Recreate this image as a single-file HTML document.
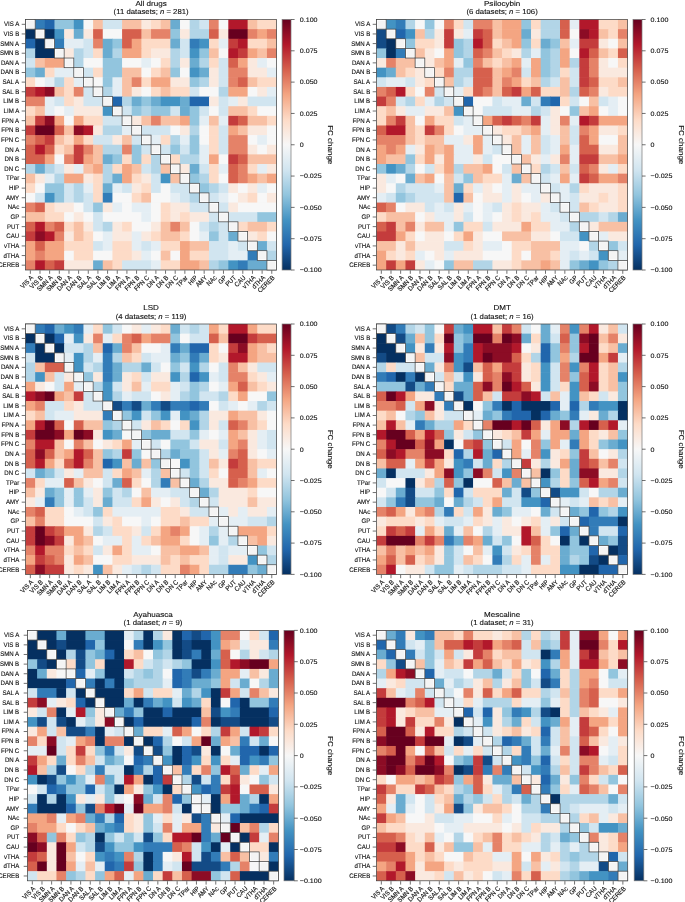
<!DOCTYPE html><html><head><meta charset="utf-8"><title>FC change</title><style>html,body{margin:0;padding:0;background:#fff}svg{display:block}text{text-rendering:geometricPrecision;font-family:"Liberation Sans","DejaVu Sans",sans-serif;fill:#111;stroke:#111;stroke-width:0.12px}.t{font-size:7.2px;text-anchor:middle}.u{font-size:7.2px;text-anchor:middle}.y{font-size:6.6px;text-anchor:end}.x{font-size:6.6px;text-anchor:end}.c{font-size:6.5px}.l{font-size:7.2px;text-anchor:middle}</style></head><body>
<svg width="685" height="902" viewBox="0 0 685 902">
<defs><linearGradient id="g" x1="0" y1="0" x2="0" y2="1">
<stop offset="0" stop-color="#67001f"/>
<stop offset="0.1" stop-color="#b2182b"/>
<stop offset="0.2" stop-color="#d6604d"/>
<stop offset="0.3" stop-color="#f4a582"/>
<stop offset="0.4" stop-color="#fddbc7"/>
<stop offset="0.5" stop-color="#f7f7f7"/>
<stop offset="0.6" stop-color="#d1e5f0"/>
<stop offset="0.7" stop-color="#92c5de"/>
<stop offset="0.8" stop-color="#4393c3"/>
<stop offset="0.9" stop-color="#2166ac"/>
<stop offset="1" stop-color="#053061"/>
</linearGradient></defs>
<rect width="685" height="902" fill="#fff"/>
<g>
<text class="t" transform="translate(151.1 5.9) scale(1.12 1)">All drugs</text>
<text class="u" transform="translate(151.1 14.2) scale(1.077 1)">(11 datasets; <tspan font-style="italic">n</tspan> = 281)</text>
<rect x="35.16" y="19.50" width="10.26" height="10.23" fill="#327cb8"/>
<rect x="44.82" y="19.50" width="10.26" height="10.23" fill="#2166ac"/>
<rect x="54.47" y="19.50" width="19.92" height="10.23" fill="#92c5de"/>
<rect x="73.79" y="19.50" width="10.26" height="10.23" fill="#4393c3"/>
<rect x="83.45" y="19.50" width="10.26" height="10.23" fill="#f7f7f7"/>
<rect x="93.10" y="19.50" width="10.26" height="10.23" fill="#f8c0a4"/>
<rect x="102.76" y="19.50" width="19.92" height="10.23" fill="#d1e5f0"/>
<rect x="122.08" y="19.50" width="19.92" height="10.23" fill="#f8c0a4"/>
<rect x="141.39" y="19.50" width="10.26" height="10.23" fill="#fae9df"/>
<rect x="151.05" y="19.50" width="10.26" height="10.23" fill="#fddbc7"/>
<rect x="160.71" y="19.50" width="10.26" height="10.23" fill="#f8c0a4"/>
<rect x="170.37" y="19.50" width="10.26" height="10.23" fill="#6aacd0"/>
<rect x="180.02" y="19.50" width="10.26" height="10.23" fill="#f7f7f7"/>
<rect x="189.68" y="19.50" width="10.26" height="10.23" fill="#b2d5e7"/>
<rect x="199.34" y="19.50" width="10.26" height="10.23" fill="#d1e5f0"/>
<rect x="209.00" y="19.50" width="10.26" height="10.23" fill="#e58268"/>
<rect x="218.65" y="19.50" width="10.26" height="10.23" fill="#f7f7f7"/>
<rect x="228.31" y="19.50" width="19.92" height="10.23" fill="#b2182b"/>
<rect x="247.63" y="19.50" width="10.26" height="10.23" fill="#f8c0a4"/>
<rect x="257.28" y="19.50" width="19.32" height="10.23" fill="#fddbc7"/>
<rect x="25.50" y="29.13" width="10.26" height="10.23" fill="#053061"/>
<rect x="44.82" y="29.13" width="10.26" height="10.23" fill="#053061"/>
<rect x="54.47" y="29.13" width="10.26" height="10.23" fill="#4393c3"/>
<rect x="64.13" y="29.13" width="10.26" height="10.23" fill="#fae9df"/>
<rect x="73.79" y="29.13" width="10.26" height="10.23" fill="#6aacd0"/>
<rect x="83.45" y="29.13" width="10.26" height="10.23" fill="#fae9df"/>
<rect x="93.10" y="29.13" width="10.26" height="10.23" fill="#d6604d"/>
<rect x="102.76" y="29.13" width="19.92" height="10.23" fill="#f7f7f7"/>
<rect x="122.08" y="29.13" width="19.92" height="10.23" fill="#d6604d"/>
<rect x="141.39" y="29.13" width="10.26" height="10.23" fill="#f8c0a4"/>
<rect x="151.05" y="29.13" width="19.92" height="10.23" fill="#e58268"/>
<rect x="170.37" y="29.13" width="10.26" height="10.23" fill="#92c5de"/>
<rect x="180.02" y="29.13" width="10.26" height="10.23" fill="#fae9df"/>
<rect x="189.68" y="29.13" width="19.92" height="10.23" fill="#b2d5e7"/>
<rect x="209.00" y="29.13" width="10.26" height="10.23" fill="#d6604d"/>
<rect x="218.65" y="29.13" width="10.26" height="10.23" fill="#fae9df"/>
<rect x="228.31" y="29.13" width="19.92" height="10.23" fill="#67001f"/>
<rect x="247.63" y="29.13" width="10.26" height="10.23" fill="#e58268"/>
<rect x="257.28" y="29.13" width="10.26" height="10.23" fill="#f4a582"/>
<rect x="266.94" y="29.13" width="9.66" height="10.23" fill="#e58268"/>
<rect x="25.50" y="38.77" width="10.26" height="10.23" fill="#2166ac"/>
<rect x="35.16" y="38.77" width="10.26" height="10.23" fill="#053061"/>
<rect x="54.47" y="38.77" width="10.26" height="10.23" fill="#327cb8"/>
<rect x="64.13" y="38.77" width="19.92" height="10.23" fill="#e4eef4"/>
<rect x="83.45" y="38.77" width="10.26" height="10.23" fill="#d1e5f0"/>
<rect x="93.10" y="38.77" width="10.26" height="10.23" fill="#e58268"/>
<rect x="102.76" y="38.77" width="10.26" height="10.23" fill="#6aacd0"/>
<rect x="112.42" y="38.77" width="10.26" height="10.23" fill="#92c5de"/>
<rect x="122.08" y="38.77" width="10.26" height="10.23" fill="#d6604d"/>
<rect x="131.73" y="38.77" width="10.26" height="10.23" fill="#f4a582"/>
<rect x="141.39" y="38.77" width="29.57" height="10.23" fill="#fddbc7"/>
<rect x="170.37" y="38.77" width="10.26" height="10.23" fill="#6aacd0"/>
<rect x="180.02" y="38.77" width="10.26" height="10.23" fill="#d1e5f0"/>
<rect x="189.68" y="38.77" width="10.26" height="10.23" fill="#327cb8"/>
<rect x="199.34" y="38.77" width="10.26" height="10.23" fill="#4393c3"/>
<rect x="209.00" y="38.77" width="10.26" height="10.23" fill="#fddbc7"/>
<rect x="218.65" y="38.77" width="10.26" height="10.23" fill="#e4eef4"/>
<rect x="228.31" y="38.77" width="10.26" height="10.23" fill="#c43c3c"/>
<rect x="237.97" y="38.77" width="10.26" height="10.23" fill="#b2182b"/>
<rect x="247.63" y="38.77" width="19.92" height="10.23" fill="#fddbc7"/>
<rect x="266.94" y="38.77" width="9.66" height="10.23" fill="#f8c0a4"/>
<rect x="25.50" y="48.40" width="10.26" height="10.23" fill="#b2d5e7"/>
<rect x="35.16" y="48.40" width="19.92" height="10.23" fill="#053061"/>
<rect x="64.13" y="48.40" width="10.26" height="10.23" fill="#fae9df"/>
<rect x="73.79" y="48.40" width="10.26" height="10.23" fill="#b2d5e7"/>
<rect x="83.45" y="48.40" width="10.26" height="10.23" fill="#d1e5f0"/>
<rect x="93.10" y="48.40" width="10.26" height="10.23" fill="#fddbc7"/>
<rect x="102.76" y="48.40" width="10.26" height="10.23" fill="#6aacd0"/>
<rect x="112.42" y="48.40" width="10.26" height="10.23" fill="#b2d5e7"/>
<rect x="122.08" y="48.40" width="19.92" height="10.23" fill="#f4a582"/>
<rect x="141.39" y="48.40" width="10.26" height="10.23" fill="#fddbc7"/>
<rect x="151.05" y="48.40" width="19.92" height="10.23" fill="#fae9df"/>
<rect x="170.37" y="48.40" width="10.26" height="10.23" fill="#b2d5e7"/>
<rect x="180.02" y="48.40" width="10.26" height="10.23" fill="#d1e5f0"/>
<rect x="189.68" y="48.40" width="10.26" height="10.23" fill="#4393c3"/>
<rect x="199.34" y="48.40" width="10.26" height="10.23" fill="#92c5de"/>
<rect x="209.00" y="48.40" width="10.26" height="10.23" fill="#f8c0a4"/>
<rect x="218.65" y="48.40" width="10.26" height="10.23" fill="#f7f7f7"/>
<rect x="228.31" y="48.40" width="10.26" height="10.23" fill="#b2182b"/>
<rect x="237.97" y="48.40" width="10.26" height="10.23" fill="#c43c3c"/>
<rect x="247.63" y="48.40" width="10.26" height="10.23" fill="#f4a582"/>
<rect x="257.28" y="48.40" width="10.26" height="10.23" fill="#f8c0a4"/>
<rect x="266.94" y="48.40" width="9.66" height="10.23" fill="#e58268"/>
<rect x="25.50" y="58.04" width="10.26" height="10.23" fill="#d1e5f0"/>
<rect x="35.16" y="58.04" width="10.26" height="10.23" fill="#f8c0a4"/>
<rect x="44.82" y="58.04" width="19.92" height="10.23" fill="#f4a582"/>
<rect x="73.79" y="58.04" width="10.26" height="10.23" fill="#b2d5e7"/>
<rect x="83.45" y="58.04" width="19.92" height="10.23" fill="#f7f7f7"/>
<rect x="102.76" y="58.04" width="19.92" height="10.23" fill="#92c5de"/>
<rect x="122.08" y="58.04" width="19.92" height="10.23" fill="#f7f7f7"/>
<rect x="141.39" y="58.04" width="10.26" height="10.23" fill="#e4eef4"/>
<rect x="151.05" y="58.04" width="10.26" height="10.23" fill="#f7f7f7"/>
<rect x="160.71" y="58.04" width="10.26" height="10.23" fill="#fddbc7"/>
<rect x="170.37" y="58.04" width="10.26" height="10.23" fill="#b2d5e7"/>
<rect x="180.02" y="58.04" width="10.26" height="10.23" fill="#fae9df"/>
<rect x="189.68" y="58.04" width="10.26" height="10.23" fill="#6aacd0"/>
<rect x="199.34" y="58.04" width="10.26" height="10.23" fill="#b2d5e7"/>
<rect x="209.00" y="58.04" width="10.26" height="10.23" fill="#fddbc7"/>
<rect x="218.65" y="58.04" width="10.26" height="10.23" fill="#d1e5f0"/>
<rect x="228.31" y="58.04" width="10.26" height="10.23" fill="#d6604d"/>
<rect x="237.97" y="58.04" width="10.26" height="10.23" fill="#f4a582"/>
<rect x="247.63" y="58.04" width="10.26" height="10.23" fill="#fae9df"/>
<rect x="257.28" y="58.04" width="10.26" height="10.23" fill="#e4eef4"/>
<rect x="266.94" y="58.04" width="9.66" height="10.23" fill="#f7f7f7"/>
<rect x="25.50" y="67.67" width="10.26" height="10.23" fill="#92c5de"/>
<rect x="35.16" y="67.67" width="10.26" height="10.23" fill="#6aacd0"/>
<rect x="44.82" y="67.67" width="10.26" height="10.23" fill="#fddbc7"/>
<rect x="54.47" y="67.67" width="19.92" height="10.23" fill="#e4eef4"/>
<rect x="83.45" y="67.67" width="10.26" height="10.23" fill="#d1e5f0"/>
<rect x="93.10" y="67.67" width="10.26" height="10.23" fill="#fddbc7"/>
<rect x="102.76" y="67.67" width="19.92" height="10.23" fill="#92c5de"/>
<rect x="122.08" y="67.67" width="19.92" height="10.23" fill="#f8c0a4"/>
<rect x="141.39" y="67.67" width="10.26" height="10.23" fill="#f7f7f7"/>
<rect x="151.05" y="67.67" width="10.26" height="10.23" fill="#fddbc7"/>
<rect x="160.71" y="67.67" width="10.26" height="10.23" fill="#f8c0a4"/>
<rect x="170.37" y="67.67" width="10.26" height="10.23" fill="#92c5de"/>
<rect x="180.02" y="67.67" width="10.26" height="10.23" fill="#f7f7f7"/>
<rect x="189.68" y="67.67" width="10.26" height="10.23" fill="#4393c3"/>
<rect x="199.34" y="67.67" width="10.26" height="10.23" fill="#6aacd0"/>
<rect x="209.00" y="67.67" width="10.26" height="10.23" fill="#fae9df"/>
<rect x="218.65" y="67.67" width="10.26" height="10.23" fill="#d1e5f0"/>
<rect x="228.31" y="67.67" width="19.92" height="10.23" fill="#e58268"/>
<rect x="247.63" y="67.67" width="19.92" height="10.23" fill="#fae9df"/>
<rect x="266.94" y="67.67" width="9.66" height="10.23" fill="#e4eef4"/>
<rect x="25.50" y="77.31" width="10.26" height="10.23" fill="#fddbc7"/>
<rect x="35.16" y="77.31" width="10.26" height="10.23" fill="#f7f7f7"/>
<rect x="44.82" y="77.31" width="10.26" height="10.23" fill="#e4eef4"/>
<rect x="54.47" y="77.31" width="10.26" height="10.23" fill="#b2d5e7"/>
<rect x="64.13" y="77.31" width="10.26" height="10.23" fill="#fddbc7"/>
<rect x="73.79" y="77.31" width="10.26" height="10.23" fill="#e4eef4"/>
<rect x="93.10" y="77.31" width="10.26" height="10.23" fill="#f7f7f7"/>
<rect x="102.76" y="77.31" width="10.26" height="10.23" fill="#92c5de"/>
<rect x="112.42" y="77.31" width="10.26" height="10.23" fill="#e4eef4"/>
<rect x="122.08" y="77.31" width="10.26" height="10.23" fill="#f8c0a4"/>
<rect x="131.73" y="77.31" width="10.26" height="10.23" fill="#e58268"/>
<rect x="141.39" y="77.31" width="10.26" height="10.23" fill="#fddbc7"/>
<rect x="151.05" y="77.31" width="19.92" height="10.23" fill="#f4a582"/>
<rect x="170.37" y="77.31" width="19.92" height="10.23" fill="#fae9df"/>
<rect x="189.68" y="77.31" width="10.26" height="10.23" fill="#92c5de"/>
<rect x="199.34" y="77.31" width="10.26" height="10.23" fill="#b2d5e7"/>
<rect x="209.00" y="77.31" width="10.26" height="10.23" fill="#fae9df"/>
<rect x="218.65" y="77.31" width="10.26" height="10.23" fill="#d1e5f0"/>
<rect x="228.31" y="77.31" width="10.26" height="10.23" fill="#e58268"/>
<rect x="237.97" y="77.31" width="10.26" height="10.23" fill="#d6604d"/>
<rect x="247.63" y="77.31" width="10.26" height="10.23" fill="#f8c0a4"/>
<rect x="257.28" y="77.31" width="19.32" height="10.23" fill="#fddbc7"/>
<rect x="25.50" y="86.94" width="10.26" height="10.23" fill="#c43c3c"/>
<rect x="35.16" y="86.94" width="10.26" height="10.23" fill="#b2182b"/>
<rect x="44.82" y="86.94" width="10.26" height="10.23" fill="#8c0c25"/>
<rect x="54.47" y="86.94" width="10.26" height="10.23" fill="#f8c0a4"/>
<rect x="64.13" y="86.94" width="10.26" height="10.23" fill="#fddbc7"/>
<rect x="73.79" y="86.94" width="10.26" height="10.23" fill="#e58268"/>
<rect x="83.45" y="86.94" width="10.26" height="10.23" fill="#d1e5f0"/>
<rect x="102.76" y="86.94" width="10.26" height="10.23" fill="#b2d5e7"/>
<rect x="112.42" y="86.94" width="10.26" height="10.23" fill="#e4eef4"/>
<rect x="122.08" y="86.94" width="10.26" height="10.23" fill="#f8c0a4"/>
<rect x="131.73" y="86.94" width="10.26" height="10.23" fill="#fae9df"/>
<rect x="141.39" y="86.94" width="10.26" height="10.23" fill="#f7f7f7"/>
<rect x="151.05" y="86.94" width="10.26" height="10.23" fill="#fddbc7"/>
<rect x="160.71" y="86.94" width="10.26" height="10.23" fill="#f8c0a4"/>
<rect x="170.37" y="86.94" width="19.92" height="10.23" fill="#fddbc7"/>
<rect x="189.68" y="86.94" width="10.26" height="10.23" fill="#d1e5f0"/>
<rect x="199.34" y="86.94" width="19.92" height="10.23" fill="#f7f7f7"/>
<rect x="218.65" y="86.94" width="10.26" height="10.23" fill="#b2d5e7"/>
<rect x="228.31" y="86.94" width="19.92" height="10.23" fill="#f4a582"/>
<rect x="247.63" y="86.94" width="10.26" height="10.23" fill="#f7f7f7"/>
<rect x="257.28" y="86.94" width="10.26" height="10.23" fill="#fae9df"/>
<rect x="266.94" y="86.94" width="9.66" height="10.23" fill="#e4eef4"/>
<rect x="25.50" y="96.58" width="19.92" height="10.23" fill="#e58268"/>
<rect x="44.82" y="96.58" width="10.26" height="10.23" fill="#e4eef4"/>
<rect x="54.47" y="96.58" width="10.26" height="10.23" fill="#d1e5f0"/>
<rect x="64.13" y="96.58" width="10.26" height="10.23" fill="#fddbc7"/>
<rect x="73.79" y="96.58" width="10.26" height="10.23" fill="#fae9df"/>
<rect x="83.45" y="96.58" width="19.92" height="10.23" fill="#d1e5f0"/>
<rect x="112.42" y="96.58" width="10.26" height="10.23" fill="#2166ac"/>
<rect x="122.08" y="96.58" width="10.26" height="10.23" fill="#b2d5e7"/>
<rect x="131.73" y="96.58" width="10.26" height="10.23" fill="#6aacd0"/>
<rect x="141.39" y="96.58" width="10.26" height="10.23" fill="#92c5de"/>
<rect x="151.05" y="96.58" width="10.26" height="10.23" fill="#6aacd0"/>
<rect x="160.71" y="96.58" width="19.92" height="10.23" fill="#4393c3"/>
<rect x="180.02" y="96.58" width="10.26" height="10.23" fill="#6aacd0"/>
<rect x="189.68" y="96.58" width="19.92" height="10.23" fill="#2166ac"/>
<rect x="209.00" y="96.58" width="10.26" height="10.23" fill="#fae9df"/>
<rect x="218.65" y="96.58" width="10.26" height="10.23" fill="#d1e5f0"/>
<rect x="228.31" y="96.58" width="10.26" height="10.23" fill="#e4eef4"/>
<rect x="237.97" y="96.58" width="10.26" height="10.23" fill="#fae9df"/>
<rect x="247.63" y="96.58" width="28.97" height="10.23" fill="#d1e5f0"/>
<rect x="25.50" y="106.21" width="10.26" height="10.23" fill="#fddbc7"/>
<rect x="35.16" y="106.21" width="10.26" height="10.23" fill="#f8c0a4"/>
<rect x="44.82" y="106.21" width="10.26" height="10.23" fill="#e4eef4"/>
<rect x="54.47" y="106.21" width="10.26" height="10.23" fill="#f7f7f7"/>
<rect x="64.13" y="106.21" width="10.26" height="10.23" fill="#e4eef4"/>
<rect x="73.79" y="106.21" width="29.57" height="10.23" fill="#fae9df"/>
<rect x="102.76" y="106.21" width="10.26" height="10.23" fill="#4393c3"/>
<rect x="122.08" y="106.21" width="10.26" height="10.23" fill="#d1e5f0"/>
<rect x="131.73" y="106.21" width="10.26" height="10.23" fill="#92c5de"/>
<rect x="141.39" y="106.21" width="10.26" height="10.23" fill="#b2d5e7"/>
<rect x="151.05" y="106.21" width="19.92" height="10.23" fill="#92c5de"/>
<rect x="170.37" y="106.21" width="10.26" height="10.23" fill="#d1e5f0"/>
<rect x="180.02" y="106.21" width="10.26" height="10.23" fill="#6aacd0"/>
<rect x="189.68" y="106.21" width="10.26" height="10.23" fill="#92c5de"/>
<rect x="199.34" y="106.21" width="10.26" height="10.23" fill="#d1e5f0"/>
<rect x="209.00" y="106.21" width="10.26" height="10.23" fill="#f7f7f7"/>
<rect x="218.65" y="106.21" width="10.26" height="10.23" fill="#d1e5f0"/>
<rect x="228.31" y="106.21" width="19.92" height="10.23" fill="#f8c0a4"/>
<rect x="247.63" y="106.21" width="10.26" height="10.23" fill="#fddbc7"/>
<rect x="257.28" y="106.21" width="19.32" height="10.23" fill="#f7f7f7"/>
<rect x="25.50" y="115.85" width="10.26" height="10.23" fill="#f8c0a4"/>
<rect x="35.16" y="115.85" width="10.26" height="10.23" fill="#c43c3c"/>
<rect x="44.82" y="115.85" width="10.26" height="10.23" fill="#8c0c25"/>
<rect x="54.47" y="115.85" width="10.26" height="10.23" fill="#f4a582"/>
<rect x="64.13" y="115.85" width="10.26" height="10.23" fill="#f7f7f7"/>
<rect x="73.79" y="115.85" width="10.26" height="10.23" fill="#f4a582"/>
<rect x="83.45" y="115.85" width="19.92" height="10.23" fill="#fddbc7"/>
<rect x="102.76" y="115.85" width="19.92" height="10.23" fill="#d1e5f0"/>
<rect x="131.73" y="115.85" width="10.26" height="10.23" fill="#fae9df"/>
<rect x="141.39" y="115.85" width="10.26" height="10.23" fill="#f8c0a4"/>
<rect x="151.05" y="115.85" width="10.26" height="10.23" fill="#e58268"/>
<rect x="160.71" y="115.85" width="19.92" height="10.23" fill="#f8c0a4"/>
<rect x="180.02" y="115.85" width="10.26" height="10.23" fill="#f4a582"/>
<rect x="189.68" y="115.85" width="10.26" height="10.23" fill="#92c5de"/>
<rect x="199.34" y="115.85" width="10.26" height="10.23" fill="#e4eef4"/>
<rect x="209.00" y="115.85" width="10.26" height="10.23" fill="#f8c0a4"/>
<rect x="218.65" y="115.85" width="10.26" height="10.23" fill="#e4eef4"/>
<rect x="228.31" y="115.85" width="10.26" height="10.23" fill="#c43c3c"/>
<rect x="237.97" y="115.85" width="10.26" height="10.23" fill="#d6604d"/>
<rect x="247.63" y="115.85" width="19.92" height="10.23" fill="#f8c0a4"/>
<rect x="266.94" y="115.85" width="9.66" height="10.23" fill="#fddbc7"/>
<rect x="25.50" y="125.48" width="10.26" height="10.23" fill="#c43c3c"/>
<rect x="35.16" y="125.48" width="19.92" height="10.23" fill="#67001f"/>
<rect x="54.47" y="125.48" width="10.26" height="10.23" fill="#d6604d"/>
<rect x="64.13" y="125.48" width="10.26" height="10.23" fill="#f8c0a4"/>
<rect x="73.79" y="125.48" width="10.26" height="10.23" fill="#8c0c25"/>
<rect x="83.45" y="125.48" width="10.26" height="10.23" fill="#b2182b"/>
<rect x="93.10" y="125.48" width="10.26" height="10.23" fill="#fae9df"/>
<rect x="102.76" y="125.48" width="19.92" height="10.23" fill="#b2d5e7"/>
<rect x="122.08" y="125.48" width="10.26" height="10.23" fill="#e4eef4"/>
<rect x="141.39" y="125.48" width="29.57" height="10.23" fill="#d1e5f0"/>
<rect x="170.37" y="125.48" width="10.26" height="10.23" fill="#f7f7f7"/>
<rect x="180.02" y="125.48" width="10.26" height="10.23" fill="#fae9df"/>
<rect x="189.68" y="125.48" width="10.26" height="10.23" fill="#b2d5e7"/>
<rect x="199.34" y="125.48" width="10.26" height="10.23" fill="#f7f7f7"/>
<rect x="209.00" y="125.48" width="10.26" height="10.23" fill="#fddbc7"/>
<rect x="218.65" y="125.48" width="10.26" height="10.23" fill="#d1e5f0"/>
<rect x="228.31" y="125.48" width="10.26" height="10.23" fill="#f4a582"/>
<rect x="237.97" y="125.48" width="10.26" height="10.23" fill="#f8c0a4"/>
<rect x="247.63" y="125.48" width="19.92" height="10.23" fill="#fae9df"/>
<rect x="266.94" y="125.48" width="9.66" height="10.23" fill="#f7f7f7"/>
<rect x="25.50" y="135.12" width="10.26" height="10.23" fill="#e58268"/>
<rect x="35.16" y="135.12" width="10.26" height="10.23" fill="#d6604d"/>
<rect x="44.82" y="135.12" width="10.26" height="10.23" fill="#c43c3c"/>
<rect x="54.47" y="135.12" width="10.26" height="10.23" fill="#f8c0a4"/>
<rect x="64.13" y="135.12" width="10.26" height="10.23" fill="#fddbc7"/>
<rect x="73.79" y="135.12" width="10.26" height="10.23" fill="#f4a582"/>
<rect x="83.45" y="135.12" width="10.26" height="10.23" fill="#fddbc7"/>
<rect x="93.10" y="135.12" width="19.92" height="10.23" fill="#d1e5f0"/>
<rect x="112.42" y="135.12" width="10.26" height="10.23" fill="#fae9df"/>
<rect x="122.08" y="135.12" width="10.26" height="10.23" fill="#f8c0a4"/>
<rect x="131.73" y="135.12" width="10.26" height="10.23" fill="#d1e5f0"/>
<rect x="151.05" y="135.12" width="10.26" height="10.23" fill="#e4eef4"/>
<rect x="160.71" y="135.12" width="10.26" height="10.23" fill="#fddbc7"/>
<rect x="170.37" y="135.12" width="10.26" height="10.23" fill="#b2d5e7"/>
<rect x="180.02" y="135.12" width="10.26" height="10.23" fill="#e4eef4"/>
<rect x="189.68" y="135.12" width="10.26" height="10.23" fill="#92c5de"/>
<rect x="199.34" y="135.12" width="10.26" height="10.23" fill="#f7f7f7"/>
<rect x="209.00" y="135.12" width="10.26" height="10.23" fill="#fddbc7"/>
<rect x="218.65" y="135.12" width="10.26" height="10.23" fill="#d1e5f0"/>
<rect x="228.31" y="135.12" width="19.92" height="10.23" fill="#e58268"/>
<rect x="247.63" y="135.12" width="10.26" height="10.23" fill="#f7f7f7"/>
<rect x="257.28" y="135.12" width="10.26" height="10.23" fill="#e4eef4"/>
<rect x="266.94" y="135.12" width="9.66" height="10.23" fill="#f7f7f7"/>
<rect x="25.50" y="144.75" width="10.26" height="10.23" fill="#d6604d"/>
<rect x="35.16" y="144.75" width="10.26" height="10.23" fill="#b2182b"/>
<rect x="44.82" y="144.75" width="10.26" height="10.23" fill="#d6604d"/>
<rect x="54.47" y="144.75" width="10.26" height="10.23" fill="#fddbc7"/>
<rect x="64.13" y="144.75" width="10.26" height="10.23" fill="#f8c0a4"/>
<rect x="73.79" y="144.75" width="10.26" height="10.23" fill="#c43c3c"/>
<rect x="83.45" y="144.75" width="10.26" height="10.23" fill="#e58268"/>
<rect x="93.10" y="144.75" width="10.26" height="10.23" fill="#f8c0a4"/>
<rect x="102.76" y="144.75" width="19.92" height="10.23" fill="#b2d5e7"/>
<rect x="122.08" y="144.75" width="10.26" height="10.23" fill="#e58268"/>
<rect x="131.73" y="144.75" width="10.26" height="10.23" fill="#92c5de"/>
<rect x="141.39" y="144.75" width="10.26" height="10.23" fill="#d1e5f0"/>
<rect x="160.71" y="144.75" width="10.26" height="10.23" fill="#d1e5f0"/>
<rect x="170.37" y="144.75" width="10.26" height="10.23" fill="#92c5de"/>
<rect x="180.02" y="144.75" width="10.26" height="10.23" fill="#d1e5f0"/>
<rect x="189.68" y="144.75" width="10.26" height="10.23" fill="#92c5de"/>
<rect x="199.34" y="144.75" width="10.26" height="10.23" fill="#e4eef4"/>
<rect x="209.00" y="144.75" width="10.26" height="10.23" fill="#fddbc7"/>
<rect x="218.65" y="144.75" width="10.26" height="10.23" fill="#d1e5f0"/>
<rect x="228.31" y="144.75" width="19.92" height="10.23" fill="#e58268"/>
<rect x="247.63" y="144.75" width="10.26" height="10.23" fill="#fae9df"/>
<rect x="257.28" y="144.75" width="10.26" height="10.23" fill="#f7f7f7"/>
<rect x="266.94" y="144.75" width="9.66" height="10.23" fill="#fae9df"/>
<rect x="25.50" y="154.38" width="19.92" height="10.23" fill="#d6604d"/>
<rect x="44.82" y="154.38" width="10.26" height="10.23" fill="#f4a582"/>
<rect x="54.47" y="154.38" width="10.26" height="10.23" fill="#f7f7f7"/>
<rect x="64.13" y="154.38" width="10.26" height="10.23" fill="#e58268"/>
<rect x="73.79" y="154.38" width="10.26" height="10.23" fill="#c43c3c"/>
<rect x="83.45" y="154.38" width="10.26" height="10.23" fill="#f4a582"/>
<rect x="93.10" y="154.38" width="10.26" height="10.23" fill="#f8c0a4"/>
<rect x="102.76" y="154.38" width="10.26" height="10.23" fill="#6aacd0"/>
<rect x="112.42" y="154.38" width="10.26" height="10.23" fill="#92c5de"/>
<rect x="122.08" y="154.38" width="10.26" height="10.23" fill="#fddbc7"/>
<rect x="131.73" y="154.38" width="10.26" height="10.23" fill="#92c5de"/>
<rect x="141.39" y="154.38" width="10.26" height="10.23" fill="#fddbc7"/>
<rect x="151.05" y="154.38" width="10.26" height="10.23" fill="#b2d5e7"/>
<rect x="170.37" y="154.38" width="10.26" height="10.23" fill="#fddbc7"/>
<rect x="180.02" y="154.38" width="19.92" height="10.23" fill="#b2d5e7"/>
<rect x="199.34" y="154.38" width="10.26" height="10.23" fill="#e4eef4"/>
<rect x="209.00" y="154.38" width="10.26" height="10.23" fill="#f4a582"/>
<rect x="218.65" y="154.38" width="10.26" height="10.23" fill="#f7f7f7"/>
<rect x="228.31" y="154.38" width="10.26" height="10.23" fill="#c43c3c"/>
<rect x="237.97" y="154.38" width="10.26" height="10.23" fill="#d6604d"/>
<rect x="247.63" y="154.38" width="28.97" height="10.23" fill="#f8c0a4"/>
<rect x="25.50" y="164.02" width="10.26" height="10.23" fill="#b2d5e7"/>
<rect x="35.16" y="164.02" width="10.26" height="10.23" fill="#6aacd0"/>
<rect x="44.82" y="164.02" width="10.26" height="10.23" fill="#b2d5e7"/>
<rect x="54.47" y="164.02" width="10.26" height="10.23" fill="#d1e5f0"/>
<rect x="64.13" y="164.02" width="10.26" height="10.23" fill="#fae9df"/>
<rect x="73.79" y="164.02" width="10.26" height="10.23" fill="#e4eef4"/>
<rect x="83.45" y="164.02" width="10.26" height="10.23" fill="#f8c0a4"/>
<rect x="93.10" y="164.02" width="10.26" height="10.23" fill="#f4a582"/>
<rect x="102.76" y="164.02" width="10.26" height="10.23" fill="#b2d5e7"/>
<rect x="112.42" y="164.02" width="10.26" height="10.23" fill="#fddbc7"/>
<rect x="122.08" y="164.02" width="10.26" height="10.23" fill="#f4a582"/>
<rect x="131.73" y="164.02" width="10.26" height="10.23" fill="#f8c0a4"/>
<rect x="141.39" y="164.02" width="10.26" height="10.23" fill="#d1e5f0"/>
<rect x="151.05" y="164.02" width="10.26" height="10.23" fill="#b2d5e7"/>
<rect x="160.71" y="164.02" width="10.26" height="10.23" fill="#f8c0a4"/>
<rect x="180.02" y="164.02" width="10.26" height="10.23" fill="#fae9df"/>
<rect x="189.68" y="164.02" width="10.26" height="10.23" fill="#6aacd0"/>
<rect x="199.34" y="164.02" width="10.26" height="10.23" fill="#d1e5f0"/>
<rect x="209.00" y="164.02" width="10.26" height="10.23" fill="#fddbc7"/>
<rect x="218.65" y="164.02" width="10.26" height="10.23" fill="#e4eef4"/>
<rect x="228.31" y="164.02" width="10.26" height="10.23" fill="#d6604d"/>
<rect x="237.97" y="164.02" width="10.26" height="10.23" fill="#e58268"/>
<rect x="247.63" y="164.02" width="10.26" height="10.23" fill="#fddbc7"/>
<rect x="257.28" y="164.02" width="10.26" height="10.23" fill="#e4eef4"/>
<rect x="266.94" y="164.02" width="9.66" height="10.23" fill="#fae9df"/>
<rect x="25.50" y="173.65" width="10.26" height="10.23" fill="#f8c0a4"/>
<rect x="35.16" y="173.65" width="10.26" height="10.23" fill="#fae9df"/>
<rect x="44.82" y="173.65" width="10.26" height="10.23" fill="#e4eef4"/>
<rect x="54.47" y="173.65" width="10.26" height="10.23" fill="#b2d5e7"/>
<rect x="64.13" y="173.65" width="19.92" height="10.23" fill="#f4a582"/>
<rect x="83.45" y="173.65" width="10.26" height="10.23" fill="#fae9df"/>
<rect x="93.10" y="173.65" width="10.26" height="10.23" fill="#fddbc7"/>
<rect x="102.76" y="173.65" width="10.26" height="10.23" fill="#b2d5e7"/>
<rect x="112.42" y="173.65" width="10.26" height="10.23" fill="#6aacd0"/>
<rect x="122.08" y="173.65" width="10.26" height="10.23" fill="#f4a582"/>
<rect x="131.73" y="173.65" width="10.26" height="10.23" fill="#fddbc7"/>
<rect x="141.39" y="173.65" width="10.26" height="10.23" fill="#fae9df"/>
<rect x="151.05" y="173.65" width="10.26" height="10.23" fill="#d1e5f0"/>
<rect x="160.71" y="173.65" width="10.26" height="10.23" fill="#4393c3"/>
<rect x="170.37" y="173.65" width="10.26" height="10.23" fill="#f8c0a4"/>
<rect x="189.68" y="173.65" width="10.26" height="10.23" fill="#92c5de"/>
<rect x="199.34" y="173.65" width="10.26" height="10.23" fill="#b2d5e7"/>
<rect x="209.00" y="173.65" width="10.26" height="10.23" fill="#fddbc7"/>
<rect x="218.65" y="173.65" width="10.26" height="10.23" fill="#f7f7f7"/>
<rect x="228.31" y="173.65" width="10.26" height="10.23" fill="#d6604d"/>
<rect x="237.97" y="173.65" width="10.26" height="10.23" fill="#e58268"/>
<rect x="247.63" y="173.65" width="10.26" height="10.23" fill="#f4a582"/>
<rect x="257.28" y="173.65" width="10.26" height="10.23" fill="#f8c0a4"/>
<rect x="266.94" y="173.65" width="9.66" height="10.23" fill="#f4a582"/>
<rect x="25.50" y="183.29" width="10.26" height="10.23" fill="#fddbc7"/>
<rect x="35.16" y="183.29" width="10.26" height="10.23" fill="#f7f7f7"/>
<rect x="44.82" y="183.29" width="19.92" height="10.23" fill="#92c5de"/>
<rect x="64.13" y="183.29" width="10.26" height="10.23" fill="#d1e5f0"/>
<rect x="73.79" y="183.29" width="10.26" height="10.23" fill="#b2d5e7"/>
<rect x="83.45" y="183.29" width="10.26" height="10.23" fill="#e4eef4"/>
<rect x="93.10" y="183.29" width="10.26" height="10.23" fill="#fddbc7"/>
<rect x="102.76" y="183.29" width="10.26" height="10.23" fill="#6aacd0"/>
<rect x="112.42" y="183.29" width="10.26" height="10.23" fill="#e4eef4"/>
<rect x="122.08" y="183.29" width="10.26" height="10.23" fill="#d1e5f0"/>
<rect x="131.73" y="183.29" width="10.26" height="10.23" fill="#fae9df"/>
<rect x="141.39" y="183.29" width="10.26" height="10.23" fill="#fddbc7"/>
<rect x="151.05" y="183.29" width="10.26" height="10.23" fill="#d1e5f0"/>
<rect x="160.71" y="183.29" width="10.26" height="10.23" fill="#f7f7f7"/>
<rect x="170.37" y="183.29" width="19.92" height="10.23" fill="#d1e5f0"/>
<rect x="199.34" y="183.29" width="10.26" height="10.23" fill="#92c5de"/>
<rect x="209.00" y="183.29" width="10.26" height="10.23" fill="#b2d5e7"/>
<rect x="218.65" y="183.29" width="10.26" height="10.23" fill="#d1e5f0"/>
<rect x="228.31" y="183.29" width="10.26" height="10.23" fill="#fae9df"/>
<rect x="237.97" y="183.29" width="10.26" height="10.23" fill="#f7f7f7"/>
<rect x="247.63" y="183.29" width="10.26" height="10.23" fill="#fae9df"/>
<rect x="257.28" y="183.29" width="10.26" height="10.23" fill="#e4eef4"/>
<rect x="266.94" y="183.29" width="9.66" height="10.23" fill="#f7f7f7"/>
<rect x="25.50" y="192.92" width="10.26" height="10.23" fill="#f7f7f7"/>
<rect x="35.16" y="192.92" width="10.26" height="10.23" fill="#d1e5f0"/>
<rect x="44.82" y="192.92" width="10.26" height="10.23" fill="#4393c3"/>
<rect x="54.47" y="192.92" width="10.26" height="10.23" fill="#92c5de"/>
<rect x="64.13" y="192.92" width="10.26" height="10.23" fill="#d1e5f0"/>
<rect x="73.79" y="192.92" width="10.26" height="10.23" fill="#b2d5e7"/>
<rect x="83.45" y="192.92" width="10.26" height="10.23" fill="#d1e5f0"/>
<rect x="93.10" y="192.92" width="10.26" height="10.23" fill="#fddbc7"/>
<rect x="102.76" y="192.92" width="10.26" height="10.23" fill="#327cb8"/>
<rect x="112.42" y="192.92" width="19.92" height="10.23" fill="#f7f7f7"/>
<rect x="131.73" y="192.92" width="10.26" height="10.23" fill="#fddbc7"/>
<rect x="141.39" y="192.92" width="10.26" height="10.23" fill="#f8c0a4"/>
<rect x="151.05" y="192.92" width="19.92" height="10.23" fill="#f7f7f7"/>
<rect x="170.37" y="192.92" width="10.26" height="10.23" fill="#e4eef4"/>
<rect x="180.02" y="192.92" width="10.26" height="10.23" fill="#d1e5f0"/>
<rect x="189.68" y="192.92" width="10.26" height="10.23" fill="#b2d5e7"/>
<rect x="209.00" y="192.92" width="10.26" height="10.23" fill="#d1e5f0"/>
<rect x="218.65" y="192.92" width="10.26" height="10.23" fill="#e4eef4"/>
<rect x="228.31" y="192.92" width="10.26" height="10.23" fill="#f7f7f7"/>
<rect x="237.97" y="192.92" width="10.26" height="10.23" fill="#fae9df"/>
<rect x="247.63" y="192.92" width="10.26" height="10.23" fill="#fddbc7"/>
<rect x="257.28" y="192.92" width="10.26" height="10.23" fill="#f7f7f7"/>
<rect x="266.94" y="192.92" width="9.66" height="10.23" fill="#fae9df"/>
<rect x="25.50" y="202.56" width="10.26" height="10.23" fill="#e58268"/>
<rect x="35.16" y="202.56" width="10.26" height="10.23" fill="#d6604d"/>
<rect x="44.82" y="202.56" width="10.26" height="10.23" fill="#fddbc7"/>
<rect x="54.47" y="202.56" width="19.92" height="10.23" fill="#fae9df"/>
<rect x="73.79" y="202.56" width="10.26" height="10.23" fill="#f7f7f7"/>
<rect x="83.45" y="202.56" width="10.26" height="10.23" fill="#d1e5f0"/>
<rect x="93.10" y="202.56" width="10.26" height="10.23" fill="#92c5de"/>
<rect x="102.76" y="202.56" width="10.26" height="10.23" fill="#fae9df"/>
<rect x="112.42" y="202.56" width="10.26" height="10.23" fill="#e4eef4"/>
<rect x="122.08" y="202.56" width="10.26" height="10.23" fill="#f7f7f7"/>
<rect x="131.73" y="202.56" width="19.92" height="10.23" fill="#e4eef4"/>
<rect x="151.05" y="202.56" width="10.26" height="10.23" fill="#f7f7f7"/>
<rect x="160.71" y="202.56" width="10.26" height="10.23" fill="#fddbc7"/>
<rect x="170.37" y="202.56" width="19.92" height="10.23" fill="#fae9df"/>
<rect x="189.68" y="202.56" width="19.92" height="10.23" fill="#d1e5f0"/>
<rect x="218.65" y="202.56" width="10.26" height="10.23" fill="#d1e5f0"/>
<rect x="228.31" y="202.56" width="10.26" height="10.23" fill="#fae9df"/>
<rect x="237.97" y="202.56" width="38.63" height="10.23" fill="#f7f7f7"/>
<rect x="25.50" y="212.19" width="19.92" height="10.23" fill="#f8c0a4"/>
<rect x="44.82" y="212.19" width="19.92" height="10.23" fill="#fddbc7"/>
<rect x="64.13" y="212.19" width="10.26" height="10.23" fill="#f7f7f7"/>
<rect x="73.79" y="212.19" width="10.26" height="10.23" fill="#fae9df"/>
<rect x="83.45" y="212.19" width="10.26" height="10.23" fill="#f7f7f7"/>
<rect x="93.10" y="212.19" width="10.26" height="10.23" fill="#d1e5f0"/>
<rect x="102.76" y="212.19" width="39.23" height="10.23" fill="#f7f7f7"/>
<rect x="141.39" y="212.19" width="10.26" height="10.23" fill="#e4eef4"/>
<rect x="151.05" y="212.19" width="10.26" height="10.23" fill="#f7f7f7"/>
<rect x="160.71" y="212.19" width="10.26" height="10.23" fill="#fddbc7"/>
<rect x="170.37" y="212.19" width="10.26" height="10.23" fill="#fae9df"/>
<rect x="180.02" y="212.19" width="10.26" height="10.23" fill="#fddbc7"/>
<rect x="189.68" y="212.19" width="19.92" height="10.23" fill="#fae9df"/>
<rect x="209.00" y="212.19" width="10.26" height="10.23" fill="#d1e5f0"/>
<rect x="228.31" y="212.19" width="29.57" height="10.23" fill="#d1e5f0"/>
<rect x="257.28" y="212.19" width="19.32" height="10.23" fill="#92c5de"/>
<rect x="25.50" y="221.83" width="10.26" height="10.23" fill="#d6604d"/>
<rect x="35.16" y="221.83" width="10.26" height="10.23" fill="#b2182b"/>
<rect x="44.82" y="221.83" width="10.26" height="10.23" fill="#e58268"/>
<rect x="54.47" y="221.83" width="10.26" height="10.23" fill="#d6604d"/>
<rect x="64.13" y="221.83" width="10.26" height="10.23" fill="#fddbc7"/>
<rect x="73.79" y="221.83" width="10.26" height="10.23" fill="#f8c0a4"/>
<rect x="83.45" y="221.83" width="10.26" height="10.23" fill="#fae9df"/>
<rect x="93.10" y="221.83" width="10.26" height="10.23" fill="#d1e5f0"/>
<rect x="102.76" y="221.83" width="10.26" height="10.23" fill="#b2d5e7"/>
<rect x="112.42" y="221.83" width="10.26" height="10.23" fill="#fae9df"/>
<rect x="122.08" y="221.83" width="10.26" height="10.23" fill="#fddbc7"/>
<rect x="131.73" y="221.83" width="19.92" height="10.23" fill="#f7f7f7"/>
<rect x="151.05" y="221.83" width="10.26" height="10.23" fill="#fae9df"/>
<rect x="160.71" y="221.83" width="10.26" height="10.23" fill="#f8c0a4"/>
<rect x="170.37" y="221.83" width="10.26" height="10.23" fill="#e58268"/>
<rect x="180.02" y="221.83" width="10.26" height="10.23" fill="#f8c0a4"/>
<rect x="189.68" y="221.83" width="10.26" height="10.23" fill="#f7f7f7"/>
<rect x="199.34" y="221.83" width="10.26" height="10.23" fill="#d1e5f0"/>
<rect x="209.00" y="221.83" width="10.26" height="10.23" fill="#b2d5e7"/>
<rect x="218.65" y="221.83" width="10.26" height="10.23" fill="#d1e5f0"/>
<rect x="237.97" y="221.83" width="10.26" height="10.23" fill="#fddbc7"/>
<rect x="247.63" y="221.83" width="19.92" height="10.23" fill="#f8c0a4"/>
<rect x="266.94" y="221.83" width="9.66" height="10.23" fill="#fddbc7"/>
<rect x="25.50" y="231.46" width="10.26" height="10.23" fill="#c43c3c"/>
<rect x="35.16" y="231.46" width="10.26" height="10.23" fill="#8c0c25"/>
<rect x="44.82" y="231.46" width="10.26" height="10.23" fill="#b2182b"/>
<rect x="54.47" y="231.46" width="10.26" height="10.23" fill="#e58268"/>
<rect x="64.13" y="231.46" width="10.26" height="10.23" fill="#fae9df"/>
<rect x="73.79" y="231.46" width="10.26" height="10.23" fill="#f8c0a4"/>
<rect x="83.45" y="231.46" width="10.26" height="10.23" fill="#fddbc7"/>
<rect x="93.10" y="231.46" width="10.26" height="10.23" fill="#f7f7f7"/>
<rect x="102.76" y="231.46" width="10.26" height="10.23" fill="#e4eef4"/>
<rect x="112.42" y="231.46" width="19.92" height="10.23" fill="#fae9df"/>
<rect x="131.73" y="231.46" width="10.26" height="10.23" fill="#e4eef4"/>
<rect x="141.39" y="231.46" width="10.26" height="10.23" fill="#fae9df"/>
<rect x="151.05" y="231.46" width="10.26" height="10.23" fill="#fddbc7"/>
<rect x="160.71" y="231.46" width="19.92" height="10.23" fill="#f8c0a4"/>
<rect x="180.02" y="231.46" width="10.26" height="10.23" fill="#fddbc7"/>
<rect x="189.68" y="231.46" width="10.26" height="10.23" fill="#f7f7f7"/>
<rect x="199.34" y="231.46" width="10.26" height="10.23" fill="#e4eef4"/>
<rect x="209.00" y="231.46" width="10.26" height="10.23" fill="#92c5de"/>
<rect x="218.65" y="231.46" width="10.26" height="10.23" fill="#d1e5f0"/>
<rect x="228.31" y="231.46" width="10.26" height="10.23" fill="#6aacd0"/>
<rect x="247.63" y="231.46" width="10.26" height="10.23" fill="#fae9df"/>
<rect x="257.28" y="231.46" width="10.26" height="10.23" fill="#fddbc7"/>
<rect x="266.94" y="231.46" width="9.66" height="10.23" fill="#f7f7f7"/>
<rect x="25.50" y="241.10" width="10.26" height="10.23" fill="#f4a582"/>
<rect x="35.16" y="241.10" width="10.26" height="10.23" fill="#d6604d"/>
<rect x="44.82" y="241.10" width="19.92" height="10.23" fill="#f4a582"/>
<rect x="64.13" y="241.10" width="29.57" height="10.23" fill="#fddbc7"/>
<rect x="93.10" y="241.10" width="10.26" height="10.23" fill="#d1e5f0"/>
<rect x="102.76" y="241.10" width="10.26" height="10.23" fill="#e4eef4"/>
<rect x="112.42" y="241.10" width="19.92" height="10.23" fill="#fddbc7"/>
<rect x="131.73" y="241.10" width="10.26" height="10.23" fill="#e4eef4"/>
<rect x="141.39" y="241.10" width="10.26" height="10.23" fill="#d1e5f0"/>
<rect x="151.05" y="241.10" width="10.26" height="10.23" fill="#e4eef4"/>
<rect x="160.71" y="241.10" width="19.92" height="10.23" fill="#fddbc7"/>
<rect x="180.02" y="241.10" width="10.26" height="10.23" fill="#f4a582"/>
<rect x="189.68" y="241.10" width="19.92" height="10.23" fill="#f8c0a4"/>
<rect x="209.00" y="241.10" width="19.92" height="10.23" fill="#d1e5f0"/>
<rect x="228.31" y="241.10" width="10.26" height="10.23" fill="#e4eef4"/>
<rect x="237.97" y="241.10" width="10.26" height="10.23" fill="#d1e5f0"/>
<rect x="257.28" y="241.10" width="10.26" height="10.23" fill="#6aacd0"/>
<rect x="266.94" y="241.10" width="9.66" height="10.23" fill="#d1e5f0"/>
<rect x="25.50" y="250.73" width="10.26" height="10.23" fill="#f4a582"/>
<rect x="35.16" y="250.73" width="10.26" height="10.23" fill="#e58268"/>
<rect x="44.82" y="250.73" width="19.92" height="10.23" fill="#f4a582"/>
<rect x="64.13" y="250.73" width="10.26" height="10.23" fill="#f7f7f7"/>
<rect x="73.79" y="250.73" width="19.92" height="10.23" fill="#fddbc7"/>
<rect x="93.10" y="250.73" width="19.92" height="10.23" fill="#f7f7f7"/>
<rect x="112.42" y="250.73" width="19.92" height="10.23" fill="#fddbc7"/>
<rect x="131.73" y="250.73" width="10.26" height="10.23" fill="#fae9df"/>
<rect x="141.39" y="250.73" width="10.26" height="10.23" fill="#e4eef4"/>
<rect x="151.05" y="250.73" width="10.26" height="10.23" fill="#f7f7f7"/>
<rect x="160.71" y="250.73" width="10.26" height="10.23" fill="#f8c0a4"/>
<rect x="170.37" y="250.73" width="10.26" height="10.23" fill="#f7f7f7"/>
<rect x="180.02" y="250.73" width="10.26" height="10.23" fill="#f4a582"/>
<rect x="189.68" y="250.73" width="19.92" height="10.23" fill="#fddbc7"/>
<rect x="209.00" y="250.73" width="19.92" height="10.23" fill="#d1e5f0"/>
<rect x="228.31" y="250.73" width="19.92" height="10.23" fill="#e4eef4"/>
<rect x="247.63" y="250.73" width="10.26" height="10.23" fill="#327cb8"/>
<rect x="266.94" y="250.73" width="9.66" height="10.23" fill="#b2d5e7"/>
<rect x="25.50" y="260.37" width="10.26" height="9.63" fill="#e58268"/>
<rect x="35.16" y="260.37" width="10.26" height="9.63" fill="#b2182b"/>
<rect x="44.82" y="260.37" width="10.26" height="9.63" fill="#d6604d"/>
<rect x="54.47" y="260.37" width="10.26" height="9.63" fill="#c43c3c"/>
<rect x="64.13" y="260.37" width="29.57" height="9.63" fill="#fae9df"/>
<rect x="93.10" y="260.37" width="10.26" height="9.63" fill="#6aacd0"/>
<rect x="102.76" y="260.37" width="10.26" height="9.63" fill="#f8c0a4"/>
<rect x="112.42" y="260.37" width="10.26" height="9.63" fill="#fddbc7"/>
<rect x="122.08" y="260.37" width="29.57" height="9.63" fill="#d1e5f0"/>
<rect x="151.05" y="260.37" width="10.26" height="9.63" fill="#e4eef4"/>
<rect x="160.71" y="260.37" width="19.92" height="9.63" fill="#fddbc7"/>
<rect x="180.02" y="260.37" width="19.92" height="9.63" fill="#f4a582"/>
<rect x="199.34" y="260.37" width="10.26" height="9.63" fill="#f8c0a4"/>
<rect x="209.00" y="260.37" width="10.26" height="9.63" fill="#b2d5e7"/>
<rect x="218.65" y="260.37" width="10.26" height="9.63" fill="#92c5de"/>
<rect x="228.31" y="260.37" width="10.26" height="9.63" fill="#4393c3"/>
<rect x="237.97" y="260.37" width="10.26" height="9.63" fill="#327cb8"/>
<rect x="247.63" y="260.37" width="19.92" height="9.63" fill="#6aacd0"/>
<rect x="25.50" y="19.50" width="251.10" height="250.50" fill="none" stroke="#3a3a3a" stroke-width="0.7"/>
<rect x="25.50" y="19.50" width="9.66" height="9.63" fill="#fff" stroke="#444" stroke-width="0.75"/>
<rect x="26.65" y="20.65" width="7.36" height="7.33" fill="#f4f4f4"/>
<rect x="35.16" y="29.13" width="9.66" height="9.63" fill="#fff" stroke="#444" stroke-width="0.75"/>
<rect x="36.31" y="30.28" width="7.36" height="7.33" fill="#f4f4f4"/>
<rect x="44.82" y="38.77" width="9.66" height="9.63" fill="#fff" stroke="#444" stroke-width="0.75"/>
<rect x="45.97" y="39.92" width="7.36" height="7.33" fill="#f4f4f4"/>
<rect x="54.47" y="48.40" width="9.66" height="9.63" fill="#fff" stroke="#444" stroke-width="0.75"/>
<rect x="55.62" y="49.55" width="7.36" height="7.33" fill="#f4f4f4"/>
<rect x="64.13" y="58.04" width="9.66" height="9.63" fill="#fff" stroke="#444" stroke-width="0.75"/>
<rect x="65.28" y="59.19" width="7.36" height="7.33" fill="#f4f4f4"/>
<rect x="73.79" y="67.67" width="9.66" height="9.63" fill="#fff" stroke="#444" stroke-width="0.75"/>
<rect x="74.94" y="68.82" width="7.36" height="7.33" fill="#f4f4f4"/>
<rect x="83.45" y="77.31" width="9.66" height="9.63" fill="#fff" stroke="#444" stroke-width="0.75"/>
<rect x="84.60" y="78.46" width="7.36" height="7.33" fill="#f4f4f4"/>
<rect x="93.10" y="86.94" width="9.66" height="9.63" fill="#fff" stroke="#444" stroke-width="0.75"/>
<rect x="94.25" y="88.09" width="7.36" height="7.33" fill="#f4f4f4"/>
<rect x="102.76" y="96.58" width="9.66" height="9.63" fill="#fff" stroke="#444" stroke-width="0.75"/>
<rect x="103.91" y="97.73" width="7.36" height="7.33" fill="#f4f4f4"/>
<rect x="112.42" y="106.21" width="9.66" height="9.63" fill="#fff" stroke="#444" stroke-width="0.75"/>
<rect x="113.57" y="107.36" width="7.36" height="7.33" fill="#f4f4f4"/>
<rect x="122.08" y="115.85" width="9.66" height="9.63" fill="#fff" stroke="#444" stroke-width="0.75"/>
<rect x="123.23" y="117.00" width="7.36" height="7.33" fill="#f4f4f4"/>
<rect x="131.73" y="125.48" width="9.66" height="9.63" fill="#fff" stroke="#444" stroke-width="0.75"/>
<rect x="132.88" y="126.63" width="7.36" height="7.33" fill="#f4f4f4"/>
<rect x="141.39" y="135.12" width="9.66" height="9.63" fill="#fff" stroke="#444" stroke-width="0.75"/>
<rect x="142.54" y="136.27" width="7.36" height="7.33" fill="#f4f4f4"/>
<rect x="151.05" y="144.75" width="9.66" height="9.63" fill="#fff" stroke="#444" stroke-width="0.75"/>
<rect x="152.20" y="145.90" width="7.36" height="7.33" fill="#f4f4f4"/>
<rect x="160.71" y="154.38" width="9.66" height="9.63" fill="#fff" stroke="#444" stroke-width="0.75"/>
<rect x="161.86" y="155.53" width="7.36" height="7.33" fill="#f4f4f4"/>
<rect x="170.37" y="164.02" width="9.66" height="9.63" fill="#fff" stroke="#444" stroke-width="0.75"/>
<rect x="171.52" y="165.17" width="7.36" height="7.33" fill="#f4f4f4"/>
<rect x="180.02" y="173.65" width="9.66" height="9.63" fill="#fff" stroke="#444" stroke-width="0.75"/>
<rect x="181.17" y="174.80" width="7.36" height="7.33" fill="#f4f4f4"/>
<rect x="189.68" y="183.29" width="9.66" height="9.63" fill="#fff" stroke="#444" stroke-width="0.75"/>
<rect x="190.83" y="184.44" width="7.36" height="7.33" fill="#f4f4f4"/>
<rect x="199.34" y="192.92" width="9.66" height="9.63" fill="#fff" stroke="#444" stroke-width="0.75"/>
<rect x="200.49" y="194.07" width="7.36" height="7.33" fill="#f4f4f4"/>
<rect x="209.00" y="202.56" width="9.66" height="9.63" fill="#fff" stroke="#444" stroke-width="0.75"/>
<rect x="210.15" y="203.71" width="7.36" height="7.33" fill="#f4f4f4"/>
<rect x="218.65" y="212.19" width="9.66" height="9.63" fill="#fff" stroke="#444" stroke-width="0.75"/>
<rect x="219.80" y="213.34" width="7.36" height="7.33" fill="#f4f4f4"/>
<rect x="228.31" y="221.83" width="9.66" height="9.63" fill="#fff" stroke="#444" stroke-width="0.75"/>
<rect x="229.46" y="222.98" width="7.36" height="7.33" fill="#f4f4f4"/>
<rect x="237.97" y="231.46" width="9.66" height="9.63" fill="#fff" stroke="#444" stroke-width="0.75"/>
<rect x="239.12" y="232.61" width="7.36" height="7.33" fill="#f4f4f4"/>
<rect x="247.63" y="241.10" width="9.66" height="9.63" fill="#fff" stroke="#444" stroke-width="0.75"/>
<rect x="248.78" y="242.25" width="7.36" height="7.33" fill="#f4f4f4"/>
<rect x="257.28" y="250.73" width="9.66" height="9.63" fill="#fff" stroke="#444" stroke-width="0.75"/>
<rect x="258.43" y="251.88" width="7.36" height="7.33" fill="#f4f4f4"/>
<rect x="266.94" y="260.37" width="9.66" height="9.63" fill="#fff" stroke="#444" stroke-width="0.75"/>
<rect x="268.09" y="261.52" width="7.36" height="7.33" fill="#f4f4f4"/>
<text class="y" transform="translate(19.2 26.27) scale(.925 1)">VIS A</text>
<text class="x" transform="translate(33.73 278.20) rotate(-45) scale(.925 1)">VIS A</text>
<text class="y" transform="translate(19.2 35.90) scale(.925 1)">VIS B</text>
<text class="x" transform="translate(43.39 278.20) rotate(-45) scale(.925 1)">VIS B</text>
<text class="y" transform="translate(19.2 45.54) scale(.925 1)">SMN A</text>
<text class="x" transform="translate(53.04 278.20) rotate(-45) scale(.925 1)">SMN A</text>
<text class="y" transform="translate(19.2 55.17) scale(.925 1)">SMN B</text>
<text class="x" transform="translate(62.70 278.20) rotate(-45) scale(.925 1)">SMN B</text>
<text class="y" transform="translate(19.2 64.81) scale(.925 1)">DAN A</text>
<text class="x" transform="translate(72.36 278.20) rotate(-45) scale(.925 1)">DAN A</text>
<text class="y" transform="translate(19.2 74.44) scale(.925 1)">DAN B</text>
<text class="x" transform="translate(82.02 278.20) rotate(-45) scale(.925 1)">DAN B</text>
<text class="y" transform="translate(19.2 84.08) scale(.925 1)">SAL A</text>
<text class="x" transform="translate(91.68 278.20) rotate(-45) scale(.925 1)">SAL A</text>
<text class="y" transform="translate(19.2 93.71) scale(.925 1)">SAL B</text>
<text class="x" transform="translate(101.33 278.20) rotate(-45) scale(.925 1)">SAL B</text>
<text class="y" transform="translate(19.2 103.34) scale(.925 1)">LIM B</text>
<text class="x" transform="translate(110.99 278.20) rotate(-45) scale(.925 1)">LIM B</text>
<text class="y" transform="translate(19.2 112.98) scale(.925 1)">LIM A</text>
<text class="x" transform="translate(120.65 278.20) rotate(-45) scale(.925 1)">LIM A</text>
<text class="y" transform="translate(19.2 122.61) scale(.925 1)">FPN A</text>
<text class="x" transform="translate(130.31 278.20) rotate(-45) scale(.925 1)">FPN A</text>
<text class="y" transform="translate(19.2 132.25) scale(.925 1)">FPN B</text>
<text class="x" transform="translate(139.96 278.20) rotate(-45) scale(.925 1)">FPN B</text>
<text class="y" transform="translate(19.2 141.88) scale(.925 1)">FPN C</text>
<text class="x" transform="translate(149.62 278.20) rotate(-45) scale(.925 1)">FPN C</text>
<text class="y" transform="translate(19.2 151.52) scale(.925 1)">DN A</text>
<text class="x" transform="translate(159.28 278.20) rotate(-45) scale(.925 1)">DN A</text>
<text class="y" transform="translate(19.2 161.15) scale(.925 1)">DN B</text>
<text class="x" transform="translate(168.94 278.20) rotate(-45) scale(.925 1)">DN B</text>
<text class="y" transform="translate(19.2 170.79) scale(.925 1)">DN C</text>
<text class="x" transform="translate(178.59 278.20) rotate(-45) scale(.925 1)">DN C</text>
<text class="y" transform="translate(19.2 180.42) scale(.925 1)">TPar</text>
<text class="x" transform="translate(188.25 278.20) rotate(-45) scale(.925 1)">TPar</text>
<text class="y" transform="translate(19.2 190.06) scale(.925 1)">HIP</text>
<text class="x" transform="translate(197.91 278.20) rotate(-45) scale(.925 1)">HIP</text>
<text class="y" transform="translate(19.2 199.69) scale(.925 1)">AMY</text>
<text class="x" transform="translate(207.57 278.20) rotate(-45) scale(.925 1)">AMY</text>
<text class="y" transform="translate(19.2 209.32) scale(.925 1)">NAc</text>
<text class="x" transform="translate(217.23 278.20) rotate(-45) scale(.925 1)">NAc</text>
<text class="y" transform="translate(19.2 218.96) scale(.925 1)">GP</text>
<text class="x" transform="translate(226.88 278.20) rotate(-45) scale(.925 1)">GP</text>
<text class="y" transform="translate(19.2 228.59) scale(.925 1)">PUT</text>
<text class="x" transform="translate(236.54 278.20) rotate(-45) scale(.925 1)">PUT</text>
<text class="y" transform="translate(19.2 238.23) scale(.925 1)">CAU</text>
<text class="x" transform="translate(246.20 278.20) rotate(-45) scale(.925 1)">CAU</text>
<text class="y" transform="translate(19.2 247.86) scale(.925 1)">vTHA</text>
<text class="x" transform="translate(255.86 278.20) rotate(-45) scale(.925 1)">vTHA</text>
<text class="y" transform="translate(19.2 257.50) scale(.925 1)">dTHA</text>
<text class="x" transform="translate(265.51 278.20) rotate(-45) scale(.925 1)">dTHA</text>
<text class="y" transform="translate(19.2 267.13) scale(.925 1)">CEREB</text>
<text class="x" transform="translate(275.17 278.20) rotate(-45) scale(.925 1)">CEREB</text>
<path d="M25.10 24.32h-3.4M30.33 270.40v3.4M25.10 33.95h-3.4M39.99 270.40v3.4M25.10 43.59h-3.4M49.64 270.40v3.4M25.10 53.22h-3.4M59.30 270.40v3.4M25.10 62.86h-3.4M68.96 270.40v3.4M25.10 72.49h-3.4M78.62 270.40v3.4M25.10 82.12h-3.4M88.28 270.40v3.4M25.10 91.76h-3.4M97.93 270.40v3.4M25.10 101.39h-3.4M107.59 270.40v3.4M25.10 111.03h-3.4M117.25 270.40v3.4M25.10 120.66h-3.4M126.91 270.40v3.4M25.10 130.30h-3.4M136.56 270.40v3.4M25.10 139.93h-3.4M146.22 270.40v3.4M25.10 149.57h-3.4M155.88 270.40v3.4M25.10 159.20h-3.4M165.54 270.40v3.4M25.10 168.84h-3.4M175.19 270.40v3.4M25.10 178.47h-3.4M184.85 270.40v3.4M25.10 188.11h-3.4M194.51 270.40v3.4M25.10 197.74h-3.4M204.17 270.40v3.4M25.10 207.38h-3.4M213.83 270.40v3.4M25.10 217.01h-3.4M223.48 270.40v3.4M25.10 226.64h-3.4M233.14 270.40v3.4M25.10 236.28h-3.4M242.80 270.40v3.4M25.10 245.91h-3.4M252.46 270.40v3.4M25.10 255.55h-3.4M262.11 270.40v3.4M25.10 265.18h-3.4M271.77 270.40v3.4" stroke="#333" stroke-width="0.7" fill="none"/>
<rect x="282.10" y="19.50" width="8.90" height="250.50" fill="url(#g)" stroke="#777" stroke-width="0.7"/>
<text class="c" transform="translate(299.8 21.85) scale(1.09 1)">0.100</text>
<text class="c" transform="translate(299.8 53.16) scale(1.09 1)">0.075</text>
<text class="c" transform="translate(299.8 84.47) scale(1.09 1)">0.050</text>
<text class="c" transform="translate(299.8 115.79) scale(1.09 1)">0.025</text>
<text class="c" transform="translate(299.8 147.10) scale(1.09 1)">0</text>
<text class="c" transform="translate(299.8 178.41) scale(1.09 1)">−0.025</text>
<text class="c" transform="translate(299.8 209.72) scale(1.09 1)">−0.050</text>
<text class="c" transform="translate(299.8 241.04) scale(1.09 1)">−0.075</text>
<text class="c" transform="translate(299.8 272.35) scale(1.09 1)">−0.100</text>
<path d="M291.00 19.50h3.6M291.00 50.81h3.6M291.00 82.12h3.6M291.00 113.44h3.6M291.00 144.75h3.6M291.00 176.06h3.6M291.00 207.38h3.6M291.00 238.69h3.6M291.00 270.00h3.6" stroke="#333" stroke-width="0.7" fill="none"/>
<text class="l" transform="translate(327.90 144.75) rotate(90) scale(1.11 1)">FC change</text>
</g>
<g>
<text class="t" transform="translate(502.1 5.9) scale(1.12 1)">Psilocybin</text>
<text class="u" transform="translate(502.1 14.2) scale(1.077 1)">(6 datasets; <tspan font-style="italic">n</tspan> = 106)</text>
<rect x="386.16" y="19.50" width="10.26" height="10.23" fill="#4393c3"/>
<rect x="395.82" y="19.50" width="10.26" height="10.23" fill="#327cb8"/>
<rect x="405.47" y="19.50" width="10.26" height="10.23" fill="#b2d5e7"/>
<rect x="415.13" y="19.50" width="10.26" height="10.23" fill="#f7f7f7"/>
<rect x="424.79" y="19.50" width="10.26" height="10.23" fill="#92c5de"/>
<rect x="434.45" y="19.50" width="10.26" height="10.23" fill="#f7f7f7"/>
<rect x="444.10" y="19.50" width="10.26" height="10.23" fill="#e58268"/>
<rect x="453.76" y="19.50" width="10.26" height="10.23" fill="#fddbc7"/>
<rect x="463.42" y="19.50" width="10.26" height="10.23" fill="#d1e5f0"/>
<rect x="473.08" y="19.50" width="19.92" height="10.23" fill="#e58268"/>
<rect x="492.39" y="19.50" width="10.26" height="10.23" fill="#f8c0a4"/>
<rect x="502.05" y="19.50" width="19.92" height="10.23" fill="#f4a582"/>
<rect x="521.37" y="19.50" width="10.26" height="10.23" fill="#92c5de"/>
<rect x="531.02" y="19.50" width="10.26" height="10.23" fill="#fddbc7"/>
<rect x="540.68" y="19.50" width="19.92" height="10.23" fill="#b2d5e7"/>
<rect x="560.00" y="19.50" width="10.26" height="10.23" fill="#d6604d"/>
<rect x="569.65" y="19.50" width="10.26" height="10.23" fill="#e4eef4"/>
<rect x="579.31" y="19.50" width="19.92" height="10.23" fill="#b2182b"/>
<rect x="598.63" y="19.50" width="19.92" height="10.23" fill="#fddbc7"/>
<rect x="617.94" y="19.50" width="9.66" height="10.23" fill="#f8c0a4"/>
<rect x="376.50" y="29.13" width="10.26" height="10.23" fill="#134b86"/>
<rect x="395.82" y="29.13" width="10.26" height="10.23" fill="#2166ac"/>
<rect x="405.47" y="29.13" width="10.26" height="10.23" fill="#4393c3"/>
<rect x="415.13" y="29.13" width="10.26" height="10.23" fill="#f8c0a4"/>
<rect x="424.79" y="29.13" width="10.26" height="10.23" fill="#b2d5e7"/>
<rect x="434.45" y="29.13" width="10.26" height="10.23" fill="#fae9df"/>
<rect x="444.10" y="29.13" width="10.26" height="10.23" fill="#c43c3c"/>
<rect x="453.76" y="29.13" width="10.26" height="10.23" fill="#fae9df"/>
<rect x="463.42" y="29.13" width="10.26" height="10.23" fill="#e4eef4"/>
<rect x="473.08" y="29.13" width="10.26" height="10.23" fill="#c43c3c"/>
<rect x="482.73" y="29.13" width="10.26" height="10.23" fill="#d6604d"/>
<rect x="492.39" y="29.13" width="10.26" height="10.23" fill="#f8c0a4"/>
<rect x="502.05" y="29.13" width="19.92" height="10.23" fill="#f4a582"/>
<rect x="521.37" y="29.13" width="10.26" height="10.23" fill="#6aacd0"/>
<rect x="531.02" y="29.13" width="10.26" height="10.23" fill="#fae9df"/>
<rect x="540.68" y="29.13" width="19.92" height="10.23" fill="#b2d5e7"/>
<rect x="560.00" y="29.13" width="10.26" height="10.23" fill="#d6604d"/>
<rect x="569.65" y="29.13" width="10.26" height="10.23" fill="#f7f7f7"/>
<rect x="579.31" y="29.13" width="10.26" height="10.23" fill="#8c0c25"/>
<rect x="588.97" y="29.13" width="10.26" height="10.23" fill="#b2182b"/>
<rect x="598.63" y="29.13" width="10.26" height="10.23" fill="#f8c0a4"/>
<rect x="608.28" y="29.13" width="10.26" height="10.23" fill="#fddbc7"/>
<rect x="617.94" y="29.13" width="9.66" height="10.23" fill="#e58268"/>
<rect x="376.50" y="38.77" width="10.26" height="10.23" fill="#134b86"/>
<rect x="386.16" y="38.77" width="10.26" height="10.23" fill="#053061"/>
<rect x="405.47" y="38.77" width="10.26" height="10.23" fill="#92c5de"/>
<rect x="415.13" y="38.77" width="19.92" height="10.23" fill="#fddbc7"/>
<rect x="434.45" y="38.77" width="10.26" height="10.23" fill="#fae9df"/>
<rect x="444.10" y="38.77" width="10.26" height="10.23" fill="#c43c3c"/>
<rect x="453.76" y="38.77" width="10.26" height="10.23" fill="#92c5de"/>
<rect x="463.42" y="38.77" width="10.26" height="10.23" fill="#b2d5e7"/>
<rect x="473.08" y="38.77" width="10.26" height="10.23" fill="#b2182b"/>
<rect x="482.73" y="38.77" width="10.26" height="10.23" fill="#d6604d"/>
<rect x="492.39" y="38.77" width="10.26" height="10.23" fill="#fddbc7"/>
<rect x="502.05" y="38.77" width="10.26" height="10.23" fill="#f8c0a4"/>
<rect x="511.71" y="38.77" width="10.26" height="10.23" fill="#f4a582"/>
<rect x="521.37" y="38.77" width="10.26" height="10.23" fill="#92c5de"/>
<rect x="531.02" y="38.77" width="10.26" height="10.23" fill="#fddbc7"/>
<rect x="540.68" y="38.77" width="10.26" height="10.23" fill="#6aacd0"/>
<rect x="550.34" y="38.77" width="10.26" height="10.23" fill="#92c5de"/>
<rect x="560.00" y="38.77" width="10.26" height="10.23" fill="#f8c0a4"/>
<rect x="569.65" y="38.77" width="10.26" height="10.23" fill="#e4eef4"/>
<rect x="579.31" y="38.77" width="19.92" height="10.23" fill="#c43c3c"/>
<rect x="598.63" y="38.77" width="10.26" height="10.23" fill="#fae9df"/>
<rect x="608.28" y="38.77" width="10.26" height="10.23" fill="#f7f7f7"/>
<rect x="617.94" y="38.77" width="9.66" height="10.23" fill="#f8c0a4"/>
<rect x="376.50" y="48.40" width="10.26" height="10.23" fill="#92c5de"/>
<rect x="386.16" y="48.40" width="10.26" height="10.23" fill="#053061"/>
<rect x="395.82" y="48.40" width="10.26" height="10.23" fill="#327cb8"/>
<rect x="415.13" y="48.40" width="10.26" height="10.23" fill="#f8c0a4"/>
<rect x="424.79" y="48.40" width="10.26" height="10.23" fill="#fae9df"/>
<rect x="434.45" y="48.40" width="10.26" height="10.23" fill="#f7f7f7"/>
<rect x="444.10" y="48.40" width="10.26" height="10.23" fill="#f4a582"/>
<rect x="453.76" y="48.40" width="10.26" height="10.23" fill="#92c5de"/>
<rect x="463.42" y="48.40" width="10.26" height="10.23" fill="#b2d5e7"/>
<rect x="473.08" y="48.40" width="10.26" height="10.23" fill="#d6604d"/>
<rect x="482.73" y="48.40" width="10.26" height="10.23" fill="#e58268"/>
<rect x="492.39" y="48.40" width="10.26" height="10.23" fill="#f8c0a4"/>
<rect x="502.05" y="48.40" width="10.26" height="10.23" fill="#fddbc7"/>
<rect x="511.71" y="48.40" width="10.26" height="10.23" fill="#fae9df"/>
<rect x="521.37" y="48.40" width="10.26" height="10.23" fill="#b2d5e7"/>
<rect x="531.02" y="48.40" width="10.26" height="10.23" fill="#e4eef4"/>
<rect x="540.68" y="48.40" width="10.26" height="10.23" fill="#92c5de"/>
<rect x="550.34" y="48.40" width="10.26" height="10.23" fill="#b2d5e7"/>
<rect x="560.00" y="48.40" width="10.26" height="10.23" fill="#f4a582"/>
<rect x="569.65" y="48.40" width="10.26" height="10.23" fill="#f7f7f7"/>
<rect x="579.31" y="48.40" width="10.26" height="10.23" fill="#b2182b"/>
<rect x="588.97" y="48.40" width="10.26" height="10.23" fill="#d6604d"/>
<rect x="598.63" y="48.40" width="10.26" height="10.23" fill="#f8c0a4"/>
<rect x="608.28" y="48.40" width="10.26" height="10.23" fill="#fddbc7"/>
<rect x="617.94" y="48.40" width="9.66" height="10.23" fill="#d6604d"/>
<rect x="376.50" y="58.04" width="10.26" height="10.23" fill="#fae9df"/>
<rect x="386.16" y="58.04" width="10.26" height="10.23" fill="#e58268"/>
<rect x="395.82" y="58.04" width="19.92" height="10.23" fill="#f8c0a4"/>
<rect x="424.79" y="58.04" width="10.26" height="10.23" fill="#fae9df"/>
<rect x="434.45" y="58.04" width="10.26" height="10.23" fill="#f8c0a4"/>
<rect x="444.10" y="58.04" width="10.26" height="10.23" fill="#f4a582"/>
<rect x="453.76" y="58.04" width="10.26" height="10.23" fill="#e4eef4"/>
<rect x="463.42" y="58.04" width="10.26" height="10.23" fill="#92c5de"/>
<rect x="473.08" y="58.04" width="10.26" height="10.23" fill="#e58268"/>
<rect x="482.73" y="58.04" width="10.26" height="10.23" fill="#f8c0a4"/>
<rect x="492.39" y="58.04" width="10.26" height="10.23" fill="#fddbc7"/>
<rect x="502.05" y="58.04" width="10.26" height="10.23" fill="#f8c0a4"/>
<rect x="511.71" y="58.04" width="10.26" height="10.23" fill="#f4a582"/>
<rect x="521.37" y="58.04" width="10.26" height="10.23" fill="#e4eef4"/>
<rect x="531.02" y="58.04" width="10.26" height="10.23" fill="#f4a582"/>
<rect x="540.68" y="58.04" width="10.26" height="10.23" fill="#92c5de"/>
<rect x="550.34" y="58.04" width="10.26" height="10.23" fill="#b2d5e7"/>
<rect x="560.00" y="58.04" width="10.26" height="10.23" fill="#f4a582"/>
<rect x="569.65" y="58.04" width="10.26" height="10.23" fill="#b2d5e7"/>
<rect x="579.31" y="58.04" width="10.26" height="10.23" fill="#c43c3c"/>
<rect x="588.97" y="58.04" width="10.26" height="10.23" fill="#e58268"/>
<rect x="598.63" y="58.04" width="10.26" height="10.23" fill="#fae9df"/>
<rect x="608.28" y="58.04" width="10.26" height="10.23" fill="#f7f7f7"/>
<rect x="617.94" y="58.04" width="9.66" height="10.23" fill="#fddbc7"/>
<rect x="376.50" y="67.67" width="10.26" height="10.23" fill="#4393c3"/>
<rect x="386.16" y="67.67" width="10.26" height="10.23" fill="#6aacd0"/>
<rect x="395.82" y="67.67" width="10.26" height="10.23" fill="#f8c0a4"/>
<rect x="405.47" y="67.67" width="10.26" height="10.23" fill="#fddbc7"/>
<rect x="415.13" y="67.67" width="10.26" height="10.23" fill="#fae9df"/>
<rect x="434.45" y="67.67" width="10.26" height="10.23" fill="#fddbc7"/>
<rect x="444.10" y="67.67" width="10.26" height="10.23" fill="#e58268"/>
<rect x="453.76" y="67.67" width="19.92" height="10.23" fill="#b2d5e7"/>
<rect x="473.08" y="67.67" width="19.92" height="10.23" fill="#d6604d"/>
<rect x="492.39" y="67.67" width="10.26" height="10.23" fill="#f8c0a4"/>
<rect x="502.05" y="67.67" width="10.26" height="10.23" fill="#f4a582"/>
<rect x="511.71" y="67.67" width="10.26" height="10.23" fill="#e58268"/>
<rect x="521.37" y="67.67" width="10.26" height="10.23" fill="#d1e5f0"/>
<rect x="531.02" y="67.67" width="10.26" height="10.23" fill="#f4a582"/>
<rect x="540.68" y="67.67" width="10.26" height="10.23" fill="#92c5de"/>
<rect x="550.34" y="67.67" width="10.26" height="10.23" fill="#b2d5e7"/>
<rect x="560.00" y="67.67" width="10.26" height="10.23" fill="#fddbc7"/>
<rect x="569.65" y="67.67" width="10.26" height="10.23" fill="#d1e5f0"/>
<rect x="579.31" y="67.67" width="10.26" height="10.23" fill="#c43c3c"/>
<rect x="588.97" y="67.67" width="10.26" height="10.23" fill="#e58268"/>
<rect x="598.63" y="67.67" width="28.97" height="10.23" fill="#fae9df"/>
<rect x="376.50" y="77.31" width="10.26" height="10.23" fill="#d1e5f0"/>
<rect x="386.16" y="77.31" width="19.92" height="10.23" fill="#e4eef4"/>
<rect x="405.47" y="77.31" width="10.26" height="10.23" fill="#d1e5f0"/>
<rect x="415.13" y="77.31" width="10.26" height="10.23" fill="#fae9df"/>
<rect x="424.79" y="77.31" width="10.26" height="10.23" fill="#fddbc7"/>
<rect x="444.10" y="77.31" width="10.26" height="10.23" fill="#f8c0a4"/>
<rect x="453.76" y="77.31" width="10.26" height="10.23" fill="#b2d5e7"/>
<rect x="463.42" y="77.31" width="10.26" height="10.23" fill="#d1e5f0"/>
<rect x="473.08" y="77.31" width="19.92" height="10.23" fill="#d6604d"/>
<rect x="492.39" y="77.31" width="10.26" height="10.23" fill="#f8c0a4"/>
<rect x="502.05" y="77.31" width="10.26" height="10.23" fill="#e58268"/>
<rect x="511.71" y="77.31" width="10.26" height="10.23" fill="#f4a582"/>
<rect x="521.37" y="77.31" width="10.26" height="10.23" fill="#fddbc7"/>
<rect x="531.02" y="77.31" width="10.26" height="10.23" fill="#f8c0a4"/>
<rect x="540.68" y="77.31" width="10.26" height="10.23" fill="#b2d5e7"/>
<rect x="550.34" y="77.31" width="10.26" height="10.23" fill="#d1e5f0"/>
<rect x="560.00" y="77.31" width="10.26" height="10.23" fill="#f8c0a4"/>
<rect x="569.65" y="77.31" width="10.26" height="10.23" fill="#d1e5f0"/>
<rect x="579.31" y="77.31" width="10.26" height="10.23" fill="#c43c3c"/>
<rect x="588.97" y="77.31" width="10.26" height="10.23" fill="#d6604d"/>
<rect x="598.63" y="77.31" width="19.92" height="10.23" fill="#fddbc7"/>
<rect x="617.94" y="77.31" width="9.66" height="10.23" fill="#f8c0a4"/>
<rect x="376.50" y="86.94" width="10.26" height="10.23" fill="#e58268"/>
<rect x="386.16" y="86.94" width="10.26" height="10.23" fill="#d6604d"/>
<rect x="395.82" y="86.94" width="10.26" height="10.23" fill="#b2182b"/>
<rect x="405.47" y="86.94" width="10.26" height="10.23" fill="#fddbc7"/>
<rect x="415.13" y="86.94" width="10.26" height="10.23" fill="#f7f7f7"/>
<rect x="424.79" y="86.94" width="10.26" height="10.23" fill="#e58268"/>
<rect x="434.45" y="86.94" width="10.26" height="10.23" fill="#d1e5f0"/>
<rect x="453.76" y="86.94" width="10.26" height="10.23" fill="#e4eef4"/>
<rect x="463.42" y="86.94" width="10.26" height="10.23" fill="#fddbc7"/>
<rect x="473.08" y="86.94" width="10.26" height="10.23" fill="#d6604d"/>
<rect x="482.73" y="86.94" width="10.26" height="10.23" fill="#e58268"/>
<rect x="492.39" y="86.94" width="10.26" height="10.23" fill="#f8c0a4"/>
<rect x="502.05" y="86.94" width="10.26" height="10.23" fill="#d6604d"/>
<rect x="511.71" y="86.94" width="10.26" height="10.23" fill="#c43c3c"/>
<rect x="521.37" y="86.94" width="10.26" height="10.23" fill="#f4a582"/>
<rect x="531.02" y="86.94" width="10.26" height="10.23" fill="#d6604d"/>
<rect x="540.68" y="86.94" width="19.92" height="10.23" fill="#fddbc7"/>
<rect x="560.00" y="86.94" width="10.26" height="10.23" fill="#f8c0a4"/>
<rect x="569.65" y="86.94" width="10.26" height="10.23" fill="#b2d5e7"/>
<rect x="579.31" y="86.94" width="10.26" height="10.23" fill="#d6604d"/>
<rect x="588.97" y="86.94" width="10.26" height="10.23" fill="#e58268"/>
<rect x="598.63" y="86.94" width="10.26" height="10.23" fill="#fae9df"/>
<rect x="608.28" y="86.94" width="19.32" height="10.23" fill="#fddbc7"/>
<rect x="376.50" y="96.58" width="10.26" height="10.23" fill="#c43c3c"/>
<rect x="386.16" y="96.58" width="10.26" height="10.23" fill="#e58268"/>
<rect x="395.82" y="96.58" width="10.26" height="10.23" fill="#d1e5f0"/>
<rect x="405.47" y="96.58" width="10.26" height="10.23" fill="#b2d5e7"/>
<rect x="415.13" y="96.58" width="10.26" height="10.23" fill="#fddbc7"/>
<rect x="424.79" y="96.58" width="10.26" height="10.23" fill="#e4eef4"/>
<rect x="434.45" y="96.58" width="10.26" height="10.23" fill="#b2d5e7"/>
<rect x="444.10" y="96.58" width="10.26" height="10.23" fill="#d1e5f0"/>
<rect x="463.42" y="96.58" width="10.26" height="10.23" fill="#2166ac"/>
<rect x="473.08" y="96.58" width="19.92" height="10.23" fill="#f7f7f7"/>
<rect x="492.39" y="96.58" width="10.26" height="10.23" fill="#d1e5f0"/>
<rect x="502.05" y="96.58" width="19.92" height="10.23" fill="#e4eef4"/>
<rect x="521.37" y="96.58" width="10.26" height="10.23" fill="#6aacd0"/>
<rect x="531.02" y="96.58" width="10.26" height="10.23" fill="#d1e5f0"/>
<rect x="540.68" y="96.58" width="10.26" height="10.23" fill="#327cb8"/>
<rect x="550.34" y="96.58" width="10.26" height="10.23" fill="#2166ac"/>
<rect x="560.00" y="96.58" width="10.26" height="10.23" fill="#fddbc7"/>
<rect x="569.65" y="96.58" width="10.26" height="10.23" fill="#d1e5f0"/>
<rect x="579.31" y="96.58" width="10.26" height="10.23" fill="#f7f7f7"/>
<rect x="588.97" y="96.58" width="10.26" height="10.23" fill="#f8c0a4"/>
<rect x="598.63" y="96.58" width="10.26" height="10.23" fill="#d1e5f0"/>
<rect x="608.28" y="96.58" width="10.26" height="10.23" fill="#e4eef4"/>
<rect x="617.94" y="96.58" width="9.66" height="10.23" fill="#f7f7f7"/>
<rect x="376.50" y="106.21" width="10.26" height="10.23" fill="#fddbc7"/>
<rect x="386.16" y="106.21" width="10.26" height="10.23" fill="#f8c0a4"/>
<rect x="395.82" y="106.21" width="10.26" height="10.23" fill="#fae9df"/>
<rect x="405.47" y="106.21" width="19.92" height="10.23" fill="#e4eef4"/>
<rect x="424.79" y="106.21" width="19.92" height="10.23" fill="#fae9df"/>
<rect x="444.10" y="106.21" width="10.26" height="10.23" fill="#f8c0a4"/>
<rect x="453.76" y="106.21" width="10.26" height="10.23" fill="#4393c3"/>
<rect x="473.08" y="106.21" width="10.26" height="10.23" fill="#f7f7f7"/>
<rect x="482.73" y="106.21" width="29.57" height="10.23" fill="#d1e5f0"/>
<rect x="511.71" y="106.21" width="19.92" height="10.23" fill="#e4eef4"/>
<rect x="531.02" y="106.21" width="10.26" height="10.23" fill="#b2d5e7"/>
<rect x="540.68" y="106.21" width="10.26" height="10.23" fill="#d1e5f0"/>
<rect x="550.34" y="106.21" width="10.26" height="10.23" fill="#fae9df"/>
<rect x="560.00" y="106.21" width="10.26" height="10.23" fill="#f7f7f7"/>
<rect x="569.65" y="106.21" width="10.26" height="10.23" fill="#92c5de"/>
<rect x="579.31" y="106.21" width="10.26" height="10.23" fill="#f8c0a4"/>
<rect x="588.97" y="106.21" width="10.26" height="10.23" fill="#f4a582"/>
<rect x="598.63" y="106.21" width="10.26" height="10.23" fill="#f7f7f7"/>
<rect x="608.28" y="106.21" width="10.26" height="10.23" fill="#e4eef4"/>
<rect x="617.94" y="106.21" width="9.66" height="10.23" fill="#f7f7f7"/>
<rect x="376.50" y="115.85" width="10.26" height="10.23" fill="#fddbc7"/>
<rect x="386.16" y="115.85" width="10.26" height="10.23" fill="#e58268"/>
<rect x="395.82" y="115.85" width="10.26" height="10.23" fill="#c43c3c"/>
<rect x="405.47" y="115.85" width="10.26" height="10.23" fill="#f8c0a4"/>
<rect x="415.13" y="115.85" width="10.26" height="10.23" fill="#f7f7f7"/>
<rect x="424.79" y="115.85" width="10.26" height="10.23" fill="#f4a582"/>
<rect x="434.45" y="115.85" width="19.92" height="10.23" fill="#fddbc7"/>
<rect x="453.76" y="115.85" width="10.26" height="10.23" fill="#d1e5f0"/>
<rect x="463.42" y="115.85" width="10.26" height="10.23" fill="#e4eef4"/>
<rect x="482.73" y="115.85" width="10.26" height="10.23" fill="#f4a582"/>
<rect x="492.39" y="115.85" width="10.26" height="10.23" fill="#d6604d"/>
<rect x="502.05" y="115.85" width="10.26" height="10.23" fill="#c43c3c"/>
<rect x="511.71" y="115.85" width="10.26" height="10.23" fill="#d6604d"/>
<rect x="521.37" y="115.85" width="10.26" height="10.23" fill="#e58268"/>
<rect x="531.02" y="115.85" width="10.26" height="10.23" fill="#c43c3c"/>
<rect x="540.68" y="115.85" width="10.26" height="10.23" fill="#e4eef4"/>
<rect x="550.34" y="115.85" width="10.26" height="10.23" fill="#fae9df"/>
<rect x="560.00" y="115.85" width="10.26" height="10.23" fill="#e58268"/>
<rect x="569.65" y="115.85" width="10.26" height="10.23" fill="#e4eef4"/>
<rect x="579.31" y="115.85" width="10.26" height="10.23" fill="#b2182b"/>
<rect x="588.97" y="115.85" width="10.26" height="10.23" fill="#c43c3c"/>
<rect x="598.63" y="115.85" width="28.97" height="10.23" fill="#f4a582"/>
<rect x="376.50" y="125.48" width="10.26" height="10.23" fill="#d6604d"/>
<rect x="386.16" y="125.48" width="19.92" height="10.23" fill="#b2182b"/>
<rect x="405.47" y="125.48" width="10.26" height="10.23" fill="#f8c0a4"/>
<rect x="415.13" y="125.48" width="10.26" height="10.23" fill="#fddbc7"/>
<rect x="424.79" y="125.48" width="10.26" height="10.23" fill="#c43c3c"/>
<rect x="434.45" y="125.48" width="10.26" height="10.23" fill="#e58268"/>
<rect x="444.10" y="125.48" width="10.26" height="10.23" fill="#fddbc7"/>
<rect x="453.76" y="125.48" width="10.26" height="10.23" fill="#f7f7f7"/>
<rect x="463.42" y="125.48" width="19.92" height="10.23" fill="#e4eef4"/>
<rect x="492.39" y="125.48" width="10.26" height="10.23" fill="#fae9df"/>
<rect x="502.05" y="125.48" width="19.92" height="10.23" fill="#fddbc7"/>
<rect x="521.37" y="125.48" width="10.26" height="10.23" fill="#f8c0a4"/>
<rect x="531.02" y="125.48" width="10.26" height="10.23" fill="#f4a582"/>
<rect x="540.68" y="125.48" width="10.26" height="10.23" fill="#e4eef4"/>
<rect x="550.34" y="125.48" width="10.26" height="10.23" fill="#fae9df"/>
<rect x="560.00" y="125.48" width="10.26" height="10.23" fill="#f8c0a4"/>
<rect x="569.65" y="125.48" width="10.26" height="10.23" fill="#d1e5f0"/>
<rect x="579.31" y="125.48" width="10.26" height="10.23" fill="#e58268"/>
<rect x="588.97" y="125.48" width="10.26" height="10.23" fill="#f4a582"/>
<rect x="598.63" y="125.48" width="19.92" height="10.23" fill="#fae9df"/>
<rect x="617.94" y="125.48" width="9.66" height="10.23" fill="#fddbc7"/>
<rect x="376.50" y="135.12" width="29.57" height="10.23" fill="#e58268"/>
<rect x="405.47" y="135.12" width="10.26" height="10.23" fill="#f8c0a4"/>
<rect x="415.13" y="135.12" width="10.26" height="10.23" fill="#fddbc7"/>
<rect x="424.79" y="135.12" width="19.92" height="10.23" fill="#f8c0a4"/>
<rect x="444.10" y="135.12" width="19.92" height="10.23" fill="#e4eef4"/>
<rect x="463.42" y="135.12" width="10.26" height="10.23" fill="#fae9df"/>
<rect x="473.08" y="135.12" width="10.26" height="10.23" fill="#f4a582"/>
<rect x="482.73" y="135.12" width="10.26" height="10.23" fill="#e4eef4"/>
<rect x="502.05" y="135.12" width="10.26" height="10.23" fill="#fae9df"/>
<rect x="511.71" y="135.12" width="10.26" height="10.23" fill="#f8c0a4"/>
<rect x="521.37" y="135.12" width="10.26" height="10.23" fill="#e4eef4"/>
<rect x="531.02" y="135.12" width="10.26" height="10.23" fill="#f8c0a4"/>
<rect x="540.68" y="135.12" width="10.26" height="10.23" fill="#d1e5f0"/>
<rect x="550.34" y="135.12" width="10.26" height="10.23" fill="#e4eef4"/>
<rect x="560.00" y="135.12" width="10.26" height="10.23" fill="#f8c0a4"/>
<rect x="569.65" y="135.12" width="10.26" height="10.23" fill="#d1e5f0"/>
<rect x="579.31" y="135.12" width="10.26" height="10.23" fill="#d6604d"/>
<rect x="588.97" y="135.12" width="10.26" height="10.23" fill="#f4a582"/>
<rect x="598.63" y="135.12" width="19.92" height="10.23" fill="#f7f7f7"/>
<rect x="617.94" y="135.12" width="9.66" height="10.23" fill="#f8c0a4"/>
<rect x="376.50" y="144.75" width="10.26" height="10.23" fill="#f4a582"/>
<rect x="386.16" y="144.75" width="10.26" height="10.23" fill="#e58268"/>
<rect x="395.82" y="144.75" width="10.26" height="10.23" fill="#f4a582"/>
<rect x="405.47" y="144.75" width="10.26" height="10.23" fill="#e4eef4"/>
<rect x="415.13" y="144.75" width="10.26" height="10.23" fill="#fae9df"/>
<rect x="424.79" y="144.75" width="10.26" height="10.23" fill="#f4a582"/>
<rect x="434.45" y="144.75" width="10.26" height="10.23" fill="#f8c0a4"/>
<rect x="444.10" y="144.75" width="10.26" height="10.23" fill="#f4a582"/>
<rect x="453.76" y="144.75" width="19.92" height="10.23" fill="#e4eef4"/>
<rect x="473.08" y="144.75" width="10.26" height="10.23" fill="#f4a582"/>
<rect x="482.73" y="144.75" width="10.26" height="10.23" fill="#e4eef4"/>
<rect x="492.39" y="144.75" width="10.26" height="10.23" fill="#d1e5f0"/>
<rect x="511.71" y="144.75" width="10.26" height="10.23" fill="#f8c0a4"/>
<rect x="521.37" y="144.75" width="10.26" height="10.23" fill="#e4eef4"/>
<rect x="531.02" y="144.75" width="10.26" height="10.23" fill="#f8c0a4"/>
<rect x="540.68" y="144.75" width="10.26" height="10.23" fill="#d1e5f0"/>
<rect x="550.34" y="144.75" width="10.26" height="10.23" fill="#e4eef4"/>
<rect x="560.00" y="144.75" width="10.26" height="10.23" fill="#f4a582"/>
<rect x="569.65" y="144.75" width="10.26" height="10.23" fill="#e4eef4"/>
<rect x="579.31" y="144.75" width="19.92" height="10.23" fill="#d6604d"/>
<rect x="598.63" y="144.75" width="19.92" height="10.23" fill="#fae9df"/>
<rect x="617.94" y="144.75" width="9.66" height="10.23" fill="#f8c0a4"/>
<rect x="376.50" y="154.38" width="10.26" height="10.23" fill="#f4a582"/>
<rect x="386.16" y="154.38" width="19.92" height="10.23" fill="#f8c0a4"/>
<rect x="405.47" y="154.38" width="10.26" height="10.23" fill="#92c5de"/>
<rect x="415.13" y="154.38" width="10.26" height="10.23" fill="#fddbc7"/>
<rect x="424.79" y="154.38" width="10.26" height="10.23" fill="#f4a582"/>
<rect x="434.45" y="154.38" width="10.26" height="10.23" fill="#fae9df"/>
<rect x="444.10" y="154.38" width="10.26" height="10.23" fill="#f4a582"/>
<rect x="453.76" y="154.38" width="19.92" height="10.23" fill="#e4eef4"/>
<rect x="473.08" y="154.38" width="10.26" height="10.23" fill="#fae9df"/>
<rect x="482.73" y="154.38" width="10.26" height="10.23" fill="#d1e5f0"/>
<rect x="492.39" y="154.38" width="19.92" height="10.23" fill="#f7f7f7"/>
<rect x="521.37" y="154.38" width="10.26" height="10.23" fill="#f8c0a4"/>
<rect x="531.02" y="154.38" width="10.26" height="10.23" fill="#fae9df"/>
<rect x="540.68" y="154.38" width="10.26" height="10.23" fill="#e4eef4"/>
<rect x="550.34" y="154.38" width="10.26" height="10.23" fill="#fae9df"/>
<rect x="560.00" y="154.38" width="10.26" height="10.23" fill="#e58268"/>
<rect x="569.65" y="154.38" width="10.26" height="10.23" fill="#e4eef4"/>
<rect x="579.31" y="154.38" width="19.92" height="10.23" fill="#c43c3c"/>
<rect x="598.63" y="154.38" width="19.92" height="10.23" fill="#f8c0a4"/>
<rect x="617.94" y="154.38" width="9.66" height="10.23" fill="#f4a582"/>
<rect x="376.50" y="164.02" width="10.26" height="10.23" fill="#92c5de"/>
<rect x="386.16" y="164.02" width="10.26" height="10.23" fill="#4393c3"/>
<rect x="395.82" y="164.02" width="10.26" height="10.23" fill="#6aacd0"/>
<rect x="405.47" y="164.02" width="10.26" height="10.23" fill="#b2d5e7"/>
<rect x="415.13" y="164.02" width="10.26" height="10.23" fill="#f7f7f7"/>
<rect x="424.79" y="164.02" width="10.26" height="10.23" fill="#d1e5f0"/>
<rect x="434.45" y="164.02" width="10.26" height="10.23" fill="#fddbc7"/>
<rect x="444.10" y="164.02" width="10.26" height="10.23" fill="#f4a582"/>
<rect x="453.76" y="164.02" width="10.26" height="10.23" fill="#b2d5e7"/>
<rect x="463.42" y="164.02" width="19.92" height="10.23" fill="#f8c0a4"/>
<rect x="482.73" y="164.02" width="10.26" height="10.23" fill="#f4a582"/>
<rect x="492.39" y="164.02" width="10.26" height="10.23" fill="#f7f7f7"/>
<rect x="502.05" y="164.02" width="10.26" height="10.23" fill="#d1e5f0"/>
<rect x="511.71" y="164.02" width="10.26" height="10.23" fill="#f8c0a4"/>
<rect x="531.02" y="164.02" width="10.26" height="10.23" fill="#fddbc7"/>
<rect x="540.68" y="164.02" width="10.26" height="10.23" fill="#b2d5e7"/>
<rect x="550.34" y="164.02" width="10.26" height="10.23" fill="#d1e5f0"/>
<rect x="560.00" y="164.02" width="10.26" height="10.23" fill="#f8c0a4"/>
<rect x="569.65" y="164.02" width="10.26" height="10.23" fill="#d1e5f0"/>
<rect x="579.31" y="164.02" width="10.26" height="10.23" fill="#d6604d"/>
<rect x="588.97" y="164.02" width="10.26" height="10.23" fill="#e58268"/>
<rect x="598.63" y="164.02" width="10.26" height="10.23" fill="#fae9df"/>
<rect x="608.28" y="164.02" width="10.26" height="10.23" fill="#e4eef4"/>
<rect x="617.94" y="164.02" width="9.66" height="10.23" fill="#fddbc7"/>
<rect x="376.50" y="173.65" width="10.26" height="10.23" fill="#fae9df"/>
<rect x="386.16" y="173.65" width="10.26" height="10.23" fill="#e4eef4"/>
<rect x="395.82" y="173.65" width="10.26" height="10.23" fill="#f7f7f7"/>
<rect x="405.47" y="173.65" width="10.26" height="10.23" fill="#6aacd0"/>
<rect x="415.13" y="173.65" width="10.26" height="10.23" fill="#f8c0a4"/>
<rect x="424.79" y="173.65" width="10.26" height="10.23" fill="#f4a582"/>
<rect x="434.45" y="173.65" width="10.26" height="10.23" fill="#f7f7f7"/>
<rect x="444.10" y="173.65" width="10.26" height="10.23" fill="#f8c0a4"/>
<rect x="453.76" y="173.65" width="10.26" height="10.23" fill="#d1e5f0"/>
<rect x="463.42" y="173.65" width="10.26" height="10.23" fill="#92c5de"/>
<rect x="473.08" y="173.65" width="10.26" height="10.23" fill="#f8c0a4"/>
<rect x="482.73" y="173.65" width="19.92" height="10.23" fill="#fddbc7"/>
<rect x="502.05" y="173.65" width="10.26" height="10.23" fill="#e4eef4"/>
<rect x="511.71" y="173.65" width="10.26" height="10.23" fill="#6aacd0"/>
<rect x="521.37" y="173.65" width="10.26" height="10.23" fill="#f8c0a4"/>
<rect x="540.68" y="173.65" width="10.26" height="10.23" fill="#d1e5f0"/>
<rect x="550.34" y="173.65" width="10.26" height="10.23" fill="#e4eef4"/>
<rect x="560.00" y="173.65" width="10.26" height="10.23" fill="#f4a582"/>
<rect x="569.65" y="173.65" width="10.26" height="10.23" fill="#e4eef4"/>
<rect x="579.31" y="173.65" width="10.26" height="10.23" fill="#c43c3c"/>
<rect x="588.97" y="173.65" width="10.26" height="10.23" fill="#d6604d"/>
<rect x="598.63" y="173.65" width="19.92" height="10.23" fill="#f4a582"/>
<rect x="617.94" y="173.65" width="9.66" height="10.23" fill="#e58268"/>
<rect x="376.50" y="183.29" width="10.26" height="10.23" fill="#fae9df"/>
<rect x="386.16" y="183.29" width="10.26" height="10.23" fill="#f7f7f7"/>
<rect x="395.82" y="183.29" width="10.26" height="10.23" fill="#b2d5e7"/>
<rect x="405.47" y="183.29" width="29.57" height="10.23" fill="#d1e5f0"/>
<rect x="434.45" y="183.29" width="10.26" height="10.23" fill="#e4eef4"/>
<rect x="444.10" y="183.29" width="10.26" height="10.23" fill="#f8c0a4"/>
<rect x="453.76" y="183.29" width="10.26" height="10.23" fill="#6aacd0"/>
<rect x="463.42" y="183.29" width="10.26" height="10.23" fill="#fddbc7"/>
<rect x="473.08" y="183.29" width="10.26" height="10.23" fill="#e4eef4"/>
<rect x="482.73" y="183.29" width="10.26" height="10.23" fill="#fae9df"/>
<rect x="492.39" y="183.29" width="10.26" height="10.23" fill="#f7f7f7"/>
<rect x="502.05" y="183.29" width="10.26" height="10.23" fill="#e4eef4"/>
<rect x="511.71" y="183.29" width="10.26" height="10.23" fill="#fae9df"/>
<rect x="521.37" y="183.29" width="19.92" height="10.23" fill="#e4eef4"/>
<rect x="550.34" y="183.29" width="10.26" height="10.23" fill="#d1e5f0"/>
<rect x="560.00" y="183.29" width="10.26" height="10.23" fill="#e4eef4"/>
<rect x="569.65" y="183.29" width="10.26" height="10.23" fill="#b2d5e7"/>
<rect x="579.31" y="183.29" width="10.26" height="10.23" fill="#fddbc7"/>
<rect x="588.97" y="183.29" width="29.57" height="10.23" fill="#fae9df"/>
<rect x="617.94" y="183.29" width="9.66" height="10.23" fill="#fddbc7"/>
<rect x="376.50" y="192.92" width="10.26" height="10.23" fill="#e4eef4"/>
<rect x="386.16" y="192.92" width="10.26" height="10.23" fill="#d1e5f0"/>
<rect x="395.82" y="192.92" width="10.26" height="10.23" fill="#92c5de"/>
<rect x="405.47" y="192.92" width="10.26" height="10.23" fill="#b2d5e7"/>
<rect x="415.13" y="192.92" width="29.57" height="10.23" fill="#d1e5f0"/>
<rect x="444.10" y="192.92" width="10.26" height="10.23" fill="#f8c0a4"/>
<rect x="453.76" y="192.92" width="10.26" height="10.23" fill="#2166ac"/>
<rect x="463.42" y="192.92" width="10.26" height="10.23" fill="#f8c0a4"/>
<rect x="473.08" y="192.92" width="10.26" height="10.23" fill="#f7f7f7"/>
<rect x="482.73" y="192.92" width="19.92" height="10.23" fill="#fae9df"/>
<rect x="502.05" y="192.92" width="10.26" height="10.23" fill="#e4eef4"/>
<rect x="511.71" y="192.92" width="10.26" height="10.23" fill="#fae9df"/>
<rect x="521.37" y="192.92" width="10.26" height="10.23" fill="#f7f7f7"/>
<rect x="531.02" y="192.92" width="10.26" height="10.23" fill="#e4eef4"/>
<rect x="540.68" y="192.92" width="10.26" height="10.23" fill="#fae9df"/>
<rect x="560.00" y="192.92" width="10.26" height="10.23" fill="#e4eef4"/>
<rect x="569.65" y="192.92" width="10.26" height="10.23" fill="#d1e5f0"/>
<rect x="579.31" y="192.92" width="19.92" height="10.23" fill="#fae9df"/>
<rect x="598.63" y="192.92" width="10.26" height="10.23" fill="#fddbc7"/>
<rect x="608.28" y="192.92" width="10.26" height="10.23" fill="#fae9df"/>
<rect x="617.94" y="192.92" width="9.66" height="10.23" fill="#fddbc7"/>
<rect x="376.50" y="202.56" width="10.26" height="10.23" fill="#d6604d"/>
<rect x="386.16" y="202.56" width="10.26" height="10.23" fill="#e58268"/>
<rect x="395.82" y="202.56" width="10.26" height="10.23" fill="#f7f7f7"/>
<rect x="405.47" y="202.56" width="19.92" height="10.23" fill="#fae9df"/>
<rect x="424.79" y="202.56" width="10.26" height="10.23" fill="#d1e5f0"/>
<rect x="434.45" y="202.56" width="10.26" height="10.23" fill="#e4eef4"/>
<rect x="444.10" y="202.56" width="10.26" height="10.23" fill="#d1e5f0"/>
<rect x="453.76" y="202.56" width="10.26" height="10.23" fill="#fae9df"/>
<rect x="463.42" y="202.56" width="10.26" height="10.23" fill="#e4eef4"/>
<rect x="473.08" y="202.56" width="10.26" height="10.23" fill="#f7f7f7"/>
<rect x="482.73" y="202.56" width="10.26" height="10.23" fill="#e4eef4"/>
<rect x="492.39" y="202.56" width="10.26" height="10.23" fill="#d1e5f0"/>
<rect x="502.05" y="202.56" width="10.26" height="10.23" fill="#fae9df"/>
<rect x="511.71" y="202.56" width="10.26" height="10.23" fill="#fddbc7"/>
<rect x="521.37" y="202.56" width="19.92" height="10.23" fill="#fae9df"/>
<rect x="540.68" y="202.56" width="10.26" height="10.23" fill="#e4eef4"/>
<rect x="550.34" y="202.56" width="10.26" height="10.23" fill="#d1e5f0"/>
<rect x="569.65" y="202.56" width="10.26" height="10.23" fill="#d1e5f0"/>
<rect x="579.31" y="202.56" width="10.26" height="10.23" fill="#f8c0a4"/>
<rect x="588.97" y="202.56" width="10.26" height="10.23" fill="#fddbc7"/>
<rect x="598.63" y="202.56" width="19.92" height="10.23" fill="#fae9df"/>
<rect x="617.94" y="202.56" width="9.66" height="10.23" fill="#fddbc7"/>
<rect x="376.50" y="212.19" width="10.26" height="10.23" fill="#fddbc7"/>
<rect x="386.16" y="212.19" width="29.57" height="10.23" fill="#f8c0a4"/>
<rect x="415.13" y="212.19" width="10.26" height="10.23" fill="#f7f7f7"/>
<rect x="424.79" y="212.19" width="10.26" height="10.23" fill="#fae9df"/>
<rect x="434.45" y="212.19" width="19.92" height="10.23" fill="#e4eef4"/>
<rect x="453.76" y="212.19" width="10.26" height="10.23" fill="#fae9df"/>
<rect x="463.42" y="212.19" width="10.26" height="10.23" fill="#d1e5f0"/>
<rect x="473.08" y="212.19" width="10.26" height="10.23" fill="#f7f7f7"/>
<rect x="482.73" y="212.19" width="10.26" height="10.23" fill="#e4eef4"/>
<rect x="492.39" y="212.19" width="10.26" height="10.23" fill="#f7f7f7"/>
<rect x="502.05" y="212.19" width="10.26" height="10.23" fill="#fae9df"/>
<rect x="511.71" y="212.19" width="10.26" height="10.23" fill="#fddbc7"/>
<rect x="521.37" y="212.19" width="10.26" height="10.23" fill="#fae9df"/>
<rect x="531.02" y="212.19" width="10.26" height="10.23" fill="#fddbc7"/>
<rect x="540.68" y="212.19" width="19.92" height="10.23" fill="#e4eef4"/>
<rect x="560.00" y="212.19" width="10.26" height="10.23" fill="#d1e5f0"/>
<rect x="579.31" y="212.19" width="19.92" height="10.23" fill="#b2d5e7"/>
<rect x="598.63" y="212.19" width="10.26" height="10.23" fill="#d1e5f0"/>
<rect x="608.28" y="212.19" width="10.26" height="10.23" fill="#b2d5e7"/>
<rect x="617.94" y="212.19" width="9.66" height="10.23" fill="#6aacd0"/>
<rect x="376.50" y="221.83" width="10.26" height="10.23" fill="#d6604d"/>
<rect x="386.16" y="221.83" width="10.26" height="10.23" fill="#c43c3c"/>
<rect x="395.82" y="221.83" width="10.26" height="10.23" fill="#f8c0a4"/>
<rect x="405.47" y="221.83" width="10.26" height="10.23" fill="#e58268"/>
<rect x="415.13" y="221.83" width="10.26" height="10.23" fill="#fae9df"/>
<rect x="424.79" y="221.83" width="19.92" height="10.23" fill="#f8c0a4"/>
<rect x="444.10" y="221.83" width="10.26" height="10.23" fill="#e4eef4"/>
<rect x="453.76" y="221.83" width="10.26" height="10.23" fill="#92c5de"/>
<rect x="463.42" y="221.83" width="19.92" height="10.23" fill="#fddbc7"/>
<rect x="482.73" y="221.83" width="10.26" height="10.23" fill="#d1e5f0"/>
<rect x="492.39" y="221.83" width="29.57" height="10.23" fill="#fae9df"/>
<rect x="521.37" y="221.83" width="10.26" height="10.23" fill="#f4a582"/>
<rect x="531.02" y="221.83" width="19.92" height="10.23" fill="#fddbc7"/>
<rect x="550.34" y="221.83" width="19.92" height="10.23" fill="#e4eef4"/>
<rect x="569.65" y="221.83" width="10.26" height="10.23" fill="#b2d5e7"/>
<rect x="588.97" y="221.83" width="10.26" height="10.23" fill="#fae9df"/>
<rect x="598.63" y="221.83" width="28.97" height="10.23" fill="#f8c0a4"/>
<rect x="376.50" y="231.46" width="19.92" height="10.23" fill="#c43c3c"/>
<rect x="395.82" y="231.46" width="10.26" height="10.23" fill="#f4a582"/>
<rect x="405.47" y="231.46" width="10.26" height="10.23" fill="#fddbc7"/>
<rect x="415.13" y="231.46" width="10.26" height="10.23" fill="#f7f7f7"/>
<rect x="424.79" y="231.46" width="19.92" height="10.23" fill="#fae9df"/>
<rect x="444.10" y="231.46" width="10.26" height="10.23" fill="#f7f7f7"/>
<rect x="453.76" y="231.46" width="10.26" height="10.23" fill="#fddbc7"/>
<rect x="463.42" y="231.46" width="10.26" height="10.23" fill="#f4a582"/>
<rect x="473.08" y="231.46" width="10.26" height="10.23" fill="#fae9df"/>
<rect x="482.73" y="231.46" width="19.92" height="10.23" fill="#f7f7f7"/>
<rect x="502.05" y="231.46" width="29.57" height="10.23" fill="#f8c0a4"/>
<rect x="531.02" y="231.46" width="19.92" height="10.23" fill="#fae9df"/>
<rect x="550.34" y="231.46" width="10.26" height="10.23" fill="#f7f7f7"/>
<rect x="560.00" y="231.46" width="19.92" height="10.23" fill="#d1e5f0"/>
<rect x="579.31" y="231.46" width="10.26" height="10.23" fill="#4393c3"/>
<rect x="598.63" y="231.46" width="10.26" height="10.23" fill="#e4eef4"/>
<rect x="608.28" y="231.46" width="19.32" height="10.23" fill="#fae9df"/>
<rect x="376.50" y="241.10" width="19.92" height="10.23" fill="#f8c0a4"/>
<rect x="395.82" y="241.10" width="10.26" height="10.23" fill="#fae9df"/>
<rect x="405.47" y="241.10" width="10.26" height="10.23" fill="#f8c0a4"/>
<rect x="415.13" y="241.10" width="29.57" height="10.23" fill="#fae9df"/>
<rect x="444.10" y="241.10" width="19.92" height="10.23" fill="#d1e5f0"/>
<rect x="463.42" y="241.10" width="10.26" height="10.23" fill="#fddbc7"/>
<rect x="473.08" y="241.10" width="10.26" height="10.23" fill="#fae9df"/>
<rect x="482.73" y="241.10" width="19.92" height="10.23" fill="#e4eef4"/>
<rect x="502.05" y="241.10" width="10.26" height="10.23" fill="#f7f7f7"/>
<rect x="511.71" y="241.10" width="19.92" height="10.23" fill="#fddbc7"/>
<rect x="531.02" y="241.10" width="29.57" height="10.23" fill="#f8c0a4"/>
<rect x="560.00" y="241.10" width="19.92" height="10.23" fill="#e4eef4"/>
<rect x="579.31" y="241.10" width="10.26" height="10.23" fill="#f7f7f7"/>
<rect x="588.97" y="241.10" width="10.26" height="10.23" fill="#b2d5e7"/>
<rect x="608.28" y="241.10" width="10.26" height="10.23" fill="#92c5de"/>
<rect x="617.94" y="241.10" width="9.66" height="10.23" fill="#d1e5f0"/>
<rect x="376.50" y="250.73" width="10.26" height="10.23" fill="#f4a582"/>
<rect x="386.16" y="250.73" width="10.26" height="10.23" fill="#fddbc7"/>
<rect x="395.82" y="250.73" width="10.26" height="10.23" fill="#fae9df"/>
<rect x="405.47" y="250.73" width="10.26" height="10.23" fill="#fddbc7"/>
<rect x="415.13" y="250.73" width="10.26" height="10.23" fill="#e4eef4"/>
<rect x="424.79" y="250.73" width="10.26" height="10.23" fill="#f7f7f7"/>
<rect x="434.45" y="250.73" width="10.26" height="10.23" fill="#fae9df"/>
<rect x="444.10" y="250.73" width="10.26" height="10.23" fill="#e4eef4"/>
<rect x="453.76" y="250.73" width="29.57" height="10.23" fill="#fae9df"/>
<rect x="482.73" y="250.73" width="29.57" height="10.23" fill="#f7f7f7"/>
<rect x="511.71" y="250.73" width="10.26" height="10.23" fill="#fddbc7"/>
<rect x="521.37" y="250.73" width="10.26" height="10.23" fill="#f7f7f7"/>
<rect x="531.02" y="250.73" width="19.92" height="10.23" fill="#f8c0a4"/>
<rect x="550.34" y="250.73" width="10.26" height="10.23" fill="#fddbc7"/>
<rect x="560.00" y="250.73" width="10.26" height="10.23" fill="#e4eef4"/>
<rect x="569.65" y="250.73" width="10.26" height="10.23" fill="#d1e5f0"/>
<rect x="579.31" y="250.73" width="10.26" height="10.23" fill="#e4eef4"/>
<rect x="588.97" y="250.73" width="10.26" height="10.23" fill="#d1e5f0"/>
<rect x="598.63" y="250.73" width="10.26" height="10.23" fill="#4393c3"/>
<rect x="617.94" y="250.73" width="9.66" height="10.23" fill="#e4eef4"/>
<rect x="376.50" y="260.37" width="10.26" height="9.63" fill="#f4a582"/>
<rect x="386.16" y="260.37" width="10.26" height="9.63" fill="#c43c3c"/>
<rect x="395.82" y="260.37" width="10.26" height="9.63" fill="#f4a582"/>
<rect x="405.47" y="260.37" width="10.26" height="9.63" fill="#c43c3c"/>
<rect x="415.13" y="260.37" width="10.26" height="9.63" fill="#fae9df"/>
<rect x="424.79" y="260.37" width="10.26" height="9.63" fill="#e4eef4"/>
<rect x="434.45" y="260.37" width="10.26" height="9.63" fill="#f7f7f7"/>
<rect x="444.10" y="260.37" width="10.26" height="9.63" fill="#92c5de"/>
<rect x="453.76" y="260.37" width="19.92" height="9.63" fill="#f8c0a4"/>
<rect x="473.08" y="260.37" width="19.92" height="9.63" fill="#b2d5e7"/>
<rect x="492.39" y="260.37" width="19.92" height="9.63" fill="#fae9df"/>
<rect x="511.71" y="260.37" width="10.26" height="9.63" fill="#fddbc7"/>
<rect x="521.37" y="260.37" width="19.92" height="9.63" fill="#f8c0a4"/>
<rect x="540.68" y="260.37" width="10.26" height="9.63" fill="#f4a582"/>
<rect x="550.34" y="260.37" width="10.26" height="9.63" fill="#f8c0a4"/>
<rect x="560.00" y="260.37" width="10.26" height="9.63" fill="#e4eef4"/>
<rect x="569.65" y="260.37" width="10.26" height="9.63" fill="#92c5de"/>
<rect x="579.31" y="260.37" width="10.26" height="9.63" fill="#6aacd0"/>
<rect x="588.97" y="260.37" width="10.26" height="9.63" fill="#4393c3"/>
<rect x="598.63" y="260.37" width="10.26" height="9.63" fill="#92c5de"/>
<rect x="608.28" y="260.37" width="10.26" height="9.63" fill="#b2d5e7"/>
<rect x="376.50" y="19.50" width="251.10" height="250.50" fill="none" stroke="#3a3a3a" stroke-width="0.7"/>
<rect x="376.50" y="19.50" width="9.66" height="9.63" fill="#fff" stroke="#444" stroke-width="0.75"/>
<rect x="377.65" y="20.65" width="7.36" height="7.33" fill="#f4f4f4"/>
<rect x="386.16" y="29.13" width="9.66" height="9.63" fill="#fff" stroke="#444" stroke-width="0.75"/>
<rect x="387.31" y="30.28" width="7.36" height="7.33" fill="#f4f4f4"/>
<rect x="395.82" y="38.77" width="9.66" height="9.63" fill="#fff" stroke="#444" stroke-width="0.75"/>
<rect x="396.97" y="39.92" width="7.36" height="7.33" fill="#f4f4f4"/>
<rect x="405.47" y="48.40" width="9.66" height="9.63" fill="#fff" stroke="#444" stroke-width="0.75"/>
<rect x="406.62" y="49.55" width="7.36" height="7.33" fill="#f4f4f4"/>
<rect x="415.13" y="58.04" width="9.66" height="9.63" fill="#fff" stroke="#444" stroke-width="0.75"/>
<rect x="416.28" y="59.19" width="7.36" height="7.33" fill="#f4f4f4"/>
<rect x="424.79" y="67.67" width="9.66" height="9.63" fill="#fff" stroke="#444" stroke-width="0.75"/>
<rect x="425.94" y="68.82" width="7.36" height="7.33" fill="#f4f4f4"/>
<rect x="434.45" y="77.31" width="9.66" height="9.63" fill="#fff" stroke="#444" stroke-width="0.75"/>
<rect x="435.60" y="78.46" width="7.36" height="7.33" fill="#f4f4f4"/>
<rect x="444.10" y="86.94" width="9.66" height="9.63" fill="#fff" stroke="#444" stroke-width="0.75"/>
<rect x="445.25" y="88.09" width="7.36" height="7.33" fill="#f4f4f4"/>
<rect x="453.76" y="96.58" width="9.66" height="9.63" fill="#fff" stroke="#444" stroke-width="0.75"/>
<rect x="454.91" y="97.73" width="7.36" height="7.33" fill="#f4f4f4"/>
<rect x="463.42" y="106.21" width="9.66" height="9.63" fill="#fff" stroke="#444" stroke-width="0.75"/>
<rect x="464.57" y="107.36" width="7.36" height="7.33" fill="#f4f4f4"/>
<rect x="473.08" y="115.85" width="9.66" height="9.63" fill="#fff" stroke="#444" stroke-width="0.75"/>
<rect x="474.23" y="117.00" width="7.36" height="7.33" fill="#f4f4f4"/>
<rect x="482.73" y="125.48" width="9.66" height="9.63" fill="#fff" stroke="#444" stroke-width="0.75"/>
<rect x="483.88" y="126.63" width="7.36" height="7.33" fill="#f4f4f4"/>
<rect x="492.39" y="135.12" width="9.66" height="9.63" fill="#fff" stroke="#444" stroke-width="0.75"/>
<rect x="493.54" y="136.27" width="7.36" height="7.33" fill="#f4f4f4"/>
<rect x="502.05" y="144.75" width="9.66" height="9.63" fill="#fff" stroke="#444" stroke-width="0.75"/>
<rect x="503.20" y="145.90" width="7.36" height="7.33" fill="#f4f4f4"/>
<rect x="511.71" y="154.38" width="9.66" height="9.63" fill="#fff" stroke="#444" stroke-width="0.75"/>
<rect x="512.86" y="155.53" width="7.36" height="7.33" fill="#f4f4f4"/>
<rect x="521.37" y="164.02" width="9.66" height="9.63" fill="#fff" stroke="#444" stroke-width="0.75"/>
<rect x="522.52" y="165.17" width="7.36" height="7.33" fill="#f4f4f4"/>
<rect x="531.02" y="173.65" width="9.66" height="9.63" fill="#fff" stroke="#444" stroke-width="0.75"/>
<rect x="532.17" y="174.80" width="7.36" height="7.33" fill="#f4f4f4"/>
<rect x="540.68" y="183.29" width="9.66" height="9.63" fill="#fff" stroke="#444" stroke-width="0.75"/>
<rect x="541.83" y="184.44" width="7.36" height="7.33" fill="#f4f4f4"/>
<rect x="550.34" y="192.92" width="9.66" height="9.63" fill="#fff" stroke="#444" stroke-width="0.75"/>
<rect x="551.49" y="194.07" width="7.36" height="7.33" fill="#f4f4f4"/>
<rect x="560.00" y="202.56" width="9.66" height="9.63" fill="#fff" stroke="#444" stroke-width="0.75"/>
<rect x="561.15" y="203.71" width="7.36" height="7.33" fill="#f4f4f4"/>
<rect x="569.65" y="212.19" width="9.66" height="9.63" fill="#fff" stroke="#444" stroke-width="0.75"/>
<rect x="570.80" y="213.34" width="7.36" height="7.33" fill="#f4f4f4"/>
<rect x="579.31" y="221.83" width="9.66" height="9.63" fill="#fff" stroke="#444" stroke-width="0.75"/>
<rect x="580.46" y="222.98" width="7.36" height="7.33" fill="#f4f4f4"/>
<rect x="588.97" y="231.46" width="9.66" height="9.63" fill="#fff" stroke="#444" stroke-width="0.75"/>
<rect x="590.12" y="232.61" width="7.36" height="7.33" fill="#f4f4f4"/>
<rect x="598.63" y="241.10" width="9.66" height="9.63" fill="#fff" stroke="#444" stroke-width="0.75"/>
<rect x="599.78" y="242.25" width="7.36" height="7.33" fill="#f4f4f4"/>
<rect x="608.28" y="250.73" width="9.66" height="9.63" fill="#fff" stroke="#444" stroke-width="0.75"/>
<rect x="609.43" y="251.88" width="7.36" height="7.33" fill="#f4f4f4"/>
<rect x="617.94" y="260.37" width="9.66" height="9.63" fill="#fff" stroke="#444" stroke-width="0.75"/>
<rect x="619.09" y="261.52" width="7.36" height="7.33" fill="#f4f4f4"/>
<text class="y" transform="translate(370.2 26.27) scale(.925 1)">VIS A</text>
<text class="x" transform="translate(384.73 278.20) rotate(-45) scale(.925 1)">VIS A</text>
<text class="y" transform="translate(370.2 35.90) scale(.925 1)">VIS B</text>
<text class="x" transform="translate(394.39 278.20) rotate(-45) scale(.925 1)">VIS B</text>
<text class="y" transform="translate(370.2 45.54) scale(.925 1)">SMN A</text>
<text class="x" transform="translate(404.04 278.20) rotate(-45) scale(.925 1)">SMN A</text>
<text class="y" transform="translate(370.2 55.17) scale(.925 1)">SMN B</text>
<text class="x" transform="translate(413.70 278.20) rotate(-45) scale(.925 1)">SMN B</text>
<text class="y" transform="translate(370.2 64.81) scale(.925 1)">DAN A</text>
<text class="x" transform="translate(423.36 278.20) rotate(-45) scale(.925 1)">DAN A</text>
<text class="y" transform="translate(370.2 74.44) scale(.925 1)">DAN B</text>
<text class="x" transform="translate(433.02 278.20) rotate(-45) scale(.925 1)">DAN B</text>
<text class="y" transform="translate(370.2 84.08) scale(.925 1)">SAL A</text>
<text class="x" transform="translate(442.67 278.20) rotate(-45) scale(.925 1)">SAL A</text>
<text class="y" transform="translate(370.2 93.71) scale(.925 1)">SAL B</text>
<text class="x" transform="translate(452.33 278.20) rotate(-45) scale(.925 1)">SAL B</text>
<text class="y" transform="translate(370.2 103.34) scale(.925 1)">LIM B</text>
<text class="x" transform="translate(461.99 278.20) rotate(-45) scale(.925 1)">LIM B</text>
<text class="y" transform="translate(370.2 112.98) scale(.925 1)">LIM A</text>
<text class="x" transform="translate(471.65 278.20) rotate(-45) scale(.925 1)">LIM A</text>
<text class="y" transform="translate(370.2 122.61) scale(.925 1)">FPN A</text>
<text class="x" transform="translate(481.31 278.20) rotate(-45) scale(.925 1)">FPN A</text>
<text class="y" transform="translate(370.2 132.25) scale(.925 1)">FPN B</text>
<text class="x" transform="translate(490.96 278.20) rotate(-45) scale(.925 1)">FPN B</text>
<text class="y" transform="translate(370.2 141.88) scale(.925 1)">FPN C</text>
<text class="x" transform="translate(500.62 278.20) rotate(-45) scale(.925 1)">FPN C</text>
<text class="y" transform="translate(370.2 151.52) scale(.925 1)">DN A</text>
<text class="x" transform="translate(510.28 278.20) rotate(-45) scale(.925 1)">DN A</text>
<text class="y" transform="translate(370.2 161.15) scale(.925 1)">DN B</text>
<text class="x" transform="translate(519.94 278.20) rotate(-45) scale(.925 1)">DN B</text>
<text class="y" transform="translate(370.2 170.79) scale(.925 1)">DN C</text>
<text class="x" transform="translate(529.59 278.20) rotate(-45) scale(.925 1)">DN C</text>
<text class="y" transform="translate(370.2 180.42) scale(.925 1)">TPar</text>
<text class="x" transform="translate(539.25 278.20) rotate(-45) scale(.925 1)">TPar</text>
<text class="y" transform="translate(370.2 190.06) scale(.925 1)">HIP</text>
<text class="x" transform="translate(548.91 278.20) rotate(-45) scale(.925 1)">HIP</text>
<text class="y" transform="translate(370.2 199.69) scale(.925 1)">AMY</text>
<text class="x" transform="translate(558.57 278.20) rotate(-45) scale(.925 1)">AMY</text>
<text class="y" transform="translate(370.2 209.32) scale(.925 1)">NAc</text>
<text class="x" transform="translate(568.23 278.20) rotate(-45) scale(.925 1)">NAc</text>
<text class="y" transform="translate(370.2 218.96) scale(.925 1)">GP</text>
<text class="x" transform="translate(577.88 278.20) rotate(-45) scale(.925 1)">GP</text>
<text class="y" transform="translate(370.2 228.59) scale(.925 1)">PUT</text>
<text class="x" transform="translate(587.54 278.20) rotate(-45) scale(.925 1)">PUT</text>
<text class="y" transform="translate(370.2 238.23) scale(.925 1)">CAU</text>
<text class="x" transform="translate(597.20 278.20) rotate(-45) scale(.925 1)">CAU</text>
<text class="y" transform="translate(370.2 247.86) scale(.925 1)">vTHA</text>
<text class="x" transform="translate(606.86 278.20) rotate(-45) scale(.925 1)">vTHA</text>
<text class="y" transform="translate(370.2 257.50) scale(.925 1)">dTHA</text>
<text class="x" transform="translate(616.51 278.20) rotate(-45) scale(.925 1)">dTHA</text>
<text class="y" transform="translate(370.2 267.13) scale(.925 1)">CEREB</text>
<text class="x" transform="translate(626.17 278.20) rotate(-45) scale(.925 1)">CEREB</text>
<path d="M376.10 24.32h-3.4M381.33 270.40v3.4M376.10 33.95h-3.4M390.99 270.40v3.4M376.10 43.59h-3.4M400.64 270.40v3.4M376.10 53.22h-3.4M410.30 270.40v3.4M376.10 62.86h-3.4M419.96 270.40v3.4M376.10 72.49h-3.4M429.62 270.40v3.4M376.10 82.12h-3.4M439.27 270.40v3.4M376.10 91.76h-3.4M448.93 270.40v3.4M376.10 101.39h-3.4M458.59 270.40v3.4M376.10 111.03h-3.4M468.25 270.40v3.4M376.10 120.66h-3.4M477.91 270.40v3.4M376.10 130.30h-3.4M487.56 270.40v3.4M376.10 139.93h-3.4M497.22 270.40v3.4M376.10 149.57h-3.4M506.88 270.40v3.4M376.10 159.20h-3.4M516.54 270.40v3.4M376.10 168.84h-3.4M526.19 270.40v3.4M376.10 178.47h-3.4M535.85 270.40v3.4M376.10 188.11h-3.4M545.51 270.40v3.4M376.10 197.74h-3.4M555.17 270.40v3.4M376.10 207.38h-3.4M564.83 270.40v3.4M376.10 217.01h-3.4M574.48 270.40v3.4M376.10 226.64h-3.4M584.14 270.40v3.4M376.10 236.28h-3.4M593.80 270.40v3.4M376.10 245.91h-3.4M603.46 270.40v3.4M376.10 255.55h-3.4M613.11 270.40v3.4M376.10 265.18h-3.4M622.77 270.40v3.4" stroke="#333" stroke-width="0.7" fill="none"/>
<rect x="633.00" y="19.50" width="9.00" height="250.50" fill="url(#g)" stroke="#777" stroke-width="0.7"/>
<text class="c" transform="translate(650.6 21.85) scale(1.09 1)">0.100</text>
<text class="c" transform="translate(650.6 53.16) scale(1.09 1)">0.075</text>
<text class="c" transform="translate(650.6 84.47) scale(1.09 1)">0.050</text>
<text class="c" transform="translate(650.6 115.79) scale(1.09 1)">0.025</text>
<text class="c" transform="translate(650.6 147.10) scale(1.09 1)">0</text>
<text class="c" transform="translate(650.6 178.41) scale(1.09 1)">−0.025</text>
<text class="c" transform="translate(650.6 209.72) scale(1.09 1)">−0.050</text>
<text class="c" transform="translate(650.6 241.04) scale(1.09 1)">−0.075</text>
<text class="c" transform="translate(650.6 272.35) scale(1.09 1)">−0.100</text>
<path d="M642.00 19.50h3.6M642.00 50.81h3.6M642.00 82.12h3.6M642.00 113.44h3.6M642.00 144.75h3.6M642.00 176.06h3.6M642.00 207.38h3.6M642.00 238.69h3.6M642.00 270.00h3.6" stroke="#333" stroke-width="0.7" fill="none"/>
<text class="l" transform="translate(679.20 144.75) rotate(90) scale(1.11 1)">FC change</text>
</g>
<g>
<text class="t" transform="translate(151.1 310.4) scale(1.12 1)">LSD</text>
<text class="u" transform="translate(151.1 318.7) scale(1.077 1)">(4 datasets; <tspan font-style="italic">n</tspan> = 119)</text>
<rect x="35.16" y="324.00" width="10.26" height="10.23" fill="#327cb8"/>
<rect x="44.82" y="324.00" width="10.26" height="10.23" fill="#2166ac"/>
<rect x="54.47" y="324.00" width="10.26" height="10.23" fill="#6aacd0"/>
<rect x="64.13" y="324.00" width="10.26" height="10.23" fill="#4393c3"/>
<rect x="73.79" y="324.00" width="10.26" height="10.23" fill="#327cb8"/>
<rect x="83.45" y="324.00" width="10.26" height="10.23" fill="#e4eef4"/>
<rect x="93.10" y="324.00" width="10.26" height="10.23" fill="#fddbc7"/>
<rect x="102.76" y="324.00" width="10.26" height="10.23" fill="#92c5de"/>
<rect x="112.42" y="324.00" width="10.26" height="10.23" fill="#d1e5f0"/>
<rect x="122.08" y="324.00" width="10.26" height="10.23" fill="#f7f7f7"/>
<rect x="131.73" y="324.00" width="10.26" height="10.23" fill="#fae9df"/>
<rect x="141.39" y="324.00" width="10.26" height="10.23" fill="#e4eef4"/>
<rect x="151.05" y="324.00" width="10.26" height="10.23" fill="#fae9df"/>
<rect x="160.71" y="324.00" width="10.26" height="10.23" fill="#fddbc7"/>
<rect x="170.37" y="324.00" width="10.26" height="10.23" fill="#6aacd0"/>
<rect x="180.02" y="324.00" width="10.26" height="10.23" fill="#d1e5f0"/>
<rect x="189.68" y="324.00" width="10.26" height="10.23" fill="#b2d5e7"/>
<rect x="199.34" y="324.00" width="10.26" height="10.23" fill="#d1e5f0"/>
<rect x="209.00" y="324.00" width="10.26" height="10.23" fill="#f4a582"/>
<rect x="218.65" y="324.00" width="10.26" height="10.23" fill="#fddbc7"/>
<rect x="228.31" y="324.00" width="19.92" height="10.23" fill="#b2182b"/>
<rect x="247.63" y="324.00" width="10.26" height="10.23" fill="#f4a582"/>
<rect x="257.28" y="324.00" width="19.32" height="10.23" fill="#fddbc7"/>
<rect x="25.50" y="333.63" width="10.26" height="10.23" fill="#053061"/>
<rect x="44.82" y="333.63" width="10.26" height="10.23" fill="#053061"/>
<rect x="54.47" y="333.63" width="10.26" height="10.23" fill="#2166ac"/>
<rect x="64.13" y="333.63" width="10.26" height="10.23" fill="#e4eef4"/>
<rect x="73.79" y="333.63" width="10.26" height="10.23" fill="#4393c3"/>
<rect x="83.45" y="333.63" width="10.26" height="10.23" fill="#fae9df"/>
<rect x="93.10" y="333.63" width="10.26" height="10.23" fill="#e58268"/>
<rect x="102.76" y="333.63" width="10.26" height="10.23" fill="#e4eef4"/>
<rect x="112.42" y="333.63" width="10.26" height="10.23" fill="#fddbc7"/>
<rect x="122.08" y="333.63" width="10.26" height="10.23" fill="#e58268"/>
<rect x="131.73" y="333.63" width="10.26" height="10.23" fill="#d6604d"/>
<rect x="141.39" y="333.63" width="10.26" height="10.23" fill="#f4a582"/>
<rect x="151.05" y="333.63" width="19.92" height="10.23" fill="#e58268"/>
<rect x="170.37" y="333.63" width="10.26" height="10.23" fill="#92c5de"/>
<rect x="180.02" y="333.63" width="10.26" height="10.23" fill="#f7f7f7"/>
<rect x="189.68" y="333.63" width="19.92" height="10.23" fill="#d1e5f0"/>
<rect x="209.00" y="333.63" width="10.26" height="10.23" fill="#d6604d"/>
<rect x="218.65" y="333.63" width="10.26" height="10.23" fill="#f8c0a4"/>
<rect x="228.31" y="333.63" width="19.92" height="10.23" fill="#67001f"/>
<rect x="247.63" y="333.63" width="10.26" height="10.23" fill="#c43c3c"/>
<rect x="257.28" y="333.63" width="19.32" height="10.23" fill="#d6604d"/>
<rect x="25.50" y="343.26" width="10.26" height="10.23" fill="#327cb8"/>
<rect x="35.16" y="343.26" width="10.26" height="10.23" fill="#053061"/>
<rect x="54.47" y="343.26" width="10.26" height="10.23" fill="#053061"/>
<rect x="64.13" y="343.26" width="19.92" height="10.23" fill="#d1e5f0"/>
<rect x="83.45" y="343.26" width="10.26" height="10.23" fill="#b2d5e7"/>
<rect x="93.10" y="343.26" width="10.26" height="10.23" fill="#f8c0a4"/>
<rect x="102.76" y="343.26" width="10.26" height="10.23" fill="#2166ac"/>
<rect x="112.42" y="343.26" width="10.26" height="10.23" fill="#6aacd0"/>
<rect x="122.08" y="343.26" width="10.26" height="10.23" fill="#e58268"/>
<rect x="131.73" y="343.26" width="10.26" height="10.23" fill="#f8c0a4"/>
<rect x="141.39" y="343.26" width="19.92" height="10.23" fill="#f7f7f7"/>
<rect x="160.71" y="343.26" width="10.26" height="10.23" fill="#e4eef4"/>
<rect x="170.37" y="343.26" width="10.26" height="10.23" fill="#327cb8"/>
<rect x="180.02" y="343.26" width="10.26" height="10.23" fill="#6aacd0"/>
<rect x="189.68" y="343.26" width="19.92" height="10.23" fill="#2166ac"/>
<rect x="209.00" y="343.26" width="10.26" height="10.23" fill="#fddbc7"/>
<rect x="218.65" y="343.26" width="10.26" height="10.23" fill="#f7f7f7"/>
<rect x="228.31" y="343.26" width="10.26" height="10.23" fill="#c43c3c"/>
<rect x="237.97" y="343.26" width="10.26" height="10.23" fill="#8c0c25"/>
<rect x="247.63" y="343.26" width="10.26" height="10.23" fill="#f4a582"/>
<rect x="257.28" y="343.26" width="10.26" height="10.23" fill="#f8c0a4"/>
<rect x="266.94" y="343.26" width="9.66" height="10.23" fill="#fddbc7"/>
<rect x="25.50" y="352.89" width="10.26" height="10.23" fill="#d1e5f0"/>
<rect x="35.16" y="352.89" width="19.92" height="10.23" fill="#053061"/>
<rect x="64.13" y="352.89" width="10.26" height="10.23" fill="#e4eef4"/>
<rect x="73.79" y="352.89" width="10.26" height="10.23" fill="#4393c3"/>
<rect x="83.45" y="352.89" width="10.26" height="10.23" fill="#b2d5e7"/>
<rect x="93.10" y="352.89" width="10.26" height="10.23" fill="#e4eef4"/>
<rect x="102.76" y="352.89" width="10.26" height="10.23" fill="#327cb8"/>
<rect x="112.42" y="352.89" width="10.26" height="10.23" fill="#b2d5e7"/>
<rect x="122.08" y="352.89" width="10.26" height="10.23" fill="#f8c0a4"/>
<rect x="131.73" y="352.89" width="10.26" height="10.23" fill="#fddbc7"/>
<rect x="141.39" y="352.89" width="10.26" height="10.23" fill="#d1e5f0"/>
<rect x="151.05" y="352.89" width="19.92" height="10.23" fill="#e4eef4"/>
<rect x="170.37" y="352.89" width="10.26" height="10.23" fill="#6aacd0"/>
<rect x="180.02" y="352.89" width="10.26" height="10.23" fill="#92c5de"/>
<rect x="189.68" y="352.89" width="10.26" height="10.23" fill="#327cb8"/>
<rect x="199.34" y="352.89" width="10.26" height="10.23" fill="#6aacd0"/>
<rect x="209.00" y="352.89" width="10.26" height="10.23" fill="#fddbc7"/>
<rect x="218.65" y="352.89" width="10.26" height="10.23" fill="#fae9df"/>
<rect x="228.31" y="352.89" width="19.92" height="10.23" fill="#b2182b"/>
<rect x="247.63" y="352.89" width="10.26" height="10.23" fill="#f4a582"/>
<rect x="257.28" y="352.89" width="19.32" height="10.23" fill="#f8c0a4"/>
<rect x="25.50" y="362.52" width="10.26" height="10.23" fill="#b2d5e7"/>
<rect x="35.16" y="362.52" width="10.26" height="10.23" fill="#f8c0a4"/>
<rect x="44.82" y="362.52" width="19.92" height="10.23" fill="#d6604d"/>
<rect x="73.79" y="362.52" width="10.26" height="10.23" fill="#4393c3"/>
<rect x="83.45" y="362.52" width="10.26" height="10.23" fill="#d1e5f0"/>
<rect x="93.10" y="362.52" width="10.26" height="10.23" fill="#b2d5e7"/>
<rect x="102.76" y="362.52" width="10.26" height="10.23" fill="#327cb8"/>
<rect x="112.42" y="362.52" width="10.26" height="10.23" fill="#6aacd0"/>
<rect x="122.08" y="362.52" width="19.92" height="10.23" fill="#b2d5e7"/>
<rect x="141.39" y="362.52" width="10.26" height="10.23" fill="#6aacd0"/>
<rect x="151.05" y="362.52" width="10.26" height="10.23" fill="#d1e5f0"/>
<rect x="160.71" y="362.52" width="10.26" height="10.23" fill="#f7f7f7"/>
<rect x="170.37" y="362.52" width="10.26" height="10.23" fill="#92c5de"/>
<rect x="180.02" y="362.52" width="10.26" height="10.23" fill="#d1e5f0"/>
<rect x="189.68" y="362.52" width="10.26" height="10.23" fill="#4393c3"/>
<rect x="199.34" y="362.52" width="10.26" height="10.23" fill="#b2d5e7"/>
<rect x="209.00" y="362.52" width="10.26" height="10.23" fill="#f7f7f7"/>
<rect x="218.65" y="362.52" width="10.26" height="10.23" fill="#d1e5f0"/>
<rect x="228.31" y="362.52" width="10.26" height="10.23" fill="#e58268"/>
<rect x="237.97" y="362.52" width="10.26" height="10.23" fill="#f8c0a4"/>
<rect x="247.63" y="362.52" width="10.26" height="10.23" fill="#fae9df"/>
<rect x="257.28" y="362.52" width="19.32" height="10.23" fill="#d1e5f0"/>
<rect x="25.50" y="372.15" width="10.26" height="10.23" fill="#b2d5e7"/>
<rect x="35.16" y="372.15" width="10.26" height="10.23" fill="#4393c3"/>
<rect x="44.82" y="372.15" width="10.26" height="10.23" fill="#f8c0a4"/>
<rect x="54.47" y="372.15" width="10.26" height="10.23" fill="#d1e5f0"/>
<rect x="64.13" y="372.15" width="10.26" height="10.23" fill="#fae9df"/>
<rect x="83.45" y="372.15" width="10.26" height="10.23" fill="#92c5de"/>
<rect x="93.10" y="372.15" width="10.26" height="10.23" fill="#fae9df"/>
<rect x="102.76" y="372.15" width="10.26" height="10.23" fill="#327cb8"/>
<rect x="112.42" y="372.15" width="10.26" height="10.23" fill="#6aacd0"/>
<rect x="122.08" y="372.15" width="10.26" height="10.23" fill="#fae9df"/>
<rect x="131.73" y="372.15" width="10.26" height="10.23" fill="#fddbc7"/>
<rect x="141.39" y="372.15" width="10.26" height="10.23" fill="#d1e5f0"/>
<rect x="151.05" y="372.15" width="19.92" height="10.23" fill="#fae9df"/>
<rect x="170.37" y="372.15" width="10.26" height="10.23" fill="#4393c3"/>
<rect x="180.02" y="372.15" width="10.26" height="10.23" fill="#b2d5e7"/>
<rect x="189.68" y="372.15" width="10.26" height="10.23" fill="#2166ac"/>
<rect x="199.34" y="372.15" width="10.26" height="10.23" fill="#4393c3"/>
<rect x="209.00" y="372.15" width="10.26" height="10.23" fill="#e4eef4"/>
<rect x="218.65" y="372.15" width="10.26" height="10.23" fill="#d1e5f0"/>
<rect x="228.31" y="372.15" width="19.92" height="10.23" fill="#e58268"/>
<rect x="247.63" y="372.15" width="10.26" height="10.23" fill="#fddbc7"/>
<rect x="257.28" y="372.15" width="10.26" height="10.23" fill="#fae9df"/>
<rect x="266.94" y="372.15" width="9.66" height="10.23" fill="#e4eef4"/>
<rect x="25.50" y="381.78" width="10.26" height="10.23" fill="#f4a582"/>
<rect x="35.16" y="381.78" width="10.26" height="10.23" fill="#fae9df"/>
<rect x="44.82" y="381.78" width="10.26" height="10.23" fill="#f7f7f7"/>
<rect x="54.47" y="381.78" width="10.26" height="10.23" fill="#d1e5f0"/>
<rect x="64.13" y="381.78" width="10.26" height="10.23" fill="#f4a582"/>
<rect x="73.79" y="381.78" width="10.26" height="10.23" fill="#e4eef4"/>
<rect x="93.10" y="381.78" width="10.26" height="10.23" fill="#b2d5e7"/>
<rect x="102.76" y="381.78" width="10.26" height="10.23" fill="#4393c3"/>
<rect x="112.42" y="381.78" width="10.26" height="10.23" fill="#d1e5f0"/>
<rect x="122.08" y="381.78" width="10.26" height="10.23" fill="#fae9df"/>
<rect x="131.73" y="381.78" width="10.26" height="10.23" fill="#f8c0a4"/>
<rect x="141.39" y="381.78" width="10.26" height="10.23" fill="#e4eef4"/>
<rect x="151.05" y="381.78" width="19.92" height="10.23" fill="#fddbc7"/>
<rect x="170.37" y="381.78" width="10.26" height="10.23" fill="#e4eef4"/>
<rect x="180.02" y="381.78" width="10.26" height="10.23" fill="#d1e5f0"/>
<rect x="189.68" y="381.78" width="10.26" height="10.23" fill="#92c5de"/>
<rect x="199.34" y="381.78" width="10.26" height="10.23" fill="#b2d5e7"/>
<rect x="209.00" y="381.78" width="10.26" height="10.23" fill="#f7f7f7"/>
<rect x="218.65" y="381.78" width="10.26" height="10.23" fill="#e4eef4"/>
<rect x="228.31" y="381.78" width="10.26" height="10.23" fill="#f4a582"/>
<rect x="237.97" y="381.78" width="10.26" height="10.23" fill="#d6604d"/>
<rect x="247.63" y="381.78" width="10.26" height="10.23" fill="#f8c0a4"/>
<rect x="257.28" y="381.78" width="10.26" height="10.23" fill="#fddbc7"/>
<rect x="266.94" y="381.78" width="9.66" height="10.23" fill="#fae9df"/>
<rect x="25.50" y="391.42" width="10.26" height="10.23" fill="#b2182b"/>
<rect x="35.16" y="391.42" width="10.26" height="10.23" fill="#8c0c25"/>
<rect x="44.82" y="391.42" width="10.26" height="10.23" fill="#67001f"/>
<rect x="54.47" y="391.42" width="10.26" height="10.23" fill="#f4a582"/>
<rect x="64.13" y="391.42" width="10.26" height="10.23" fill="#f8c0a4"/>
<rect x="73.79" y="391.42" width="10.26" height="10.23" fill="#c43c3c"/>
<rect x="83.45" y="391.42" width="10.26" height="10.23" fill="#d1e5f0"/>
<rect x="102.76" y="391.42" width="10.26" height="10.23" fill="#4393c3"/>
<rect x="112.42" y="391.42" width="10.26" height="10.23" fill="#b2d5e7"/>
<rect x="122.08" y="391.42" width="10.26" height="10.23" fill="#e4eef4"/>
<rect x="131.73" y="391.42" width="19.92" height="10.23" fill="#d1e5f0"/>
<rect x="151.05" y="391.42" width="10.26" height="10.23" fill="#f7f7f7"/>
<rect x="160.71" y="391.42" width="10.26" height="10.23" fill="#fae9df"/>
<rect x="170.37" y="391.42" width="10.26" height="10.23" fill="#e4eef4"/>
<rect x="180.02" y="391.42" width="10.26" height="10.23" fill="#b2d5e7"/>
<rect x="189.68" y="391.42" width="10.26" height="10.23" fill="#92c5de"/>
<rect x="199.34" y="391.42" width="19.92" height="10.23" fill="#d1e5f0"/>
<rect x="218.65" y="391.42" width="10.26" height="10.23" fill="#b2d5e7"/>
<rect x="228.31" y="391.42" width="10.26" height="10.23" fill="#fddbc7"/>
<rect x="237.97" y="391.42" width="10.26" height="10.23" fill="#f4a582"/>
<rect x="247.63" y="391.42" width="19.92" height="10.23" fill="#f7f7f7"/>
<rect x="266.94" y="391.42" width="9.66" height="10.23" fill="#92c5de"/>
<rect x="25.50" y="401.05" width="10.26" height="10.23" fill="#f4a582"/>
<rect x="35.16" y="401.05" width="10.26" height="10.23" fill="#e58268"/>
<rect x="44.82" y="401.05" width="19.92" height="10.23" fill="#d1e5f0"/>
<rect x="64.13" y="401.05" width="10.26" height="10.23" fill="#fddbc7"/>
<rect x="73.79" y="401.05" width="10.26" height="10.23" fill="#fae9df"/>
<rect x="83.45" y="401.05" width="19.92" height="10.23" fill="#d1e5f0"/>
<rect x="112.42" y="401.05" width="10.26" height="10.23" fill="#134b86"/>
<rect x="122.08" y="401.05" width="10.26" height="10.23" fill="#327cb8"/>
<rect x="131.73" y="401.05" width="10.26" height="10.23" fill="#134b86"/>
<rect x="141.39" y="401.05" width="10.26" height="10.23" fill="#6aacd0"/>
<rect x="151.05" y="401.05" width="10.26" height="10.23" fill="#327cb8"/>
<rect x="160.71" y="401.05" width="10.26" height="10.23" fill="#134b86"/>
<rect x="170.37" y="401.05" width="19.92" height="10.23" fill="#327cb8"/>
<rect x="189.68" y="401.05" width="10.26" height="10.23" fill="#2166ac"/>
<rect x="199.34" y="401.05" width="10.26" height="10.23" fill="#327cb8"/>
<rect x="209.00" y="401.05" width="10.26" height="10.23" fill="#f7f7f7"/>
<rect x="218.65" y="401.05" width="10.26" height="10.23" fill="#d1e5f0"/>
<rect x="228.31" y="401.05" width="10.26" height="10.23" fill="#e4eef4"/>
<rect x="237.97" y="401.05" width="10.26" height="10.23" fill="#f7f7f7"/>
<rect x="247.63" y="401.05" width="10.26" height="10.23" fill="#e4eef4"/>
<rect x="257.28" y="401.05" width="10.26" height="10.23" fill="#b2d5e7"/>
<rect x="266.94" y="401.05" width="9.66" height="10.23" fill="#d1e5f0"/>
<rect x="25.50" y="410.68" width="10.26" height="10.23" fill="#fddbc7"/>
<rect x="35.16" y="410.68" width="10.26" height="10.23" fill="#f8c0a4"/>
<rect x="44.82" y="410.68" width="10.26" height="10.23" fill="#d1e5f0"/>
<rect x="54.47" y="410.68" width="19.92" height="10.23" fill="#e4eef4"/>
<rect x="73.79" y="410.68" width="29.57" height="10.23" fill="#fae9df"/>
<rect x="102.76" y="410.68" width="10.26" height="10.23" fill="#327cb8"/>
<rect x="122.08" y="410.68" width="10.26" height="10.23" fill="#92c5de"/>
<rect x="131.73" y="410.68" width="10.26" height="10.23" fill="#4393c3"/>
<rect x="141.39" y="410.68" width="10.26" height="10.23" fill="#d1e5f0"/>
<rect x="151.05" y="410.68" width="10.26" height="10.23" fill="#92c5de"/>
<rect x="160.71" y="410.68" width="10.26" height="10.23" fill="#4393c3"/>
<rect x="170.37" y="410.68" width="10.26" height="10.23" fill="#e4eef4"/>
<rect x="180.02" y="410.68" width="10.26" height="10.23" fill="#4393c3"/>
<rect x="189.68" y="410.68" width="10.26" height="10.23" fill="#6aacd0"/>
<rect x="199.34" y="410.68" width="10.26" height="10.23" fill="#b2d5e7"/>
<rect x="209.00" y="410.68" width="19.92" height="10.23" fill="#fae9df"/>
<rect x="228.31" y="410.68" width="10.26" height="10.23" fill="#f4a582"/>
<rect x="237.97" y="410.68" width="19.92" height="10.23" fill="#f8c0a4"/>
<rect x="257.28" y="410.68" width="10.26" height="10.23" fill="#fae9df"/>
<rect x="266.94" y="410.68" width="9.66" height="10.23" fill="#f7f7f7"/>
<rect x="25.50" y="420.31" width="10.26" height="10.23" fill="#f4a582"/>
<rect x="35.16" y="420.31" width="10.26" height="10.23" fill="#b2182b"/>
<rect x="44.82" y="420.31" width="10.26" height="10.23" fill="#67001f"/>
<rect x="54.47" y="420.31" width="10.26" height="10.23" fill="#d6604d"/>
<rect x="64.13" y="420.31" width="10.26" height="10.23" fill="#f7f7f7"/>
<rect x="73.79" y="420.31" width="10.26" height="10.23" fill="#d6604d"/>
<rect x="83.45" y="420.31" width="19.92" height="10.23" fill="#f8c0a4"/>
<rect x="102.76" y="420.31" width="10.26" height="10.23" fill="#92c5de"/>
<rect x="112.42" y="420.31" width="10.26" height="10.23" fill="#b2d5e7"/>
<rect x="131.73" y="420.31" width="10.26" height="10.23" fill="#d1e5f0"/>
<rect x="141.39" y="420.31" width="10.26" height="10.23" fill="#fae9df"/>
<rect x="151.05" y="420.31" width="10.26" height="10.23" fill="#f8c0a4"/>
<rect x="160.71" y="420.31" width="10.26" height="10.23" fill="#fddbc7"/>
<rect x="170.37" y="420.31" width="10.26" height="10.23" fill="#f7f7f7"/>
<rect x="180.02" y="420.31" width="10.26" height="10.23" fill="#fddbc7"/>
<rect x="189.68" y="420.31" width="10.26" height="10.23" fill="#4393c3"/>
<rect x="199.34" y="420.31" width="10.26" height="10.23" fill="#b2d5e7"/>
<rect x="209.00" y="420.31" width="10.26" height="10.23" fill="#fae9df"/>
<rect x="218.65" y="420.31" width="10.26" height="10.23" fill="#d1e5f0"/>
<rect x="228.31" y="420.31" width="10.26" height="10.23" fill="#d6604d"/>
<rect x="237.97" y="420.31" width="10.26" height="10.23" fill="#e58268"/>
<rect x="247.63" y="420.31" width="10.26" height="10.23" fill="#f8c0a4"/>
<rect x="257.28" y="420.31" width="10.26" height="10.23" fill="#fddbc7"/>
<rect x="266.94" y="420.31" width="9.66" height="10.23" fill="#f7f7f7"/>
<rect x="25.50" y="429.94" width="10.26" height="10.23" fill="#c43c3c"/>
<rect x="35.16" y="429.94" width="19.92" height="10.23" fill="#67001f"/>
<rect x="54.47" y="429.94" width="10.26" height="10.23" fill="#8c0c25"/>
<rect x="64.13" y="429.94" width="10.26" height="10.23" fill="#f4a582"/>
<rect x="73.79" y="429.94" width="10.26" height="10.23" fill="#67001f"/>
<rect x="83.45" y="429.94" width="10.26" height="10.23" fill="#8c0c25"/>
<rect x="93.10" y="429.94" width="10.26" height="10.23" fill="#fae9df"/>
<rect x="102.76" y="429.94" width="10.26" height="10.23" fill="#4393c3"/>
<rect x="112.42" y="429.94" width="10.26" height="10.23" fill="#6aacd0"/>
<rect x="122.08" y="429.94" width="10.26" height="10.23" fill="#f7f7f7"/>
<rect x="141.39" y="429.94" width="10.26" height="10.23" fill="#92c5de"/>
<rect x="151.05" y="429.94" width="19.92" height="10.23" fill="#6aacd0"/>
<rect x="170.37" y="429.94" width="19.92" height="10.23" fill="#d1e5f0"/>
<rect x="189.68" y="429.94" width="10.26" height="10.23" fill="#92c5de"/>
<rect x="199.34" y="429.94" width="10.26" height="10.23" fill="#e4eef4"/>
<rect x="209.00" y="429.94" width="10.26" height="10.23" fill="#f7f7f7"/>
<rect x="218.65" y="429.94" width="10.26" height="10.23" fill="#e4eef4"/>
<rect x="228.31" y="429.94" width="10.26" height="10.23" fill="#f4a582"/>
<rect x="237.97" y="429.94" width="10.26" height="10.23" fill="#f8c0a4"/>
<rect x="247.63" y="429.94" width="10.26" height="10.23" fill="#fae9df"/>
<rect x="257.28" y="429.94" width="10.26" height="10.23" fill="#e4eef4"/>
<rect x="266.94" y="429.94" width="9.66" height="10.23" fill="#d1e5f0"/>
<rect x="25.50" y="439.57" width="10.26" height="10.23" fill="#e58268"/>
<rect x="35.16" y="439.57" width="19.92" height="10.23" fill="#b2182b"/>
<rect x="54.47" y="439.57" width="10.26" height="10.23" fill="#f8c0a4"/>
<rect x="64.13" y="439.57" width="10.26" height="10.23" fill="#f7f7f7"/>
<rect x="73.79" y="439.57" width="10.26" height="10.23" fill="#e58268"/>
<rect x="83.45" y="439.57" width="10.26" height="10.23" fill="#f8c0a4"/>
<rect x="93.10" y="439.57" width="10.26" height="10.23" fill="#f7f7f7"/>
<rect x="102.76" y="439.57" width="10.26" height="10.23" fill="#fae9df"/>
<rect x="112.42" y="439.57" width="10.26" height="10.23" fill="#fddbc7"/>
<rect x="122.08" y="439.57" width="10.26" height="10.23" fill="#f4a582"/>
<rect x="131.73" y="439.57" width="10.26" height="10.23" fill="#e4eef4"/>
<rect x="151.05" y="439.57" width="10.26" height="10.23" fill="#d1e5f0"/>
<rect x="160.71" y="439.57" width="10.26" height="10.23" fill="#f7f7f7"/>
<rect x="170.37" y="439.57" width="19.92" height="10.23" fill="#92c5de"/>
<rect x="189.68" y="439.57" width="10.26" height="10.23" fill="#d1e5f0"/>
<rect x="199.34" y="439.57" width="19.92" height="10.23" fill="#fae9df"/>
<rect x="218.65" y="439.57" width="10.26" height="10.23" fill="#d1e5f0"/>
<rect x="228.31" y="439.57" width="10.26" height="10.23" fill="#f4a582"/>
<rect x="237.97" y="439.57" width="10.26" height="10.23" fill="#e58268"/>
<rect x="247.63" y="439.57" width="10.26" height="10.23" fill="#fae9df"/>
<rect x="257.28" y="439.57" width="10.26" height="10.23" fill="#e4eef4"/>
<rect x="266.94" y="439.57" width="9.66" height="10.23" fill="#d1e5f0"/>
<rect x="25.50" y="449.20" width="10.26" height="10.23" fill="#d6604d"/>
<rect x="35.16" y="449.20" width="10.26" height="10.23" fill="#8c0c25"/>
<rect x="44.82" y="449.20" width="10.26" height="10.23" fill="#d6604d"/>
<rect x="54.47" y="449.20" width="10.26" height="10.23" fill="#f8c0a4"/>
<rect x="64.13" y="449.20" width="10.26" height="10.23" fill="#f4a582"/>
<rect x="73.79" y="449.20" width="10.26" height="10.23" fill="#b2182b"/>
<rect x="83.45" y="449.20" width="10.26" height="10.23" fill="#d6604d"/>
<rect x="93.10" y="449.20" width="10.26" height="10.23" fill="#f8c0a4"/>
<rect x="102.76" y="449.20" width="10.26" height="10.23" fill="#92c5de"/>
<rect x="112.42" y="449.20" width="10.26" height="10.23" fill="#b2d5e7"/>
<rect x="122.08" y="449.20" width="10.26" height="10.23" fill="#c43c3c"/>
<rect x="131.73" y="449.20" width="10.26" height="10.23" fill="#92c5de"/>
<rect x="141.39" y="449.20" width="10.26" height="10.23" fill="#f7f7f7"/>
<rect x="160.71" y="449.20" width="10.26" height="10.23" fill="#b2d5e7"/>
<rect x="170.37" y="449.20" width="10.26" height="10.23" fill="#6aacd0"/>
<rect x="180.02" y="449.20" width="19.92" height="10.23" fill="#92c5de"/>
<rect x="199.34" y="449.20" width="10.26" height="10.23" fill="#d1e5f0"/>
<rect x="209.00" y="449.20" width="10.26" height="10.23" fill="#fae9df"/>
<rect x="218.65" y="449.20" width="10.26" height="10.23" fill="#e4eef4"/>
<rect x="228.31" y="449.20" width="10.26" height="10.23" fill="#e58268"/>
<rect x="237.97" y="449.20" width="10.26" height="10.23" fill="#d6604d"/>
<rect x="247.63" y="449.20" width="10.26" height="10.23" fill="#fae9df"/>
<rect x="257.28" y="449.20" width="10.26" height="10.23" fill="#f7f7f7"/>
<rect x="266.94" y="449.20" width="9.66" height="10.23" fill="#e4eef4"/>
<rect x="25.50" y="458.83" width="10.26" height="10.23" fill="#d6604d"/>
<rect x="35.16" y="458.83" width="10.26" height="10.23" fill="#b2182b"/>
<rect x="44.82" y="458.83" width="10.26" height="10.23" fill="#f4a582"/>
<rect x="54.47" y="458.83" width="10.26" height="10.23" fill="#fddbc7"/>
<rect x="64.13" y="458.83" width="10.26" height="10.23" fill="#d6604d"/>
<rect x="73.79" y="458.83" width="10.26" height="10.23" fill="#b2182b"/>
<rect x="83.45" y="458.83" width="10.26" height="10.23" fill="#e58268"/>
<rect x="93.10" y="458.83" width="10.26" height="10.23" fill="#f8c0a4"/>
<rect x="102.76" y="458.83" width="10.26" height="10.23" fill="#2166ac"/>
<rect x="112.42" y="458.83" width="10.26" height="10.23" fill="#4393c3"/>
<rect x="122.08" y="458.83" width="10.26" height="10.23" fill="#f8c0a4"/>
<rect x="131.73" y="458.83" width="10.26" height="10.23" fill="#6aacd0"/>
<rect x="141.39" y="458.83" width="10.26" height="10.23" fill="#f8c0a4"/>
<rect x="151.05" y="458.83" width="10.26" height="10.23" fill="#92c5de"/>
<rect x="170.37" y="458.83" width="10.26" height="10.23" fill="#f7f7f7"/>
<rect x="180.02" y="458.83" width="10.26" height="10.23" fill="#4393c3"/>
<rect x="189.68" y="458.83" width="10.26" height="10.23" fill="#92c5de"/>
<rect x="199.34" y="458.83" width="10.26" height="10.23" fill="#d1e5f0"/>
<rect x="209.00" y="458.83" width="10.26" height="10.23" fill="#f8c0a4"/>
<rect x="218.65" y="458.83" width="10.26" height="10.23" fill="#fae9df"/>
<rect x="228.31" y="458.83" width="10.26" height="10.23" fill="#c43c3c"/>
<rect x="237.97" y="458.83" width="10.26" height="10.23" fill="#d6604d"/>
<rect x="247.63" y="458.83" width="10.26" height="10.23" fill="#f8c0a4"/>
<rect x="257.28" y="458.83" width="19.32" height="10.23" fill="#fddbc7"/>
<rect x="25.50" y="468.46" width="10.26" height="10.23" fill="#d1e5f0"/>
<rect x="35.16" y="468.46" width="10.26" height="10.23" fill="#6aacd0"/>
<rect x="44.82" y="468.46" width="10.26" height="10.23" fill="#92c5de"/>
<rect x="54.47" y="468.46" width="10.26" height="10.23" fill="#d1e5f0"/>
<rect x="64.13" y="468.46" width="10.26" height="10.23" fill="#fae9df"/>
<rect x="73.79" y="468.46" width="10.26" height="10.23" fill="#e4eef4"/>
<rect x="83.45" y="468.46" width="19.92" height="10.23" fill="#f8c0a4"/>
<rect x="102.76" y="468.46" width="10.26" height="10.23" fill="#d1e5f0"/>
<rect x="112.42" y="468.46" width="10.26" height="10.23" fill="#fddbc7"/>
<rect x="122.08" y="468.46" width="10.26" height="10.23" fill="#f4a582"/>
<rect x="131.73" y="468.46" width="10.26" height="10.23" fill="#f8c0a4"/>
<rect x="141.39" y="468.46" width="10.26" height="10.23" fill="#e4eef4"/>
<rect x="151.05" y="468.46" width="10.26" height="10.23" fill="#b2d5e7"/>
<rect x="160.71" y="468.46" width="10.26" height="10.23" fill="#f8c0a4"/>
<rect x="180.02" y="468.46" width="10.26" height="10.23" fill="#d1e5f0"/>
<rect x="189.68" y="468.46" width="10.26" height="10.23" fill="#92c5de"/>
<rect x="199.34" y="468.46" width="10.26" height="10.23" fill="#d1e5f0"/>
<rect x="209.00" y="468.46" width="10.26" height="10.23" fill="#fddbc7"/>
<rect x="218.65" y="468.46" width="10.26" height="10.23" fill="#f7f7f7"/>
<rect x="228.31" y="468.46" width="19.92" height="10.23" fill="#d6604d"/>
<rect x="247.63" y="468.46" width="10.26" height="10.23" fill="#f8c0a4"/>
<rect x="257.28" y="468.46" width="10.26" height="10.23" fill="#e4eef4"/>
<rect x="266.94" y="468.46" width="9.66" height="10.23" fill="#f7f7f7"/>
<rect x="25.50" y="478.09" width="10.26" height="10.23" fill="#e58268"/>
<rect x="35.16" y="478.09" width="10.26" height="10.23" fill="#fddbc7"/>
<rect x="44.82" y="478.09" width="19.92" height="10.23" fill="#e4eef4"/>
<rect x="64.13" y="478.09" width="10.26" height="10.23" fill="#d6604d"/>
<rect x="73.79" y="478.09" width="10.26" height="10.23" fill="#f8c0a4"/>
<rect x="83.45" y="478.09" width="10.26" height="10.23" fill="#fae9df"/>
<rect x="93.10" y="478.09" width="10.26" height="10.23" fill="#f7f7f7"/>
<rect x="102.76" y="478.09" width="10.26" height="10.23" fill="#d1e5f0"/>
<rect x="112.42" y="478.09" width="10.26" height="10.23" fill="#6aacd0"/>
<rect x="122.08" y="478.09" width="10.26" height="10.23" fill="#d6604d"/>
<rect x="131.73" y="478.09" width="10.26" height="10.23" fill="#fddbc7"/>
<rect x="141.39" y="478.09" width="10.26" height="10.23" fill="#f7f7f7"/>
<rect x="151.05" y="478.09" width="10.26" height="10.23" fill="#b2d5e7"/>
<rect x="160.71" y="478.09" width="10.26" height="10.23" fill="#327cb8"/>
<rect x="170.37" y="478.09" width="10.26" height="10.23" fill="#f8c0a4"/>
<rect x="189.68" y="478.09" width="10.26" height="10.23" fill="#6aacd0"/>
<rect x="199.34" y="478.09" width="10.26" height="10.23" fill="#b2d5e7"/>
<rect x="209.00" y="478.09" width="19.92" height="10.23" fill="#fae9df"/>
<rect x="228.31" y="478.09" width="10.26" height="10.23" fill="#d6604d"/>
<rect x="237.97" y="478.09" width="10.26" height="10.23" fill="#e58268"/>
<rect x="247.63" y="478.09" width="10.26" height="10.23" fill="#f4a582"/>
<rect x="257.28" y="478.09" width="19.32" height="10.23" fill="#fddbc7"/>
<rect x="25.50" y="487.72" width="10.26" height="10.23" fill="#f8c0a4"/>
<rect x="35.16" y="487.72" width="10.26" height="10.23" fill="#fae9df"/>
<rect x="44.82" y="487.72" width="10.26" height="10.23" fill="#6aacd0"/>
<rect x="54.47" y="487.72" width="10.26" height="10.23" fill="#92c5de"/>
<rect x="64.13" y="487.72" width="10.26" height="10.23" fill="#e4eef4"/>
<rect x="73.79" y="487.72" width="10.26" height="10.23" fill="#92c5de"/>
<rect x="83.45" y="487.72" width="10.26" height="10.23" fill="#e4eef4"/>
<rect x="93.10" y="487.72" width="10.26" height="10.23" fill="#fae9df"/>
<rect x="102.76" y="487.72" width="10.26" height="10.23" fill="#92c5de"/>
<rect x="112.42" y="487.72" width="10.26" height="10.23" fill="#d1e5f0"/>
<rect x="122.08" y="487.72" width="10.26" height="10.23" fill="#b2d5e7"/>
<rect x="131.73" y="487.72" width="10.26" height="10.23" fill="#f7f7f7"/>
<rect x="141.39" y="487.72" width="10.26" height="10.23" fill="#f8c0a4"/>
<rect x="151.05" y="487.72" width="19.92" height="10.23" fill="#e4eef4"/>
<rect x="170.37" y="487.72" width="19.92" height="10.23" fill="#d1e5f0"/>
<rect x="199.34" y="487.72" width="10.26" height="10.23" fill="#6aacd0"/>
<rect x="209.00" y="487.72" width="10.26" height="10.23" fill="#b2d5e7"/>
<rect x="218.65" y="487.72" width="29.57" height="10.23" fill="#fae9df"/>
<rect x="247.63" y="487.72" width="10.26" height="10.23" fill="#fddbc7"/>
<rect x="257.28" y="487.72" width="19.32" height="10.23" fill="#f7f7f7"/>
<rect x="25.50" y="497.35" width="10.26" height="10.23" fill="#fae9df"/>
<rect x="35.16" y="497.35" width="10.26" height="10.23" fill="#e4eef4"/>
<rect x="44.82" y="497.35" width="10.26" height="10.23" fill="#327cb8"/>
<rect x="54.47" y="497.35" width="10.26" height="10.23" fill="#92c5de"/>
<rect x="64.13" y="497.35" width="10.26" height="10.23" fill="#e4eef4"/>
<rect x="73.79" y="497.35" width="10.26" height="10.23" fill="#92c5de"/>
<rect x="83.45" y="497.35" width="10.26" height="10.23" fill="#d1e5f0"/>
<rect x="93.10" y="497.35" width="10.26" height="10.23" fill="#fae9df"/>
<rect x="102.76" y="497.35" width="10.26" height="10.23" fill="#6aacd0"/>
<rect x="112.42" y="497.35" width="19.92" height="10.23" fill="#d1e5f0"/>
<rect x="131.73" y="497.35" width="10.26" height="10.23" fill="#fddbc7"/>
<rect x="141.39" y="497.35" width="10.26" height="10.23" fill="#f4a582"/>
<rect x="151.05" y="497.35" width="10.26" height="10.23" fill="#fae9df"/>
<rect x="160.71" y="497.35" width="10.26" height="10.23" fill="#f7f7f7"/>
<rect x="170.37" y="497.35" width="10.26" height="10.23" fill="#fae9df"/>
<rect x="180.02" y="497.35" width="10.26" height="10.23" fill="#d1e5f0"/>
<rect x="189.68" y="497.35" width="10.26" height="10.23" fill="#b2d5e7"/>
<rect x="209.00" y="497.35" width="10.26" height="10.23" fill="#d1e5f0"/>
<rect x="218.65" y="497.35" width="29.57" height="10.23" fill="#fae9df"/>
<rect x="247.63" y="497.35" width="10.26" height="10.23" fill="#f8c0a4"/>
<rect x="257.28" y="497.35" width="19.32" height="10.23" fill="#fae9df"/>
<rect x="25.50" y="506.98" width="10.26" height="10.23" fill="#e58268"/>
<rect x="35.16" y="506.98" width="10.26" height="10.23" fill="#d6604d"/>
<rect x="44.82" y="506.98" width="19.92" height="10.23" fill="#fddbc7"/>
<rect x="64.13" y="506.98" width="10.26" height="10.23" fill="#f7f7f7"/>
<rect x="73.79" y="506.98" width="10.26" height="10.23" fill="#e4eef4"/>
<rect x="83.45" y="506.98" width="10.26" height="10.23" fill="#d1e5f0"/>
<rect x="93.10" y="506.98" width="10.26" height="10.23" fill="#92c5de"/>
<rect x="102.76" y="506.98" width="10.26" height="10.23" fill="#fddbc7"/>
<rect x="112.42" y="506.98" width="48.89" height="10.23" fill="#e4eef4"/>
<rect x="160.71" y="506.98" width="19.92" height="10.23" fill="#fddbc7"/>
<rect x="180.02" y="506.98" width="10.26" height="10.23" fill="#fae9df"/>
<rect x="189.68" y="506.98" width="19.92" height="10.23" fill="#d1e5f0"/>
<rect x="218.65" y="506.98" width="10.26" height="10.23" fill="#e4eef4"/>
<rect x="228.31" y="506.98" width="10.26" height="10.23" fill="#fae9df"/>
<rect x="237.97" y="506.98" width="10.26" height="10.23" fill="#e4eef4"/>
<rect x="247.63" y="506.98" width="19.92" height="10.23" fill="#fae9df"/>
<rect x="266.94" y="506.98" width="9.66" height="10.23" fill="#e4eef4"/>
<rect x="25.50" y="516.62" width="10.26" height="10.23" fill="#f8c0a4"/>
<rect x="35.16" y="516.62" width="10.26" height="10.23" fill="#e58268"/>
<rect x="44.82" y="516.62" width="19.92" height="10.23" fill="#fddbc7"/>
<rect x="64.13" y="516.62" width="29.57" height="10.23" fill="#f7f7f7"/>
<rect x="93.10" y="516.62" width="10.26" height="10.23" fill="#d1e5f0"/>
<rect x="102.76" y="516.62" width="10.26" height="10.23" fill="#fae9df"/>
<rect x="112.42" y="516.62" width="10.26" height="10.23" fill="#fddbc7"/>
<rect x="122.08" y="516.62" width="19.92" height="10.23" fill="#f7f7f7"/>
<rect x="141.39" y="516.62" width="10.26" height="10.23" fill="#e4eef4"/>
<rect x="151.05" y="516.62" width="10.26" height="10.23" fill="#f7f7f7"/>
<rect x="160.71" y="516.62" width="19.92" height="10.23" fill="#fddbc7"/>
<rect x="180.02" y="516.62" width="10.26" height="10.23" fill="#f8c0a4"/>
<rect x="189.68" y="516.62" width="19.92" height="10.23" fill="#fddbc7"/>
<rect x="209.00" y="516.62" width="10.26" height="10.23" fill="#e4eef4"/>
<rect x="228.31" y="516.62" width="19.92" height="10.23" fill="#e4eef4"/>
<rect x="247.63" y="516.62" width="19.92" height="10.23" fill="#d1e5f0"/>
<rect x="266.94" y="516.62" width="9.66" height="10.23" fill="#b2d5e7"/>
<rect x="25.50" y="526.25" width="10.26" height="10.23" fill="#c43c3c"/>
<rect x="35.16" y="526.25" width="10.26" height="10.23" fill="#67001f"/>
<rect x="44.82" y="526.25" width="10.26" height="10.23" fill="#c43c3c"/>
<rect x="54.47" y="526.25" width="10.26" height="10.23" fill="#d6604d"/>
<rect x="64.13" y="526.25" width="19.92" height="10.23" fill="#f4a582"/>
<rect x="83.45" y="526.25" width="10.26" height="10.23" fill="#fae9df"/>
<rect x="93.10" y="526.25" width="10.26" height="10.23" fill="#b2d5e7"/>
<rect x="102.76" y="526.25" width="10.26" height="10.23" fill="#d1e5f0"/>
<rect x="112.42" y="526.25" width="19.92" height="10.23" fill="#fddbc7"/>
<rect x="131.73" y="526.25" width="10.26" height="10.23" fill="#fae9df"/>
<rect x="141.39" y="526.25" width="10.26" height="10.23" fill="#d1e5f0"/>
<rect x="151.05" y="526.25" width="10.26" height="10.23" fill="#fddbc7"/>
<rect x="160.71" y="526.25" width="10.26" height="10.23" fill="#f4a582"/>
<rect x="170.37" y="526.25" width="10.26" height="10.23" fill="#e58268"/>
<rect x="180.02" y="526.25" width="10.26" height="10.23" fill="#f4a582"/>
<rect x="189.68" y="526.25" width="10.26" height="10.23" fill="#f7f7f7"/>
<rect x="199.34" y="526.25" width="10.26" height="10.23" fill="#e4eef4"/>
<rect x="209.00" y="526.25" width="10.26" height="10.23" fill="#b2d5e7"/>
<rect x="218.65" y="526.25" width="10.26" height="10.23" fill="#e4eef4"/>
<rect x="237.97" y="526.25" width="29.57" height="10.23" fill="#f4a582"/>
<rect x="266.94" y="526.25" width="9.66" height="10.23" fill="#fddbc7"/>
<rect x="25.50" y="535.88" width="10.26" height="10.23" fill="#c43c3c"/>
<rect x="35.16" y="535.88" width="10.26" height="10.23" fill="#67001f"/>
<rect x="44.82" y="535.88" width="10.26" height="10.23" fill="#8c0c25"/>
<rect x="54.47" y="535.88" width="10.26" height="10.23" fill="#c43c3c"/>
<rect x="64.13" y="535.88" width="10.26" height="10.23" fill="#fae9df"/>
<rect x="73.79" y="535.88" width="10.26" height="10.23" fill="#f4a582"/>
<rect x="83.45" y="535.88" width="10.26" height="10.23" fill="#f8c0a4"/>
<rect x="93.10" y="535.88" width="10.26" height="10.23" fill="#f7f7f7"/>
<rect x="102.76" y="535.88" width="19.92" height="10.23" fill="#e4eef4"/>
<rect x="122.08" y="535.88" width="10.26" height="10.23" fill="#fddbc7"/>
<rect x="131.73" y="535.88" width="10.26" height="10.23" fill="#e4eef4"/>
<rect x="141.39" y="535.88" width="10.26" height="10.23" fill="#fddbc7"/>
<rect x="151.05" y="535.88" width="10.26" height="10.23" fill="#f8c0a4"/>
<rect x="160.71" y="535.88" width="19.92" height="10.23" fill="#f4a582"/>
<rect x="180.02" y="535.88" width="10.26" height="10.23" fill="#fddbc7"/>
<rect x="189.68" y="535.88" width="10.26" height="10.23" fill="#f7f7f7"/>
<rect x="199.34" y="535.88" width="10.26" height="10.23" fill="#e4eef4"/>
<rect x="209.00" y="535.88" width="10.26" height="10.23" fill="#92c5de"/>
<rect x="218.65" y="535.88" width="10.26" height="10.23" fill="#e4eef4"/>
<rect x="228.31" y="535.88" width="10.26" height="10.23" fill="#b2d5e7"/>
<rect x="247.63" y="535.88" width="10.26" height="10.23" fill="#f8c0a4"/>
<rect x="257.28" y="535.88" width="10.26" height="10.23" fill="#f4a582"/>
<rect x="266.94" y="535.88" width="9.66" height="10.23" fill="#fae9df"/>
<rect x="25.50" y="545.51" width="10.26" height="10.23" fill="#e58268"/>
<rect x="35.16" y="545.51" width="10.26" height="10.23" fill="#b2182b"/>
<rect x="44.82" y="545.51" width="19.92" height="10.23" fill="#e58268"/>
<rect x="64.13" y="545.51" width="10.26" height="10.23" fill="#fddbc7"/>
<rect x="73.79" y="545.51" width="10.26" height="10.23" fill="#f8c0a4"/>
<rect x="83.45" y="545.51" width="10.26" height="10.23" fill="#fddbc7"/>
<rect x="93.10" y="545.51" width="10.26" height="10.23" fill="#d1e5f0"/>
<rect x="102.76" y="545.51" width="10.26" height="10.23" fill="#fae9df"/>
<rect x="112.42" y="545.51" width="10.26" height="10.23" fill="#f4a582"/>
<rect x="122.08" y="545.51" width="10.26" height="10.23" fill="#fddbc7"/>
<rect x="131.73" y="545.51" width="19.92" height="10.23" fill="#e4eef4"/>
<rect x="151.05" y="545.51" width="10.26" height="10.23" fill="#f7f7f7"/>
<rect x="160.71" y="545.51" width="19.92" height="10.23" fill="#f8c0a4"/>
<rect x="180.02" y="545.51" width="19.92" height="10.23" fill="#f4a582"/>
<rect x="199.34" y="545.51" width="10.26" height="10.23" fill="#f8c0a4"/>
<rect x="209.00" y="545.51" width="10.26" height="10.23" fill="#e4eef4"/>
<rect x="218.65" y="545.51" width="10.26" height="10.23" fill="#d1e5f0"/>
<rect x="228.31" y="545.51" width="19.92" height="10.23" fill="#e4eef4"/>
<rect x="257.28" y="545.51" width="10.26" height="10.23" fill="#92c5de"/>
<rect x="266.94" y="545.51" width="9.66" height="10.23" fill="#d1e5f0"/>
<rect x="25.50" y="555.14" width="10.26" height="10.23" fill="#f4a582"/>
<rect x="35.16" y="555.14" width="10.26" height="10.23" fill="#c43c3c"/>
<rect x="44.82" y="555.14" width="10.26" height="10.23" fill="#d6604d"/>
<rect x="54.47" y="555.14" width="10.26" height="10.23" fill="#e58268"/>
<rect x="64.13" y="555.14" width="10.26" height="10.23" fill="#fae9df"/>
<rect x="73.79" y="555.14" width="10.26" height="10.23" fill="#f4a582"/>
<rect x="83.45" y="555.14" width="10.26" height="10.23" fill="#f8c0a4"/>
<rect x="93.10" y="555.14" width="19.92" height="10.23" fill="#f7f7f7"/>
<rect x="112.42" y="555.14" width="19.92" height="10.23" fill="#fddbc7"/>
<rect x="131.73" y="555.14" width="29.57" height="10.23" fill="#fae9df"/>
<rect x="160.71" y="555.14" width="10.26" height="10.23" fill="#f8c0a4"/>
<rect x="170.37" y="555.14" width="10.26" height="10.23" fill="#fddbc7"/>
<rect x="180.02" y="555.14" width="10.26" height="10.23" fill="#f8c0a4"/>
<rect x="189.68" y="555.14" width="19.92" height="10.23" fill="#fddbc7"/>
<rect x="209.00" y="555.14" width="10.26" height="10.23" fill="#e4eef4"/>
<rect x="218.65" y="555.14" width="10.26" height="10.23" fill="#d1e5f0"/>
<rect x="228.31" y="555.14" width="19.92" height="10.23" fill="#fae9df"/>
<rect x="247.63" y="555.14" width="10.26" height="10.23" fill="#4393c3"/>
<rect x="266.94" y="555.14" width="9.66" height="10.23" fill="#b2d5e7"/>
<rect x="25.50" y="564.77" width="10.26" height="9.63" fill="#d6604d"/>
<rect x="35.16" y="564.77" width="10.26" height="9.63" fill="#8c0c25"/>
<rect x="44.82" y="564.77" width="19.92" height="9.63" fill="#c43c3c"/>
<rect x="64.13" y="564.77" width="10.26" height="9.63" fill="#fae9df"/>
<rect x="73.79" y="564.77" width="10.26" height="9.63" fill="#fddbc7"/>
<rect x="83.45" y="564.77" width="10.26" height="9.63" fill="#fae9df"/>
<rect x="93.10" y="564.77" width="10.26" height="9.63" fill="#4393c3"/>
<rect x="102.76" y="564.77" width="10.26" height="9.63" fill="#f8c0a4"/>
<rect x="112.42" y="564.77" width="10.26" height="9.63" fill="#fae9df"/>
<rect x="122.08" y="564.77" width="10.26" height="9.63" fill="#e4eef4"/>
<rect x="131.73" y="564.77" width="10.26" height="9.63" fill="#d1e5f0"/>
<rect x="141.39" y="564.77" width="10.26" height="9.63" fill="#b2d5e7"/>
<rect x="151.05" y="564.77" width="10.26" height="9.63" fill="#d1e5f0"/>
<rect x="160.71" y="564.77" width="19.92" height="9.63" fill="#fddbc7"/>
<rect x="180.02" y="564.77" width="10.26" height="9.63" fill="#e58268"/>
<rect x="189.68" y="564.77" width="10.26" height="9.63" fill="#f4a582"/>
<rect x="199.34" y="564.77" width="10.26" height="9.63" fill="#fddbc7"/>
<rect x="209.00" y="564.77" width="19.92" height="9.63" fill="#b2d5e7"/>
<rect x="228.31" y="564.77" width="19.92" height="9.63" fill="#327cb8"/>
<rect x="247.63" y="564.77" width="10.26" height="9.63" fill="#92c5de"/>
<rect x="257.28" y="564.77" width="10.26" height="9.63" fill="#6aacd0"/>
<rect x="25.50" y="324.00" width="251.10" height="250.40" fill="none" stroke="#3a3a3a" stroke-width="0.7"/>
<rect x="25.50" y="324.00" width="9.66" height="9.63" fill="#fff" stroke="#444" stroke-width="0.75"/>
<rect x="26.65" y="325.15" width="7.36" height="7.33" fill="#f4f4f4"/>
<rect x="35.16" y="333.63" width="9.66" height="9.63" fill="#fff" stroke="#444" stroke-width="0.75"/>
<rect x="36.31" y="334.78" width="7.36" height="7.33" fill="#f4f4f4"/>
<rect x="44.82" y="343.26" width="9.66" height="9.63" fill="#fff" stroke="#444" stroke-width="0.75"/>
<rect x="45.97" y="344.41" width="7.36" height="7.33" fill="#f4f4f4"/>
<rect x="54.47" y="352.89" width="9.66" height="9.63" fill="#fff" stroke="#444" stroke-width="0.75"/>
<rect x="55.62" y="354.04" width="7.36" height="7.33" fill="#f4f4f4"/>
<rect x="64.13" y="362.52" width="9.66" height="9.63" fill="#fff" stroke="#444" stroke-width="0.75"/>
<rect x="65.28" y="363.67" width="7.36" height="7.33" fill="#f4f4f4"/>
<rect x="73.79" y="372.15" width="9.66" height="9.63" fill="#fff" stroke="#444" stroke-width="0.75"/>
<rect x="74.94" y="373.30" width="7.36" height="7.33" fill="#f4f4f4"/>
<rect x="83.45" y="381.78" width="9.66" height="9.63" fill="#fff" stroke="#444" stroke-width="0.75"/>
<rect x="84.60" y="382.93" width="7.36" height="7.33" fill="#f4f4f4"/>
<rect x="93.10" y="391.42" width="9.66" height="9.63" fill="#fff" stroke="#444" stroke-width="0.75"/>
<rect x="94.25" y="392.57" width="7.36" height="7.33" fill="#f4f4f4"/>
<rect x="102.76" y="401.05" width="9.66" height="9.63" fill="#fff" stroke="#444" stroke-width="0.75"/>
<rect x="103.91" y="402.20" width="7.36" height="7.33" fill="#f4f4f4"/>
<rect x="112.42" y="410.68" width="9.66" height="9.63" fill="#fff" stroke="#444" stroke-width="0.75"/>
<rect x="113.57" y="411.83" width="7.36" height="7.33" fill="#f4f4f4"/>
<rect x="122.08" y="420.31" width="9.66" height="9.63" fill="#fff" stroke="#444" stroke-width="0.75"/>
<rect x="123.23" y="421.46" width="7.36" height="7.33" fill="#f4f4f4"/>
<rect x="131.73" y="429.94" width="9.66" height="9.63" fill="#fff" stroke="#444" stroke-width="0.75"/>
<rect x="132.88" y="431.09" width="7.36" height="7.33" fill="#f4f4f4"/>
<rect x="141.39" y="439.57" width="9.66" height="9.63" fill="#fff" stroke="#444" stroke-width="0.75"/>
<rect x="142.54" y="440.72" width="7.36" height="7.33" fill="#f4f4f4"/>
<rect x="151.05" y="449.20" width="9.66" height="9.63" fill="#fff" stroke="#444" stroke-width="0.75"/>
<rect x="152.20" y="450.35" width="7.36" height="7.33" fill="#f4f4f4"/>
<rect x="160.71" y="458.83" width="9.66" height="9.63" fill="#fff" stroke="#444" stroke-width="0.75"/>
<rect x="161.86" y="459.98" width="7.36" height="7.33" fill="#f4f4f4"/>
<rect x="170.37" y="468.46" width="9.66" height="9.63" fill="#fff" stroke="#444" stroke-width="0.75"/>
<rect x="171.52" y="469.61" width="7.36" height="7.33" fill="#f4f4f4"/>
<rect x="180.02" y="478.09" width="9.66" height="9.63" fill="#fff" stroke="#444" stroke-width="0.75"/>
<rect x="181.17" y="479.24" width="7.36" height="7.33" fill="#f4f4f4"/>
<rect x="189.68" y="487.72" width="9.66" height="9.63" fill="#fff" stroke="#444" stroke-width="0.75"/>
<rect x="190.83" y="488.87" width="7.36" height="7.33" fill="#f4f4f4"/>
<rect x="199.34" y="497.35" width="9.66" height="9.63" fill="#fff" stroke="#444" stroke-width="0.75"/>
<rect x="200.49" y="498.50" width="7.36" height="7.33" fill="#f4f4f4"/>
<rect x="209.00" y="506.98" width="9.66" height="9.63" fill="#fff" stroke="#444" stroke-width="0.75"/>
<rect x="210.15" y="508.13" width="7.36" height="7.33" fill="#f4f4f4"/>
<rect x="218.65" y="516.62" width="9.66" height="9.63" fill="#fff" stroke="#444" stroke-width="0.75"/>
<rect x="219.80" y="517.77" width="7.36" height="7.33" fill="#f4f4f4"/>
<rect x="228.31" y="526.25" width="9.66" height="9.63" fill="#fff" stroke="#444" stroke-width="0.75"/>
<rect x="229.46" y="527.40" width="7.36" height="7.33" fill="#f4f4f4"/>
<rect x="237.97" y="535.88" width="9.66" height="9.63" fill="#fff" stroke="#444" stroke-width="0.75"/>
<rect x="239.12" y="537.03" width="7.36" height="7.33" fill="#f4f4f4"/>
<rect x="247.63" y="545.51" width="9.66" height="9.63" fill="#fff" stroke="#444" stroke-width="0.75"/>
<rect x="248.78" y="546.66" width="7.36" height="7.33" fill="#f4f4f4"/>
<rect x="257.28" y="555.14" width="9.66" height="9.63" fill="#fff" stroke="#444" stroke-width="0.75"/>
<rect x="258.43" y="556.29" width="7.36" height="7.33" fill="#f4f4f4"/>
<rect x="266.94" y="564.77" width="9.66" height="9.63" fill="#fff" stroke="#444" stroke-width="0.75"/>
<rect x="268.09" y="565.92" width="7.36" height="7.33" fill="#f4f4f4"/>
<text class="y" transform="translate(19.2 330.77) scale(.925 1)">VIS A</text>
<text class="x" transform="translate(33.73 582.60) rotate(-45) scale(.925 1)">VIS A</text>
<text class="y" transform="translate(19.2 340.40) scale(.925 1)">VIS B</text>
<text class="x" transform="translate(43.39 582.60) rotate(-45) scale(.925 1)">VIS B</text>
<text class="y" transform="translate(19.2 350.03) scale(.925 1)">SMN A</text>
<text class="x" transform="translate(53.04 582.60) rotate(-45) scale(.925 1)">SMN A</text>
<text class="y" transform="translate(19.2 359.66) scale(.925 1)">SMN B</text>
<text class="x" transform="translate(62.70 582.60) rotate(-45) scale(.925 1)">SMN B</text>
<text class="y" transform="translate(19.2 369.29) scale(.925 1)">DAN A</text>
<text class="x" transform="translate(72.36 582.60) rotate(-45) scale(.925 1)">DAN A</text>
<text class="y" transform="translate(19.2 378.92) scale(.925 1)">DAN B</text>
<text class="x" transform="translate(82.02 582.60) rotate(-45) scale(.925 1)">DAN B</text>
<text class="y" transform="translate(19.2 388.55) scale(.925 1)">SAL A</text>
<text class="x" transform="translate(91.68 582.60) rotate(-45) scale(.925 1)">SAL A</text>
<text class="y" transform="translate(19.2 398.18) scale(.925 1)">SAL B</text>
<text class="x" transform="translate(101.33 582.60) rotate(-45) scale(.925 1)">SAL B</text>
<text class="y" transform="translate(19.2 407.81) scale(.925 1)">LIM B</text>
<text class="x" transform="translate(110.99 582.60) rotate(-45) scale(.925 1)">LIM B</text>
<text class="y" transform="translate(19.2 417.44) scale(.925 1)">LIM A</text>
<text class="x" transform="translate(120.65 582.60) rotate(-45) scale(.925 1)">LIM A</text>
<text class="y" transform="translate(19.2 427.07) scale(.925 1)">FPN A</text>
<text class="x" transform="translate(130.31 582.60) rotate(-45) scale(.925 1)">FPN A</text>
<text class="y" transform="translate(19.2 436.70) scale(.925 1)">FPN B</text>
<text class="x" transform="translate(139.96 582.60) rotate(-45) scale(.925 1)">FPN B</text>
<text class="y" transform="translate(19.2 446.33) scale(.925 1)">FPN C</text>
<text class="x" transform="translate(149.62 582.60) rotate(-45) scale(.925 1)">FPN C</text>
<text class="y" transform="translate(19.2 455.97) scale(.925 1)">DN A</text>
<text class="x" transform="translate(159.28 582.60) rotate(-45) scale(.925 1)">DN A</text>
<text class="y" transform="translate(19.2 465.60) scale(.925 1)">DN B</text>
<text class="x" transform="translate(168.94 582.60) rotate(-45) scale(.925 1)">DN B</text>
<text class="y" transform="translate(19.2 475.23) scale(.925 1)">DN C</text>
<text class="x" transform="translate(178.59 582.60) rotate(-45) scale(.925 1)">DN C</text>
<text class="y" transform="translate(19.2 484.86) scale(.925 1)">TPar</text>
<text class="x" transform="translate(188.25 582.60) rotate(-45) scale(.925 1)">TPar</text>
<text class="y" transform="translate(19.2 494.49) scale(.925 1)">HIP</text>
<text class="x" transform="translate(197.91 582.60) rotate(-45) scale(.925 1)">HIP</text>
<text class="y" transform="translate(19.2 504.12) scale(.925 1)">AMY</text>
<text class="x" transform="translate(207.57 582.60) rotate(-45) scale(.925 1)">AMY</text>
<text class="y" transform="translate(19.2 513.75) scale(.925 1)">NAc</text>
<text class="x" transform="translate(217.23 582.60) rotate(-45) scale(.925 1)">NAc</text>
<text class="y" transform="translate(19.2 523.38) scale(.925 1)">GP</text>
<text class="x" transform="translate(226.88 582.60) rotate(-45) scale(.925 1)">GP</text>
<text class="y" transform="translate(19.2 533.01) scale(.925 1)">PUT</text>
<text class="x" transform="translate(236.54 582.60) rotate(-45) scale(.925 1)">PUT</text>
<text class="y" transform="translate(19.2 542.64) scale(.925 1)">CAU</text>
<text class="x" transform="translate(246.20 582.60) rotate(-45) scale(.925 1)">CAU</text>
<text class="y" transform="translate(19.2 552.27) scale(.925 1)">vTHA</text>
<text class="x" transform="translate(255.86 582.60) rotate(-45) scale(.925 1)">vTHA</text>
<text class="y" transform="translate(19.2 561.90) scale(.925 1)">dTHA</text>
<text class="x" transform="translate(265.51 582.60) rotate(-45) scale(.925 1)">dTHA</text>
<text class="y" transform="translate(19.2 571.53) scale(.925 1)">CEREB</text>
<text class="x" transform="translate(275.17 582.60) rotate(-45) scale(.925 1)">CEREB</text>
<path d="M25.10 328.82h-3.4M30.33 574.80v3.4M25.10 338.45h-3.4M39.99 574.80v3.4M25.10 348.08h-3.4M49.64 574.80v3.4M25.10 357.71h-3.4M59.30 574.80v3.4M25.10 367.34h-3.4M68.96 574.80v3.4M25.10 376.97h-3.4M78.62 574.80v3.4M25.10 386.60h-3.4M88.28 574.80v3.4M25.10 396.23h-3.4M97.93 574.80v3.4M25.10 405.86h-3.4M107.59 574.80v3.4M25.10 415.49h-3.4M117.25 574.80v3.4M25.10 425.12h-3.4M126.91 574.80v3.4M25.10 434.75h-3.4M136.56 574.80v3.4M25.10 444.38h-3.4M146.22 574.80v3.4M25.10 454.02h-3.4M155.88 574.80v3.4M25.10 463.65h-3.4M165.54 574.80v3.4M25.10 473.28h-3.4M175.19 574.80v3.4M25.10 482.91h-3.4M184.85 574.80v3.4M25.10 492.54h-3.4M194.51 574.80v3.4M25.10 502.17h-3.4M204.17 574.80v3.4M25.10 511.80h-3.4M213.83 574.80v3.4M25.10 521.43h-3.4M223.48 574.80v3.4M25.10 531.06h-3.4M233.14 574.80v3.4M25.10 540.69h-3.4M242.80 574.80v3.4M25.10 550.32h-3.4M252.46 574.80v3.4M25.10 559.95h-3.4M262.11 574.80v3.4M25.10 569.58h-3.4M271.77 574.80v3.4" stroke="#333" stroke-width="0.7" fill="none"/>
<rect x="282.10" y="324.00" width="8.90" height="250.40" fill="url(#g)" stroke="#777" stroke-width="0.7"/>
<text class="c" transform="translate(299.8 326.35) scale(1.09 1)">0.100</text>
<text class="c" transform="translate(299.8 357.65) scale(1.09 1)">0.075</text>
<text class="c" transform="translate(299.8 388.95) scale(1.09 1)">0.050</text>
<text class="c" transform="translate(299.8 420.25) scale(1.09 1)">0.025</text>
<text class="c" transform="translate(299.8 451.55) scale(1.09 1)">0</text>
<text class="c" transform="translate(299.8 482.85) scale(1.09 1)">−0.025</text>
<text class="c" transform="translate(299.8 514.15) scale(1.09 1)">−0.050</text>
<text class="c" transform="translate(299.8 545.45) scale(1.09 1)">−0.075</text>
<text class="c" transform="translate(299.8 576.75) scale(1.09 1)">−0.100</text>
<path d="M291.00 324.00h3.6M291.00 355.30h3.6M291.00 386.60h3.6M291.00 417.90h3.6M291.00 449.20h3.6M291.00 480.50h3.6M291.00 511.80h3.6M291.00 543.10h3.6M291.00 574.40h3.6" stroke="#333" stroke-width="0.7" fill="none"/>
<text class="l" transform="translate(327.90 449.20) rotate(90) scale(1.11 1)">FC change</text>
</g>
<g>
<text class="t" transform="translate(502.1 310.4) scale(1.12 1)">DMT</text>
<text class="u" transform="translate(502.1 318.7) scale(1.077 1)">(1 dataset; <tspan font-style="italic">n</tspan> = 16)</text>
<rect x="386.16" y="324.00" width="10.26" height="10.23" fill="#134b86"/>
<rect x="395.82" y="324.00" width="10.26" height="10.23" fill="#327cb8"/>
<rect x="405.47" y="324.00" width="10.26" height="10.23" fill="#b2d5e7"/>
<rect x="415.13" y="324.00" width="10.26" height="10.23" fill="#d1e5f0"/>
<rect x="424.79" y="324.00" width="10.26" height="10.23" fill="#92c5de"/>
<rect x="434.45" y="324.00" width="10.26" height="10.23" fill="#f7f7f7"/>
<rect x="444.10" y="324.00" width="10.26" height="10.23" fill="#c43c3c"/>
<rect x="453.76" y="324.00" width="10.26" height="10.23" fill="#6aacd0"/>
<rect x="463.42" y="324.00" width="10.26" height="10.23" fill="#4393c3"/>
<rect x="473.08" y="324.00" width="19.92" height="10.23" fill="#b2182b"/>
<rect x="492.39" y="324.00" width="10.26" height="10.23" fill="#f8c0a4"/>
<rect x="502.05" y="324.00" width="10.26" height="10.23" fill="#c43c3c"/>
<rect x="511.71" y="324.00" width="10.26" height="10.23" fill="#e58268"/>
<rect x="521.37" y="324.00" width="10.26" height="10.23" fill="#d1e5f0"/>
<rect x="531.02" y="324.00" width="10.26" height="10.23" fill="#f7f7f7"/>
<rect x="540.68" y="324.00" width="10.26" height="10.23" fill="#6aacd0"/>
<rect x="550.34" y="324.00" width="10.26" height="10.23" fill="#e4eef4"/>
<rect x="560.00" y="324.00" width="10.26" height="10.23" fill="#e58268"/>
<rect x="569.65" y="324.00" width="10.26" height="10.23" fill="#4393c3"/>
<rect x="579.31" y="324.00" width="10.26" height="10.23" fill="#e58268"/>
<rect x="588.97" y="324.00" width="10.26" height="10.23" fill="#b2182b"/>
<rect x="598.63" y="324.00" width="10.26" height="10.23" fill="#fae9df"/>
<rect x="608.28" y="324.00" width="10.26" height="10.23" fill="#f8c0a4"/>
<rect x="617.94" y="324.00" width="9.66" height="10.23" fill="#d1e5f0"/>
<rect x="376.50" y="333.63" width="10.26" height="10.23" fill="#053061"/>
<rect x="395.82" y="333.63" width="10.26" height="10.23" fill="#134b86"/>
<rect x="405.47" y="333.63" width="10.26" height="10.23" fill="#6aacd0"/>
<rect x="415.13" y="333.63" width="10.26" height="10.23" fill="#f8c0a4"/>
<rect x="424.79" y="333.63" width="10.26" height="10.23" fill="#92c5de"/>
<rect x="434.45" y="333.63" width="10.26" height="10.23" fill="#fddbc7"/>
<rect x="444.10" y="333.63" width="10.26" height="10.23" fill="#67001f"/>
<rect x="453.76" y="333.63" width="10.26" height="10.23" fill="#92c5de"/>
<rect x="463.42" y="333.63" width="10.26" height="10.23" fill="#6aacd0"/>
<rect x="473.08" y="333.63" width="19.92" height="10.23" fill="#67001f"/>
<rect x="492.39" y="333.63" width="10.26" height="10.23" fill="#e58268"/>
<rect x="502.05" y="333.63" width="10.26" height="10.23" fill="#67001f"/>
<rect x="511.71" y="333.63" width="10.26" height="10.23" fill="#8c0c25"/>
<rect x="521.37" y="333.63" width="10.26" height="10.23" fill="#6aacd0"/>
<rect x="531.02" y="333.63" width="10.26" height="10.23" fill="#fddbc7"/>
<rect x="540.68" y="333.63" width="10.26" height="10.23" fill="#6aacd0"/>
<rect x="550.34" y="333.63" width="10.26" height="10.23" fill="#d1e5f0"/>
<rect x="560.00" y="333.63" width="10.26" height="10.23" fill="#d6604d"/>
<rect x="569.65" y="333.63" width="10.26" height="10.23" fill="#92c5de"/>
<rect x="579.31" y="333.63" width="10.26" height="10.23" fill="#8c0c25"/>
<rect x="588.97" y="333.63" width="10.26" height="10.23" fill="#67001f"/>
<rect x="598.63" y="333.63" width="10.26" height="10.23" fill="#f8c0a4"/>
<rect x="608.28" y="333.63" width="10.26" height="10.23" fill="#e58268"/>
<rect x="617.94" y="333.63" width="9.66" height="10.23" fill="#fae9df"/>
<rect x="376.50" y="343.26" width="19.92" height="10.23" fill="#053061"/>
<rect x="405.47" y="343.26" width="10.26" height="10.23" fill="#4393c3"/>
<rect x="415.13" y="343.26" width="10.26" height="10.23" fill="#fae9df"/>
<rect x="424.79" y="343.26" width="10.26" height="10.23" fill="#327cb8"/>
<rect x="434.45" y="343.26" width="10.26" height="10.23" fill="#fae9df"/>
<rect x="444.10" y="343.26" width="10.26" height="10.23" fill="#b2182b"/>
<rect x="453.76" y="343.26" width="10.26" height="10.23" fill="#92c5de"/>
<rect x="463.42" y="343.26" width="10.26" height="10.23" fill="#327cb8"/>
<rect x="473.08" y="343.26" width="10.26" height="10.23" fill="#b2182b"/>
<rect x="482.73" y="343.26" width="29.57" height="10.23" fill="#8c0c25"/>
<rect x="511.71" y="343.26" width="10.26" height="10.23" fill="#b2182b"/>
<rect x="521.37" y="343.26" width="10.26" height="10.23" fill="#f7f7f7"/>
<rect x="531.02" y="343.26" width="10.26" height="10.23" fill="#fae9df"/>
<rect x="540.68" y="343.26" width="10.26" height="10.23" fill="#2166ac"/>
<rect x="550.34" y="343.26" width="10.26" height="10.23" fill="#92c5de"/>
<rect x="560.00" y="343.26" width="10.26" height="10.23" fill="#e58268"/>
<rect x="569.65" y="343.26" width="10.26" height="10.23" fill="#92c5de"/>
<rect x="579.31" y="343.26" width="10.26" height="10.23" fill="#b2182b"/>
<rect x="588.97" y="343.26" width="10.26" height="10.23" fill="#67001f"/>
<rect x="598.63" y="343.26" width="10.26" height="10.23" fill="#fddbc7"/>
<rect x="608.28" y="343.26" width="10.26" height="10.23" fill="#f8c0a4"/>
<rect x="617.94" y="343.26" width="9.66" height="10.23" fill="#6aacd0"/>
<rect x="376.50" y="352.89" width="10.26" height="10.23" fill="#134b86"/>
<rect x="386.16" y="352.89" width="19.92" height="10.23" fill="#053061"/>
<rect x="415.13" y="352.89" width="10.26" height="10.23" fill="#f8c0a4"/>
<rect x="424.79" y="352.89" width="19.92" height="10.23" fill="#d1e5f0"/>
<rect x="444.10" y="352.89" width="10.26" height="10.23" fill="#8c0c25"/>
<rect x="453.76" y="352.89" width="10.26" height="10.23" fill="#4393c3"/>
<rect x="463.42" y="352.89" width="10.26" height="10.23" fill="#327cb8"/>
<rect x="473.08" y="352.89" width="10.26" height="10.23" fill="#b2182b"/>
<rect x="482.73" y="352.89" width="10.26" height="10.23" fill="#67001f"/>
<rect x="492.39" y="352.89" width="19.92" height="10.23" fill="#8c0c25"/>
<rect x="511.71" y="352.89" width="10.26" height="10.23" fill="#d6604d"/>
<rect x="521.37" y="352.89" width="10.26" height="10.23" fill="#fddbc7"/>
<rect x="531.02" y="352.89" width="10.26" height="10.23" fill="#b2d5e7"/>
<rect x="540.68" y="352.89" width="10.26" height="10.23" fill="#2166ac"/>
<rect x="550.34" y="352.89" width="10.26" height="10.23" fill="#92c5de"/>
<rect x="560.00" y="352.89" width="10.26" height="10.23" fill="#f4a582"/>
<rect x="569.65" y="352.89" width="10.26" height="10.23" fill="#b2d5e7"/>
<rect x="579.31" y="352.89" width="19.92" height="10.23" fill="#67001f"/>
<rect x="598.63" y="352.89" width="10.26" height="10.23" fill="#f4a582"/>
<rect x="608.28" y="352.89" width="10.26" height="10.23" fill="#c43c3c"/>
<rect x="617.94" y="352.89" width="9.66" height="10.23" fill="#e4eef4"/>
<rect x="376.50" y="362.52" width="10.26" height="10.23" fill="#b2d5e7"/>
<rect x="386.16" y="362.52" width="10.26" height="10.23" fill="#fddbc7"/>
<rect x="395.82" y="362.52" width="19.92" height="10.23" fill="#d1e5f0"/>
<rect x="424.79" y="362.52" width="10.26" height="10.23" fill="#6aacd0"/>
<rect x="434.45" y="362.52" width="10.26" height="10.23" fill="#fae9df"/>
<rect x="444.10" y="362.52" width="10.26" height="10.23" fill="#e58268"/>
<rect x="453.76" y="362.52" width="10.26" height="10.23" fill="#4393c3"/>
<rect x="463.42" y="362.52" width="10.26" height="10.23" fill="#134b86"/>
<rect x="473.08" y="362.52" width="10.26" height="10.23" fill="#f8c0a4"/>
<rect x="482.73" y="362.52" width="10.26" height="10.23" fill="#d6604d"/>
<rect x="492.39" y="362.52" width="10.26" height="10.23" fill="#f4a582"/>
<rect x="502.05" y="362.52" width="19.92" height="10.23" fill="#c43c3c"/>
<rect x="521.37" y="362.52" width="10.26" height="10.23" fill="#fae9df"/>
<rect x="531.02" y="362.52" width="10.26" height="10.23" fill="#fddbc7"/>
<rect x="540.68" y="362.52" width="10.26" height="10.23" fill="#4393c3"/>
<rect x="550.34" y="362.52" width="10.26" height="10.23" fill="#d1e5f0"/>
<rect x="560.00" y="362.52" width="10.26" height="10.23" fill="#e58268"/>
<rect x="569.65" y="362.52" width="10.26" height="10.23" fill="#4393c3"/>
<rect x="579.31" y="362.52" width="10.26" height="10.23" fill="#e58268"/>
<rect x="588.97" y="362.52" width="10.26" height="10.23" fill="#b2182b"/>
<rect x="598.63" y="362.52" width="10.26" height="10.23" fill="#fddbc7"/>
<rect x="608.28" y="362.52" width="10.26" height="10.23" fill="#f8c0a4"/>
<rect x="617.94" y="362.52" width="9.66" height="10.23" fill="#b2d5e7"/>
<rect x="376.50" y="372.15" width="10.26" height="10.23" fill="#327cb8"/>
<rect x="386.16" y="372.15" width="10.26" height="10.23" fill="#2166ac"/>
<rect x="395.82" y="372.15" width="10.26" height="10.23" fill="#053061"/>
<rect x="405.47" y="372.15" width="10.26" height="10.23" fill="#327cb8"/>
<rect x="415.13" y="372.15" width="10.26" height="10.23" fill="#053061"/>
<rect x="434.45" y="372.15" width="10.26" height="10.23" fill="#d1e5f0"/>
<rect x="444.10" y="372.15" width="10.26" height="10.23" fill="#f8c0a4"/>
<rect x="453.76" y="372.15" width="10.26" height="10.23" fill="#d1e5f0"/>
<rect x="463.42" y="372.15" width="10.26" height="10.23" fill="#4393c3"/>
<rect x="473.08" y="372.15" width="10.26" height="10.23" fill="#fae9df"/>
<rect x="482.73" y="372.15" width="10.26" height="10.23" fill="#d6604d"/>
<rect x="492.39" y="372.15" width="10.26" height="10.23" fill="#e58268"/>
<rect x="502.05" y="372.15" width="10.26" height="10.23" fill="#8c0c25"/>
<rect x="511.71" y="372.15" width="10.26" height="10.23" fill="#c43c3c"/>
<rect x="521.37" y="372.15" width="10.26" height="10.23" fill="#fae9df"/>
<rect x="531.02" y="372.15" width="10.26" height="10.23" fill="#fddbc7"/>
<rect x="540.68" y="372.15" width="10.26" height="10.23" fill="#4393c3"/>
<rect x="550.34" y="372.15" width="10.26" height="10.23" fill="#d1e5f0"/>
<rect x="560.00" y="372.15" width="10.26" height="10.23" fill="#e58268"/>
<rect x="569.65" y="372.15" width="10.26" height="10.23" fill="#92c5de"/>
<rect x="579.31" y="372.15" width="10.26" height="10.23" fill="#d6604d"/>
<rect x="588.97" y="372.15" width="10.26" height="10.23" fill="#b2182b"/>
<rect x="598.63" y="372.15" width="10.26" height="10.23" fill="#fddbc7"/>
<rect x="608.28" y="372.15" width="10.26" height="10.23" fill="#f8c0a4"/>
<rect x="617.94" y="372.15" width="9.66" height="10.23" fill="#4393c3"/>
<rect x="376.50" y="381.78" width="29.57" height="10.23" fill="#92c5de"/>
<rect x="405.47" y="381.78" width="10.26" height="10.23" fill="#134b86"/>
<rect x="415.13" y="381.78" width="10.26" height="10.23" fill="#6aacd0"/>
<rect x="424.79" y="381.78" width="10.26" height="10.23" fill="#327cb8"/>
<rect x="444.10" y="381.78" width="10.26" height="10.23" fill="#fddbc7"/>
<rect x="453.76" y="381.78" width="19.92" height="10.23" fill="#6aacd0"/>
<rect x="473.08" y="381.78" width="10.26" height="10.23" fill="#d6604d"/>
<rect x="482.73" y="381.78" width="10.26" height="10.23" fill="#8c0c25"/>
<rect x="492.39" y="381.78" width="10.26" height="10.23" fill="#e58268"/>
<rect x="502.05" y="381.78" width="10.26" height="10.23" fill="#67001f"/>
<rect x="511.71" y="381.78" width="10.26" height="10.23" fill="#b2182b"/>
<rect x="521.37" y="381.78" width="10.26" height="10.23" fill="#d6604d"/>
<rect x="531.02" y="381.78" width="10.26" height="10.23" fill="#fae9df"/>
<rect x="540.68" y="381.78" width="10.26" height="10.23" fill="#4393c3"/>
<rect x="550.34" y="381.78" width="10.26" height="10.23" fill="#d1e5f0"/>
<rect x="560.00" y="381.78" width="10.26" height="10.23" fill="#fddbc7"/>
<rect x="569.65" y="381.78" width="10.26" height="10.23" fill="#4393c3"/>
<rect x="579.31" y="381.78" width="10.26" height="10.23" fill="#d6604d"/>
<rect x="588.97" y="381.78" width="10.26" height="10.23" fill="#8c0c25"/>
<rect x="598.63" y="381.78" width="10.26" height="10.23" fill="#fddbc7"/>
<rect x="608.28" y="381.78" width="10.26" height="10.23" fill="#f8c0a4"/>
<rect x="617.94" y="381.78" width="9.66" height="10.23" fill="#92c5de"/>
<rect x="376.50" y="391.42" width="10.26" height="10.23" fill="#d6604d"/>
<rect x="386.16" y="391.42" width="10.26" height="10.23" fill="#67001f"/>
<rect x="395.82" y="391.42" width="10.26" height="10.23" fill="#b2182b"/>
<rect x="405.47" y="391.42" width="10.26" height="10.23" fill="#f4a582"/>
<rect x="415.13" y="391.42" width="19.92" height="10.23" fill="#fae9df"/>
<rect x="434.45" y="391.42" width="10.26" height="10.23" fill="#327cb8"/>
<rect x="453.76" y="391.42" width="10.26" height="10.23" fill="#134b86"/>
<rect x="463.42" y="391.42" width="10.26" height="10.23" fill="#6aacd0"/>
<rect x="473.08" y="391.42" width="10.26" height="10.23" fill="#d6604d"/>
<rect x="482.73" y="391.42" width="10.26" height="10.23" fill="#f8c0a4"/>
<rect x="492.39" y="391.42" width="10.26" height="10.23" fill="#d1e5f0"/>
<rect x="502.05" y="391.42" width="19.92" height="10.23" fill="#c43c3c"/>
<rect x="521.37" y="391.42" width="10.26" height="10.23" fill="#8c0c25"/>
<rect x="531.02" y="391.42" width="10.26" height="10.23" fill="#b2182b"/>
<rect x="540.68" y="391.42" width="10.26" height="10.23" fill="#d1e5f0"/>
<rect x="550.34" y="391.42" width="10.26" height="10.23" fill="#f8c0a4"/>
<rect x="560.00" y="391.42" width="10.26" height="10.23" fill="#e4eef4"/>
<rect x="569.65" y="391.42" width="10.26" height="10.23" fill="#4393c3"/>
<rect x="579.31" y="391.42" width="10.26" height="10.23" fill="#f8c0a4"/>
<rect x="588.97" y="391.42" width="10.26" height="10.23" fill="#fddbc7"/>
<rect x="598.63" y="391.42" width="10.26" height="10.23" fill="#d1e5f0"/>
<rect x="608.28" y="391.42" width="10.26" height="10.23" fill="#fae9df"/>
<rect x="617.94" y="391.42" width="9.66" height="10.23" fill="#92c5de"/>
<rect x="376.50" y="401.05" width="19.92" height="10.23" fill="#e58268"/>
<rect x="395.82" y="401.05" width="10.26" height="10.23" fill="#d6604d"/>
<rect x="405.47" y="401.05" width="10.26" height="10.23" fill="#d1e5f0"/>
<rect x="415.13" y="401.05" width="10.26" height="10.23" fill="#f4a582"/>
<rect x="424.79" y="401.05" width="10.26" height="10.23" fill="#8c0c25"/>
<rect x="434.45" y="401.05" width="10.26" height="10.23" fill="#fae9df"/>
<rect x="444.10" y="401.05" width="10.26" height="10.23" fill="#327cb8"/>
<rect x="463.42" y="401.05" width="10.26" height="10.23" fill="#053061"/>
<rect x="473.08" y="401.05" width="10.26" height="10.23" fill="#f7f7f7"/>
<rect x="482.73" y="401.05" width="10.26" height="10.23" fill="#92c5de"/>
<rect x="492.39" y="401.05" width="10.26" height="10.23" fill="#327cb8"/>
<rect x="502.05" y="401.05" width="10.26" height="10.23" fill="#053061"/>
<rect x="511.71" y="401.05" width="10.26" height="10.23" fill="#2166ac"/>
<rect x="521.37" y="401.05" width="29.57" height="10.23" fill="#053061"/>
<rect x="550.34" y="401.05" width="10.26" height="10.23" fill="#2166ac"/>
<rect x="560.00" y="401.05" width="10.26" height="10.23" fill="#e4eef4"/>
<rect x="569.65" y="401.05" width="10.26" height="10.23" fill="#2166ac"/>
<rect x="579.31" y="401.05" width="10.26" height="10.23" fill="#b2d5e7"/>
<rect x="588.97" y="401.05" width="10.26" height="10.23" fill="#327cb8"/>
<rect x="598.63" y="401.05" width="19.92" height="10.23" fill="#4393c3"/>
<rect x="617.94" y="401.05" width="9.66" height="10.23" fill="#053061"/>
<rect x="376.50" y="410.68" width="10.26" height="10.23" fill="#fddbc7"/>
<rect x="386.16" y="410.68" width="10.26" height="10.23" fill="#f8c0a4"/>
<rect x="395.82" y="410.68" width="10.26" height="10.23" fill="#f7f7f7"/>
<rect x="405.47" y="410.68" width="10.26" height="10.23" fill="#b2d5e7"/>
<rect x="415.13" y="410.68" width="10.26" height="10.23" fill="#92c5de"/>
<rect x="424.79" y="410.68" width="10.26" height="10.23" fill="#f8c0a4"/>
<rect x="434.45" y="410.68" width="10.26" height="10.23" fill="#fae9df"/>
<rect x="444.10" y="410.68" width="19.92" height="10.23" fill="#d1e5f0"/>
<rect x="473.08" y="410.68" width="10.26" height="10.23" fill="#e4eef4"/>
<rect x="482.73" y="410.68" width="10.26" height="10.23" fill="#6aacd0"/>
<rect x="492.39" y="410.68" width="10.26" height="10.23" fill="#92c5de"/>
<rect x="502.05" y="410.68" width="10.26" height="10.23" fill="#327cb8"/>
<rect x="511.71" y="410.68" width="19.92" height="10.23" fill="#2166ac"/>
<rect x="531.02" y="410.68" width="10.26" height="10.23" fill="#053061"/>
<rect x="540.68" y="410.68" width="10.26" height="10.23" fill="#2166ac"/>
<rect x="550.34" y="410.68" width="10.26" height="10.23" fill="#6aacd0"/>
<rect x="560.00" y="410.68" width="10.26" height="10.23" fill="#92c5de"/>
<rect x="569.65" y="410.68" width="10.26" height="10.23" fill="#327cb8"/>
<rect x="579.31" y="410.68" width="10.26" height="10.23" fill="#e4eef4"/>
<rect x="588.97" y="410.68" width="10.26" height="10.23" fill="#fae9df"/>
<rect x="598.63" y="410.68" width="10.26" height="10.23" fill="#6aacd0"/>
<rect x="608.28" y="410.68" width="10.26" height="10.23" fill="#b2d5e7"/>
<rect x="617.94" y="410.68" width="9.66" height="10.23" fill="#053061"/>
<rect x="376.50" y="420.31" width="10.26" height="10.23" fill="#f8c0a4"/>
<rect x="386.16" y="420.31" width="10.26" height="10.23" fill="#b2182b"/>
<rect x="395.82" y="420.31" width="10.26" height="10.23" fill="#f8c0a4"/>
<rect x="405.47" y="420.31" width="10.26" height="10.23" fill="#e4eef4"/>
<rect x="415.13" y="420.31" width="10.26" height="10.23" fill="#327cb8"/>
<rect x="424.79" y="420.31" width="10.26" height="10.23" fill="#6aacd0"/>
<rect x="434.45" y="420.31" width="19.92" height="10.23" fill="#b2d5e7"/>
<rect x="453.76" y="420.31" width="10.26" height="10.23" fill="#f4a582"/>
<rect x="463.42" y="420.31" width="10.26" height="10.23" fill="#fddbc7"/>
<rect x="482.73" y="420.31" width="10.26" height="10.23" fill="#e58268"/>
<rect x="492.39" y="420.31" width="19.92" height="10.23" fill="#67001f"/>
<rect x="511.71" y="420.31" width="10.26" height="10.23" fill="#b2182b"/>
<rect x="521.37" y="420.31" width="10.26" height="10.23" fill="#67001f"/>
<rect x="531.02" y="420.31" width="10.26" height="10.23" fill="#d6604d"/>
<rect x="540.68" y="420.31" width="10.26" height="10.23" fill="#fae9df"/>
<rect x="550.34" y="420.31" width="10.26" height="10.23" fill="#f4a582"/>
<rect x="560.00" y="420.31" width="10.26" height="10.23" fill="#8c0c25"/>
<rect x="569.65" y="420.31" width="10.26" height="10.23" fill="#b2d5e7"/>
<rect x="579.31" y="420.31" width="10.26" height="10.23" fill="#b2182b"/>
<rect x="588.97" y="420.31" width="10.26" height="10.23" fill="#67001f"/>
<rect x="598.63" y="420.31" width="10.26" height="10.23" fill="#d6604d"/>
<rect x="608.28" y="420.31" width="10.26" height="10.23" fill="#b2182b"/>
<rect x="617.94" y="420.31" width="9.66" height="10.23" fill="#e4eef4"/>
<rect x="376.50" y="429.94" width="10.26" height="10.23" fill="#b2182b"/>
<rect x="386.16" y="429.94" width="19.92" height="10.23" fill="#67001f"/>
<rect x="405.47" y="429.94" width="10.26" height="10.23" fill="#d6604d"/>
<rect x="415.13" y="429.94" width="10.26" height="10.23" fill="#f4a582"/>
<rect x="424.79" y="429.94" width="10.26" height="10.23" fill="#b2182b"/>
<rect x="434.45" y="429.94" width="10.26" height="10.23" fill="#d6604d"/>
<rect x="444.10" y="429.94" width="10.26" height="10.23" fill="#92c5de"/>
<rect x="453.76" y="429.94" width="10.26" height="10.23" fill="#fae9df"/>
<rect x="463.42" y="429.94" width="10.26" height="10.23" fill="#d1e5f0"/>
<rect x="473.08" y="429.94" width="10.26" height="10.23" fill="#92c5de"/>
<rect x="492.39" y="429.94" width="10.26" height="10.23" fill="#fae9df"/>
<rect x="502.05" y="429.94" width="10.26" height="10.23" fill="#fddbc7"/>
<rect x="511.71" y="429.94" width="10.26" height="10.23" fill="#f8c0a4"/>
<rect x="521.37" y="429.94" width="10.26" height="10.23" fill="#c43c3c"/>
<rect x="531.02" y="429.94" width="10.26" height="10.23" fill="#f4a582"/>
<rect x="540.68" y="429.94" width="10.26" height="10.23" fill="#e4eef4"/>
<rect x="550.34" y="429.94" width="19.92" height="10.23" fill="#f4a582"/>
<rect x="569.65" y="429.94" width="10.26" height="10.23" fill="#6aacd0"/>
<rect x="579.31" y="429.94" width="10.26" height="10.23" fill="#f4a582"/>
<rect x="588.97" y="429.94" width="10.26" height="10.23" fill="#fddbc7"/>
<rect x="598.63" y="429.94" width="10.26" height="10.23" fill="#fae9df"/>
<rect x="608.28" y="429.94" width="10.26" height="10.23" fill="#f8c0a4"/>
<rect x="617.94" y="429.94" width="9.66" height="10.23" fill="#92c5de"/>
<rect x="376.50" y="439.57" width="10.26" height="10.23" fill="#e58268"/>
<rect x="386.16" y="439.57" width="10.26" height="10.23" fill="#b2182b"/>
<rect x="395.82" y="439.57" width="19.92" height="10.23" fill="#67001f"/>
<rect x="415.13" y="439.57" width="10.26" height="10.23" fill="#d6604d"/>
<rect x="424.79" y="439.57" width="10.26" height="10.23" fill="#8c0c25"/>
<rect x="434.45" y="439.57" width="10.26" height="10.23" fill="#f4a582"/>
<rect x="444.10" y="439.57" width="10.26" height="10.23" fill="#053061"/>
<rect x="453.76" y="439.57" width="10.26" height="10.23" fill="#f7f7f7"/>
<rect x="463.42" y="439.57" width="10.26" height="10.23" fill="#d6604d"/>
<rect x="473.08" y="439.57" width="10.26" height="10.23" fill="#c43c3c"/>
<rect x="482.73" y="439.57" width="10.26" height="10.23" fill="#92c5de"/>
<rect x="502.05" y="439.57" width="10.26" height="10.23" fill="#d1e5f0"/>
<rect x="511.71" y="439.57" width="10.26" height="10.23" fill="#f4a582"/>
<rect x="521.37" y="439.57" width="10.26" height="10.23" fill="#f7f7f7"/>
<rect x="531.02" y="439.57" width="10.26" height="10.23" fill="#e58268"/>
<rect x="540.68" y="439.57" width="10.26" height="10.23" fill="#92c5de"/>
<rect x="550.34" y="439.57" width="10.26" height="10.23" fill="#f4a582"/>
<rect x="560.00" y="439.57" width="10.26" height="10.23" fill="#e4eef4"/>
<rect x="569.65" y="439.57" width="10.26" height="10.23" fill="#327cb8"/>
<rect x="579.31" y="439.57" width="10.26" height="10.23" fill="#f4a582"/>
<rect x="588.97" y="439.57" width="10.26" height="10.23" fill="#fddbc7"/>
<rect x="598.63" y="439.57" width="10.26" height="10.23" fill="#92c5de"/>
<rect x="608.28" y="439.57" width="10.26" height="10.23" fill="#6aacd0"/>
<rect x="617.94" y="439.57" width="9.66" height="10.23" fill="#4393c3"/>
<rect x="376.50" y="449.20" width="10.26" height="10.23" fill="#d6604d"/>
<rect x="386.16" y="449.20" width="10.26" height="10.23" fill="#8c0c25"/>
<rect x="395.82" y="449.20" width="10.26" height="10.23" fill="#b2182b"/>
<rect x="405.47" y="449.20" width="19.92" height="10.23" fill="#e58268"/>
<rect x="424.79" y="449.20" width="19.92" height="10.23" fill="#8c0c25"/>
<rect x="444.10" y="449.20" width="10.26" height="10.23" fill="#fddbc7"/>
<rect x="453.76" y="449.20" width="10.26" height="10.23" fill="#2166ac"/>
<rect x="463.42" y="449.20" width="10.26" height="10.23" fill="#b2d5e7"/>
<rect x="473.08" y="449.20" width="10.26" height="10.23" fill="#b2182b"/>
<rect x="482.73" y="449.20" width="10.26" height="10.23" fill="#6aacd0"/>
<rect x="492.39" y="449.20" width="10.26" height="10.23" fill="#2166ac"/>
<rect x="511.71" y="449.20" width="10.26" height="10.23" fill="#f4a582"/>
<rect x="521.37" y="449.20" width="10.26" height="10.23" fill="#e4eef4"/>
<rect x="531.02" y="449.20" width="10.26" height="10.23" fill="#e58268"/>
<rect x="540.68" y="449.20" width="10.26" height="10.23" fill="#4393c3"/>
<rect x="550.34" y="449.20" width="10.26" height="10.23" fill="#fae9df"/>
<rect x="560.00" y="449.20" width="10.26" height="10.23" fill="#fddbc7"/>
<rect x="569.65" y="449.20" width="10.26" height="10.23" fill="#92c5de"/>
<rect x="579.31" y="449.20" width="10.26" height="10.23" fill="#c43c3c"/>
<rect x="588.97" y="449.20" width="10.26" height="10.23" fill="#f8c0a4"/>
<rect x="598.63" y="449.20" width="10.26" height="10.23" fill="#f7f7f7"/>
<rect x="608.28" y="449.20" width="10.26" height="10.23" fill="#fae9df"/>
<rect x="617.94" y="449.20" width="9.66" height="10.23" fill="#b2d5e7"/>
<rect x="376.50" y="458.83" width="10.26" height="10.23" fill="#f8c0a4"/>
<rect x="386.16" y="458.83" width="19.92" height="10.23" fill="#d6604d"/>
<rect x="405.47" y="458.83" width="10.26" height="10.23" fill="#e4eef4"/>
<rect x="415.13" y="458.83" width="10.26" height="10.23" fill="#f4a582"/>
<rect x="424.79" y="458.83" width="10.26" height="10.23" fill="#c43c3c"/>
<rect x="434.45" y="458.83" width="10.26" height="10.23" fill="#f4a582"/>
<rect x="444.10" y="458.83" width="10.26" height="10.23" fill="#fae9df"/>
<rect x="453.76" y="458.83" width="10.26" height="10.23" fill="#4393c3"/>
<rect x="463.42" y="458.83" width="10.26" height="10.23" fill="#327cb8"/>
<rect x="473.08" y="458.83" width="10.26" height="10.23" fill="#d1e5f0"/>
<rect x="482.73" y="458.83" width="10.26" height="10.23" fill="#6aacd0"/>
<rect x="492.39" y="458.83" width="10.26" height="10.23" fill="#fddbc7"/>
<rect x="502.05" y="458.83" width="10.26" height="10.23" fill="#b2d5e7"/>
<rect x="521.37" y="458.83" width="10.26" height="10.23" fill="#c43c3c"/>
<rect x="531.02" y="458.83" width="10.26" height="10.23" fill="#fae9df"/>
<rect x="540.68" y="458.83" width="10.26" height="10.23" fill="#b2d5e7"/>
<rect x="550.34" y="458.83" width="10.26" height="10.23" fill="#fae9df"/>
<rect x="560.00" y="458.83" width="10.26" height="10.23" fill="#f4a582"/>
<rect x="569.65" y="458.83" width="10.26" height="10.23" fill="#6aacd0"/>
<rect x="579.31" y="458.83" width="10.26" height="10.23" fill="#c43c3c"/>
<rect x="588.97" y="458.83" width="10.26" height="10.23" fill="#d6604d"/>
<rect x="598.63" y="458.83" width="10.26" height="10.23" fill="#f8c0a4"/>
<rect x="608.28" y="458.83" width="10.26" height="10.23" fill="#e58268"/>
<rect x="617.94" y="458.83" width="9.66" height="10.23" fill="#d1e5f0"/>
<rect x="376.50" y="468.46" width="10.26" height="10.23" fill="#6aacd0"/>
<rect x="386.16" y="468.46" width="10.26" height="10.23" fill="#053061"/>
<rect x="395.82" y="468.46" width="29.57" height="10.23" fill="#d1e5f0"/>
<rect x="424.79" y="468.46" width="10.26" height="10.23" fill="#fae9df"/>
<rect x="434.45" y="468.46" width="10.26" height="10.23" fill="#f4a582"/>
<rect x="444.10" y="468.46" width="10.26" height="10.23" fill="#8c0c25"/>
<rect x="453.76" y="468.46" width="10.26" height="10.23" fill="#4393c3"/>
<rect x="463.42" y="468.46" width="10.26" height="10.23" fill="#92c5de"/>
<rect x="473.08" y="468.46" width="10.26" height="10.23" fill="#8c0c25"/>
<rect x="482.73" y="468.46" width="10.26" height="10.23" fill="#e58268"/>
<rect x="492.39" y="468.46" width="10.26" height="10.23" fill="#d1e5f0"/>
<rect x="502.05" y="468.46" width="10.26" height="10.23" fill="#4393c3"/>
<rect x="511.71" y="468.46" width="10.26" height="10.23" fill="#e58268"/>
<rect x="531.02" y="468.46" width="10.26" height="10.23" fill="#f8c0a4"/>
<rect x="540.68" y="468.46" width="10.26" height="10.23" fill="#053061"/>
<rect x="550.34" y="468.46" width="10.26" height="10.23" fill="#92c5de"/>
<rect x="560.00" y="468.46" width="10.26" height="10.23" fill="#fddbc7"/>
<rect x="569.65" y="468.46" width="10.26" height="10.23" fill="#6aacd0"/>
<rect x="579.31" y="468.46" width="19.92" height="10.23" fill="#8c0c25"/>
<rect x="598.63" y="468.46" width="19.92" height="10.23" fill="#fae9df"/>
<rect x="617.94" y="468.46" width="9.66" height="10.23" fill="#b2d5e7"/>
<rect x="376.50" y="478.09" width="10.26" height="10.23" fill="#d1e5f0"/>
<rect x="386.16" y="478.09" width="19.92" height="10.23" fill="#f7f7f7"/>
<rect x="405.47" y="478.09" width="10.26" height="10.23" fill="#053061"/>
<rect x="415.13" y="478.09" width="10.26" height="10.23" fill="#fae9df"/>
<rect x="424.79" y="478.09" width="10.26" height="10.23" fill="#f8c0a4"/>
<rect x="434.45" y="478.09" width="10.26" height="10.23" fill="#b2d5e7"/>
<rect x="444.10" y="478.09" width="10.26" height="10.23" fill="#d6604d"/>
<rect x="453.76" y="478.09" width="10.26" height="10.23" fill="#92c5de"/>
<rect x="463.42" y="478.09" width="10.26" height="10.23" fill="#053061"/>
<rect x="473.08" y="478.09" width="19.92" height="10.23" fill="#f7f7f7"/>
<rect x="492.39" y="478.09" width="10.26" height="10.23" fill="#d6604d"/>
<rect x="502.05" y="478.09" width="10.26" height="10.23" fill="#f8c0a4"/>
<rect x="511.71" y="478.09" width="10.26" height="10.23" fill="#6aacd0"/>
<rect x="521.37" y="478.09" width="10.26" height="10.23" fill="#f8c0a4"/>
<rect x="540.68" y="478.09" width="10.26" height="10.23" fill="#4393c3"/>
<rect x="550.34" y="478.09" width="10.26" height="10.23" fill="#b2d5e7"/>
<rect x="560.00" y="478.09" width="10.26" height="10.23" fill="#fddbc7"/>
<rect x="569.65" y="478.09" width="10.26" height="10.23" fill="#92c5de"/>
<rect x="579.31" y="478.09" width="10.26" height="10.23" fill="#d6604d"/>
<rect x="588.97" y="478.09" width="10.26" height="10.23" fill="#b2182b"/>
<rect x="598.63" y="478.09" width="10.26" height="10.23" fill="#f4a582"/>
<rect x="608.28" y="478.09" width="10.26" height="10.23" fill="#e58268"/>
<rect x="617.94" y="478.09" width="9.66" height="10.23" fill="#d1e5f0"/>
<rect x="376.50" y="487.72" width="10.26" height="10.23" fill="#f7f7f7"/>
<rect x="386.16" y="487.72" width="10.26" height="10.23" fill="#d1e5f0"/>
<rect x="395.82" y="487.72" width="10.26" height="10.23" fill="#6aacd0"/>
<rect x="405.47" y="487.72" width="10.26" height="10.23" fill="#134b86"/>
<rect x="415.13" y="487.72" width="19.92" height="10.23" fill="#d1e5f0"/>
<rect x="434.45" y="487.72" width="10.26" height="10.23" fill="#92c5de"/>
<rect x="444.10" y="487.72" width="10.26" height="10.23" fill="#fddbc7"/>
<rect x="453.76" y="487.72" width="10.26" height="10.23" fill="#2166ac"/>
<rect x="463.42" y="487.72" width="10.26" height="10.23" fill="#d1e5f0"/>
<rect x="473.08" y="487.72" width="29.57" height="10.23" fill="#fddbc7"/>
<rect x="502.05" y="487.72" width="10.26" height="10.23" fill="#6aacd0"/>
<rect x="511.71" y="487.72" width="10.26" height="10.23" fill="#d1e5f0"/>
<rect x="521.37" y="487.72" width="10.26" height="10.23" fill="#134b86"/>
<rect x="531.02" y="487.72" width="10.26" height="10.23" fill="#92c5de"/>
<rect x="550.34" y="487.72" width="10.26" height="10.23" fill="#134b86"/>
<rect x="560.00" y="487.72" width="19.92" height="10.23" fill="#4393c3"/>
<rect x="579.31" y="487.72" width="10.26" height="10.23" fill="#d1e5f0"/>
<rect x="588.97" y="487.72" width="10.26" height="10.23" fill="#f7f7f7"/>
<rect x="598.63" y="487.72" width="19.92" height="10.23" fill="#b2d5e7"/>
<rect x="617.94" y="487.72" width="9.66" height="10.23" fill="#6aacd0"/>
<rect x="376.50" y="497.35" width="10.26" height="10.23" fill="#d1e5f0"/>
<rect x="386.16" y="497.35" width="10.26" height="10.23" fill="#92c5de"/>
<rect x="395.82" y="497.35" width="10.26" height="10.23" fill="#327cb8"/>
<rect x="405.47" y="497.35" width="10.26" height="10.23" fill="#134b86"/>
<rect x="415.13" y="497.35" width="19.92" height="10.23" fill="#92c5de"/>
<rect x="434.45" y="497.35" width="10.26" height="10.23" fill="#6aacd0"/>
<rect x="444.10" y="497.35" width="10.26" height="10.23" fill="#f7f7f7"/>
<rect x="453.76" y="497.35" width="10.26" height="10.23" fill="#6aacd0"/>
<rect x="463.42" y="497.35" width="10.26" height="10.23" fill="#b2d5e7"/>
<rect x="473.08" y="497.35" width="10.26" height="10.23" fill="#d1e5f0"/>
<rect x="482.73" y="497.35" width="10.26" height="10.23" fill="#fddbc7"/>
<rect x="492.39" y="497.35" width="10.26" height="10.23" fill="#f4a582"/>
<rect x="502.05" y="497.35" width="19.92" height="10.23" fill="#d1e5f0"/>
<rect x="521.37" y="497.35" width="19.92" height="10.23" fill="#4393c3"/>
<rect x="540.68" y="497.35" width="10.26" height="10.23" fill="#2166ac"/>
<rect x="560.00" y="497.35" width="10.26" height="10.23" fill="#e4eef4"/>
<rect x="569.65" y="497.35" width="10.26" height="10.23" fill="#d1e5f0"/>
<rect x="579.31" y="497.35" width="10.26" height="10.23" fill="#e4eef4"/>
<rect x="588.97" y="497.35" width="10.26" height="10.23" fill="#f8c0a4"/>
<rect x="598.63" y="497.35" width="10.26" height="10.23" fill="#fddbc7"/>
<rect x="608.28" y="497.35" width="10.26" height="10.23" fill="#f8c0a4"/>
<rect x="617.94" y="497.35" width="9.66" height="10.23" fill="#e4eef4"/>
<rect x="376.50" y="506.98" width="10.26" height="10.23" fill="#e58268"/>
<rect x="386.16" y="506.98" width="10.26" height="10.23" fill="#d6604d"/>
<rect x="395.82" y="506.98" width="10.26" height="10.23" fill="#f4a582"/>
<rect x="405.47" y="506.98" width="10.26" height="10.23" fill="#fae9df"/>
<rect x="415.13" y="506.98" width="10.26" height="10.23" fill="#f4a582"/>
<rect x="424.79" y="506.98" width="10.26" height="10.23" fill="#e58268"/>
<rect x="434.45" y="506.98" width="10.26" height="10.23" fill="#b2d5e7"/>
<rect x="444.10" y="506.98" width="10.26" height="10.23" fill="#327cb8"/>
<rect x="453.76" y="506.98" width="10.26" height="10.23" fill="#fddbc7"/>
<rect x="463.42" y="506.98" width="10.26" height="10.23" fill="#d1e5f0"/>
<rect x="473.08" y="506.98" width="10.26" height="10.23" fill="#f4a582"/>
<rect x="482.73" y="506.98" width="10.26" height="10.23" fill="#fae9df"/>
<rect x="492.39" y="506.98" width="10.26" height="10.23" fill="#6aacd0"/>
<rect x="502.05" y="506.98" width="10.26" height="10.23" fill="#92c5de"/>
<rect x="511.71" y="506.98" width="19.92" height="10.23" fill="#e4eef4"/>
<rect x="531.02" y="506.98" width="10.26" height="10.23" fill="#f7f7f7"/>
<rect x="540.68" y="506.98" width="10.26" height="10.23" fill="#6aacd0"/>
<rect x="550.34" y="506.98" width="10.26" height="10.23" fill="#d1e5f0"/>
<rect x="569.65" y="506.98" width="10.26" height="10.23" fill="#6aacd0"/>
<rect x="579.31" y="506.98" width="10.26" height="10.23" fill="#92c5de"/>
<rect x="588.97" y="506.98" width="10.26" height="10.23" fill="#2166ac"/>
<rect x="598.63" y="506.98" width="10.26" height="10.23" fill="#92c5de"/>
<rect x="608.28" y="506.98" width="10.26" height="10.23" fill="#b2d5e7"/>
<rect x="617.94" y="506.98" width="9.66" height="10.23" fill="#4393c3"/>
<rect x="376.50" y="516.62" width="10.26" height="10.23" fill="#fae9df"/>
<rect x="386.16" y="516.62" width="29.57" height="10.23" fill="#fddbc7"/>
<rect x="415.13" y="516.62" width="10.26" height="10.23" fill="#fae9df"/>
<rect x="424.79" y="516.62" width="10.26" height="10.23" fill="#fddbc7"/>
<rect x="434.45" y="516.62" width="10.26" height="10.23" fill="#e4eef4"/>
<rect x="444.10" y="516.62" width="19.92" height="10.23" fill="#d1e5f0"/>
<rect x="463.42" y="516.62" width="10.26" height="10.23" fill="#e4eef4"/>
<rect x="473.08" y="516.62" width="10.26" height="10.23" fill="#fddbc7"/>
<rect x="482.73" y="516.62" width="10.26" height="10.23" fill="#fae9df"/>
<rect x="492.39" y="516.62" width="10.26" height="10.23" fill="#e4eef4"/>
<rect x="502.05" y="516.62" width="10.26" height="10.23" fill="#fae9df"/>
<rect x="511.71" y="516.62" width="10.26" height="10.23" fill="#f7f7f7"/>
<rect x="521.37" y="516.62" width="10.26" height="10.23" fill="#fae9df"/>
<rect x="531.02" y="516.62" width="10.26" height="10.23" fill="#fddbc7"/>
<rect x="540.68" y="516.62" width="10.26" height="10.23" fill="#e4eef4"/>
<rect x="550.34" y="516.62" width="10.26" height="10.23" fill="#fae9df"/>
<rect x="560.00" y="516.62" width="10.26" height="10.23" fill="#d1e5f0"/>
<rect x="579.31" y="516.62" width="10.26" height="10.23" fill="#2166ac"/>
<rect x="588.97" y="516.62" width="29.57" height="10.23" fill="#327cb8"/>
<rect x="617.94" y="516.62" width="9.66" height="10.23" fill="#053061"/>
<rect x="376.50" y="526.25" width="10.26" height="10.23" fill="#fddbc7"/>
<rect x="386.16" y="526.25" width="10.26" height="10.23" fill="#c43c3c"/>
<rect x="395.82" y="526.25" width="10.26" height="10.23" fill="#d6604d"/>
<rect x="405.47" y="526.25" width="10.26" height="10.23" fill="#c43c3c"/>
<rect x="415.13" y="526.25" width="10.26" height="10.23" fill="#e4eef4"/>
<rect x="424.79" y="526.25" width="10.26" height="10.23" fill="#f4a582"/>
<rect x="434.45" y="526.25" width="10.26" height="10.23" fill="#fddbc7"/>
<rect x="444.10" y="526.25" width="10.26" height="10.23" fill="#6aacd0"/>
<rect x="453.76" y="526.25" width="10.26" height="10.23" fill="#e4eef4"/>
<rect x="463.42" y="526.25" width="10.26" height="10.23" fill="#f8c0a4"/>
<rect x="473.08" y="526.25" width="10.26" height="10.23" fill="#f7f7f7"/>
<rect x="482.73" y="526.25" width="10.26" height="10.23" fill="#b2d5e7"/>
<rect x="492.39" y="526.25" width="10.26" height="10.23" fill="#e4eef4"/>
<rect x="502.05" y="526.25" width="19.92" height="10.23" fill="#fae9df"/>
<rect x="521.37" y="526.25" width="10.26" height="10.23" fill="#b2182b"/>
<rect x="531.02" y="526.25" width="10.26" height="10.23" fill="#f8c0a4"/>
<rect x="540.68" y="526.25" width="10.26" height="10.23" fill="#e4eef4"/>
<rect x="550.34" y="526.25" width="10.26" height="10.23" fill="#92c5de"/>
<rect x="560.00" y="526.25" width="10.26" height="10.23" fill="#2166ac"/>
<rect x="569.65" y="526.25" width="10.26" height="10.23" fill="#6aacd0"/>
<rect x="588.97" y="526.25" width="10.26" height="10.23" fill="#327cb8"/>
<rect x="598.63" y="526.25" width="19.92" height="10.23" fill="#d1e5f0"/>
<rect x="617.94" y="526.25" width="9.66" height="10.23" fill="#2166ac"/>
<rect x="376.50" y="535.88" width="10.26" height="10.23" fill="#c43c3c"/>
<rect x="386.16" y="535.88" width="29.57" height="10.23" fill="#67001f"/>
<rect x="415.13" y="535.88" width="10.26" height="10.23" fill="#e58268"/>
<rect x="424.79" y="535.88" width="10.26" height="10.23" fill="#c43c3c"/>
<rect x="434.45" y="535.88" width="10.26" height="10.23" fill="#e58268"/>
<rect x="444.10" y="535.88" width="10.26" height="10.23" fill="#327cb8"/>
<rect x="453.76" y="535.88" width="10.26" height="10.23" fill="#6aacd0"/>
<rect x="463.42" y="535.88" width="10.26" height="10.23" fill="#e58268"/>
<rect x="473.08" y="535.88" width="10.26" height="10.23" fill="#f4a582"/>
<rect x="482.73" y="535.88" width="10.26" height="10.23" fill="#6aacd0"/>
<rect x="492.39" y="535.88" width="10.26" height="10.23" fill="#d1e5f0"/>
<rect x="502.05" y="535.88" width="10.26" height="10.23" fill="#92c5de"/>
<rect x="511.71" y="535.88" width="10.26" height="10.23" fill="#f7f7f7"/>
<rect x="521.37" y="535.88" width="10.26" height="10.23" fill="#b2182b"/>
<rect x="531.02" y="535.88" width="10.26" height="10.23" fill="#d6604d"/>
<rect x="540.68" y="535.88" width="10.26" height="10.23" fill="#fddbc7"/>
<rect x="550.34" y="535.88" width="10.26" height="10.23" fill="#f7f7f7"/>
<rect x="560.00" y="535.88" width="10.26" height="10.23" fill="#053061"/>
<rect x="569.65" y="535.88" width="10.26" height="10.23" fill="#92c5de"/>
<rect x="579.31" y="535.88" width="10.26" height="10.23" fill="#053061"/>
<rect x="598.63" y="535.88" width="10.26" height="10.23" fill="#6aacd0"/>
<rect x="608.28" y="535.88" width="10.26" height="10.23" fill="#92c5de"/>
<rect x="617.94" y="535.88" width="9.66" height="10.23" fill="#134b86"/>
<rect x="376.50" y="545.51" width="10.26" height="10.23" fill="#f8c0a4"/>
<rect x="386.16" y="545.51" width="10.26" height="10.23" fill="#e58268"/>
<rect x="395.82" y="545.51" width="10.26" height="10.23" fill="#f8c0a4"/>
<rect x="405.47" y="545.51" width="10.26" height="10.23" fill="#f4a582"/>
<rect x="415.13" y="545.51" width="10.26" height="10.23" fill="#f8c0a4"/>
<rect x="424.79" y="545.51" width="10.26" height="10.23" fill="#f4a582"/>
<rect x="434.45" y="545.51" width="10.26" height="10.23" fill="#fae9df"/>
<rect x="444.10" y="545.51" width="10.26" height="10.23" fill="#92c5de"/>
<rect x="453.76" y="545.51" width="10.26" height="10.23" fill="#d1e5f0"/>
<rect x="463.42" y="545.51" width="10.26" height="10.23" fill="#f7f7f7"/>
<rect x="473.08" y="545.51" width="10.26" height="10.23" fill="#f8c0a4"/>
<rect x="482.73" y="545.51" width="10.26" height="10.23" fill="#e4eef4"/>
<rect x="492.39" y="545.51" width="10.26" height="10.23" fill="#4393c3"/>
<rect x="502.05" y="545.51" width="10.26" height="10.23" fill="#d1e5f0"/>
<rect x="511.71" y="545.51" width="10.26" height="10.23" fill="#fae9df"/>
<rect x="521.37" y="545.51" width="10.26" height="10.23" fill="#fddbc7"/>
<rect x="531.02" y="545.51" width="10.26" height="10.23" fill="#e58268"/>
<rect x="540.68" y="545.51" width="19.92" height="10.23" fill="#fddbc7"/>
<rect x="560.00" y="545.51" width="10.26" height="10.23" fill="#6aacd0"/>
<rect x="569.65" y="545.51" width="19.92" height="10.23" fill="#92c5de"/>
<rect x="588.97" y="545.51" width="10.26" height="10.23" fill="#2166ac"/>
<rect x="608.28" y="545.51" width="10.26" height="10.23" fill="#053061"/>
<rect x="617.94" y="545.51" width="9.66" height="10.23" fill="#134b86"/>
<rect x="376.50" y="555.14" width="10.26" height="10.23" fill="#f4a582"/>
<rect x="386.16" y="555.14" width="10.26" height="10.23" fill="#d6604d"/>
<rect x="395.82" y="555.14" width="10.26" height="10.23" fill="#f8c0a4"/>
<rect x="405.47" y="555.14" width="10.26" height="10.23" fill="#d6604d"/>
<rect x="415.13" y="555.14" width="10.26" height="10.23" fill="#fddbc7"/>
<rect x="424.79" y="555.14" width="10.26" height="10.23" fill="#f8c0a4"/>
<rect x="434.45" y="555.14" width="10.26" height="10.23" fill="#fae9df"/>
<rect x="444.10" y="555.14" width="10.26" height="10.23" fill="#92c5de"/>
<rect x="453.76" y="555.14" width="10.26" height="10.23" fill="#d1e5f0"/>
<rect x="463.42" y="555.14" width="10.26" height="10.23" fill="#f8c0a4"/>
<rect x="473.08" y="555.14" width="10.26" height="10.23" fill="#fddbc7"/>
<rect x="482.73" y="555.14" width="10.26" height="10.23" fill="#f7f7f7"/>
<rect x="492.39" y="555.14" width="10.26" height="10.23" fill="#327cb8"/>
<rect x="502.05" y="555.14" width="10.26" height="10.23" fill="#b2d5e7"/>
<rect x="511.71" y="555.14" width="10.26" height="10.23" fill="#fddbc7"/>
<rect x="521.37" y="555.14" width="10.26" height="10.23" fill="#e4eef4"/>
<rect x="531.02" y="555.14" width="10.26" height="10.23" fill="#e58268"/>
<rect x="540.68" y="555.14" width="10.26" height="10.23" fill="#e4eef4"/>
<rect x="550.34" y="555.14" width="10.26" height="10.23" fill="#fddbc7"/>
<rect x="560.00" y="555.14" width="10.26" height="10.23" fill="#6aacd0"/>
<rect x="569.65" y="555.14" width="10.26" height="10.23" fill="#b2d5e7"/>
<rect x="579.31" y="555.14" width="10.26" height="10.23" fill="#92c5de"/>
<rect x="588.97" y="555.14" width="10.26" height="10.23" fill="#134b86"/>
<rect x="598.63" y="555.14" width="10.26" height="10.23" fill="#053061"/>
<rect x="617.94" y="555.14" width="9.66" height="10.23" fill="#2166ac"/>
<rect x="376.50" y="564.77" width="10.26" height="9.63" fill="#e58268"/>
<rect x="386.16" y="564.77" width="10.26" height="9.63" fill="#b2182b"/>
<rect x="395.82" y="564.77" width="10.26" height="9.63" fill="#f7f7f7"/>
<rect x="405.47" y="564.77" width="19.92" height="9.63" fill="#fae9df"/>
<rect x="424.79" y="564.77" width="10.26" height="9.63" fill="#d1e5f0"/>
<rect x="434.45" y="564.77" width="19.92" height="9.63" fill="#92c5de"/>
<rect x="453.76" y="564.77" width="10.26" height="9.63" fill="#e4eef4"/>
<rect x="463.42" y="564.77" width="10.26" height="9.63" fill="#d1e5f0"/>
<rect x="473.08" y="564.77" width="29.57" height="9.63" fill="#b2d5e7"/>
<rect x="502.05" y="564.77" width="19.92" height="9.63" fill="#d1e5f0"/>
<rect x="521.37" y="564.77" width="10.26" height="9.63" fill="#e4eef4"/>
<rect x="531.02" y="564.77" width="29.57" height="9.63" fill="#fddbc7"/>
<rect x="560.00" y="564.77" width="19.92" height="9.63" fill="#4393c3"/>
<rect x="579.31" y="564.77" width="19.92" height="9.63" fill="#053061"/>
<rect x="598.63" y="564.77" width="19.92" height="9.63" fill="#2166ac"/>
<rect x="376.50" y="324.00" width="251.10" height="250.40" fill="none" stroke="#3a3a3a" stroke-width="0.7"/>
<rect x="376.50" y="324.00" width="9.66" height="9.63" fill="#fff" stroke="#444" stroke-width="0.75"/>
<rect x="377.65" y="325.15" width="7.36" height="7.33" fill="#f4f4f4"/>
<rect x="386.16" y="333.63" width="9.66" height="9.63" fill="#fff" stroke="#444" stroke-width="0.75"/>
<rect x="387.31" y="334.78" width="7.36" height="7.33" fill="#f4f4f4"/>
<rect x="395.82" y="343.26" width="9.66" height="9.63" fill="#fff" stroke="#444" stroke-width="0.75"/>
<rect x="396.97" y="344.41" width="7.36" height="7.33" fill="#f4f4f4"/>
<rect x="405.47" y="352.89" width="9.66" height="9.63" fill="#fff" stroke="#444" stroke-width="0.75"/>
<rect x="406.62" y="354.04" width="7.36" height="7.33" fill="#f4f4f4"/>
<rect x="415.13" y="362.52" width="9.66" height="9.63" fill="#fff" stroke="#444" stroke-width="0.75"/>
<rect x="416.28" y="363.67" width="7.36" height="7.33" fill="#f4f4f4"/>
<rect x="424.79" y="372.15" width="9.66" height="9.63" fill="#fff" stroke="#444" stroke-width="0.75"/>
<rect x="425.94" y="373.30" width="7.36" height="7.33" fill="#f4f4f4"/>
<rect x="434.45" y="381.78" width="9.66" height="9.63" fill="#fff" stroke="#444" stroke-width="0.75"/>
<rect x="435.60" y="382.93" width="7.36" height="7.33" fill="#f4f4f4"/>
<rect x="444.10" y="391.42" width="9.66" height="9.63" fill="#fff" stroke="#444" stroke-width="0.75"/>
<rect x="445.25" y="392.57" width="7.36" height="7.33" fill="#f4f4f4"/>
<rect x="453.76" y="401.05" width="9.66" height="9.63" fill="#fff" stroke="#444" stroke-width="0.75"/>
<rect x="454.91" y="402.20" width="7.36" height="7.33" fill="#f4f4f4"/>
<rect x="463.42" y="410.68" width="9.66" height="9.63" fill="#fff" stroke="#444" stroke-width="0.75"/>
<rect x="464.57" y="411.83" width="7.36" height="7.33" fill="#f4f4f4"/>
<rect x="473.08" y="420.31" width="9.66" height="9.63" fill="#fff" stroke="#444" stroke-width="0.75"/>
<rect x="474.23" y="421.46" width="7.36" height="7.33" fill="#f4f4f4"/>
<rect x="482.73" y="429.94" width="9.66" height="9.63" fill="#fff" stroke="#444" stroke-width="0.75"/>
<rect x="483.88" y="431.09" width="7.36" height="7.33" fill="#f4f4f4"/>
<rect x="492.39" y="439.57" width="9.66" height="9.63" fill="#fff" stroke="#444" stroke-width="0.75"/>
<rect x="493.54" y="440.72" width="7.36" height="7.33" fill="#f4f4f4"/>
<rect x="502.05" y="449.20" width="9.66" height="9.63" fill="#fff" stroke="#444" stroke-width="0.75"/>
<rect x="503.20" y="450.35" width="7.36" height="7.33" fill="#f4f4f4"/>
<rect x="511.71" y="458.83" width="9.66" height="9.63" fill="#fff" stroke="#444" stroke-width="0.75"/>
<rect x="512.86" y="459.98" width="7.36" height="7.33" fill="#f4f4f4"/>
<rect x="521.37" y="468.46" width="9.66" height="9.63" fill="#fff" stroke="#444" stroke-width="0.75"/>
<rect x="522.52" y="469.61" width="7.36" height="7.33" fill="#f4f4f4"/>
<rect x="531.02" y="478.09" width="9.66" height="9.63" fill="#fff" stroke="#444" stroke-width="0.75"/>
<rect x="532.17" y="479.24" width="7.36" height="7.33" fill="#f4f4f4"/>
<rect x="540.68" y="487.72" width="9.66" height="9.63" fill="#fff" stroke="#444" stroke-width="0.75"/>
<rect x="541.83" y="488.87" width="7.36" height="7.33" fill="#f4f4f4"/>
<rect x="550.34" y="497.35" width="9.66" height="9.63" fill="#fff" stroke="#444" stroke-width="0.75"/>
<rect x="551.49" y="498.50" width="7.36" height="7.33" fill="#f4f4f4"/>
<rect x="560.00" y="506.98" width="9.66" height="9.63" fill="#fff" stroke="#444" stroke-width="0.75"/>
<rect x="561.15" y="508.13" width="7.36" height="7.33" fill="#f4f4f4"/>
<rect x="569.65" y="516.62" width="9.66" height="9.63" fill="#fff" stroke="#444" stroke-width="0.75"/>
<rect x="570.80" y="517.77" width="7.36" height="7.33" fill="#f4f4f4"/>
<rect x="579.31" y="526.25" width="9.66" height="9.63" fill="#fff" stroke="#444" stroke-width="0.75"/>
<rect x="580.46" y="527.40" width="7.36" height="7.33" fill="#f4f4f4"/>
<rect x="588.97" y="535.88" width="9.66" height="9.63" fill="#fff" stroke="#444" stroke-width="0.75"/>
<rect x="590.12" y="537.03" width="7.36" height="7.33" fill="#f4f4f4"/>
<rect x="598.63" y="545.51" width="9.66" height="9.63" fill="#fff" stroke="#444" stroke-width="0.75"/>
<rect x="599.78" y="546.66" width="7.36" height="7.33" fill="#f4f4f4"/>
<rect x="608.28" y="555.14" width="9.66" height="9.63" fill="#fff" stroke="#444" stroke-width="0.75"/>
<rect x="609.43" y="556.29" width="7.36" height="7.33" fill="#f4f4f4"/>
<rect x="617.94" y="564.77" width="9.66" height="9.63" fill="#fff" stroke="#444" stroke-width="0.75"/>
<rect x="619.09" y="565.92" width="7.36" height="7.33" fill="#f4f4f4"/>
<text class="y" transform="translate(370.2 330.77) scale(.925 1)">VIS A</text>
<text class="x" transform="translate(384.73 582.60) rotate(-45) scale(.925 1)">VIS A</text>
<text class="y" transform="translate(370.2 340.40) scale(.925 1)">VIS B</text>
<text class="x" transform="translate(394.39 582.60) rotate(-45) scale(.925 1)">VIS B</text>
<text class="y" transform="translate(370.2 350.03) scale(.925 1)">SMN A</text>
<text class="x" transform="translate(404.04 582.60) rotate(-45) scale(.925 1)">SMN A</text>
<text class="y" transform="translate(370.2 359.66) scale(.925 1)">SMN B</text>
<text class="x" transform="translate(413.70 582.60) rotate(-45) scale(.925 1)">SMN B</text>
<text class="y" transform="translate(370.2 369.29) scale(.925 1)">DAN A</text>
<text class="x" transform="translate(423.36 582.60) rotate(-45) scale(.925 1)">DAN A</text>
<text class="y" transform="translate(370.2 378.92) scale(.925 1)">DAN B</text>
<text class="x" transform="translate(433.02 582.60) rotate(-45) scale(.925 1)">DAN B</text>
<text class="y" transform="translate(370.2 388.55) scale(.925 1)">SAL A</text>
<text class="x" transform="translate(442.67 582.60) rotate(-45) scale(.925 1)">SAL A</text>
<text class="y" transform="translate(370.2 398.18) scale(.925 1)">SAL B</text>
<text class="x" transform="translate(452.33 582.60) rotate(-45) scale(.925 1)">SAL B</text>
<text class="y" transform="translate(370.2 407.81) scale(.925 1)">LIM B</text>
<text class="x" transform="translate(461.99 582.60) rotate(-45) scale(.925 1)">LIM B</text>
<text class="y" transform="translate(370.2 417.44) scale(.925 1)">LIM A</text>
<text class="x" transform="translate(471.65 582.60) rotate(-45) scale(.925 1)">LIM A</text>
<text class="y" transform="translate(370.2 427.07) scale(.925 1)">FPN A</text>
<text class="x" transform="translate(481.31 582.60) rotate(-45) scale(.925 1)">FPN A</text>
<text class="y" transform="translate(370.2 436.70) scale(.925 1)">FPN B</text>
<text class="x" transform="translate(490.96 582.60) rotate(-45) scale(.925 1)">FPN B</text>
<text class="y" transform="translate(370.2 446.33) scale(.925 1)">FPN C</text>
<text class="x" transform="translate(500.62 582.60) rotate(-45) scale(.925 1)">FPN C</text>
<text class="y" transform="translate(370.2 455.97) scale(.925 1)">DN A</text>
<text class="x" transform="translate(510.28 582.60) rotate(-45) scale(.925 1)">DN A</text>
<text class="y" transform="translate(370.2 465.60) scale(.925 1)">DN B</text>
<text class="x" transform="translate(519.94 582.60) rotate(-45) scale(.925 1)">DN B</text>
<text class="y" transform="translate(370.2 475.23) scale(.925 1)">DN C</text>
<text class="x" transform="translate(529.59 582.60) rotate(-45) scale(.925 1)">DN C</text>
<text class="y" transform="translate(370.2 484.86) scale(.925 1)">TPar</text>
<text class="x" transform="translate(539.25 582.60) rotate(-45) scale(.925 1)">TPar</text>
<text class="y" transform="translate(370.2 494.49) scale(.925 1)">HIP</text>
<text class="x" transform="translate(548.91 582.60) rotate(-45) scale(.925 1)">HIP</text>
<text class="y" transform="translate(370.2 504.12) scale(.925 1)">AMY</text>
<text class="x" transform="translate(558.57 582.60) rotate(-45) scale(.925 1)">AMY</text>
<text class="y" transform="translate(370.2 513.75) scale(.925 1)">NAc</text>
<text class="x" transform="translate(568.23 582.60) rotate(-45) scale(.925 1)">NAc</text>
<text class="y" transform="translate(370.2 523.38) scale(.925 1)">GP</text>
<text class="x" transform="translate(577.88 582.60) rotate(-45) scale(.925 1)">GP</text>
<text class="y" transform="translate(370.2 533.01) scale(.925 1)">PUT</text>
<text class="x" transform="translate(587.54 582.60) rotate(-45) scale(.925 1)">PUT</text>
<text class="y" transform="translate(370.2 542.64) scale(.925 1)">CAU</text>
<text class="x" transform="translate(597.20 582.60) rotate(-45) scale(.925 1)">CAU</text>
<text class="y" transform="translate(370.2 552.27) scale(.925 1)">vTHA</text>
<text class="x" transform="translate(606.86 582.60) rotate(-45) scale(.925 1)">vTHA</text>
<text class="y" transform="translate(370.2 561.90) scale(.925 1)">dTHA</text>
<text class="x" transform="translate(616.51 582.60) rotate(-45) scale(.925 1)">dTHA</text>
<text class="y" transform="translate(370.2 571.53) scale(.925 1)">CEREB</text>
<text class="x" transform="translate(626.17 582.60) rotate(-45) scale(.925 1)">CEREB</text>
<path d="M376.10 328.82h-3.4M381.33 574.80v3.4M376.10 338.45h-3.4M390.99 574.80v3.4M376.10 348.08h-3.4M400.64 574.80v3.4M376.10 357.71h-3.4M410.30 574.80v3.4M376.10 367.34h-3.4M419.96 574.80v3.4M376.10 376.97h-3.4M429.62 574.80v3.4M376.10 386.60h-3.4M439.27 574.80v3.4M376.10 396.23h-3.4M448.93 574.80v3.4M376.10 405.86h-3.4M458.59 574.80v3.4M376.10 415.49h-3.4M468.25 574.80v3.4M376.10 425.12h-3.4M477.91 574.80v3.4M376.10 434.75h-3.4M487.56 574.80v3.4M376.10 444.38h-3.4M497.22 574.80v3.4M376.10 454.02h-3.4M506.88 574.80v3.4M376.10 463.65h-3.4M516.54 574.80v3.4M376.10 473.28h-3.4M526.19 574.80v3.4M376.10 482.91h-3.4M535.85 574.80v3.4M376.10 492.54h-3.4M545.51 574.80v3.4M376.10 502.17h-3.4M555.17 574.80v3.4M376.10 511.80h-3.4M564.83 574.80v3.4M376.10 521.43h-3.4M574.48 574.80v3.4M376.10 531.06h-3.4M584.14 574.80v3.4M376.10 540.69h-3.4M593.80 574.80v3.4M376.10 550.32h-3.4M603.46 574.80v3.4M376.10 559.95h-3.4M613.11 574.80v3.4M376.10 569.58h-3.4M622.77 574.80v3.4" stroke="#333" stroke-width="0.7" fill="none"/>
<rect x="633.00" y="324.00" width="9.00" height="250.40" fill="url(#g)" stroke="#777" stroke-width="0.7"/>
<text class="c" transform="translate(650.6 326.35) scale(1.09 1)">0.100</text>
<text class="c" transform="translate(650.6 357.65) scale(1.09 1)">0.075</text>
<text class="c" transform="translate(650.6 388.95) scale(1.09 1)">0.050</text>
<text class="c" transform="translate(650.6 420.25) scale(1.09 1)">0.025</text>
<text class="c" transform="translate(650.6 451.55) scale(1.09 1)">0</text>
<text class="c" transform="translate(650.6 482.85) scale(1.09 1)">−0.025</text>
<text class="c" transform="translate(650.6 514.15) scale(1.09 1)">−0.050</text>
<text class="c" transform="translate(650.6 545.45) scale(1.09 1)">−0.075</text>
<text class="c" transform="translate(650.6 576.75) scale(1.09 1)">−0.100</text>
<path d="M642.00 324.00h3.6M642.00 355.30h3.6M642.00 386.60h3.6M642.00 417.90h3.6M642.00 449.20h3.6M642.00 480.50h3.6M642.00 511.80h3.6M642.00 543.10h3.6M642.00 574.40h3.6" stroke="#333" stroke-width="0.7" fill="none"/>
<text class="l" transform="translate(679.20 449.20) rotate(90) scale(1.11 1)">FC change</text>
</g>
<g>
<text class="t" transform="translate(153.0 616.8) scale(1.12 1)">Ayahuasca</text>
<text class="u" transform="translate(153.0 625.1) scale(1.077 1)">(1 dataset; <tspan font-style="italic">n</tspan> = 9)</text>
<rect x="37.15" y="630.40" width="19.91" height="10.23" fill="#053061"/>
<rect x="56.46" y="630.40" width="10.25" height="10.23" fill="#6aacd0"/>
<rect x="66.12" y="630.40" width="19.91" height="10.23" fill="#053061"/>
<rect x="85.42" y="630.40" width="19.91" height="10.23" fill="#6aacd0"/>
<rect x="104.73" y="630.40" width="19.91" height="10.23" fill="#053061"/>
<rect x="124.04" y="630.40" width="10.25" height="10.23" fill="#e4eef4"/>
<rect x="133.69" y="630.40" width="10.25" height="10.23" fill="#b2d5e7"/>
<rect x="143.35" y="630.40" width="10.25" height="10.23" fill="#053061"/>
<rect x="153.00" y="630.40" width="10.25" height="10.23" fill="#b2d5e7"/>
<rect x="162.65" y="630.40" width="10.25" height="10.23" fill="#fae9df"/>
<rect x="172.31" y="630.40" width="10.25" height="10.23" fill="#053061"/>
<rect x="181.96" y="630.40" width="10.25" height="10.23" fill="#2166ac"/>
<rect x="191.62" y="630.40" width="10.25" height="10.23" fill="#134b86"/>
<rect x="201.27" y="630.40" width="10.25" height="10.23" fill="#2166ac"/>
<rect x="210.92" y="630.40" width="10.25" height="10.23" fill="#4393c3"/>
<rect x="220.58" y="630.40" width="19.91" height="10.23" fill="#e58268"/>
<rect x="239.88" y="630.40" width="10.25" height="10.23" fill="#f7f7f7"/>
<rect x="249.54" y="630.40" width="10.25" height="10.23" fill="#fddbc7"/>
<rect x="259.19" y="630.40" width="10.25" height="10.23" fill="#d1e5f0"/>
<rect x="268.85" y="630.40" width="9.65" height="10.23" fill="#2166ac"/>
<rect x="27.50" y="640.03" width="10.25" height="10.23" fill="#053061"/>
<rect x="46.81" y="640.03" width="10.25" height="10.23" fill="#053061"/>
<rect x="56.46" y="640.03" width="10.25" height="10.23" fill="#134b86"/>
<rect x="66.12" y="640.03" width="19.91" height="10.23" fill="#053061"/>
<rect x="85.42" y="640.03" width="10.25" height="10.23" fill="#2166ac"/>
<rect x="95.08" y="640.03" width="10.25" height="10.23" fill="#92c5de"/>
<rect x="104.73" y="640.03" width="19.91" height="10.23" fill="#053061"/>
<rect x="124.04" y="640.03" width="10.25" height="10.23" fill="#f7f7f7"/>
<rect x="133.69" y="640.03" width="10.25" height="10.23" fill="#327cb8"/>
<rect x="143.35" y="640.03" width="10.25" height="10.23" fill="#053061"/>
<rect x="153.00" y="640.03" width="10.25" height="10.23" fill="#4393c3"/>
<rect x="162.65" y="640.03" width="10.25" height="10.23" fill="#92c5de"/>
<rect x="172.31" y="640.03" width="10.25" height="10.23" fill="#053061"/>
<rect x="181.96" y="640.03" width="10.25" height="10.23" fill="#134b86"/>
<rect x="191.62" y="640.03" width="19.91" height="10.23" fill="#053061"/>
<rect x="210.92" y="640.03" width="10.25" height="10.23" fill="#4393c3"/>
<rect x="220.58" y="640.03" width="10.25" height="10.23" fill="#f4a582"/>
<rect x="230.23" y="640.03" width="10.25" height="10.23" fill="#f8c0a4"/>
<rect x="239.88" y="640.03" width="10.25" height="10.23" fill="#e4eef4"/>
<rect x="249.54" y="640.03" width="19.91" height="10.23" fill="#fae9df"/>
<rect x="268.85" y="640.03" width="9.65" height="10.23" fill="#327cb8"/>
<rect x="27.50" y="649.66" width="19.91" height="10.23" fill="#053061"/>
<rect x="56.46" y="649.66" width="10.25" height="10.23" fill="#053061"/>
<rect x="66.12" y="649.66" width="10.25" height="10.23" fill="#b2d5e7"/>
<rect x="75.77" y="649.66" width="10.25" height="10.23" fill="#134b86"/>
<rect x="85.42" y="649.66" width="10.25" height="10.23" fill="#92c5de"/>
<rect x="95.08" y="649.66" width="10.25" height="10.23" fill="#6aacd0"/>
<rect x="104.73" y="649.66" width="10.25" height="10.23" fill="#2166ac"/>
<rect x="114.38" y="649.66" width="10.25" height="10.23" fill="#053061"/>
<rect x="124.04" y="649.66" width="10.25" height="10.23" fill="#fddbc7"/>
<rect x="133.69" y="649.66" width="10.25" height="10.23" fill="#f8c0a4"/>
<rect x="143.35" y="649.66" width="10.25" height="10.23" fill="#f7f7f7"/>
<rect x="153.00" y="649.66" width="10.25" height="10.23" fill="#92c5de"/>
<rect x="162.65" y="649.66" width="10.25" height="10.23" fill="#b2d5e7"/>
<rect x="172.31" y="649.66" width="10.25" height="10.23" fill="#053061"/>
<rect x="181.96" y="649.66" width="10.25" height="10.23" fill="#134b86"/>
<rect x="191.62" y="649.66" width="10.25" height="10.23" fill="#327cb8"/>
<rect x="201.27" y="649.66" width="10.25" height="10.23" fill="#053061"/>
<rect x="210.92" y="649.66" width="10.25" height="10.23" fill="#6aacd0"/>
<rect x="220.58" y="649.66" width="10.25" height="10.23" fill="#d6604d"/>
<rect x="230.23" y="649.66" width="10.25" height="10.23" fill="#f7f7f7"/>
<rect x="239.88" y="649.66" width="10.25" height="10.23" fill="#b2d5e7"/>
<rect x="249.54" y="649.66" width="10.25" height="10.23" fill="#fae9df"/>
<rect x="259.19" y="649.66" width="10.25" height="10.23" fill="#d1e5f0"/>
<rect x="268.85" y="649.66" width="9.65" height="10.23" fill="#b2d5e7"/>
<rect x="27.50" y="659.29" width="10.25" height="10.23" fill="#92c5de"/>
<rect x="37.15" y="659.29" width="10.25" height="10.23" fill="#134b86"/>
<rect x="46.81" y="659.29" width="10.25" height="10.23" fill="#053061"/>
<rect x="66.12" y="659.29" width="10.25" height="10.23" fill="#fddbc7"/>
<rect x="75.77" y="659.29" width="10.25" height="10.23" fill="#134b86"/>
<rect x="85.42" y="659.29" width="10.25" height="10.23" fill="#92c5de"/>
<rect x="95.08" y="659.29" width="10.25" height="10.23" fill="#fddbc7"/>
<rect x="104.73" y="659.29" width="19.91" height="10.23" fill="#053061"/>
<rect x="124.04" y="659.29" width="10.25" height="10.23" fill="#b2182b"/>
<rect x="133.69" y="659.29" width="10.25" height="10.23" fill="#fddbc7"/>
<rect x="143.35" y="659.29" width="10.25" height="10.23" fill="#d1e5f0"/>
<rect x="153.00" y="659.29" width="10.25" height="10.23" fill="#b2d5e7"/>
<rect x="162.65" y="659.29" width="10.25" height="10.23" fill="#d1e5f0"/>
<rect x="172.31" y="659.29" width="10.25" height="10.23" fill="#b2d5e7"/>
<rect x="181.96" y="659.29" width="10.25" height="10.23" fill="#92c5de"/>
<rect x="191.62" y="659.29" width="19.91" height="10.23" fill="#053061"/>
<rect x="210.92" y="659.29" width="10.25" height="10.23" fill="#4393c3"/>
<rect x="220.58" y="659.29" width="10.25" height="10.23" fill="#d6604d"/>
<rect x="230.23" y="659.29" width="10.25" height="10.23" fill="#b2182b"/>
<rect x="239.88" y="659.29" width="10.25" height="10.23" fill="#8c0c25"/>
<rect x="249.54" y="659.29" width="19.91" height="10.23" fill="#67001f"/>
<rect x="268.85" y="659.29" width="9.65" height="10.23" fill="#f4a582"/>
<rect x="27.50" y="668.92" width="10.25" height="10.23" fill="#053061"/>
<rect x="37.15" y="668.92" width="10.25" height="10.23" fill="#6aacd0"/>
<rect x="46.81" y="668.92" width="10.25" height="10.23" fill="#fae9df"/>
<rect x="56.46" y="668.92" width="10.25" height="10.23" fill="#f7f7f7"/>
<rect x="75.77" y="668.92" width="10.25" height="10.23" fill="#2166ac"/>
<rect x="85.42" y="668.92" width="10.25" height="10.23" fill="#e4eef4"/>
<rect x="95.08" y="668.92" width="10.25" height="10.23" fill="#92c5de"/>
<rect x="104.73" y="668.92" width="19.91" height="10.23" fill="#053061"/>
<rect x="124.04" y="668.92" width="10.25" height="10.23" fill="#d1e5f0"/>
<rect x="133.69" y="668.92" width="10.25" height="10.23" fill="#b2d5e7"/>
<rect x="143.35" y="668.92" width="10.25" height="10.23" fill="#92c5de"/>
<rect x="153.00" y="668.92" width="10.25" height="10.23" fill="#b2d5e7"/>
<rect x="162.65" y="668.92" width="10.25" height="10.23" fill="#f7f7f7"/>
<rect x="172.31" y="668.92" width="10.25" height="10.23" fill="#2166ac"/>
<rect x="181.96" y="668.92" width="10.25" height="10.23" fill="#327cb8"/>
<rect x="191.62" y="668.92" width="10.25" height="10.23" fill="#134b86"/>
<rect x="201.27" y="668.92" width="10.25" height="10.23" fill="#327cb8"/>
<rect x="210.92" y="668.92" width="10.25" height="10.23" fill="#6aacd0"/>
<rect x="220.58" y="668.92" width="19.91" height="10.23" fill="#f4a582"/>
<rect x="239.88" y="668.92" width="10.25" height="10.23" fill="#e4eef4"/>
<rect x="249.54" y="668.92" width="10.25" height="10.23" fill="#f8c0a4"/>
<rect x="259.19" y="668.92" width="10.25" height="10.23" fill="#fae9df"/>
<rect x="268.85" y="668.92" width="9.65" height="10.23" fill="#6aacd0"/>
<rect x="27.50" y="678.55" width="39.22" height="10.23" fill="#053061"/>
<rect x="66.12" y="678.55" width="10.25" height="10.23" fill="#2166ac"/>
<rect x="85.42" y="678.55" width="10.25" height="10.23" fill="#327cb8"/>
<rect x="95.08" y="678.55" width="10.25" height="10.23" fill="#053061"/>
<rect x="104.73" y="678.55" width="10.25" height="10.23" fill="#327cb8"/>
<rect x="114.38" y="678.55" width="10.25" height="10.23" fill="#053061"/>
<rect x="124.04" y="678.55" width="10.25" height="10.23" fill="#92c5de"/>
<rect x="133.69" y="678.55" width="29.56" height="10.23" fill="#b2d5e7"/>
<rect x="162.65" y="678.55" width="10.25" height="10.23" fill="#e4eef4"/>
<rect x="172.31" y="678.55" width="10.25" height="10.23" fill="#2166ac"/>
<rect x="181.96" y="678.55" width="10.25" height="10.23" fill="#327cb8"/>
<rect x="191.62" y="678.55" width="19.91" height="10.23" fill="#6aacd0"/>
<rect x="210.92" y="678.55" width="10.25" height="10.23" fill="#92c5de"/>
<rect x="220.58" y="678.55" width="10.25" height="10.23" fill="#f4a582"/>
<rect x="230.23" y="678.55" width="10.25" height="10.23" fill="#d1e5f0"/>
<rect x="239.88" y="678.55" width="10.25" height="10.23" fill="#6aacd0"/>
<rect x="249.54" y="678.55" width="10.25" height="10.23" fill="#f7f7f7"/>
<rect x="259.19" y="678.55" width="10.25" height="10.23" fill="#b2d5e7"/>
<rect x="268.85" y="678.55" width="9.65" height="10.23" fill="#6aacd0"/>
<rect x="27.50" y="688.18" width="10.25" height="10.23" fill="#d1e5f0"/>
<rect x="37.15" y="688.18" width="19.91" height="10.23" fill="#327cb8"/>
<rect x="56.46" y="688.18" width="10.25" height="10.23" fill="#053061"/>
<rect x="66.12" y="688.18" width="10.25" height="10.23" fill="#d1e5f0"/>
<rect x="75.77" y="688.18" width="10.25" height="10.23" fill="#053061"/>
<rect x="95.08" y="688.18" width="29.56" height="10.23" fill="#053061"/>
<rect x="124.04" y="688.18" width="10.25" height="10.23" fill="#fddbc7"/>
<rect x="133.69" y="688.18" width="10.25" height="10.23" fill="#f4a582"/>
<rect x="143.35" y="688.18" width="10.25" height="10.23" fill="#d1e5f0"/>
<rect x="153.00" y="688.18" width="19.91" height="10.23" fill="#fddbc7"/>
<rect x="172.31" y="688.18" width="10.25" height="10.23" fill="#e4eef4"/>
<rect x="181.96" y="688.18" width="10.25" height="10.23" fill="#6aacd0"/>
<rect x="191.62" y="688.18" width="10.25" height="10.23" fill="#b2d5e7"/>
<rect x="201.27" y="688.18" width="10.25" height="10.23" fill="#4393c3"/>
<rect x="210.92" y="688.18" width="10.25" height="10.23" fill="#053061"/>
<rect x="220.58" y="688.18" width="10.25" height="10.23" fill="#c43c3c"/>
<rect x="230.23" y="688.18" width="10.25" height="10.23" fill="#f4a582"/>
<rect x="239.88" y="688.18" width="10.25" height="10.23" fill="#d1e5f0"/>
<rect x="249.54" y="688.18" width="10.25" height="10.23" fill="#e58268"/>
<rect x="259.19" y="688.18" width="10.25" height="10.23" fill="#f8c0a4"/>
<rect x="268.85" y="688.18" width="9.65" height="10.23" fill="#fae9df"/>
<rect x="27.50" y="697.82" width="10.25" height="10.23" fill="#c43c3c"/>
<rect x="37.15" y="697.82" width="10.25" height="10.23" fill="#8c0c25"/>
<rect x="46.81" y="697.82" width="10.25" height="10.23" fill="#e4eef4"/>
<rect x="56.46" y="697.82" width="10.25" height="10.23" fill="#fae9df"/>
<rect x="66.12" y="697.82" width="10.25" height="10.23" fill="#fddbc7"/>
<rect x="75.77" y="697.82" width="10.25" height="10.23" fill="#2166ac"/>
<rect x="85.42" y="697.82" width="10.25" height="10.23" fill="#053061"/>
<rect x="104.73" y="697.82" width="19.91" height="10.23" fill="#053061"/>
<rect x="124.04" y="697.82" width="10.25" height="10.23" fill="#6aacd0"/>
<rect x="133.69" y="697.82" width="10.25" height="10.23" fill="#053061"/>
<rect x="143.35" y="697.82" width="10.25" height="10.23" fill="#327cb8"/>
<rect x="153.00" y="697.82" width="10.25" height="10.23" fill="#6aacd0"/>
<rect x="162.65" y="697.82" width="10.25" height="10.23" fill="#4393c3"/>
<rect x="172.31" y="697.82" width="10.25" height="10.23" fill="#d1e5f0"/>
<rect x="181.96" y="697.82" width="10.25" height="10.23" fill="#4393c3"/>
<rect x="191.62" y="697.82" width="10.25" height="10.23" fill="#6aacd0"/>
<rect x="201.27" y="697.82" width="10.25" height="10.23" fill="#fddbc7"/>
<rect x="210.92" y="697.82" width="10.25" height="10.23" fill="#053061"/>
<rect x="220.58" y="697.82" width="10.25" height="10.23" fill="#f7f7f7"/>
<rect x="230.23" y="697.82" width="10.25" height="10.23" fill="#2166ac"/>
<rect x="239.88" y="697.82" width="10.25" height="10.23" fill="#053061"/>
<rect x="249.54" y="697.82" width="19.91" height="10.23" fill="#92c5de"/>
<rect x="268.85" y="697.82" width="9.65" height="10.23" fill="#327cb8"/>
<rect x="27.50" y="707.45" width="10.25" height="10.23" fill="#fae9df"/>
<rect x="37.15" y="707.45" width="10.25" height="10.23" fill="#d1e5f0"/>
<rect x="46.81" y="707.45" width="10.25" height="10.23" fill="#e58268"/>
<rect x="56.46" y="707.45" width="10.25" height="10.23" fill="#053061"/>
<rect x="66.12" y="707.45" width="10.25" height="10.23" fill="#e4eef4"/>
<rect x="75.77" y="707.45" width="10.25" height="10.23" fill="#b2182b"/>
<rect x="85.42" y="707.45" width="10.25" height="10.23" fill="#92c5de"/>
<rect x="95.08" y="707.45" width="10.25" height="10.23" fill="#fae9df"/>
<rect x="114.38" y="707.45" width="10.25" height="10.23" fill="#6aacd0"/>
<rect x="124.04" y="707.45" width="10.25" height="10.23" fill="#327cb8"/>
<rect x="133.69" y="707.45" width="10.25" height="10.23" fill="#92c5de"/>
<rect x="143.35" y="707.45" width="19.91" height="10.23" fill="#053061"/>
<rect x="162.65" y="707.45" width="10.25" height="10.23" fill="#2166ac"/>
<rect x="172.31" y="707.45" width="29.56" height="10.23" fill="#053061"/>
<rect x="201.27" y="707.45" width="10.25" height="10.23" fill="#f8c0a4"/>
<rect x="210.92" y="707.45" width="10.25" height="10.23" fill="#134b86"/>
<rect x="220.58" y="707.45" width="10.25" height="10.23" fill="#4393c3"/>
<rect x="230.23" y="707.45" width="10.25" height="10.23" fill="#327cb8"/>
<rect x="239.88" y="707.45" width="29.56" height="10.23" fill="#053061"/>
<rect x="268.85" y="707.45" width="9.65" height="10.23" fill="#2166ac"/>
<rect x="27.50" y="717.08" width="10.25" height="10.23" fill="#4393c3"/>
<rect x="37.15" y="717.08" width="10.25" height="10.23" fill="#134b86"/>
<rect x="46.81" y="717.08" width="10.25" height="10.23" fill="#d1e5f0"/>
<rect x="56.46" y="717.08" width="10.25" height="10.23" fill="#134b86"/>
<rect x="66.12" y="717.08" width="10.25" height="10.23" fill="#053061"/>
<rect x="75.77" y="717.08" width="10.25" height="10.23" fill="#e4eef4"/>
<rect x="85.42" y="717.08" width="10.25" height="10.23" fill="#b2d5e7"/>
<rect x="95.08" y="717.08" width="10.25" height="10.23" fill="#fae9df"/>
<rect x="104.73" y="717.08" width="10.25" height="10.23" fill="#8c0c25"/>
<rect x="124.04" y="717.08" width="10.25" height="10.23" fill="#053061"/>
<rect x="133.69" y="717.08" width="10.25" height="10.23" fill="#2166ac"/>
<rect x="143.35" y="717.08" width="48.87" height="10.23" fill="#053061"/>
<rect x="191.62" y="717.08" width="10.25" height="10.23" fill="#2166ac"/>
<rect x="201.27" y="717.08" width="10.25" height="10.23" fill="#e58268"/>
<rect x="210.92" y="717.08" width="10.25" height="10.23" fill="#053061"/>
<rect x="220.58" y="717.08" width="19.91" height="10.23" fill="#134b86"/>
<rect x="239.88" y="717.08" width="29.56" height="10.23" fill="#053061"/>
<rect x="268.85" y="717.08" width="9.65" height="10.23" fill="#134b86"/>
<rect x="27.50" y="726.71" width="10.25" height="10.23" fill="#fae9df"/>
<rect x="37.15" y="726.71" width="10.25" height="10.23" fill="#f4a582"/>
<rect x="46.81" y="726.71" width="10.25" height="10.23" fill="#d1e5f0"/>
<rect x="56.46" y="726.71" width="10.25" height="10.23" fill="#f8c0a4"/>
<rect x="66.12" y="726.71" width="19.91" height="10.23" fill="#134b86"/>
<rect x="85.42" y="726.71" width="10.25" height="10.23" fill="#327cb8"/>
<rect x="95.08" y="726.71" width="10.25" height="10.23" fill="#053061"/>
<rect x="104.73" y="726.71" width="10.25" height="10.23" fill="#e4eef4"/>
<rect x="114.38" y="726.71" width="10.25" height="10.23" fill="#d1e5f0"/>
<rect x="133.69" y="726.71" width="10.25" height="10.23" fill="#6aacd0"/>
<rect x="143.35" y="726.71" width="19.91" height="10.23" fill="#fddbc7"/>
<rect x="162.65" y="726.71" width="10.25" height="10.23" fill="#e4eef4"/>
<rect x="172.31" y="726.71" width="10.25" height="10.23" fill="#d6604d"/>
<rect x="181.96" y="726.71" width="10.25" height="10.23" fill="#f4a582"/>
<rect x="191.62" y="726.71" width="10.25" height="10.23" fill="#f7f7f7"/>
<rect x="201.27" y="726.71" width="10.25" height="10.23" fill="#fddbc7"/>
<rect x="210.92" y="726.71" width="10.25" height="10.23" fill="#b2d5e7"/>
<rect x="220.58" y="726.71" width="10.25" height="10.23" fill="#c43c3c"/>
<rect x="230.23" y="726.71" width="10.25" height="10.23" fill="#f4a582"/>
<rect x="239.88" y="726.71" width="10.25" height="10.23" fill="#d1e5f0"/>
<rect x="249.54" y="726.71" width="10.25" height="10.23" fill="#b2182b"/>
<rect x="259.19" y="726.71" width="10.25" height="10.23" fill="#c43c3c"/>
<rect x="268.85" y="726.71" width="9.65" height="10.23" fill="#fddbc7"/>
<rect x="27.50" y="736.34" width="10.25" height="10.23" fill="#e58268"/>
<rect x="37.15" y="736.34" width="10.25" height="10.23" fill="#fddbc7"/>
<rect x="46.81" y="736.34" width="10.25" height="10.23" fill="#8c0c25"/>
<rect x="56.46" y="736.34" width="10.25" height="10.23" fill="#d1e5f0"/>
<rect x="66.12" y="736.34" width="10.25" height="10.23" fill="#e4eef4"/>
<rect x="75.77" y="736.34" width="10.25" height="10.23" fill="#f4a582"/>
<rect x="85.42" y="736.34" width="10.25" height="10.23" fill="#e58268"/>
<rect x="95.08" y="736.34" width="10.25" height="10.23" fill="#053061"/>
<rect x="104.73" y="736.34" width="19.91" height="10.23" fill="#e58268"/>
<rect x="124.04" y="736.34" width="10.25" height="10.23" fill="#053061"/>
<rect x="143.35" y="736.34" width="10.25" height="10.23" fill="#053061"/>
<rect x="153.00" y="736.34" width="10.25" height="10.23" fill="#2166ac"/>
<rect x="162.65" y="736.34" width="10.25" height="10.23" fill="#b2d5e7"/>
<rect x="172.31" y="736.34" width="10.25" height="10.23" fill="#f7f7f7"/>
<rect x="181.96" y="736.34" width="10.25" height="10.23" fill="#d1e5f0"/>
<rect x="191.62" y="736.34" width="10.25" height="10.23" fill="#f4a582"/>
<rect x="201.27" y="736.34" width="10.25" height="10.23" fill="#67001f"/>
<rect x="210.92" y="736.34" width="10.25" height="10.23" fill="#6aacd0"/>
<rect x="220.58" y="736.34" width="10.25" height="10.23" fill="#f4a582"/>
<rect x="230.23" y="736.34" width="10.25" height="10.23" fill="#f8c0a4"/>
<rect x="239.88" y="736.34" width="10.25" height="10.23" fill="#327cb8"/>
<rect x="249.54" y="736.34" width="10.25" height="10.23" fill="#d1e5f0"/>
<rect x="259.19" y="736.34" width="10.25" height="10.23" fill="#6aacd0"/>
<rect x="268.85" y="736.34" width="9.65" height="10.23" fill="#f7f7f7"/>
<rect x="27.50" y="745.97" width="19.91" height="10.23" fill="#e4eef4"/>
<rect x="46.81" y="745.97" width="10.25" height="10.23" fill="#67001f"/>
<rect x="56.46" y="745.97" width="10.25" height="10.23" fill="#d1e5f0"/>
<rect x="66.12" y="745.97" width="10.25" height="10.23" fill="#fddbc7"/>
<rect x="75.77" y="745.97" width="10.25" height="10.23" fill="#c43c3c"/>
<rect x="85.42" y="745.97" width="10.25" height="10.23" fill="#fddbc7"/>
<rect x="95.08" y="745.97" width="10.25" height="10.23" fill="#92c5de"/>
<rect x="104.73" y="745.97" width="10.25" height="10.23" fill="#327cb8"/>
<rect x="114.38" y="745.97" width="10.25" height="10.23" fill="#d1e5f0"/>
<rect x="124.04" y="745.97" width="10.25" height="10.23" fill="#fae9df"/>
<rect x="133.69" y="745.97" width="10.25" height="10.23" fill="#134b86"/>
<rect x="153.00" y="745.97" width="10.25" height="10.23" fill="#134b86"/>
<rect x="162.65" y="745.97" width="10.25" height="10.23" fill="#92c5de"/>
<rect x="172.31" y="745.97" width="10.25" height="10.23" fill="#053061"/>
<rect x="181.96" y="745.97" width="10.25" height="10.23" fill="#2166ac"/>
<rect x="191.62" y="745.97" width="10.25" height="10.23" fill="#134b86"/>
<rect x="201.27" y="745.97" width="10.25" height="10.23" fill="#fae9df"/>
<rect x="210.92" y="745.97" width="10.25" height="10.23" fill="#053061"/>
<rect x="220.58" y="745.97" width="10.25" height="10.23" fill="#f7f7f7"/>
<rect x="230.23" y="745.97" width="10.25" height="10.23" fill="#6aacd0"/>
<rect x="239.88" y="745.97" width="19.91" height="10.23" fill="#2166ac"/>
<rect x="259.19" y="745.97" width="10.25" height="10.23" fill="#053061"/>
<rect x="268.85" y="745.97" width="9.65" height="10.23" fill="#2166ac"/>
<rect x="27.50" y="755.60" width="10.25" height="10.23" fill="#c43c3c"/>
<rect x="37.15" y="755.60" width="10.25" height="10.23" fill="#f4a582"/>
<rect x="46.81" y="755.60" width="10.25" height="10.23" fill="#fddbc7"/>
<rect x="56.46" y="755.60" width="10.25" height="10.23" fill="#6aacd0"/>
<rect x="66.12" y="755.60" width="10.25" height="10.23" fill="#fddbc7"/>
<rect x="75.77" y="755.60" width="10.25" height="10.23" fill="#e58268"/>
<rect x="85.42" y="755.60" width="10.25" height="10.23" fill="#f8c0a4"/>
<rect x="95.08" y="755.60" width="10.25" height="10.23" fill="#d1e5f0"/>
<rect x="104.73" y="755.60" width="10.25" height="10.23" fill="#6aacd0"/>
<rect x="114.38" y="755.60" width="10.25" height="10.23" fill="#92c5de"/>
<rect x="124.04" y="755.60" width="10.25" height="10.23" fill="#f7f7f7"/>
<rect x="133.69" y="755.60" width="10.25" height="10.23" fill="#2166ac"/>
<rect x="143.35" y="755.60" width="10.25" height="10.23" fill="#327cb8"/>
<rect x="162.65" y="755.60" width="10.25" height="10.23" fill="#4393c3"/>
<rect x="172.31" y="755.60" width="10.25" height="10.23" fill="#053061"/>
<rect x="181.96" y="755.60" width="10.25" height="10.23" fill="#2166ac"/>
<rect x="191.62" y="755.60" width="10.25" height="10.23" fill="#4393c3"/>
<rect x="201.27" y="755.60" width="10.25" height="10.23" fill="#fddbc7"/>
<rect x="210.92" y="755.60" width="10.25" height="10.23" fill="#4393c3"/>
<rect x="220.58" y="755.60" width="10.25" height="10.23" fill="#fddbc7"/>
<rect x="230.23" y="755.60" width="10.25" height="10.23" fill="#e4eef4"/>
<rect x="239.88" y="755.60" width="10.25" height="10.23" fill="#2166ac"/>
<rect x="249.54" y="755.60" width="10.25" height="10.23" fill="#4393c3"/>
<rect x="259.19" y="755.60" width="10.25" height="10.23" fill="#327cb8"/>
<rect x="268.85" y="755.60" width="9.65" height="10.23" fill="#92c5de"/>
<rect x="27.50" y="765.23" width="10.25" height="10.23" fill="#b2182b"/>
<rect x="37.15" y="765.23" width="10.25" height="10.23" fill="#f8c0a4"/>
<rect x="46.81" y="765.23" width="10.25" height="10.23" fill="#b2d5e7"/>
<rect x="56.46" y="765.23" width="10.25" height="10.23" fill="#134b86"/>
<rect x="66.12" y="765.23" width="10.25" height="10.23" fill="#f7f7f7"/>
<rect x="75.77" y="765.23" width="10.25" height="10.23" fill="#fddbc7"/>
<rect x="85.42" y="765.23" width="10.25" height="10.23" fill="#b2d5e7"/>
<rect x="95.08" y="765.23" width="10.25" height="10.23" fill="#327cb8"/>
<rect x="104.73" y="765.23" width="19.91" height="10.23" fill="#d1e5f0"/>
<rect x="124.04" y="765.23" width="10.25" height="10.23" fill="#053061"/>
<rect x="133.69" y="765.23" width="10.25" height="10.23" fill="#327cb8"/>
<rect x="143.35" y="765.23" width="10.25" height="10.23" fill="#b2d5e7"/>
<rect x="153.00" y="765.23" width="10.25" height="10.23" fill="#2166ac"/>
<rect x="172.31" y="765.23" width="10.25" height="10.23" fill="#f8c0a4"/>
<rect x="181.96" y="765.23" width="10.25" height="10.23" fill="#327cb8"/>
<rect x="191.62" y="765.23" width="10.25" height="10.23" fill="#fddbc7"/>
<rect x="201.27" y="765.23" width="10.25" height="10.23" fill="#e58268"/>
<rect x="210.92" y="765.23" width="10.25" height="10.23" fill="#92c5de"/>
<rect x="220.58" y="765.23" width="10.25" height="10.23" fill="#b2182b"/>
<rect x="230.23" y="765.23" width="10.25" height="10.23" fill="#d6604d"/>
<rect x="239.88" y="765.23" width="10.25" height="10.23" fill="#6aacd0"/>
<rect x="249.54" y="765.23" width="10.25" height="10.23" fill="#fddbc7"/>
<rect x="259.19" y="765.23" width="10.25" height="10.23" fill="#e4eef4"/>
<rect x="268.85" y="765.23" width="9.65" height="10.23" fill="#f4a582"/>
<rect x="27.50" y="774.86" width="10.25" height="10.23" fill="#4393c3"/>
<rect x="37.15" y="774.86" width="10.25" height="10.23" fill="#053061"/>
<rect x="46.81" y="774.86" width="10.25" height="10.23" fill="#134b86"/>
<rect x="56.46" y="774.86" width="10.25" height="10.23" fill="#92c5de"/>
<rect x="66.12" y="774.86" width="10.25" height="10.23" fill="#4393c3"/>
<rect x="75.77" y="774.86" width="10.25" height="10.23" fill="#92c5de"/>
<rect x="85.42" y="774.86" width="10.25" height="10.23" fill="#e4eef4"/>
<rect x="95.08" y="774.86" width="10.25" height="10.23" fill="#e58268"/>
<rect x="104.73" y="774.86" width="10.25" height="10.23" fill="#6aacd0"/>
<rect x="114.38" y="774.86" width="10.25" height="10.23" fill="#d1e5f0"/>
<rect x="124.04" y="774.86" width="10.25" height="10.23" fill="#b2182b"/>
<rect x="133.69" y="774.86" width="10.25" height="10.23" fill="#f4a582"/>
<rect x="143.35" y="774.86" width="10.25" height="10.23" fill="#053061"/>
<rect x="153.00" y="774.86" width="10.25" height="10.23" fill="#2166ac"/>
<rect x="162.65" y="774.86" width="10.25" height="10.23" fill="#c43c3c"/>
<rect x="181.96" y="774.86" width="10.25" height="10.23" fill="#b2d5e7"/>
<rect x="191.62" y="774.86" width="10.25" height="10.23" fill="#134b86"/>
<rect x="201.27" y="774.86" width="10.25" height="10.23" fill="#d1e5f0"/>
<rect x="210.92" y="774.86" width="10.25" height="10.23" fill="#327cb8"/>
<rect x="220.58" y="774.86" width="10.25" height="10.23" fill="#fddbc7"/>
<rect x="230.23" y="774.86" width="10.25" height="10.23" fill="#c43c3c"/>
<rect x="239.88" y="774.86" width="10.25" height="10.23" fill="#fae9df"/>
<rect x="249.54" y="774.86" width="10.25" height="10.23" fill="#f7f7f7"/>
<rect x="259.19" y="774.86" width="10.25" height="10.23" fill="#92c5de"/>
<rect x="268.85" y="774.86" width="9.65" height="10.23" fill="#d1e5f0"/>
<rect x="27.50" y="784.49" width="10.25" height="10.23" fill="#f7f7f7"/>
<rect x="37.15" y="784.49" width="10.25" height="10.23" fill="#d1e5f0"/>
<rect x="46.81" y="784.49" width="10.25" height="10.23" fill="#2166ac"/>
<rect x="56.46" y="784.49" width="10.25" height="10.23" fill="#327cb8"/>
<rect x="66.12" y="784.49" width="19.91" height="10.23" fill="#92c5de"/>
<rect x="85.42" y="784.49" width="10.25" height="10.23" fill="#2166ac"/>
<rect x="95.08" y="784.49" width="10.25" height="10.23" fill="#d1e5f0"/>
<rect x="104.73" y="784.49" width="10.25" height="10.23" fill="#92c5de"/>
<rect x="114.38" y="784.49" width="10.25" height="10.23" fill="#053061"/>
<rect x="124.04" y="784.49" width="10.25" height="10.23" fill="#f4a582"/>
<rect x="133.69" y="784.49" width="10.25" height="10.23" fill="#fae9df"/>
<rect x="143.35" y="784.49" width="10.25" height="10.23" fill="#92c5de"/>
<rect x="153.00" y="784.49" width="10.25" height="10.23" fill="#4393c3"/>
<rect x="162.65" y="784.49" width="10.25" height="10.23" fill="#053061"/>
<rect x="172.31" y="784.49" width="10.25" height="10.23" fill="#fddbc7"/>
<rect x="191.62" y="784.49" width="10.25" height="10.23" fill="#4393c3"/>
<rect x="201.27" y="784.49" width="10.25" height="10.23" fill="#2166ac"/>
<rect x="210.92" y="784.49" width="10.25" height="10.23" fill="#327cb8"/>
<rect x="220.58" y="784.49" width="10.25" height="10.23" fill="#c43c3c"/>
<rect x="230.23" y="784.49" width="10.25" height="10.23" fill="#b2182b"/>
<rect x="239.88" y="784.49" width="10.25" height="10.23" fill="#f7f7f7"/>
<rect x="249.54" y="784.49" width="19.91" height="10.23" fill="#d6604d"/>
<rect x="268.85" y="784.49" width="9.65" height="10.23" fill="#fae9df"/>
<rect x="27.50" y="794.12" width="10.25" height="10.23" fill="#d1e5f0"/>
<rect x="37.15" y="794.12" width="10.25" height="10.23" fill="#053061"/>
<rect x="46.81" y="794.12" width="10.25" height="10.23" fill="#b2d5e7"/>
<rect x="56.46" y="794.12" width="10.25" height="10.23" fill="#053061"/>
<rect x="66.12" y="794.12" width="10.25" height="10.23" fill="#4393c3"/>
<rect x="75.77" y="794.12" width="10.25" height="10.23" fill="#fae9df"/>
<rect x="85.42" y="794.12" width="10.25" height="10.23" fill="#e4eef4"/>
<rect x="95.08" y="794.12" width="10.25" height="10.23" fill="#fae9df"/>
<rect x="104.73" y="794.12" width="10.25" height="10.23" fill="#92c5de"/>
<rect x="114.38" y="794.12" width="10.25" height="10.23" fill="#e4eef4"/>
<rect x="124.04" y="794.12" width="10.25" height="10.23" fill="#f7f7f7"/>
<rect x="133.69" y="794.12" width="10.25" height="10.23" fill="#8c0c25"/>
<rect x="143.35" y="794.12" width="10.25" height="10.23" fill="#6aacd0"/>
<rect x="153.00" y="794.12" width="10.25" height="10.23" fill="#d1e5f0"/>
<rect x="162.65" y="794.12" width="10.25" height="10.23" fill="#e58268"/>
<rect x="172.31" y="794.12" width="10.25" height="10.23" fill="#2166ac"/>
<rect x="181.96" y="794.12" width="10.25" height="10.23" fill="#92c5de"/>
<rect x="201.27" y="794.12" width="10.25" height="10.23" fill="#e4eef4"/>
<rect x="210.92" y="794.12" width="10.25" height="10.23" fill="#053061"/>
<rect x="220.58" y="794.12" width="10.25" height="10.23" fill="#f4a582"/>
<rect x="230.23" y="794.12" width="10.25" height="10.23" fill="#b2182b"/>
<rect x="239.88" y="794.12" width="10.25" height="10.23" fill="#6aacd0"/>
<rect x="249.54" y="794.12" width="10.25" height="10.23" fill="#b2d5e7"/>
<rect x="259.19" y="794.12" width="10.25" height="10.23" fill="#053061"/>
<rect x="268.85" y="794.12" width="9.65" height="10.23" fill="#f4a582"/>
<rect x="27.50" y="803.75" width="10.25" height="10.23" fill="#327cb8"/>
<rect x="37.15" y="803.75" width="29.56" height="10.23" fill="#053061"/>
<rect x="66.12" y="803.75" width="10.25" height="10.23" fill="#2166ac"/>
<rect x="75.77" y="803.75" width="10.25" height="10.23" fill="#92c5de"/>
<rect x="85.42" y="803.75" width="10.25" height="10.23" fill="#134b86"/>
<rect x="95.08" y="803.75" width="10.25" height="10.23" fill="#e58268"/>
<rect x="104.73" y="803.75" width="10.25" height="10.23" fill="#b2182b"/>
<rect x="114.38" y="803.75" width="10.25" height="10.23" fill="#67001f"/>
<rect x="124.04" y="803.75" width="10.25" height="10.23" fill="#e4eef4"/>
<rect x="133.69" y="803.75" width="10.25" height="10.23" fill="#67001f"/>
<rect x="143.35" y="803.75" width="19.91" height="10.23" fill="#f4a582"/>
<rect x="162.65" y="803.75" width="10.25" height="10.23" fill="#e58268"/>
<rect x="172.31" y="803.75" width="10.25" height="10.23" fill="#d1e5f0"/>
<rect x="181.96" y="803.75" width="10.25" height="10.23" fill="#053061"/>
<rect x="191.62" y="803.75" width="10.25" height="10.23" fill="#f7f7f7"/>
<rect x="210.92" y="803.75" width="10.25" height="10.23" fill="#053061"/>
<rect x="220.58" y="803.75" width="19.91" height="10.23" fill="#92c5de"/>
<rect x="239.88" y="803.75" width="10.25" height="10.23" fill="#6aacd0"/>
<rect x="249.54" y="803.75" width="10.25" height="10.23" fill="#327cb8"/>
<rect x="259.19" y="803.75" width="10.25" height="10.23" fill="#2166ac"/>
<rect x="268.85" y="803.75" width="9.65" height="10.23" fill="#c43c3c"/>
<rect x="27.50" y="813.38" width="19.91" height="10.23" fill="#f4a582"/>
<rect x="46.81" y="813.38" width="10.25" height="10.23" fill="#e58268"/>
<rect x="56.46" y="813.38" width="10.25" height="10.23" fill="#e4eef4"/>
<rect x="66.12" y="813.38" width="10.25" height="10.23" fill="#f4a582"/>
<rect x="75.77" y="813.38" width="10.25" height="10.23" fill="#e58268"/>
<rect x="85.42" y="813.38" width="10.25" height="10.23" fill="#6aacd0"/>
<rect x="95.08" y="813.38" width="10.25" height="10.23" fill="#327cb8"/>
<rect x="104.73" y="813.38" width="10.25" height="10.23" fill="#b2d5e7"/>
<rect x="114.38" y="813.38" width="10.25" height="10.23" fill="#2166ac"/>
<rect x="124.04" y="813.38" width="10.25" height="10.23" fill="#fddbc7"/>
<rect x="133.69" y="813.38" width="10.25" height="10.23" fill="#fae9df"/>
<rect x="143.35" y="813.38" width="10.25" height="10.23" fill="#92c5de"/>
<rect x="153.00" y="813.38" width="10.25" height="10.23" fill="#e4eef4"/>
<rect x="162.65" y="813.38" width="10.25" height="10.23" fill="#fddbc7"/>
<rect x="172.31" y="813.38" width="10.25" height="10.23" fill="#e4eef4"/>
<rect x="181.96" y="813.38" width="10.25" height="10.23" fill="#fae9df"/>
<rect x="191.62" y="813.38" width="10.25" height="10.23" fill="#134b86"/>
<rect x="201.27" y="813.38" width="10.25" height="10.23" fill="#327cb8"/>
<rect x="220.58" y="813.38" width="10.25" height="10.23" fill="#e4eef4"/>
<rect x="230.23" y="813.38" width="10.25" height="10.23" fill="#2166ac"/>
<rect x="239.88" y="813.38" width="38.62" height="10.23" fill="#053061"/>
<rect x="27.50" y="823.02" width="10.25" height="10.23" fill="#e58268"/>
<rect x="37.15" y="823.02" width="19.91" height="10.23" fill="#f4a582"/>
<rect x="56.46" y="823.02" width="10.25" height="10.23" fill="#fddbc7"/>
<rect x="66.12" y="823.02" width="10.25" height="10.23" fill="#f7f7f7"/>
<rect x="75.77" y="823.02" width="10.25" height="10.23" fill="#fddbc7"/>
<rect x="85.42" y="823.02" width="10.25" height="10.23" fill="#f8c0a4"/>
<rect x="95.08" y="823.02" width="10.25" height="10.23" fill="#6aacd0"/>
<rect x="104.73" y="823.02" width="10.25" height="10.23" fill="#4393c3"/>
<rect x="114.38" y="823.02" width="10.25" height="10.23" fill="#327cb8"/>
<rect x="124.04" y="823.02" width="10.25" height="10.23" fill="#fddbc7"/>
<rect x="133.69" y="823.02" width="10.25" height="10.23" fill="#fae9df"/>
<rect x="143.35" y="823.02" width="10.25" height="10.23" fill="#92c5de"/>
<rect x="153.00" y="823.02" width="10.25" height="10.23" fill="#d1e5f0"/>
<rect x="162.65" y="823.02" width="10.25" height="10.23" fill="#e58268"/>
<rect x="172.31" y="823.02" width="10.25" height="10.23" fill="#e4eef4"/>
<rect x="181.96" y="823.02" width="19.91" height="10.23" fill="#f4a582"/>
<rect x="201.27" y="823.02" width="10.25" height="10.23" fill="#327cb8"/>
<rect x="210.92" y="823.02" width="10.25" height="10.23" fill="#fae9df"/>
<rect x="230.23" y="823.02" width="10.25" height="10.23" fill="#67001f"/>
<rect x="239.88" y="823.02" width="10.25" height="10.23" fill="#f8c0a4"/>
<rect x="249.54" y="823.02" width="10.25" height="10.23" fill="#e58268"/>
<rect x="259.19" y="823.02" width="10.25" height="10.23" fill="#b2d5e7"/>
<rect x="268.85" y="823.02" width="9.65" height="10.23" fill="#fddbc7"/>
<rect x="27.50" y="832.65" width="10.25" height="10.23" fill="#8c0c25"/>
<rect x="37.15" y="832.65" width="10.25" height="10.23" fill="#d6604d"/>
<rect x="46.81" y="832.65" width="10.25" height="10.23" fill="#92c5de"/>
<rect x="56.46" y="832.65" width="10.25" height="10.23" fill="#e58268"/>
<rect x="66.12" y="832.65" width="10.25" height="10.23" fill="#fddbc7"/>
<rect x="75.77" y="832.65" width="10.25" height="10.23" fill="#92c5de"/>
<rect x="85.42" y="832.65" width="10.25" height="10.23" fill="#b2d5e7"/>
<rect x="95.08" y="832.65" width="10.25" height="10.23" fill="#053061"/>
<rect x="104.73" y="832.65" width="10.25" height="10.23" fill="#92c5de"/>
<rect x="114.38" y="832.65" width="10.25" height="10.23" fill="#d1e5f0"/>
<rect x="124.04" y="832.65" width="10.25" height="10.23" fill="#92c5de"/>
<rect x="133.69" y="832.65" width="10.25" height="10.23" fill="#d1e5f0"/>
<rect x="143.35" y="832.65" width="10.25" height="10.23" fill="#134b86"/>
<rect x="153.00" y="832.65" width="10.25" height="10.23" fill="#92c5de"/>
<rect x="162.65" y="832.65" width="10.25" height="10.23" fill="#fddbc7"/>
<rect x="172.31" y="832.65" width="19.91" height="10.23" fill="#b2182b"/>
<rect x="191.62" y="832.65" width="10.25" height="10.23" fill="#67001f"/>
<rect x="201.27" y="832.65" width="10.25" height="10.23" fill="#327cb8"/>
<rect x="210.92" y="832.65" width="10.25" height="10.23" fill="#6aacd0"/>
<rect x="220.58" y="832.65" width="10.25" height="10.23" fill="#67001f"/>
<rect x="239.88" y="832.65" width="10.25" height="10.23" fill="#053061"/>
<rect x="249.54" y="832.65" width="10.25" height="10.23" fill="#c43c3c"/>
<rect x="259.19" y="832.65" width="10.25" height="10.23" fill="#e4eef4"/>
<rect x="268.85" y="832.65" width="9.65" height="10.23" fill="#e58268"/>
<rect x="27.50" y="842.28" width="10.25" height="10.23" fill="#67001f"/>
<rect x="37.15" y="842.28" width="10.25" height="10.23" fill="#8c0c25"/>
<rect x="46.81" y="842.28" width="10.25" height="10.23" fill="#fae9df"/>
<rect x="56.46" y="842.28" width="10.25" height="10.23" fill="#67001f"/>
<rect x="66.12" y="842.28" width="10.25" height="10.23" fill="#f4a582"/>
<rect x="75.77" y="842.28" width="10.25" height="10.23" fill="#d1e5f0"/>
<rect x="85.42" y="842.28" width="10.25" height="10.23" fill="#b2d5e7"/>
<rect x="95.08" y="842.28" width="10.25" height="10.23" fill="#134b86"/>
<rect x="104.73" y="842.28" width="10.25" height="10.23" fill="#4393c3"/>
<rect x="114.38" y="842.28" width="19.91" height="10.23" fill="#92c5de"/>
<rect x="133.69" y="842.28" width="10.25" height="10.23" fill="#4393c3"/>
<rect x="143.35" y="842.28" width="29.56" height="10.23" fill="#327cb8"/>
<rect x="172.31" y="842.28" width="10.25" height="10.23" fill="#d6604d"/>
<rect x="181.96" y="842.28" width="10.25" height="10.23" fill="#e58268"/>
<rect x="191.62" y="842.28" width="10.25" height="10.23" fill="#d1e5f0"/>
<rect x="201.27" y="842.28" width="10.25" height="10.23" fill="#4393c3"/>
<rect x="210.92" y="842.28" width="10.25" height="10.23" fill="#053061"/>
<rect x="220.58" y="842.28" width="10.25" height="10.23" fill="#e4eef4"/>
<rect x="230.23" y="842.28" width="10.25" height="10.23" fill="#053061"/>
<rect x="249.54" y="842.28" width="19.91" height="10.23" fill="#fddbc7"/>
<rect x="268.85" y="842.28" width="9.65" height="10.23" fill="#053061"/>
<rect x="27.50" y="851.91" width="10.25" height="10.23" fill="#c43c3c"/>
<rect x="37.15" y="851.91" width="10.25" height="10.23" fill="#d6604d"/>
<rect x="46.81" y="851.91" width="10.25" height="10.23" fill="#fae9df"/>
<rect x="56.46" y="851.91" width="10.25" height="10.23" fill="#67001f"/>
<rect x="66.12" y="851.91" width="10.25" height="10.23" fill="#f8c0a4"/>
<rect x="75.77" y="851.91" width="10.25" height="10.23" fill="#f7f7f7"/>
<rect x="85.42" y="851.91" width="10.25" height="10.23" fill="#fddbc7"/>
<rect x="95.08" y="851.91" width="10.25" height="10.23" fill="#4393c3"/>
<rect x="104.73" y="851.91" width="10.25" height="10.23" fill="#327cb8"/>
<rect x="114.38" y="851.91" width="10.25" height="10.23" fill="#4393c3"/>
<rect x="124.04" y="851.91" width="10.25" height="10.23" fill="#e58268"/>
<rect x="133.69" y="851.91" width="10.25" height="10.23" fill="#b2d5e7"/>
<rect x="143.35" y="851.91" width="10.25" height="10.23" fill="#053061"/>
<rect x="153.00" y="851.91" width="10.25" height="10.23" fill="#327cb8"/>
<rect x="162.65" y="851.91" width="10.25" height="10.23" fill="#f7f7f7"/>
<rect x="172.31" y="851.91" width="10.25" height="10.23" fill="#fae9df"/>
<rect x="181.96" y="851.91" width="10.25" height="10.23" fill="#b2182b"/>
<rect x="191.62" y="851.91" width="10.25" height="10.23" fill="#d1e5f0"/>
<rect x="201.27" y="851.91" width="10.25" height="10.23" fill="#134b86"/>
<rect x="210.92" y="851.91" width="10.25" height="10.23" fill="#327cb8"/>
<rect x="220.58" y="851.91" width="10.25" height="10.23" fill="#f8c0a4"/>
<rect x="230.23" y="851.91" width="10.25" height="10.23" fill="#d6604d"/>
<rect x="239.88" y="851.91" width="10.25" height="10.23" fill="#f8c0a4"/>
<rect x="259.19" y="851.91" width="10.25" height="10.23" fill="#fae9df"/>
<rect x="268.85" y="851.91" width="9.65" height="10.23" fill="#327cb8"/>
<rect x="27.50" y="861.54" width="10.25" height="10.23" fill="#d6604d"/>
<rect x="37.15" y="861.54" width="10.25" height="10.23" fill="#67001f"/>
<rect x="46.81" y="861.54" width="10.25" height="10.23" fill="#fae9df"/>
<rect x="56.46" y="861.54" width="10.25" height="10.23" fill="#67001f"/>
<rect x="66.12" y="861.54" width="10.25" height="10.23" fill="#f4a582"/>
<rect x="75.77" y="861.54" width="10.25" height="10.23" fill="#e4eef4"/>
<rect x="85.42" y="861.54" width="10.25" height="10.23" fill="#f8c0a4"/>
<rect x="95.08" y="861.54" width="10.25" height="10.23" fill="#e4eef4"/>
<rect x="104.73" y="861.54" width="10.25" height="10.23" fill="#2166ac"/>
<rect x="114.38" y="861.54" width="10.25" height="10.23" fill="#327cb8"/>
<rect x="124.04" y="861.54" width="10.25" height="10.23" fill="#c43c3c"/>
<rect x="133.69" y="861.54" width="10.25" height="10.23" fill="#92c5de"/>
<rect x="143.35" y="861.54" width="10.25" height="10.23" fill="#053061"/>
<rect x="153.00" y="861.54" width="10.25" height="10.23" fill="#327cb8"/>
<rect x="162.65" y="861.54" width="10.25" height="10.23" fill="#e4eef4"/>
<rect x="172.31" y="861.54" width="10.25" height="10.23" fill="#d1e5f0"/>
<rect x="181.96" y="861.54" width="10.25" height="10.23" fill="#67001f"/>
<rect x="191.62" y="861.54" width="29.56" height="10.23" fill="#134b86"/>
<rect x="220.58" y="861.54" width="10.25" height="10.23" fill="#327cb8"/>
<rect x="230.23" y="861.54" width="10.25" height="10.23" fill="#b2d5e7"/>
<rect x="239.88" y="861.54" width="10.25" height="10.23" fill="#e58268"/>
<rect x="249.54" y="861.54" width="10.25" height="10.23" fill="#f7f7f7"/>
<rect x="268.85" y="861.54" width="9.65" height="10.23" fill="#053061"/>
<rect x="27.50" y="871.17" width="10.25" height="9.63" fill="#d1e5f0"/>
<rect x="37.15" y="871.17" width="19.91" height="9.63" fill="#fddbc7"/>
<rect x="56.46" y="871.17" width="10.25" height="9.63" fill="#e58268"/>
<rect x="66.12" y="871.17" width="10.25" height="9.63" fill="#92c5de"/>
<rect x="75.77" y="871.17" width="10.25" height="9.63" fill="#b2d5e7"/>
<rect x="85.42" y="871.17" width="10.25" height="9.63" fill="#fddbc7"/>
<rect x="95.08" y="871.17" width="10.25" height="9.63" fill="#92c5de"/>
<rect x="104.73" y="871.17" width="10.25" height="9.63" fill="#f4a582"/>
<rect x="114.38" y="871.17" width="10.25" height="9.63" fill="#d6604d"/>
<rect x="124.04" y="871.17" width="10.25" height="9.63" fill="#e4eef4"/>
<rect x="133.69" y="871.17" width="10.25" height="9.63" fill="#f4a582"/>
<rect x="143.35" y="871.17" width="10.25" height="9.63" fill="#6aacd0"/>
<rect x="153.00" y="871.17" width="10.25" height="9.63" fill="#fddbc7"/>
<rect x="162.65" y="871.17" width="10.25" height="9.63" fill="#c43c3c"/>
<rect x="172.31" y="871.17" width="10.25" height="9.63" fill="#f8c0a4"/>
<rect x="181.96" y="871.17" width="10.25" height="9.63" fill="#d6604d"/>
<rect x="191.62" y="871.17" width="19.91" height="9.63" fill="#8c0c25"/>
<rect x="210.92" y="871.17" width="10.25" height="9.63" fill="#92c5de"/>
<rect x="220.58" y="871.17" width="10.25" height="9.63" fill="#d1e5f0"/>
<rect x="230.23" y="871.17" width="10.25" height="9.63" fill="#d6604d"/>
<rect x="239.88" y="871.17" width="29.56" height="9.63" fill="#053061"/>
<rect x="27.50" y="630.40" width="251.00" height="250.40" fill="none" stroke="#3a3a3a" stroke-width="0.7"/>
<rect x="27.50" y="630.40" width="9.65" height="9.63" fill="#fff" stroke="#444" stroke-width="0.75"/>
<rect x="28.65" y="631.55" width="7.35" height="7.33" fill="#f4f4f4"/>
<rect x="37.15" y="640.03" width="9.65" height="9.63" fill="#fff" stroke="#444" stroke-width="0.75"/>
<rect x="38.30" y="641.18" width="7.35" height="7.33" fill="#f4f4f4"/>
<rect x="46.81" y="649.66" width="9.65" height="9.63" fill="#fff" stroke="#444" stroke-width="0.75"/>
<rect x="47.96" y="650.81" width="7.35" height="7.33" fill="#f4f4f4"/>
<rect x="56.46" y="659.29" width="9.65" height="9.63" fill="#fff" stroke="#444" stroke-width="0.75"/>
<rect x="57.61" y="660.44" width="7.35" height="7.33" fill="#f4f4f4"/>
<rect x="66.12" y="668.92" width="9.65" height="9.63" fill="#fff" stroke="#444" stroke-width="0.75"/>
<rect x="67.27" y="670.07" width="7.35" height="7.33" fill="#f4f4f4"/>
<rect x="75.77" y="678.55" width="9.65" height="9.63" fill="#fff" stroke="#444" stroke-width="0.75"/>
<rect x="76.92" y="679.70" width="7.35" height="7.33" fill="#f4f4f4"/>
<rect x="85.42" y="688.18" width="9.65" height="9.63" fill="#fff" stroke="#444" stroke-width="0.75"/>
<rect x="86.57" y="689.33" width="7.35" height="7.33" fill="#f4f4f4"/>
<rect x="95.08" y="697.82" width="9.65" height="9.63" fill="#fff" stroke="#444" stroke-width="0.75"/>
<rect x="96.23" y="698.97" width="7.35" height="7.33" fill="#f4f4f4"/>
<rect x="104.73" y="707.45" width="9.65" height="9.63" fill="#fff" stroke="#444" stroke-width="0.75"/>
<rect x="105.88" y="708.60" width="7.35" height="7.33" fill="#f4f4f4"/>
<rect x="114.38" y="717.08" width="9.65" height="9.63" fill="#fff" stroke="#444" stroke-width="0.75"/>
<rect x="115.53" y="718.23" width="7.35" height="7.33" fill="#f4f4f4"/>
<rect x="124.04" y="726.71" width="9.65" height="9.63" fill="#fff" stroke="#444" stroke-width="0.75"/>
<rect x="125.19" y="727.86" width="7.35" height="7.33" fill="#f4f4f4"/>
<rect x="133.69" y="736.34" width="9.65" height="9.63" fill="#fff" stroke="#444" stroke-width="0.75"/>
<rect x="134.84" y="737.49" width="7.35" height="7.33" fill="#f4f4f4"/>
<rect x="143.35" y="745.97" width="9.65" height="9.63" fill="#fff" stroke="#444" stroke-width="0.75"/>
<rect x="144.50" y="747.12" width="7.35" height="7.33" fill="#f4f4f4"/>
<rect x="153.00" y="755.60" width="9.65" height="9.63" fill="#fff" stroke="#444" stroke-width="0.75"/>
<rect x="154.15" y="756.75" width="7.35" height="7.33" fill="#f4f4f4"/>
<rect x="162.65" y="765.23" width="9.65" height="9.63" fill="#fff" stroke="#444" stroke-width="0.75"/>
<rect x="163.80" y="766.38" width="7.35" height="7.33" fill="#f4f4f4"/>
<rect x="172.31" y="774.86" width="9.65" height="9.63" fill="#fff" stroke="#444" stroke-width="0.75"/>
<rect x="173.46" y="776.01" width="7.35" height="7.33" fill="#f4f4f4"/>
<rect x="181.96" y="784.49" width="9.65" height="9.63" fill="#fff" stroke="#444" stroke-width="0.75"/>
<rect x="183.11" y="785.64" width="7.35" height="7.33" fill="#f4f4f4"/>
<rect x="191.62" y="794.12" width="9.65" height="9.63" fill="#fff" stroke="#444" stroke-width="0.75"/>
<rect x="192.77" y="795.27" width="7.35" height="7.33" fill="#f4f4f4"/>
<rect x="201.27" y="803.75" width="9.65" height="9.63" fill="#fff" stroke="#444" stroke-width="0.75"/>
<rect x="202.42" y="804.90" width="7.35" height="7.33" fill="#f4f4f4"/>
<rect x="210.92" y="813.38" width="9.65" height="9.63" fill="#fff" stroke="#444" stroke-width="0.75"/>
<rect x="212.07" y="814.53" width="7.35" height="7.33" fill="#f4f4f4"/>
<rect x="220.58" y="823.02" width="9.65" height="9.63" fill="#fff" stroke="#444" stroke-width="0.75"/>
<rect x="221.73" y="824.17" width="7.35" height="7.33" fill="#f4f4f4"/>
<rect x="230.23" y="832.65" width="9.65" height="9.63" fill="#fff" stroke="#444" stroke-width="0.75"/>
<rect x="231.38" y="833.80" width="7.35" height="7.33" fill="#f4f4f4"/>
<rect x="239.88" y="842.28" width="9.65" height="9.63" fill="#fff" stroke="#444" stroke-width="0.75"/>
<rect x="241.03" y="843.43" width="7.35" height="7.33" fill="#f4f4f4"/>
<rect x="249.54" y="851.91" width="9.65" height="9.63" fill="#fff" stroke="#444" stroke-width="0.75"/>
<rect x="250.69" y="853.06" width="7.35" height="7.33" fill="#f4f4f4"/>
<rect x="259.19" y="861.54" width="9.65" height="9.63" fill="#fff" stroke="#444" stroke-width="0.75"/>
<rect x="260.34" y="862.69" width="7.35" height="7.33" fill="#f4f4f4"/>
<rect x="268.85" y="871.17" width="9.65" height="9.63" fill="#fff" stroke="#444" stroke-width="0.75"/>
<rect x="270.00" y="872.32" width="7.35" height="7.33" fill="#f4f4f4"/>
<text class="y" transform="translate(19.2 637.17) scale(.925 1)">VIS A</text>
<text class="x" transform="translate(35.73 889.00) rotate(-45) scale(.925 1)">VIS A</text>
<text class="y" transform="translate(19.2 646.80) scale(.925 1)">VIS B</text>
<text class="x" transform="translate(45.38 889.00) rotate(-45) scale(.925 1)">VIS B</text>
<text class="y" transform="translate(19.2 656.43) scale(.925 1)">SMN A</text>
<text class="x" transform="translate(55.03 889.00) rotate(-45) scale(.925 1)">SMN A</text>
<text class="y" transform="translate(19.2 666.06) scale(.925 1)">SMN B</text>
<text class="x" transform="translate(64.69 889.00) rotate(-45) scale(.925 1)">SMN B</text>
<text class="y" transform="translate(19.2 675.69) scale(.925 1)">DAN A</text>
<text class="x" transform="translate(74.34 889.00) rotate(-45) scale(.925 1)">DAN A</text>
<text class="y" transform="translate(19.2 685.32) scale(.925 1)">DAN B</text>
<text class="x" transform="translate(84.00 889.00) rotate(-45) scale(.925 1)">DAN B</text>
<text class="y" transform="translate(19.2 694.95) scale(.925 1)">SAL A</text>
<text class="x" transform="translate(93.65 889.00) rotate(-45) scale(.925 1)">SAL A</text>
<text class="y" transform="translate(19.2 704.58) scale(.925 1)">SAL B</text>
<text class="x" transform="translate(103.30 889.00) rotate(-45) scale(.925 1)">SAL B</text>
<text class="y" transform="translate(19.2 714.21) scale(.925 1)">LIM B</text>
<text class="x" transform="translate(112.96 889.00) rotate(-45) scale(.925 1)">LIM B</text>
<text class="y" transform="translate(19.2 723.84) scale(.925 1)">LIM A</text>
<text class="x" transform="translate(122.61 889.00) rotate(-45) scale(.925 1)">LIM A</text>
<text class="y" transform="translate(19.2 733.47) scale(.925 1)">FPN A</text>
<text class="x" transform="translate(132.27 889.00) rotate(-45) scale(.925 1)">FPN A</text>
<text class="y" transform="translate(19.2 743.10) scale(.925 1)">FPN B</text>
<text class="x" transform="translate(141.92 889.00) rotate(-45) scale(.925 1)">FPN B</text>
<text class="y" transform="translate(19.2 752.73) scale(.925 1)">FPN C</text>
<text class="x" transform="translate(151.57 889.00) rotate(-45) scale(.925 1)">FPN C</text>
<text class="y" transform="translate(19.2 762.37) scale(.925 1)">DN A</text>
<text class="x" transform="translate(161.23 889.00) rotate(-45) scale(.925 1)">DN A</text>
<text class="y" transform="translate(19.2 772.00) scale(.925 1)">DN B</text>
<text class="x" transform="translate(170.88 889.00) rotate(-45) scale(.925 1)">DN B</text>
<text class="y" transform="translate(19.2 781.63) scale(.925 1)">DN C</text>
<text class="x" transform="translate(180.53 889.00) rotate(-45) scale(.925 1)">DN C</text>
<text class="y" transform="translate(19.2 791.26) scale(.925 1)">TPar</text>
<text class="x" transform="translate(190.19 889.00) rotate(-45) scale(.925 1)">TPar</text>
<text class="y" transform="translate(19.2 800.89) scale(.925 1)">HIP</text>
<text class="x" transform="translate(199.84 889.00) rotate(-45) scale(.925 1)">HIP</text>
<text class="y" transform="translate(19.2 810.52) scale(.925 1)">AMY</text>
<text class="x" transform="translate(209.50 889.00) rotate(-45) scale(.925 1)">AMY</text>
<text class="y" transform="translate(19.2 820.15) scale(.925 1)">NAc</text>
<text class="x" transform="translate(219.15 889.00) rotate(-45) scale(.925 1)">NAc</text>
<text class="y" transform="translate(19.2 829.78) scale(.925 1)">GP</text>
<text class="x" transform="translate(228.80 889.00) rotate(-45) scale(.925 1)">GP</text>
<text class="y" transform="translate(19.2 839.41) scale(.925 1)">PUT</text>
<text class="x" transform="translate(238.46 889.00) rotate(-45) scale(.925 1)">PUT</text>
<text class="y" transform="translate(19.2 849.04) scale(.925 1)">CAU</text>
<text class="x" transform="translate(248.11 889.00) rotate(-45) scale(.925 1)">CAU</text>
<text class="y" transform="translate(19.2 858.67) scale(.925 1)">vTHA</text>
<text class="x" transform="translate(257.77 889.00) rotate(-45) scale(.925 1)">vTHA</text>
<text class="y" transform="translate(19.2 868.30) scale(.925 1)">dTHA</text>
<text class="x" transform="translate(267.42 889.00) rotate(-45) scale(.925 1)">dTHA</text>
<text class="y" transform="translate(19.2 877.93) scale(.925 1)">CEREB</text>
<text class="x" transform="translate(277.07 889.00) rotate(-45) scale(.925 1)">CEREB</text>
<path d="M27.10 635.22h-3.4M32.33 881.20v3.4M27.10 644.85h-3.4M41.98 881.20v3.4M27.10 654.48h-3.4M51.63 881.20v3.4M27.10 664.11h-3.4M61.29 881.20v3.4M27.10 673.74h-3.4M70.94 881.20v3.4M27.10 683.37h-3.4M80.60 881.20v3.4M27.10 693.00h-3.4M90.25 881.20v3.4M27.10 702.63h-3.4M99.90 881.20v3.4M27.10 712.26h-3.4M109.56 881.20v3.4M27.10 721.89h-3.4M119.21 881.20v3.4M27.10 731.52h-3.4M128.87 881.20v3.4M27.10 741.15h-3.4M138.52 881.20v3.4M27.10 750.78h-3.4M148.17 881.20v3.4M27.10 760.42h-3.4M157.83 881.20v3.4M27.10 770.05h-3.4M167.48 881.20v3.4M27.10 779.68h-3.4M177.13 881.20v3.4M27.10 789.31h-3.4M186.79 881.20v3.4M27.10 798.94h-3.4M196.44 881.20v3.4M27.10 808.57h-3.4M206.10 881.20v3.4M27.10 818.20h-3.4M215.75 881.20v3.4M27.10 827.83h-3.4M225.40 881.20v3.4M27.10 837.46h-3.4M235.06 881.20v3.4M27.10 847.09h-3.4M244.71 881.20v3.4M27.10 856.72h-3.4M254.37 881.20v3.4M27.10 866.35h-3.4M264.02 881.20v3.4M27.10 875.98h-3.4M273.67 881.20v3.4" stroke="#333" stroke-width="0.7" fill="none"/>
<rect x="284.00" y="630.40" width="10.20" height="250.40" fill="url(#g)" stroke="#777" stroke-width="0.7"/>
<text class="c" transform="translate(299.8 632.75) scale(1.09 1)">0.100</text>
<text class="c" transform="translate(299.8 664.05) scale(1.09 1)">0.075</text>
<text class="c" transform="translate(299.8 695.35) scale(1.09 1)">0.050</text>
<text class="c" transform="translate(299.8 726.65) scale(1.09 1)">0.025</text>
<text class="c" transform="translate(299.8 757.95) scale(1.09 1)">0</text>
<text class="c" transform="translate(299.8 789.25) scale(1.09 1)">−0.025</text>
<text class="c" transform="translate(299.8 820.55) scale(1.09 1)">−0.050</text>
<text class="c" transform="translate(299.8 851.85) scale(1.09 1)">−0.075</text>
<text class="c" transform="translate(299.8 883.15) scale(1.09 1)">−0.100</text>
<path d="M294.20 630.40h3.6M294.20 661.70h3.6M294.20 693.00h3.6M294.20 724.30h3.6M294.20 755.60h3.6M294.20 786.90h3.6M294.20 818.20h3.6M294.20 849.50h3.6M294.20 880.80h3.6" stroke="#333" stroke-width="0.7" fill="none"/>
<text class="l" transform="translate(327.90 755.60) rotate(90) scale(1.11 1)">FC change</text>
</g>
<g>
<text class="t" transform="translate(502.1 616.8) scale(1.12 1)">Mescaline</text>
<text class="u" transform="translate(502.1 625.1) scale(1.077 1)">(1 dataset; <tspan font-style="italic">n</tspan> = 31)</text>
<rect x="386.16" y="630.40" width="10.26" height="10.23" fill="#6aacd0"/>
<rect x="395.82" y="630.40" width="10.26" height="10.23" fill="#327cb8"/>
<rect x="405.48" y="630.40" width="10.26" height="10.23" fill="#fae9df"/>
<rect x="415.15" y="630.40" width="10.26" height="10.23" fill="#4393c3"/>
<rect x="424.81" y="630.40" width="10.26" height="10.23" fill="#327cb8"/>
<rect x="434.47" y="630.40" width="19.92" height="10.23" fill="#f8c0a4"/>
<rect x="453.79" y="630.40" width="10.26" height="10.23" fill="#fddbc7"/>
<rect x="463.45" y="630.40" width="10.26" height="10.23" fill="#e58268"/>
<rect x="473.12" y="630.40" width="19.92" height="10.23" fill="#fddbc7"/>
<rect x="492.44" y="630.40" width="10.26" height="10.23" fill="#fae9df"/>
<rect x="502.10" y="630.40" width="10.26" height="10.23" fill="#fddbc7"/>
<rect x="511.76" y="630.40" width="10.26" height="10.23" fill="#f8c0a4"/>
<rect x="521.42" y="630.40" width="10.26" height="10.23" fill="#b2d5e7"/>
<rect x="531.08" y="630.40" width="10.26" height="10.23" fill="#fddbc7"/>
<rect x="540.75" y="630.40" width="10.26" height="10.23" fill="#b2d5e7"/>
<rect x="550.41" y="630.40" width="10.26" height="10.23" fill="#d1e5f0"/>
<rect x="560.07" y="630.40" width="10.26" height="10.23" fill="#c43c3c"/>
<rect x="569.73" y="630.40" width="10.26" height="10.23" fill="#e4eef4"/>
<rect x="579.39" y="630.40" width="19.92" height="10.23" fill="#8c0c25"/>
<rect x="598.72" y="630.40" width="10.26" height="10.23" fill="#f4a582"/>
<rect x="608.38" y="630.40" width="10.26" height="10.23" fill="#f7f7f7"/>
<rect x="618.04" y="630.40" width="9.66" height="10.23" fill="#f4a582"/>
<rect x="376.50" y="640.03" width="10.26" height="10.23" fill="#2166ac"/>
<rect x="395.82" y="640.03" width="10.26" height="10.23" fill="#327cb8"/>
<rect x="405.48" y="640.03" width="10.26" height="10.23" fill="#d1e5f0"/>
<rect x="415.15" y="640.03" width="10.26" height="10.23" fill="#e4eef4"/>
<rect x="424.81" y="640.03" width="10.26" height="10.23" fill="#92c5de"/>
<rect x="434.47" y="640.03" width="10.26" height="10.23" fill="#f8c0a4"/>
<rect x="444.13" y="640.03" width="19.92" height="10.23" fill="#d6604d"/>
<rect x="463.45" y="640.03" width="10.26" height="10.23" fill="#b2182b"/>
<rect x="473.12" y="640.03" width="10.26" height="10.23" fill="#c43c3c"/>
<rect x="482.78" y="640.03" width="10.26" height="10.23" fill="#b2182b"/>
<rect x="492.44" y="640.03" width="10.26" height="10.23" fill="#f4a582"/>
<rect x="502.10" y="640.03" width="10.26" height="10.23" fill="#e58268"/>
<rect x="511.76" y="640.03" width="10.26" height="10.23" fill="#d6604d"/>
<rect x="521.42" y="640.03" width="10.26" height="10.23" fill="#d1e5f0"/>
<rect x="531.08" y="640.03" width="10.26" height="10.23" fill="#f8c0a4"/>
<rect x="540.75" y="640.03" width="10.26" height="10.23" fill="#92c5de"/>
<rect x="550.41" y="640.03" width="10.26" height="10.23" fill="#b2d5e7"/>
<rect x="560.07" y="640.03" width="10.26" height="10.23" fill="#c43c3c"/>
<rect x="569.73" y="640.03" width="10.26" height="10.23" fill="#e4eef4"/>
<rect x="579.39" y="640.03" width="19.92" height="10.23" fill="#67001f"/>
<rect x="598.72" y="640.03" width="10.26" height="10.23" fill="#e58268"/>
<rect x="608.38" y="640.03" width="10.26" height="10.23" fill="#fddbc7"/>
<rect x="618.04" y="640.03" width="9.66" height="10.23" fill="#b2182b"/>
<rect x="376.50" y="649.66" width="10.26" height="10.23" fill="#6aacd0"/>
<rect x="386.16" y="649.66" width="10.26" height="10.23" fill="#2166ac"/>
<rect x="405.48" y="649.66" width="10.26" height="10.23" fill="#327cb8"/>
<rect x="415.15" y="649.66" width="10.26" height="10.23" fill="#d1e5f0"/>
<rect x="424.81" y="649.66" width="10.26" height="10.23" fill="#92c5de"/>
<rect x="434.47" y="649.66" width="10.26" height="10.23" fill="#d1e5f0"/>
<rect x="444.13" y="649.66" width="10.26" height="10.23" fill="#f4a582"/>
<rect x="453.79" y="649.66" width="10.26" height="10.23" fill="#d1e5f0"/>
<rect x="463.45" y="649.66" width="10.26" height="10.23" fill="#fae9df"/>
<rect x="473.12" y="649.66" width="10.26" height="10.23" fill="#c43c3c"/>
<rect x="482.78" y="649.66" width="10.26" height="10.23" fill="#e58268"/>
<rect x="492.44" y="649.66" width="10.26" height="10.23" fill="#fddbc7"/>
<rect x="502.10" y="649.66" width="19.92" height="10.23" fill="#f8c0a4"/>
<rect x="521.42" y="649.66" width="19.92" height="10.23" fill="#d1e5f0"/>
<rect x="540.75" y="649.66" width="10.26" height="10.23" fill="#053061"/>
<rect x="550.41" y="649.66" width="10.26" height="10.23" fill="#327cb8"/>
<rect x="560.07" y="649.66" width="10.26" height="10.23" fill="#f4a582"/>
<rect x="569.73" y="649.66" width="10.26" height="10.23" fill="#e4eef4"/>
<rect x="579.39" y="649.66" width="10.26" height="10.23" fill="#c43c3c"/>
<rect x="589.05" y="649.66" width="10.26" height="10.23" fill="#8c0c25"/>
<rect x="598.72" y="649.66" width="10.26" height="10.23" fill="#f8c0a4"/>
<rect x="608.38" y="649.66" width="10.26" height="10.23" fill="#fddbc7"/>
<rect x="618.04" y="649.66" width="9.66" height="10.23" fill="#f8c0a4"/>
<rect x="376.50" y="659.29" width="10.26" height="10.23" fill="#fddbc7"/>
<rect x="386.16" y="659.29" width="10.26" height="10.23" fill="#92c5de"/>
<rect x="395.82" y="659.29" width="10.26" height="10.23" fill="#134b86"/>
<rect x="415.15" y="659.29" width="10.26" height="10.23" fill="#f8c0a4"/>
<rect x="424.81" y="659.29" width="10.26" height="10.23" fill="#92c5de"/>
<rect x="434.47" y="659.29" width="10.26" height="10.23" fill="#e4eef4"/>
<rect x="444.13" y="659.29" width="10.26" height="10.23" fill="#f8c0a4"/>
<rect x="453.79" y="659.29" width="10.26" height="10.23" fill="#fddbc7"/>
<rect x="463.45" y="659.29" width="10.26" height="10.23" fill="#c43c3c"/>
<rect x="473.12" y="659.29" width="10.26" height="10.23" fill="#f4a582"/>
<rect x="482.78" y="659.29" width="10.26" height="10.23" fill="#d6604d"/>
<rect x="492.44" y="659.29" width="10.26" height="10.23" fill="#f8c0a4"/>
<rect x="502.10" y="659.29" width="10.26" height="10.23" fill="#fddbc7"/>
<rect x="511.76" y="659.29" width="10.26" height="10.23" fill="#f4a582"/>
<rect x="521.42" y="659.29" width="10.26" height="10.23" fill="#fae9df"/>
<rect x="531.08" y="659.29" width="10.26" height="10.23" fill="#fddbc7"/>
<rect x="540.75" y="659.29" width="10.26" height="10.23" fill="#4393c3"/>
<rect x="550.41" y="659.29" width="10.26" height="10.23" fill="#b2d5e7"/>
<rect x="560.07" y="659.29" width="10.26" height="10.23" fill="#f4a582"/>
<rect x="569.73" y="659.29" width="10.26" height="10.23" fill="#e4eef4"/>
<rect x="579.39" y="659.29" width="19.92" height="10.23" fill="#b2182b"/>
<rect x="598.72" y="659.29" width="10.26" height="10.23" fill="#f4a582"/>
<rect x="608.38" y="659.29" width="10.26" height="10.23" fill="#fddbc7"/>
<rect x="618.04" y="659.29" width="9.66" height="10.23" fill="#8c0c25"/>
<rect x="376.50" y="668.92" width="10.26" height="10.23" fill="#b2d5e7"/>
<rect x="386.16" y="668.92" width="10.26" height="10.23" fill="#f4a582"/>
<rect x="395.82" y="668.92" width="10.26" height="10.23" fill="#b2182b"/>
<rect x="405.48" y="668.92" width="10.26" height="10.23" fill="#8c0c25"/>
<rect x="424.81" y="668.92" width="10.26" height="10.23" fill="#2166ac"/>
<rect x="434.47" y="668.92" width="10.26" height="10.23" fill="#e4eef4"/>
<rect x="444.13" y="668.92" width="19.92" height="10.23" fill="#d1e5f0"/>
<rect x="463.45" y="668.92" width="10.26" height="10.23" fill="#f7f7f7"/>
<rect x="473.12" y="668.92" width="19.92" height="10.23" fill="#b2d5e7"/>
<rect x="492.44" y="668.92" width="10.26" height="10.23" fill="#6aacd0"/>
<rect x="502.10" y="668.92" width="10.26" height="10.23" fill="#d1e5f0"/>
<rect x="511.76" y="668.92" width="10.26" height="10.23" fill="#fddbc7"/>
<rect x="521.42" y="668.92" width="10.26" height="10.23" fill="#92c5de"/>
<rect x="531.08" y="668.92" width="10.26" height="10.23" fill="#f7f7f7"/>
<rect x="540.75" y="668.92" width="10.26" height="10.23" fill="#2166ac"/>
<rect x="550.41" y="668.92" width="10.26" height="10.23" fill="#6aacd0"/>
<rect x="560.07" y="668.92" width="10.26" height="10.23" fill="#fddbc7"/>
<rect x="569.73" y="668.92" width="10.26" height="10.23" fill="#b2d5e7"/>
<rect x="579.39" y="668.92" width="19.92" height="10.23" fill="#f4a582"/>
<rect x="598.72" y="668.92" width="10.26" height="10.23" fill="#f7f7f7"/>
<rect x="608.38" y="668.92" width="10.26" height="10.23" fill="#92c5de"/>
<rect x="618.04" y="668.92" width="9.66" height="10.23" fill="#e4eef4"/>
<rect x="376.50" y="678.55" width="10.26" height="10.23" fill="#e4eef4"/>
<rect x="386.16" y="678.55" width="10.26" height="10.23" fill="#fae9df"/>
<rect x="395.82" y="678.55" width="10.26" height="10.23" fill="#fddbc7"/>
<rect x="405.48" y="678.55" width="19.92" height="10.23" fill="#d1e5f0"/>
<rect x="434.47" y="678.55" width="10.26" height="10.23" fill="#6aacd0"/>
<rect x="444.13" y="678.55" width="10.26" height="10.23" fill="#e4eef4"/>
<rect x="453.79" y="678.55" width="10.26" height="10.23" fill="#b2d5e7"/>
<rect x="463.45" y="678.55" width="10.26" height="10.23" fill="#d1e5f0"/>
<rect x="473.12" y="678.55" width="10.26" height="10.23" fill="#fae9df"/>
<rect x="482.78" y="678.55" width="10.26" height="10.23" fill="#f8c0a4"/>
<rect x="492.44" y="678.55" width="10.26" height="10.23" fill="#b2d5e7"/>
<rect x="502.10" y="678.55" width="10.26" height="10.23" fill="#fae9df"/>
<rect x="511.76" y="678.55" width="10.26" height="10.23" fill="#f8c0a4"/>
<rect x="521.42" y="678.55" width="10.26" height="10.23" fill="#92c5de"/>
<rect x="531.08" y="678.55" width="10.26" height="10.23" fill="#d1e5f0"/>
<rect x="540.75" y="678.55" width="10.26" height="10.23" fill="#134b86"/>
<rect x="550.41" y="678.55" width="10.26" height="10.23" fill="#327cb8"/>
<rect x="560.07" y="678.55" width="10.26" height="10.23" fill="#fddbc7"/>
<rect x="569.73" y="678.55" width="10.26" height="10.23" fill="#b2d5e7"/>
<rect x="579.39" y="678.55" width="10.26" height="10.23" fill="#f4a582"/>
<rect x="589.05" y="678.55" width="10.26" height="10.23" fill="#e58268"/>
<rect x="598.72" y="678.55" width="10.26" height="10.23" fill="#f7f7f7"/>
<rect x="608.38" y="678.55" width="19.32" height="10.23" fill="#d1e5f0"/>
<rect x="376.50" y="688.18" width="10.26" height="10.23" fill="#c43c3c"/>
<rect x="386.16" y="688.18" width="10.26" height="10.23" fill="#f8c0a4"/>
<rect x="395.82" y="688.18" width="10.26" height="10.23" fill="#e4eef4"/>
<rect x="405.48" y="688.18" width="10.26" height="10.23" fill="#d1e5f0"/>
<rect x="415.15" y="688.18" width="10.26" height="10.23" fill="#e58268"/>
<rect x="424.81" y="688.18" width="10.26" height="10.23" fill="#d1e5f0"/>
<rect x="444.13" y="688.18" width="10.26" height="10.23" fill="#d1e5f0"/>
<rect x="453.79" y="688.18" width="10.26" height="10.23" fill="#f7f7f7"/>
<rect x="463.45" y="688.18" width="10.26" height="10.23" fill="#e58268"/>
<rect x="473.12" y="688.18" width="10.26" height="10.23" fill="#fae9df"/>
<rect x="482.78" y="688.18" width="10.26" height="10.23" fill="#d6604d"/>
<rect x="492.44" y="688.18" width="10.26" height="10.23" fill="#fddbc7"/>
<rect x="502.10" y="688.18" width="10.26" height="10.23" fill="#f4a582"/>
<rect x="511.76" y="688.18" width="10.26" height="10.23" fill="#d6604d"/>
<rect x="521.42" y="688.18" width="19.92" height="10.23" fill="#fddbc7"/>
<rect x="540.75" y="688.18" width="10.26" height="10.23" fill="#b2d5e7"/>
<rect x="550.41" y="688.18" width="10.26" height="10.23" fill="#d1e5f0"/>
<rect x="560.07" y="688.18" width="10.26" height="10.23" fill="#f8c0a4"/>
<rect x="569.73" y="688.18" width="10.26" height="10.23" fill="#b2d5e7"/>
<rect x="579.39" y="688.18" width="10.26" height="10.23" fill="#e58268"/>
<rect x="589.05" y="688.18" width="10.26" height="10.23" fill="#d6604d"/>
<rect x="598.72" y="688.18" width="19.92" height="10.23" fill="#fddbc7"/>
<rect x="618.04" y="688.18" width="9.66" height="10.23" fill="#f4a582"/>
<rect x="376.50" y="697.82" width="29.58" height="10.23" fill="#67001f"/>
<rect x="405.48" y="697.82" width="10.26" height="10.23" fill="#e58268"/>
<rect x="415.15" y="697.82" width="10.26" height="10.23" fill="#d6604d"/>
<rect x="424.81" y="697.82" width="10.26" height="10.23" fill="#b2182b"/>
<rect x="434.47" y="697.82" width="10.26" height="10.23" fill="#d1e5f0"/>
<rect x="453.79" y="697.82" width="10.26" height="10.23" fill="#e4eef4"/>
<rect x="463.45" y="697.82" width="10.26" height="10.23" fill="#fddbc7"/>
<rect x="473.12" y="697.82" width="10.26" height="10.23" fill="#e4eef4"/>
<rect x="482.78" y="697.82" width="29.58" height="10.23" fill="#b2d5e7"/>
<rect x="511.76" y="697.82" width="10.26" height="10.23" fill="#fddbc7"/>
<rect x="521.42" y="697.82" width="19.92" height="10.23" fill="#e4eef4"/>
<rect x="540.75" y="697.82" width="10.26" height="10.23" fill="#92c5de"/>
<rect x="550.41" y="697.82" width="10.26" height="10.23" fill="#e4eef4"/>
<rect x="560.07" y="697.82" width="10.26" height="10.23" fill="#fddbc7"/>
<rect x="569.73" y="697.82" width="10.26" height="10.23" fill="#b2d5e7"/>
<rect x="579.39" y="697.82" width="10.26" height="10.23" fill="#e58268"/>
<rect x="589.05" y="697.82" width="10.26" height="10.23" fill="#d6604d"/>
<rect x="598.72" y="697.82" width="19.92" height="10.23" fill="#f7f7f7"/>
<rect x="618.04" y="697.82" width="9.66" height="10.23" fill="#fae9df"/>
<rect x="376.50" y="707.45" width="10.26" height="10.23" fill="#c43c3c"/>
<rect x="386.16" y="707.45" width="10.26" height="10.23" fill="#b2182b"/>
<rect x="395.82" y="707.45" width="10.26" height="10.23" fill="#fae9df"/>
<rect x="405.48" y="707.45" width="10.26" height="10.23" fill="#fddbc7"/>
<rect x="415.15" y="707.45" width="19.92" height="10.23" fill="#f8c0a4"/>
<rect x="434.47" y="707.45" width="19.92" height="10.23" fill="#e4eef4"/>
<rect x="463.45" y="707.45" width="10.26" height="10.23" fill="#2166ac"/>
<rect x="473.12" y="707.45" width="10.26" height="10.23" fill="#d1e5f0"/>
<rect x="482.78" y="707.45" width="10.26" height="10.23" fill="#2166ac"/>
<rect x="492.44" y="707.45" width="10.26" height="10.23" fill="#fae9df"/>
<rect x="502.10" y="707.45" width="10.26" height="10.23" fill="#92c5de"/>
<rect x="511.76" y="707.45" width="10.26" height="10.23" fill="#327cb8"/>
<rect x="521.42" y="707.45" width="10.26" height="10.23" fill="#4393c3"/>
<rect x="531.08" y="707.45" width="10.26" height="10.23" fill="#b2d5e7"/>
<rect x="540.75" y="707.45" width="10.26" height="10.23" fill="#134b86"/>
<rect x="550.41" y="707.45" width="10.26" height="10.23" fill="#053061"/>
<rect x="560.07" y="707.45" width="10.26" height="10.23" fill="#fddbc7"/>
<rect x="569.73" y="707.45" width="10.26" height="10.23" fill="#b2d5e7"/>
<rect x="579.39" y="707.45" width="10.26" height="10.23" fill="#f8c0a4"/>
<rect x="589.05" y="707.45" width="10.26" height="10.23" fill="#fddbc7"/>
<rect x="598.72" y="707.45" width="10.26" height="10.23" fill="#fae9df"/>
<rect x="608.38" y="707.45" width="10.26" height="10.23" fill="#e4eef4"/>
<rect x="618.04" y="707.45" width="9.66" height="10.23" fill="#f4a582"/>
<rect x="376.50" y="717.08" width="10.26" height="10.23" fill="#c43c3c"/>
<rect x="386.16" y="717.08" width="10.26" height="10.23" fill="#b2182b"/>
<rect x="395.82" y="717.08" width="10.26" height="10.23" fill="#fae9df"/>
<rect x="405.48" y="717.08" width="10.26" height="10.23" fill="#c43c3c"/>
<rect x="415.15" y="717.08" width="19.92" height="10.23" fill="#fddbc7"/>
<rect x="434.47" y="717.08" width="10.26" height="10.23" fill="#e58268"/>
<rect x="444.13" y="717.08" width="10.26" height="10.23" fill="#fae9df"/>
<rect x="453.79" y="717.08" width="10.26" height="10.23" fill="#053061"/>
<rect x="473.12" y="717.08" width="10.26" height="10.23" fill="#e4eef4"/>
<rect x="482.78" y="717.08" width="10.26" height="10.23" fill="#4393c3"/>
<rect x="492.44" y="717.08" width="10.26" height="10.23" fill="#fae9df"/>
<rect x="502.10" y="717.08" width="10.26" height="10.23" fill="#b2d5e7"/>
<rect x="511.76" y="717.08" width="10.26" height="10.23" fill="#6aacd0"/>
<rect x="521.42" y="717.08" width="10.26" height="10.23" fill="#fddbc7"/>
<rect x="531.08" y="717.08" width="10.26" height="10.23" fill="#d1e5f0"/>
<rect x="540.75" y="717.08" width="10.26" height="10.23" fill="#4393c3"/>
<rect x="550.41" y="717.08" width="10.26" height="10.23" fill="#6aacd0"/>
<rect x="560.07" y="717.08" width="10.26" height="10.23" fill="#f4a582"/>
<rect x="569.73" y="717.08" width="10.26" height="10.23" fill="#e4eef4"/>
<rect x="579.39" y="717.08" width="10.26" height="10.23" fill="#c43c3c"/>
<rect x="589.05" y="717.08" width="19.92" height="10.23" fill="#f4a582"/>
<rect x="608.38" y="717.08" width="10.26" height="10.23" fill="#fddbc7"/>
<rect x="618.04" y="717.08" width="9.66" height="10.23" fill="#f4a582"/>
<rect x="376.50" y="726.71" width="10.26" height="10.23" fill="#d6604d"/>
<rect x="386.16" y="726.71" width="19.92" height="10.23" fill="#67001f"/>
<rect x="405.48" y="726.71" width="10.26" height="10.23" fill="#d6604d"/>
<rect x="415.15" y="726.71" width="10.26" height="10.23" fill="#fae9df"/>
<rect x="424.81" y="726.71" width="10.26" height="10.23" fill="#b2182b"/>
<rect x="434.47" y="726.71" width="19.92" height="10.23" fill="#fddbc7"/>
<rect x="453.79" y="726.71" width="10.26" height="10.23" fill="#b2d5e7"/>
<rect x="463.45" y="726.71" width="10.26" height="10.23" fill="#d1e5f0"/>
<rect x="482.78" y="726.71" width="10.26" height="10.23" fill="#d1e5f0"/>
<rect x="492.44" y="726.71" width="10.26" height="10.23" fill="#fae9df"/>
<rect x="502.10" y="726.71" width="10.26" height="10.23" fill="#fddbc7"/>
<rect x="511.76" y="726.71" width="10.26" height="10.23" fill="#f8c0a4"/>
<rect x="521.42" y="726.71" width="10.26" height="10.23" fill="#fae9df"/>
<rect x="531.08" y="726.71" width="10.26" height="10.23" fill="#fddbc7"/>
<rect x="540.75" y="726.71" width="10.26" height="10.23" fill="#2166ac"/>
<rect x="550.41" y="726.71" width="10.26" height="10.23" fill="#d1e5f0"/>
<rect x="560.07" y="726.71" width="10.26" height="10.23" fill="#f8c0a4"/>
<rect x="569.73" y="726.71" width="10.26" height="10.23" fill="#e4eef4"/>
<rect x="579.39" y="726.71" width="10.26" height="10.23" fill="#c43c3c"/>
<rect x="589.05" y="726.71" width="10.26" height="10.23" fill="#d6604d"/>
<rect x="598.72" y="726.71" width="10.26" height="10.23" fill="#fddbc7"/>
<rect x="608.38" y="726.71" width="10.26" height="10.23" fill="#f7f7f7"/>
<rect x="618.04" y="726.71" width="9.66" height="10.23" fill="#f4a582"/>
<rect x="376.50" y="736.34" width="10.26" height="10.23" fill="#8c0c25"/>
<rect x="386.16" y="736.34" width="29.58" height="10.23" fill="#67001f"/>
<rect x="415.15" y="736.34" width="10.26" height="10.23" fill="#c43c3c"/>
<rect x="424.81" y="736.34" width="19.92" height="10.23" fill="#67001f"/>
<rect x="444.13" y="736.34" width="10.26" height="10.23" fill="#e4eef4"/>
<rect x="453.79" y="736.34" width="10.26" height="10.23" fill="#053061"/>
<rect x="463.45" y="736.34" width="10.26" height="10.23" fill="#134b86"/>
<rect x="473.12" y="736.34" width="10.26" height="10.23" fill="#e4eef4"/>
<rect x="492.44" y="736.34" width="10.26" height="10.23" fill="#b2d5e7"/>
<rect x="502.10" y="736.34" width="10.26" height="10.23" fill="#2166ac"/>
<rect x="511.76" y="736.34" width="10.26" height="10.23" fill="#327cb8"/>
<rect x="521.42" y="736.34" width="10.26" height="10.23" fill="#6aacd0"/>
<rect x="531.08" y="736.34" width="10.26" height="10.23" fill="#d1e5f0"/>
<rect x="540.75" y="736.34" width="10.26" height="10.23" fill="#327cb8"/>
<rect x="550.41" y="736.34" width="10.26" height="10.23" fill="#d1e5f0"/>
<rect x="560.07" y="736.34" width="10.26" height="10.23" fill="#f8c0a4"/>
<rect x="569.73" y="736.34" width="10.26" height="10.23" fill="#d1e5f0"/>
<rect x="579.39" y="736.34" width="10.26" height="10.23" fill="#d6604d"/>
<rect x="589.05" y="736.34" width="10.26" height="10.23" fill="#f8c0a4"/>
<rect x="598.72" y="736.34" width="10.26" height="10.23" fill="#fae9df"/>
<rect x="608.38" y="736.34" width="10.26" height="10.23" fill="#e4eef4"/>
<rect x="618.04" y="736.34" width="9.66" height="10.23" fill="#fae9df"/>
<rect x="376.50" y="745.97" width="10.26" height="10.23" fill="#e58268"/>
<rect x="386.16" y="745.97" width="10.26" height="10.23" fill="#d6604d"/>
<rect x="395.82" y="745.97" width="10.26" height="10.23" fill="#67001f"/>
<rect x="405.48" y="745.97" width="10.26" height="10.23" fill="#f4a582"/>
<rect x="415.15" y="745.97" width="10.26" height="10.23" fill="#f7f7f7"/>
<rect x="424.81" y="745.97" width="10.26" height="10.23" fill="#d6604d"/>
<rect x="434.47" y="745.97" width="10.26" height="10.23" fill="#f8c0a4"/>
<rect x="444.13" y="745.97" width="10.26" height="10.23" fill="#d1e5f0"/>
<rect x="453.79" y="745.97" width="10.26" height="10.23" fill="#fddbc7"/>
<rect x="463.45" y="745.97" width="10.26" height="10.23" fill="#e4eef4"/>
<rect x="473.12" y="745.97" width="10.26" height="10.23" fill="#fddbc7"/>
<rect x="482.78" y="745.97" width="10.26" height="10.23" fill="#d1e5f0"/>
<rect x="502.10" y="745.97" width="10.26" height="10.23" fill="#b2d5e7"/>
<rect x="511.76" y="745.97" width="10.26" height="10.23" fill="#fddbc7"/>
<rect x="521.42" y="745.97" width="10.26" height="10.23" fill="#327cb8"/>
<rect x="531.08" y="745.97" width="10.26" height="10.23" fill="#d1e5f0"/>
<rect x="540.75" y="745.97" width="10.26" height="10.23" fill="#6aacd0"/>
<rect x="550.41" y="745.97" width="10.26" height="10.23" fill="#e4eef4"/>
<rect x="560.07" y="745.97" width="10.26" height="10.23" fill="#e58268"/>
<rect x="569.73" y="745.97" width="10.26" height="10.23" fill="#d1e5f0"/>
<rect x="579.39" y="745.97" width="10.26" height="10.23" fill="#8c0c25"/>
<rect x="589.05" y="745.97" width="10.26" height="10.23" fill="#b2182b"/>
<rect x="598.72" y="745.97" width="10.26" height="10.23" fill="#f7f7f7"/>
<rect x="608.38" y="745.97" width="10.26" height="10.23" fill="#e4eef4"/>
<rect x="618.04" y="745.97" width="9.66" height="10.23" fill="#fddbc7"/>
<rect x="376.50" y="755.60" width="10.26" height="10.23" fill="#8c0c25"/>
<rect x="386.16" y="755.60" width="19.92" height="10.23" fill="#67001f"/>
<rect x="405.48" y="755.60" width="10.26" height="10.23" fill="#e58268"/>
<rect x="415.15" y="755.60" width="10.26" height="10.23" fill="#c43c3c"/>
<rect x="424.81" y="755.60" width="10.26" height="10.23" fill="#67001f"/>
<rect x="434.47" y="755.60" width="10.26" height="10.23" fill="#b2182b"/>
<rect x="444.13" y="755.60" width="10.26" height="10.23" fill="#f7f7f7"/>
<rect x="453.79" y="755.60" width="10.26" height="10.23" fill="#92c5de"/>
<rect x="463.45" y="755.60" width="10.26" height="10.23" fill="#6aacd0"/>
<rect x="473.12" y="755.60" width="10.26" height="10.23" fill="#c43c3c"/>
<rect x="482.78" y="755.60" width="10.26" height="10.23" fill="#134b86"/>
<rect x="492.44" y="755.60" width="10.26" height="10.23" fill="#d1e5f0"/>
<rect x="511.76" y="755.60" width="10.26" height="10.23" fill="#4393c3"/>
<rect x="521.42" y="755.60" width="10.26" height="10.23" fill="#327cb8"/>
<rect x="531.08" y="755.60" width="10.26" height="10.23" fill="#92c5de"/>
<rect x="540.75" y="755.60" width="10.26" height="10.23" fill="#2166ac"/>
<rect x="550.41" y="755.60" width="10.26" height="10.23" fill="#d1e5f0"/>
<rect x="560.07" y="755.60" width="10.26" height="10.23" fill="#fddbc7"/>
<rect x="569.73" y="755.60" width="10.26" height="10.23" fill="#d1e5f0"/>
<rect x="579.39" y="755.60" width="19.92" height="10.23" fill="#e58268"/>
<rect x="598.72" y="755.60" width="10.26" height="10.23" fill="#e4eef4"/>
<rect x="608.38" y="755.60" width="10.26" height="10.23" fill="#d1e5f0"/>
<rect x="618.04" y="755.60" width="9.66" height="10.23" fill="#fddbc7"/>
<rect x="376.50" y="765.23" width="10.26" height="10.23" fill="#8c0c25"/>
<rect x="386.16" y="765.23" width="10.26" height="10.23" fill="#67001f"/>
<rect x="395.82" y="765.23" width="10.26" height="10.23" fill="#8c0c25"/>
<rect x="405.48" y="765.23" width="10.26" height="10.23" fill="#d6604d"/>
<rect x="415.15" y="765.23" width="19.92" height="10.23" fill="#67001f"/>
<rect x="434.47" y="765.23" width="10.26" height="10.23" fill="#8c0c25"/>
<rect x="444.13" y="765.23" width="10.26" height="10.23" fill="#e58268"/>
<rect x="453.79" y="765.23" width="10.26" height="10.23" fill="#053061"/>
<rect x="463.45" y="765.23" width="10.26" height="10.23" fill="#134b86"/>
<rect x="473.12" y="765.23" width="10.26" height="10.23" fill="#c43c3c"/>
<rect x="482.78" y="765.23" width="10.26" height="10.23" fill="#327cb8"/>
<rect x="492.44" y="765.23" width="10.26" height="10.23" fill="#e58268"/>
<rect x="502.10" y="765.23" width="10.26" height="10.23" fill="#327cb8"/>
<rect x="521.42" y="765.23" width="10.26" height="10.23" fill="#d1e5f0"/>
<rect x="531.08" y="765.23" width="10.26" height="10.23" fill="#4393c3"/>
<rect x="540.75" y="765.23" width="10.26" height="10.23" fill="#327cb8"/>
<rect x="550.41" y="765.23" width="10.26" height="10.23" fill="#b2d5e7"/>
<rect x="560.07" y="765.23" width="10.26" height="10.23" fill="#f8c0a4"/>
<rect x="569.73" y="765.23" width="10.26" height="10.23" fill="#d1e5f0"/>
<rect x="579.39" y="765.23" width="10.26" height="10.23" fill="#c43c3c"/>
<rect x="589.05" y="765.23" width="10.26" height="10.23" fill="#e58268"/>
<rect x="598.72" y="765.23" width="10.26" height="10.23" fill="#f8c0a4"/>
<rect x="608.38" y="765.23" width="10.26" height="10.23" fill="#fddbc7"/>
<rect x="618.04" y="765.23" width="9.66" height="10.23" fill="#d6604d"/>
<rect x="376.50" y="774.86" width="10.26" height="10.23" fill="#fddbc7"/>
<rect x="386.16" y="774.86" width="10.26" height="10.23" fill="#f7f7f7"/>
<rect x="395.82" y="774.86" width="19.92" height="10.23" fill="#f4a582"/>
<rect x="415.15" y="774.86" width="10.26" height="10.23" fill="#f8c0a4"/>
<rect x="424.81" y="774.86" width="10.26" height="10.23" fill="#f4a582"/>
<rect x="434.47" y="774.86" width="10.26" height="10.23" fill="#c43c3c"/>
<rect x="444.13" y="774.86" width="10.26" height="10.23" fill="#d6604d"/>
<rect x="453.79" y="774.86" width="10.26" height="10.23" fill="#92c5de"/>
<rect x="463.45" y="774.86" width="10.26" height="10.23" fill="#f4a582"/>
<rect x="473.12" y="774.86" width="10.26" height="10.23" fill="#d6604d"/>
<rect x="482.78" y="774.86" width="10.26" height="10.23" fill="#fae9df"/>
<rect x="492.44" y="774.86" width="19.92" height="10.23" fill="#6aacd0"/>
<rect x="511.76" y="774.86" width="10.26" height="10.23" fill="#f8c0a4"/>
<rect x="531.08" y="774.86" width="10.26" height="10.23" fill="#fae9df"/>
<rect x="540.75" y="774.86" width="10.26" height="10.23" fill="#2166ac"/>
<rect x="550.41" y="774.86" width="10.26" height="10.23" fill="#6aacd0"/>
<rect x="560.07" y="774.86" width="10.26" height="10.23" fill="#fae9df"/>
<rect x="569.73" y="774.86" width="10.26" height="10.23" fill="#92c5de"/>
<rect x="579.39" y="774.86" width="10.26" height="10.23" fill="#e58268"/>
<rect x="589.05" y="774.86" width="10.26" height="10.23" fill="#fddbc7"/>
<rect x="598.72" y="774.86" width="10.26" height="10.23" fill="#d1e5f0"/>
<rect x="608.38" y="774.86" width="10.26" height="10.23" fill="#92c5de"/>
<rect x="618.04" y="774.86" width="9.66" height="10.23" fill="#f7f7f7"/>
<rect x="376.50" y="784.49" width="10.26" height="10.23" fill="#c43c3c"/>
<rect x="386.16" y="784.49" width="10.26" height="10.23" fill="#e58268"/>
<rect x="395.82" y="784.49" width="19.92" height="10.23" fill="#fddbc7"/>
<rect x="415.15" y="784.49" width="10.26" height="10.23" fill="#c43c3c"/>
<rect x="424.81" y="784.49" width="10.26" height="10.23" fill="#d6604d"/>
<rect x="434.47" y="784.49" width="10.26" height="10.23" fill="#f8c0a4"/>
<rect x="444.13" y="784.49" width="10.26" height="10.23" fill="#fddbc7"/>
<rect x="453.79" y="784.49" width="10.26" height="10.23" fill="#b2d5e7"/>
<rect x="463.45" y="784.49" width="10.26" height="10.23" fill="#92c5de"/>
<rect x="473.12" y="784.49" width="10.26" height="10.23" fill="#d6604d"/>
<rect x="482.78" y="784.49" width="10.26" height="10.23" fill="#fddbc7"/>
<rect x="492.44" y="784.49" width="10.26" height="10.23" fill="#e4eef4"/>
<rect x="502.10" y="784.49" width="10.26" height="10.23" fill="#b2d5e7"/>
<rect x="511.76" y="784.49" width="10.26" height="10.23" fill="#327cb8"/>
<rect x="521.42" y="784.49" width="10.26" height="10.23" fill="#d6604d"/>
<rect x="540.75" y="784.49" width="10.26" height="10.23" fill="#327cb8"/>
<rect x="550.41" y="784.49" width="10.26" height="10.23" fill="#92c5de"/>
<rect x="560.07" y="784.49" width="10.26" height="10.23" fill="#fddbc7"/>
<rect x="569.73" y="784.49" width="10.26" height="10.23" fill="#e4eef4"/>
<rect x="579.39" y="784.49" width="10.26" height="10.23" fill="#d6604d"/>
<rect x="589.05" y="784.49" width="10.26" height="10.23" fill="#e58268"/>
<rect x="598.72" y="784.49" width="10.26" height="10.23" fill="#f8c0a4"/>
<rect x="608.38" y="784.49" width="10.26" height="10.23" fill="#f7f7f7"/>
<rect x="618.04" y="784.49" width="9.66" height="10.23" fill="#e58268"/>
<rect x="376.50" y="794.12" width="10.26" height="10.23" fill="#d6604d"/>
<rect x="386.16" y="794.12" width="10.26" height="10.23" fill="#fae9df"/>
<rect x="395.82" y="794.12" width="10.26" height="10.23" fill="#6aacd0"/>
<rect x="405.48" y="794.12" width="10.26" height="10.23" fill="#d1e5f0"/>
<rect x="415.15" y="794.12" width="10.26" height="10.23" fill="#f7f7f7"/>
<rect x="424.81" y="794.12" width="10.26" height="10.23" fill="#d1e5f0"/>
<rect x="434.47" y="794.12" width="10.26" height="10.23" fill="#fddbc7"/>
<rect x="444.13" y="794.12" width="10.26" height="10.23" fill="#f8c0a4"/>
<rect x="453.79" y="794.12" width="10.26" height="10.23" fill="#6aacd0"/>
<rect x="463.45" y="794.12" width="10.26" height="10.23" fill="#b2d5e7"/>
<rect x="473.12" y="794.12" width="10.26" height="10.23" fill="#92c5de"/>
<rect x="482.78" y="794.12" width="10.26" height="10.23" fill="#d1e5f0"/>
<rect x="492.44" y="794.12" width="10.26" height="10.23" fill="#fddbc7"/>
<rect x="502.10" y="794.12" width="10.26" height="10.23" fill="#b2d5e7"/>
<rect x="511.76" y="794.12" width="10.26" height="10.23" fill="#d1e5f0"/>
<rect x="521.42" y="794.12" width="10.26" height="10.23" fill="#6aacd0"/>
<rect x="531.08" y="794.12" width="10.26" height="10.23" fill="#b2d5e7"/>
<rect x="550.41" y="794.12" width="10.26" height="10.23" fill="#053061"/>
<rect x="560.07" y="794.12" width="48.91" height="10.23" fill="#b2d5e7"/>
<rect x="608.38" y="794.12" width="10.26" height="10.23" fill="#6aacd0"/>
<rect x="618.04" y="794.12" width="9.66" height="10.23" fill="#d1e5f0"/>
<rect x="376.50" y="803.75" width="10.26" height="10.23" fill="#f4a582"/>
<rect x="386.16" y="803.75" width="10.26" height="10.23" fill="#e4eef4"/>
<rect x="395.82" y="803.75" width="10.26" height="10.23" fill="#6aacd0"/>
<rect x="405.48" y="803.75" width="10.26" height="10.23" fill="#e4eef4"/>
<rect x="415.15" y="803.75" width="10.26" height="10.23" fill="#f7f7f7"/>
<rect x="424.81" y="803.75" width="10.26" height="10.23" fill="#d1e5f0"/>
<rect x="434.47" y="803.75" width="10.26" height="10.23" fill="#fae9df"/>
<rect x="444.13" y="803.75" width="10.26" height="10.23" fill="#f4a582"/>
<rect x="453.79" y="803.75" width="10.26" height="10.23" fill="#134b86"/>
<rect x="463.45" y="803.75" width="10.26" height="10.23" fill="#92c5de"/>
<rect x="473.12" y="803.75" width="10.26" height="10.23" fill="#fae9df"/>
<rect x="482.78" y="803.75" width="19.92" height="10.23" fill="#f8c0a4"/>
<rect x="502.10" y="803.75" width="10.26" height="10.23" fill="#fddbc7"/>
<rect x="511.76" y="803.75" width="10.26" height="10.23" fill="#f7f7f7"/>
<rect x="521.42" y="803.75" width="19.92" height="10.23" fill="#b2d5e7"/>
<rect x="540.75" y="803.75" width="10.26" height="10.23" fill="#327cb8"/>
<rect x="560.07" y="803.75" width="10.26" height="10.23" fill="#b2d5e7"/>
<rect x="569.73" y="803.75" width="10.26" height="10.23" fill="#d1e5f0"/>
<rect x="579.39" y="803.75" width="29.58" height="10.23" fill="#e4eef4"/>
<rect x="608.38" y="803.75" width="10.26" height="10.23" fill="#d1e5f0"/>
<rect x="618.04" y="803.75" width="9.66" height="10.23" fill="#e4eef4"/>
<rect x="376.50" y="813.38" width="10.26" height="10.23" fill="#c43c3c"/>
<rect x="386.16" y="813.38" width="10.26" height="10.23" fill="#f4a582"/>
<rect x="395.82" y="813.38" width="10.26" height="10.23" fill="#f8c0a4"/>
<rect x="405.48" y="813.38" width="19.92" height="10.23" fill="#f7f7f7"/>
<rect x="424.81" y="813.38" width="10.26" height="10.23" fill="#fae9df"/>
<rect x="434.47" y="813.38" width="19.92" height="10.23" fill="#d1e5f0"/>
<rect x="453.79" y="813.38" width="19.92" height="10.23" fill="#e4eef4"/>
<rect x="473.12" y="813.38" width="19.92" height="10.23" fill="#f7f7f7"/>
<rect x="492.44" y="813.38" width="10.26" height="10.23" fill="#fddbc7"/>
<rect x="502.10" y="813.38" width="10.26" height="10.23" fill="#e4eef4"/>
<rect x="511.76" y="813.38" width="10.26" height="10.23" fill="#f7f7f7"/>
<rect x="521.42" y="813.38" width="19.92" height="10.23" fill="#d1e5f0"/>
<rect x="540.75" y="813.38" width="19.92" height="10.23" fill="#b2d5e7"/>
<rect x="569.73" y="813.38" width="10.26" height="10.23" fill="#b2d5e7"/>
<rect x="579.39" y="813.38" width="10.26" height="10.23" fill="#fddbc7"/>
<rect x="589.05" y="813.38" width="10.26" height="10.23" fill="#f8c0a4"/>
<rect x="598.72" y="813.38" width="10.26" height="10.23" fill="#e4eef4"/>
<rect x="608.38" y="813.38" width="10.26" height="10.23" fill="#fae9df"/>
<rect x="618.04" y="813.38" width="9.66" height="10.23" fill="#f8c0a4"/>
<rect x="376.50" y="823.02" width="10.26" height="10.23" fill="#f8c0a4"/>
<rect x="386.16" y="823.02" width="19.92" height="10.23" fill="#fddbc7"/>
<rect x="405.48" y="823.02" width="29.58" height="10.23" fill="#fae9df"/>
<rect x="434.47" y="823.02" width="10.26" height="10.23" fill="#f7f7f7"/>
<rect x="444.13" y="823.02" width="19.92" height="10.23" fill="#e4eef4"/>
<rect x="463.45" y="823.02" width="39.25" height="10.23" fill="#fae9df"/>
<rect x="502.10" y="823.02" width="10.26" height="10.23" fill="#f7f7f7"/>
<rect x="511.76" y="823.02" width="10.26" height="10.23" fill="#fae9df"/>
<rect x="521.42" y="823.02" width="10.26" height="10.23" fill="#d1e5f0"/>
<rect x="531.08" y="823.02" width="10.26" height="10.23" fill="#fddbc7"/>
<rect x="540.75" y="823.02" width="19.92" height="10.23" fill="#fae9df"/>
<rect x="560.07" y="823.02" width="10.26" height="10.23" fill="#b2d5e7"/>
<rect x="579.39" y="823.02" width="10.26" height="10.23" fill="#92c5de"/>
<rect x="589.05" y="823.02" width="10.26" height="10.23" fill="#d1e5f0"/>
<rect x="598.72" y="823.02" width="19.92" height="10.23" fill="#4393c3"/>
<rect x="618.04" y="823.02" width="9.66" height="10.23" fill="#6aacd0"/>
<rect x="376.50" y="832.65" width="19.92" height="10.23" fill="#d6604d"/>
<rect x="395.82" y="832.65" width="10.26" height="10.23" fill="#e58268"/>
<rect x="405.48" y="832.65" width="10.26" height="10.23" fill="#fddbc7"/>
<rect x="415.15" y="832.65" width="10.26" height="10.23" fill="#fae9df"/>
<rect x="424.81" y="832.65" width="10.26" height="10.23" fill="#f8c0a4"/>
<rect x="434.47" y="832.65" width="10.26" height="10.23" fill="#e4eef4"/>
<rect x="444.13" y="832.65" width="10.26" height="10.23" fill="#f7f7f7"/>
<rect x="453.79" y="832.65" width="10.26" height="10.23" fill="#b2d5e7"/>
<rect x="463.45" y="832.65" width="10.26" height="10.23" fill="#f7f7f7"/>
<rect x="473.12" y="832.65" width="10.26" height="10.23" fill="#fddbc7"/>
<rect x="482.78" y="832.65" width="10.26" height="10.23" fill="#f8c0a4"/>
<rect x="492.44" y="832.65" width="10.26" height="10.23" fill="#e58268"/>
<rect x="502.10" y="832.65" width="10.26" height="10.23" fill="#fddbc7"/>
<rect x="511.76" y="832.65" width="10.26" height="10.23" fill="#f8c0a4"/>
<rect x="521.42" y="832.65" width="10.26" height="10.23" fill="#fddbc7"/>
<rect x="531.08" y="832.65" width="10.26" height="10.23" fill="#fae9df"/>
<rect x="540.75" y="832.65" width="10.26" height="10.23" fill="#b2d5e7"/>
<rect x="550.41" y="832.65" width="10.26" height="10.23" fill="#d1e5f0"/>
<rect x="560.07" y="832.65" width="10.26" height="10.23" fill="#6aacd0"/>
<rect x="569.73" y="832.65" width="10.26" height="10.23" fill="#92c5de"/>
<rect x="589.05" y="832.65" width="10.26" height="10.23" fill="#e58268"/>
<rect x="598.72" y="832.65" width="10.26" height="10.23" fill="#fae9df"/>
<rect x="608.38" y="832.65" width="10.26" height="10.23" fill="#fddbc7"/>
<rect x="618.04" y="832.65" width="9.66" height="10.23" fill="#e58268"/>
<rect x="376.50" y="842.28" width="19.92" height="10.23" fill="#c43c3c"/>
<rect x="395.82" y="842.28" width="10.26" height="10.23" fill="#8c0c25"/>
<rect x="405.48" y="842.28" width="19.92" height="10.23" fill="#fddbc7"/>
<rect x="424.81" y="842.28" width="10.26" height="10.23" fill="#d6604d"/>
<rect x="434.47" y="842.28" width="10.26" height="10.23" fill="#fae9df"/>
<rect x="444.13" y="842.28" width="10.26" height="10.23" fill="#f8c0a4"/>
<rect x="453.79" y="842.28" width="19.92" height="10.23" fill="#92c5de"/>
<rect x="473.12" y="842.28" width="10.26" height="10.23" fill="#f8c0a4"/>
<rect x="482.78" y="842.28" width="10.26" height="10.23" fill="#e4eef4"/>
<rect x="492.44" y="842.28" width="10.26" height="10.23" fill="#e58268"/>
<rect x="502.10" y="842.28" width="19.92" height="10.23" fill="#fddbc7"/>
<rect x="521.42" y="842.28" width="19.92" height="10.23" fill="#e4eef4"/>
<rect x="540.75" y="842.28" width="10.26" height="10.23" fill="#b2d5e7"/>
<rect x="550.41" y="842.28" width="10.26" height="10.23" fill="#e4eef4"/>
<rect x="560.07" y="842.28" width="10.26" height="10.23" fill="#b2d5e7"/>
<rect x="569.73" y="842.28" width="10.26" height="10.23" fill="#e4eef4"/>
<rect x="579.39" y="842.28" width="10.26" height="10.23" fill="#b2d5e7"/>
<rect x="598.72" y="842.28" width="10.26" height="10.23" fill="#fae9df"/>
<rect x="608.38" y="842.28" width="10.26" height="10.23" fill="#fddbc7"/>
<rect x="618.04" y="842.28" width="9.66" height="10.23" fill="#f4a582"/>
<rect x="376.50" y="851.91" width="29.58" height="10.23" fill="#d6604d"/>
<rect x="405.48" y="851.91" width="10.26" height="10.23" fill="#f4a582"/>
<rect x="415.15" y="851.91" width="10.26" height="10.23" fill="#fddbc7"/>
<rect x="424.81" y="851.91" width="10.26" height="10.23" fill="#f8c0a4"/>
<rect x="434.47" y="851.91" width="10.26" height="10.23" fill="#fddbc7"/>
<rect x="444.13" y="851.91" width="19.92" height="10.23" fill="#f7f7f7"/>
<rect x="463.45" y="851.91" width="10.26" height="10.23" fill="#f8c0a4"/>
<rect x="473.12" y="851.91" width="19.92" height="10.23" fill="#fddbc7"/>
<rect x="492.44" y="851.91" width="19.92" height="10.23" fill="#e4eef4"/>
<rect x="511.76" y="851.91" width="10.26" height="10.23" fill="#f4a582"/>
<rect x="521.42" y="851.91" width="10.26" height="10.23" fill="#f7f7f7"/>
<rect x="531.08" y="851.91" width="10.26" height="10.23" fill="#f4a582"/>
<rect x="540.75" y="851.91" width="10.26" height="10.23" fill="#fae9df"/>
<rect x="550.41" y="851.91" width="10.26" height="10.23" fill="#fddbc7"/>
<rect x="560.07" y="851.91" width="10.26" height="10.23" fill="#b2d5e7"/>
<rect x="569.73" y="851.91" width="10.26" height="10.23" fill="#92c5de"/>
<rect x="579.39" y="851.91" width="19.92" height="10.23" fill="#b2d5e7"/>
<rect x="608.38" y="851.91" width="10.26" height="10.23" fill="#2166ac"/>
<rect x="618.04" y="851.91" width="9.66" height="10.23" fill="#d1e5f0"/>
<rect x="376.50" y="861.54" width="10.26" height="10.23" fill="#f4a582"/>
<rect x="386.16" y="861.54" width="10.26" height="10.23" fill="#e58268"/>
<rect x="395.82" y="861.54" width="10.26" height="10.23" fill="#b2182b"/>
<rect x="405.48" y="861.54" width="10.26" height="10.23" fill="#f4a582"/>
<rect x="415.15" y="861.54" width="10.26" height="10.23" fill="#fae9df"/>
<rect x="424.81" y="861.54" width="19.92" height="10.23" fill="#f4a582"/>
<rect x="444.13" y="861.54" width="10.26" height="10.23" fill="#fddbc7"/>
<rect x="453.79" y="861.54" width="10.26" height="10.23" fill="#fae9df"/>
<rect x="463.45" y="861.54" width="29.58" height="10.23" fill="#fddbc7"/>
<rect x="492.44" y="861.54" width="19.92" height="10.23" fill="#fae9df"/>
<rect x="511.76" y="861.54" width="10.26" height="10.23" fill="#f4a582"/>
<rect x="521.42" y="861.54" width="10.26" height="10.23" fill="#d1e5f0"/>
<rect x="531.08" y="861.54" width="10.26" height="10.23" fill="#f8c0a4"/>
<rect x="540.75" y="861.54" width="10.26" height="10.23" fill="#e4eef4"/>
<rect x="550.41" y="861.54" width="10.26" height="10.23" fill="#fae9df"/>
<rect x="560.07" y="861.54" width="10.26" height="10.23" fill="#d1e5f0"/>
<rect x="569.73" y="861.54" width="10.26" height="10.23" fill="#b2d5e7"/>
<rect x="579.39" y="861.54" width="19.92" height="10.23" fill="#e4eef4"/>
<rect x="598.72" y="861.54" width="10.26" height="10.23" fill="#134b86"/>
<rect x="618.04" y="861.54" width="9.66" height="10.23" fill="#6aacd0"/>
<rect x="376.50" y="871.17" width="10.26" height="9.63" fill="#d6604d"/>
<rect x="386.16" y="871.17" width="10.26" height="9.63" fill="#b2182b"/>
<rect x="395.82" y="871.17" width="10.26" height="9.63" fill="#d6604d"/>
<rect x="405.48" y="871.17" width="10.26" height="9.63" fill="#8c0c25"/>
<rect x="415.15" y="871.17" width="19.92" height="9.63" fill="#fae9df"/>
<rect x="434.47" y="871.17" width="10.26" height="9.63" fill="#fddbc7"/>
<rect x="444.13" y="871.17" width="10.26" height="9.63" fill="#d1e5f0"/>
<rect x="453.79" y="871.17" width="10.26" height="9.63" fill="#f8c0a4"/>
<rect x="463.45" y="871.17" width="10.26" height="9.63" fill="#fae9df"/>
<rect x="473.12" y="871.17" width="10.26" height="9.63" fill="#fddbc7"/>
<rect x="482.78" y="871.17" width="10.26" height="9.63" fill="#f7f7f7"/>
<rect x="492.44" y="871.17" width="10.26" height="9.63" fill="#d1e5f0"/>
<rect x="502.10" y="871.17" width="10.26" height="9.63" fill="#e4eef4"/>
<rect x="511.76" y="871.17" width="10.26" height="9.63" fill="#e58268"/>
<rect x="521.42" y="871.17" width="10.26" height="9.63" fill="#fddbc7"/>
<rect x="531.08" y="871.17" width="10.26" height="9.63" fill="#d6604d"/>
<rect x="540.75" y="871.17" width="19.92" height="9.63" fill="#fddbc7"/>
<rect x="560.07" y="871.17" width="10.26" height="9.63" fill="#b2d5e7"/>
<rect x="569.73" y="871.17" width="10.26" height="9.63" fill="#92c5de"/>
<rect x="579.39" y="871.17" width="10.26" height="9.63" fill="#6aacd0"/>
<rect x="589.05" y="871.17" width="19.92" height="9.63" fill="#4393c3"/>
<rect x="608.38" y="871.17" width="10.26" height="9.63" fill="#327cb8"/>
<rect x="376.50" y="630.40" width="251.20" height="250.40" fill="none" stroke="#3a3a3a" stroke-width="0.7"/>
<rect x="376.50" y="630.40" width="9.66" height="9.63" fill="#fff" stroke="#444" stroke-width="0.75"/>
<rect x="377.65" y="631.55" width="7.36" height="7.33" fill="#f4f4f4"/>
<rect x="386.16" y="640.03" width="9.66" height="9.63" fill="#fff" stroke="#444" stroke-width="0.75"/>
<rect x="387.31" y="641.18" width="7.36" height="7.33" fill="#f4f4f4"/>
<rect x="395.82" y="649.66" width="9.66" height="9.63" fill="#fff" stroke="#444" stroke-width="0.75"/>
<rect x="396.97" y="650.81" width="7.36" height="7.33" fill="#f4f4f4"/>
<rect x="405.48" y="659.29" width="9.66" height="9.63" fill="#fff" stroke="#444" stroke-width="0.75"/>
<rect x="406.63" y="660.44" width="7.36" height="7.33" fill="#f4f4f4"/>
<rect x="415.15" y="668.92" width="9.66" height="9.63" fill="#fff" stroke="#444" stroke-width="0.75"/>
<rect x="416.30" y="670.07" width="7.36" height="7.33" fill="#f4f4f4"/>
<rect x="424.81" y="678.55" width="9.66" height="9.63" fill="#fff" stroke="#444" stroke-width="0.75"/>
<rect x="425.96" y="679.70" width="7.36" height="7.33" fill="#f4f4f4"/>
<rect x="434.47" y="688.18" width="9.66" height="9.63" fill="#fff" stroke="#444" stroke-width="0.75"/>
<rect x="435.62" y="689.33" width="7.36" height="7.33" fill="#f4f4f4"/>
<rect x="444.13" y="697.82" width="9.66" height="9.63" fill="#fff" stroke="#444" stroke-width="0.75"/>
<rect x="445.28" y="698.97" width="7.36" height="7.33" fill="#f4f4f4"/>
<rect x="453.79" y="707.45" width="9.66" height="9.63" fill="#fff" stroke="#444" stroke-width="0.75"/>
<rect x="454.94" y="708.60" width="7.36" height="7.33" fill="#f4f4f4"/>
<rect x="463.45" y="717.08" width="9.66" height="9.63" fill="#fff" stroke="#444" stroke-width="0.75"/>
<rect x="464.60" y="718.23" width="7.36" height="7.33" fill="#f4f4f4"/>
<rect x="473.12" y="726.71" width="9.66" height="9.63" fill="#fff" stroke="#444" stroke-width="0.75"/>
<rect x="474.27" y="727.86" width="7.36" height="7.33" fill="#f4f4f4"/>
<rect x="482.78" y="736.34" width="9.66" height="9.63" fill="#fff" stroke="#444" stroke-width="0.75"/>
<rect x="483.93" y="737.49" width="7.36" height="7.33" fill="#f4f4f4"/>
<rect x="492.44" y="745.97" width="9.66" height="9.63" fill="#fff" stroke="#444" stroke-width="0.75"/>
<rect x="493.59" y="747.12" width="7.36" height="7.33" fill="#f4f4f4"/>
<rect x="502.10" y="755.60" width="9.66" height="9.63" fill="#fff" stroke="#444" stroke-width="0.75"/>
<rect x="503.25" y="756.75" width="7.36" height="7.33" fill="#f4f4f4"/>
<rect x="511.76" y="765.23" width="9.66" height="9.63" fill="#fff" stroke="#444" stroke-width="0.75"/>
<rect x="512.91" y="766.38" width="7.36" height="7.33" fill="#f4f4f4"/>
<rect x="521.42" y="774.86" width="9.66" height="9.63" fill="#fff" stroke="#444" stroke-width="0.75"/>
<rect x="522.57" y="776.01" width="7.36" height="7.33" fill="#f4f4f4"/>
<rect x="531.08" y="784.49" width="9.66" height="9.63" fill="#fff" stroke="#444" stroke-width="0.75"/>
<rect x="532.23" y="785.64" width="7.36" height="7.33" fill="#f4f4f4"/>
<rect x="540.75" y="794.12" width="9.66" height="9.63" fill="#fff" stroke="#444" stroke-width="0.75"/>
<rect x="541.90" y="795.27" width="7.36" height="7.33" fill="#f4f4f4"/>
<rect x="550.41" y="803.75" width="9.66" height="9.63" fill="#fff" stroke="#444" stroke-width="0.75"/>
<rect x="551.56" y="804.90" width="7.36" height="7.33" fill="#f4f4f4"/>
<rect x="560.07" y="813.38" width="9.66" height="9.63" fill="#fff" stroke="#444" stroke-width="0.75"/>
<rect x="561.22" y="814.53" width="7.36" height="7.33" fill="#f4f4f4"/>
<rect x="569.73" y="823.02" width="9.66" height="9.63" fill="#fff" stroke="#444" stroke-width="0.75"/>
<rect x="570.88" y="824.17" width="7.36" height="7.33" fill="#f4f4f4"/>
<rect x="579.39" y="832.65" width="9.66" height="9.63" fill="#fff" stroke="#444" stroke-width="0.75"/>
<rect x="580.54" y="833.80" width="7.36" height="7.33" fill="#f4f4f4"/>
<rect x="589.05" y="842.28" width="9.66" height="9.63" fill="#fff" stroke="#444" stroke-width="0.75"/>
<rect x="590.20" y="843.43" width="7.36" height="7.33" fill="#f4f4f4"/>
<rect x="598.72" y="851.91" width="9.66" height="9.63" fill="#fff" stroke="#444" stroke-width="0.75"/>
<rect x="599.87" y="853.06" width="7.36" height="7.33" fill="#f4f4f4"/>
<rect x="608.38" y="861.54" width="9.66" height="9.63" fill="#fff" stroke="#444" stroke-width="0.75"/>
<rect x="609.53" y="862.69" width="7.36" height="7.33" fill="#f4f4f4"/>
<rect x="618.04" y="871.17" width="9.66" height="9.63" fill="#fff" stroke="#444" stroke-width="0.75"/>
<rect x="619.19" y="872.32" width="7.36" height="7.33" fill="#f4f4f4"/>
<text class="y" transform="translate(370.2 637.17) scale(.925 1)">VIS A</text>
<text class="x" transform="translate(384.73 889.00) rotate(-45) scale(.925 1)">VIS A</text>
<text class="y" transform="translate(370.2 646.80) scale(.925 1)">VIS B</text>
<text class="x" transform="translate(394.39 889.00) rotate(-45) scale(.925 1)">VIS B</text>
<text class="y" transform="translate(370.2 656.43) scale(.925 1)">SMN A</text>
<text class="x" transform="translate(404.05 889.00) rotate(-45) scale(.925 1)">SMN A</text>
<text class="y" transform="translate(370.2 666.06) scale(.925 1)">SMN B</text>
<text class="x" transform="translate(413.72 889.00) rotate(-45) scale(.925 1)">SMN B</text>
<text class="y" transform="translate(370.2 675.69) scale(.925 1)">DAN A</text>
<text class="x" transform="translate(423.38 889.00) rotate(-45) scale(.925 1)">DAN A</text>
<text class="y" transform="translate(370.2 685.32) scale(.925 1)">DAN B</text>
<text class="x" transform="translate(433.04 889.00) rotate(-45) scale(.925 1)">DAN B</text>
<text class="y" transform="translate(370.2 694.95) scale(.925 1)">SAL A</text>
<text class="x" transform="translate(442.70 889.00) rotate(-45) scale(.925 1)">SAL A</text>
<text class="y" transform="translate(370.2 704.58) scale(.925 1)">SAL B</text>
<text class="x" transform="translate(452.36 889.00) rotate(-45) scale(.925 1)">SAL B</text>
<text class="y" transform="translate(370.2 714.21) scale(.925 1)">LIM B</text>
<text class="x" transform="translate(462.02 889.00) rotate(-45) scale(.925 1)">LIM B</text>
<text class="y" transform="translate(370.2 723.84) scale(.925 1)">LIM A</text>
<text class="x" transform="translate(471.68 889.00) rotate(-45) scale(.925 1)">LIM A</text>
<text class="y" transform="translate(370.2 733.47) scale(.925 1)">FPN A</text>
<text class="x" transform="translate(481.35 889.00) rotate(-45) scale(.925 1)">FPN A</text>
<text class="y" transform="translate(370.2 743.10) scale(.925 1)">FPN B</text>
<text class="x" transform="translate(491.01 889.00) rotate(-45) scale(.925 1)">FPN B</text>
<text class="y" transform="translate(370.2 752.73) scale(.925 1)">FPN C</text>
<text class="x" transform="translate(500.67 889.00) rotate(-45) scale(.925 1)">FPN C</text>
<text class="y" transform="translate(370.2 762.37) scale(.925 1)">DN A</text>
<text class="x" transform="translate(510.33 889.00) rotate(-45) scale(.925 1)">DN A</text>
<text class="y" transform="translate(370.2 772.00) scale(.925 1)">DN B</text>
<text class="x" transform="translate(519.99 889.00) rotate(-45) scale(.925 1)">DN B</text>
<text class="y" transform="translate(370.2 781.63) scale(.925 1)">DN C</text>
<text class="x" transform="translate(529.65 889.00) rotate(-45) scale(.925 1)">DN C</text>
<text class="y" transform="translate(370.2 791.26) scale(.925 1)">TPar</text>
<text class="x" transform="translate(539.32 889.00) rotate(-45) scale(.925 1)">TPar</text>
<text class="y" transform="translate(370.2 800.89) scale(.925 1)">HIP</text>
<text class="x" transform="translate(548.98 889.00) rotate(-45) scale(.925 1)">HIP</text>
<text class="y" transform="translate(370.2 810.52) scale(.925 1)">AMY</text>
<text class="x" transform="translate(558.64 889.00) rotate(-45) scale(.925 1)">AMY</text>
<text class="y" transform="translate(370.2 820.15) scale(.925 1)">NAc</text>
<text class="x" transform="translate(568.30 889.00) rotate(-45) scale(.925 1)">NAc</text>
<text class="y" transform="translate(370.2 829.78) scale(.925 1)">GP</text>
<text class="x" transform="translate(577.96 889.00) rotate(-45) scale(.925 1)">GP</text>
<text class="y" transform="translate(370.2 839.41) scale(.925 1)">PUT</text>
<text class="x" transform="translate(587.62 889.00) rotate(-45) scale(.925 1)">PUT</text>
<text class="y" transform="translate(370.2 849.04) scale(.925 1)">CAU</text>
<text class="x" transform="translate(597.28 889.00) rotate(-45) scale(.925 1)">CAU</text>
<text class="y" transform="translate(370.2 858.67) scale(.925 1)">vTHA</text>
<text class="x" transform="translate(606.95 889.00) rotate(-45) scale(.925 1)">vTHA</text>
<text class="y" transform="translate(370.2 868.30) scale(.925 1)">dTHA</text>
<text class="x" transform="translate(616.61 889.00) rotate(-45) scale(.925 1)">dTHA</text>
<text class="y" transform="translate(370.2 877.93) scale(.925 1)">CEREB</text>
<text class="x" transform="translate(626.27 889.00) rotate(-45) scale(.925 1)">CEREB</text>
<path d="M376.10 635.22h-3.4M381.33 881.20v3.4M376.10 644.85h-3.4M390.99 881.20v3.4M376.10 654.48h-3.4M400.65 881.20v3.4M376.10 664.11h-3.4M410.32 881.20v3.4M376.10 673.74h-3.4M419.98 881.20v3.4M376.10 683.37h-3.4M429.64 881.20v3.4M376.10 693.00h-3.4M439.30 881.20v3.4M376.10 702.63h-3.4M448.96 881.20v3.4M376.10 712.26h-3.4M458.62 881.20v3.4M376.10 721.89h-3.4M468.28 881.20v3.4M376.10 731.52h-3.4M477.95 881.20v3.4M376.10 741.15h-3.4M487.61 881.20v3.4M376.10 750.78h-3.4M497.27 881.20v3.4M376.10 760.42h-3.4M506.93 881.20v3.4M376.10 770.05h-3.4M516.59 881.20v3.4M376.10 779.68h-3.4M526.25 881.20v3.4M376.10 789.31h-3.4M535.92 881.20v3.4M376.10 798.94h-3.4M545.58 881.20v3.4M376.10 808.57h-3.4M555.24 881.20v3.4M376.10 818.20h-3.4M564.90 881.20v3.4M376.10 827.83h-3.4M574.56 881.20v3.4M376.10 837.46h-3.4M584.22 881.20v3.4M376.10 847.09h-3.4M593.88 881.20v3.4M376.10 856.72h-3.4M603.55 881.20v3.4M376.10 866.35h-3.4M613.21 881.20v3.4M376.10 875.98h-3.4M622.87 881.20v3.4" stroke="#333" stroke-width="0.7" fill="none"/>
<rect x="634.20" y="630.40" width="9.60" height="250.40" fill="url(#g)" stroke="#777" stroke-width="0.7"/>
<text class="c" transform="translate(650.6 632.75) scale(1.09 1)">0.100</text>
<text class="c" transform="translate(650.6 664.05) scale(1.09 1)">0.075</text>
<text class="c" transform="translate(650.6 695.35) scale(1.09 1)">0.050</text>
<text class="c" transform="translate(650.6 726.65) scale(1.09 1)">0.025</text>
<text class="c" transform="translate(650.6 757.95) scale(1.09 1)">0</text>
<text class="c" transform="translate(650.6 789.25) scale(1.09 1)">−0.025</text>
<text class="c" transform="translate(650.6 820.55) scale(1.09 1)">−0.050</text>
<text class="c" transform="translate(650.6 851.85) scale(1.09 1)">−0.075</text>
<text class="c" transform="translate(650.6 883.15) scale(1.09 1)">−0.100</text>
<path d="M643.80 630.40h3.6M643.80 661.70h3.6M643.80 693.00h3.6M643.80 724.30h3.6M643.80 755.60h3.6M643.80 786.90h3.6M643.80 818.20h3.6M643.80 849.50h3.6M643.80 880.80h3.6" stroke="#333" stroke-width="0.7" fill="none"/>
<text class="l" transform="translate(679.20 755.60) rotate(90) scale(1.11 1)">FC change</text>
</g>
</svg></body></html>
